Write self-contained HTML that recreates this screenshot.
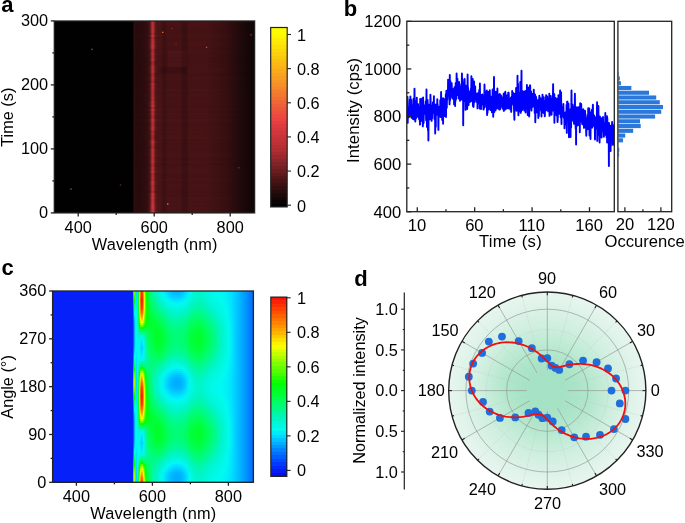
<!DOCTYPE html>
<html><head><meta charset="utf-8"><style>
html,body{margin:0;padding:0;background:#fff;}
body{width:685px;height:523px;position:relative;overflow:hidden;font-family:"Liberation Sans",sans-serif;}
.hm{position:absolute;}
.hm div{position:absolute;left:0;width:100%;}
.cb{position:absolute;}
svg{position:absolute;left:0;top:0;will-change:transform;}
svg text{font-family:"Liberation Sans",sans-serif;fill:#000;}
</style></head><body>
<div class="hm" style="left:54.3px;top:0;width:200.3px;height:0"><div style="top:21.00px;height:2.60px;background:linear-gradient(90deg,#020101 0.00%,#020101 0.85%,#020101 4.84%,#020101 8.84%,#020101 12.83%,#020101 16.82%,#020101 20.82%,#020101 24.81%,#020101 28.81%,#020101 32.80%,#020101 36.79%,#020101 39.49%,#320d0f 39.64%,#461315 39.84%,#2d0c0e 40.09%,#280b0d 40.79%,#290b0d 41.79%,#2a0b0d 42.79%,#2b0b0d 43.78%,#2d0c0e 44.78%,#300d0f 45.78%,#380f11 46.78%,#3b1012 47.03%,#501517 47.68%,#752022 48.18%,#ad2d32 48.63%,#c33237 49.15%,#ad2d32 49.68%,#752022 50.12%,#59181a 50.62%,#4d1517 51.27%,#491416 52.77%,#491315 53.27%,#3a0f11 54.52%,#3f1113 55.52%,#401113 55.77%,#461315 56.71%,#461315 56.76%,#461315 56.81%,#461315 58.76%,#461315 61.76%,#461315 62.76%,#3c1012 63.75%,#3b1012 64.75%,#3a0f11 65.75%,#3d1012 66.20%,#3e1113 66.30%,#461315 67.25%,#461315 67.75%,#461315 70.74%,#461315 73.74%,#461315 75.24%,#441214 76.73%,#3f1113 79.73%,#3f1113 80.23%,#3b1012 82.73%,#370f11 85.22%,#360e10 85.72%,#2d0c0e 88.72%,#240a0b 91.71%,#21090a 92.71%,#1b0809 94.71%,#170707 96.21%,#140606 97.70%,#0f0505 100.00%)"></div><div style="top:23.00px;height:2.60px;background:linear-gradient(90deg,#020101 0.00%,#020101 0.85%,#020101 4.84%,#020101 8.84%,#020101 12.83%,#020101 16.82%,#020101 20.82%,#020101 24.81%,#020101 28.81%,#020101 32.80%,#020101 36.79%,#020101 39.49%,#320d0f 39.64%,#471315 39.84%,#2d0c0e 40.09%,#280b0d 40.79%,#290b0d 41.79%,#2a0b0d 42.79%,#2b0b0d 43.78%,#2d0c0e 44.78%,#300d0f 45.78%,#380f11 46.78%,#3a0f11 47.03%,#4b1416 47.68%,#6e1e20 48.18%,#a22a2f 48.63%,#bc3035 49.15%,#a22a2f 49.68%,#6e1e20 50.12%,#541618 50.62%,#4b1416 51.27%,#4a1416 52.77%,#491315 53.27%,#3a0f11 54.52%,#3f1113 55.52%,#401113 55.77%,#461315 56.71%,#471315 56.76%,#471315 56.81%,#471315 58.76%,#471315 61.76%,#471315 62.76%,#3c1012 63.75%,#3b1012 64.75%,#3a0f11 65.75%,#3e1012 66.20%,#3f1113 66.30%,#471315 67.25%,#471315 67.75%,#471315 70.74%,#471315 73.74%,#471315 75.24%,#441214 76.73%,#401113 79.73%,#3f1113 80.23%,#3b1012 82.73%,#370f11 85.22%,#360e10 85.72%,#2d0c0e 88.72%,#240a0b 91.71%,#21090a 92.71%,#1b0809 94.71%,#170707 96.21%,#140606 97.70%,#0f0505 100.00%)"></div><div style="top:25.00px;height:2.60px;background:linear-gradient(90deg,#020101 0.00%,#020101 0.85%,#020101 4.84%,#020101 8.84%,#020101 12.83%,#020101 16.82%,#020101 20.82%,#020101 24.81%,#020101 28.81%,#020101 32.80%,#020101 36.79%,#020101 39.49%,#320d0f 39.64%,#461315 39.84%,#2d0c0e 40.09%,#280b0c 40.79%,#290b0d 41.79%,#290b0d 42.79%,#2a0b0d 43.78%,#2d0c0e 44.78%,#2f0d0f 45.78%,#370f11 46.78%,#3a0f11 47.03%,#4d1517 47.68%,#711f21 48.18%,#a72b30 48.63%,#bf3136 49.15%,#a72b30 49.68%,#711f21 50.12%,#561719 50.62%,#4c1416 51.27%,#491315 52.77%,#481315 53.27%,#390f11 54.52%,#3e1113 55.52%,#401113 55.77%,#451214 56.71%,#461315 56.76%,#461315 56.81%,#461315 58.76%,#461315 61.76%,#461315 62.76%,#3c1012 63.75%,#3a1012 64.75%,#390f11 65.75%,#3d1012 66.20%,#3e1012 66.30%,#461315 67.25%,#461315 67.75%,#461315 70.74%,#461315 73.74%,#461315 75.24%,#431214 76.73%,#3f1113 79.73%,#3e1113 80.23%,#3a1012 82.73%,#370f11 85.22%,#350e10 85.72%,#2d0c0e 88.72%,#230a0b 91.71%,#20090a 92.71%,#1b0808 94.71%,#160707 96.21%,#130606 97.70%,#0f0505 100.00%)"></div><div style="top:27.00px;height:2.60px;background:linear-gradient(90deg,#020101 0.00%,#020101 0.85%,#020101 4.84%,#020101 8.84%,#020101 12.83%,#020101 16.82%,#020101 20.82%,#020101 24.81%,#020101 28.81%,#020101 32.80%,#020101 36.79%,#020101 39.49%,#310d0f 39.64%,#441214 39.84%,#2c0c0e 40.09%,#270b0c 40.79%,#280b0c 41.79%,#290b0d 42.79%,#2a0b0d 43.78%,#2c0c0e 44.78%,#2e0c0e 45.78%,#360e10 46.78%,#390f11 47.03%,#4d1517 47.68%,#711f21 48.18%,#a62b30 48.63%,#bf3136 49.15%,#a62b30 49.68%,#711f21 50.12%,#561719 50.62%,#4b1416 51.27%,#471315 52.77%,#471315 53.27%,#380f11 54.52%,#3d1012 55.52%,#3f1113 55.77%,#441214 56.71%,#441214 56.76%,#441214 56.81%,#441214 58.76%,#441214 61.76%,#441214 62.76%,#3b1012 63.75%,#390f11 64.75%,#380f11 65.75%,#3c1012 66.20%,#3d1012 66.30%,#441214 67.25%,#441214 67.75%,#441214 70.74%,#441214 73.74%,#441214 75.24%,#421214 76.73%,#3e1012 79.73%,#3d1012 80.23%,#390f11 82.73%,#360e10 85.22%,#340e10 85.72%,#2c0c0e 88.72%,#230a0b 91.71%,#20090a 92.71%,#1a0808 94.71%,#160707 96.21%,#130606 97.70%,#0f0505 100.00%)"></div><div style="top:29.00px;height:2.60px;background:linear-gradient(90deg,#020101 0.00%,#020101 0.85%,#020101 4.84%,#020101 8.84%,#020101 12.83%,#020101 16.82%,#020101 20.82%,#020101 24.81%,#020101 28.81%,#020101 32.80%,#020101 36.79%,#020101 39.49%,#310d0f 39.64%,#451214 39.84%,#2c0c0e 40.09%,#280b0c 40.79%,#280b0d 41.79%,#290b0d 42.79%,#2a0b0d 43.78%,#2c0c0e 44.78%,#2f0d0f 45.78%,#370f11 46.78%,#3a0f11 47.03%,#4e1517 47.68%,#731f22 48.18%,#a92c31 48.63%,#c13136 49.15%,#a92c31 49.68%,#731f22 50.12%,#571719 50.62%,#4c1416 51.27%,#481315 52.77%,#481315 53.27%,#390f11 54.52%,#3e1012 55.52%,#3f1113 55.77%,#451214 56.71%,#451214 56.76%,#451214 56.81%,#451214 58.76%,#451214 61.76%,#451214 62.76%,#3b1012 63.75%,#3a0f11 64.75%,#390f11 65.75%,#3d1012 66.20%,#3d1012 66.30%,#451214 67.25%,#451214 67.75%,#451214 70.74%,#451214 73.74%,#451214 75.24%,#431214 76.73%,#3f1113 79.73%,#3e1012 80.23%,#3a0f11 82.73%,#360e10 85.22%,#350e10 85.72%,#2c0c0e 88.72%,#230a0b 91.71%,#20090a 92.71%,#1a0808 94.71%,#160707 96.21%,#130606 97.70%,#0f0505 100.00%)"></div><div style="top:30.99px;height:2.60px;background:linear-gradient(90deg,#020101 0.00%,#020101 0.85%,#020101 4.84%,#020101 8.84%,#020101 12.83%,#020101 16.82%,#020101 20.82%,#020101 24.81%,#020101 28.81%,#020101 32.80%,#020101 36.79%,#020101 39.49%,#310d0f 39.64%,#441214 39.84%,#2c0c0e 40.09%,#270b0c 40.79%,#280b0c 41.79%,#290b0d 42.79%,#290b0d 43.78%,#2c0c0e 44.78%,#2e0c0e 45.78%,#360e10 46.78%,#390f11 47.03%,#4d1517 47.68%,#721f21 48.18%,#a72b30 48.63%,#c03136 49.15%,#a72b30 49.68%,#721f21 50.12%,#561719 50.62%,#4b1416 51.27%,#471315 52.77%,#471315 53.27%,#380f11 54.52%,#3d1012 55.52%,#3e1113 55.77%,#441214 56.71%,#441214 56.76%,#441214 56.81%,#441214 58.76%,#441214 61.76%,#441214 62.76%,#3b1012 63.75%,#390f11 64.75%,#380f11 65.75%,#3c1012 66.20%,#3d1012 66.30%,#441214 67.25%,#441214 67.75%,#441214 70.74%,#441214 73.74%,#441214 75.24%,#421214 76.73%,#3e1012 79.73%,#3d1012 80.23%,#390f11 82.73%,#360e10 85.22%,#340e10 85.72%,#2c0c0e 88.72%,#230a0b 91.71%,#20090a 92.71%,#1a0808 94.71%,#160707 96.21%,#130606 97.70%,#0f0505 100.00%)"></div><div style="top:32.99px;height:2.60px;background:linear-gradient(90deg,#020101 0.00%,#020101 0.85%,#020101 4.84%,#020101 8.84%,#020101 12.83%,#020101 16.82%,#020101 20.82%,#020101 24.81%,#020101 28.81%,#020101 32.80%,#020101 36.79%,#020101 39.49%,#320d0f 39.64%,#461315 39.84%,#2d0c0e 40.09%,#280b0d 40.79%,#290b0d 41.79%,#2a0b0d 42.79%,#2b0b0d 43.78%,#2d0c0e 44.78%,#300d0f 45.78%,#380f11 46.78%,#390f11 47.03%,#491315 47.68%,#6b1d1f 48.18%,#9e2a2e 48.63%,#b93035 49.15%,#9e2a2e 49.68%,#6b1d1f 50.12%,#521618 50.62%,#4a1416 51.27%,#491416 52.77%,#491315 53.27%,#3a0f11 54.52%,#3f1113 55.52%,#401113 55.77%,#461315 56.71%,#461315 56.76%,#461315 56.81%,#461315 58.76%,#461315 61.76%,#461315 62.76%,#3c1012 63.75%,#3b1012 64.75%,#3a0f11 65.75%,#3d1012 66.20%,#3e1113 66.30%,#461315 67.25%,#461315 67.75%,#461315 70.74%,#461315 73.74%,#461315 75.24%,#441214 76.73%,#3f1113 79.73%,#3f1113 80.23%,#3b1012 82.73%,#370f11 85.22%,#360e10 85.72%,#2d0c0e 88.72%,#240a0b 91.71%,#21090a 92.71%,#1b0809 94.71%,#170707 96.21%,#140606 97.70%,#0f0505 100.00%)"></div><div style="top:34.99px;height:2.60px;background:linear-gradient(90deg,#020101 0.00%,#020101 0.85%,#020101 4.84%,#020101 8.84%,#020101 12.83%,#020101 16.82%,#020101 20.82%,#020101 24.81%,#020101 28.81%,#020101 32.80%,#020101 36.79%,#020101 39.49%,#340e10 39.64%,#481315 39.84%,#2f0c0e 40.09%,#290b0d 40.79%,#2a0b0d 41.79%,#2b0c0d 42.79%,#2c0c0e 43.78%,#2f0c0e 44.78%,#310d0f 45.78%,#390f11 46.78%,#3d1012 47.03%,#561719 47.68%,#7d2225 48.18%,#b52e33 48.63%,#cb3439 49.15%,#b52e33 49.68%,#7d2225 50.12%,#5f1a1c 50.62%,#511618 51.27%,#4c1416 52.77%,#4b1416 53.27%,#3b1012 54.52%,#411113 55.52%,#421214 55.77%,#481315 56.71%,#481315 56.76%,#481315 56.81%,#481315 58.76%,#481315 61.76%,#481315 62.76%,#3e1113 63.75%,#3d1012 64.75%,#3b1012 65.75%,#3f1113 66.20%,#401113 66.30%,#481315 67.25%,#481315 67.75%,#481315 70.74%,#481315 73.74%,#481315 75.24%,#461315 76.73%,#411113 79.73%,#411113 80.23%,#3d1012 82.73%,#390f11 85.22%,#370f11 85.72%,#2f0c0e 88.72%,#250a0c 91.71%,#22090b 92.71%,#1c0809 94.71%,#170707 96.21%,#140607 97.70%,#100505 100.00%)"></div><div style="top:36.99px;height:2.60px;background:linear-gradient(90deg,#020101 0.00%,#020101 0.85%,#020101 4.84%,#020101 8.84%,#020101 12.83%,#020101 16.82%,#020101 20.82%,#020101 24.81%,#020101 28.81%,#020101 32.80%,#020101 36.79%,#020101 39.49%,#310d0f 39.64%,#451214 39.84%,#2c0c0e 40.09%,#280b0c 40.79%,#280b0d 41.79%,#290b0d 42.79%,#2a0b0d 43.78%,#2c0c0e 44.78%,#2f0d0f 45.78%,#370f11 46.78%,#370f11 47.03%,#451214 47.68%,#631b1d 48.18%,#92272b 48.63%,#b22e33 49.15%,#92272b 49.68%,#631b1d 50.12%,#4c1416 50.62%,#481315 51.27%,#481315 52.77%,#481315 53.27%,#390f11 54.52%,#3e1012 55.52%,#3f1113 55.77%,#451214 56.71%,#451214 56.76%,#451214 56.81%,#451214 58.76%,#451214 61.76%,#451214 62.76%,#3b1012 63.75%,#3a0f11 64.75%,#390f11 65.75%,#3c1012 66.20%,#3d1012 66.30%,#451214 67.25%,#451214 67.75%,#451214 70.74%,#451214 73.74%,#451214 75.24%,#431214 76.73%,#3e1113 79.73%,#3e1012 80.23%,#3a0f11 82.73%,#360e10 85.22%,#350e10 85.72%,#2c0c0e 88.72%,#230a0b 91.71%,#20090a 92.71%,#1a0808 94.71%,#160707 96.21%,#130606 97.70%,#0f0505 100.00%)"></div><div style="top:38.99px;height:2.60px;background:linear-gradient(90deg,#020101 0.00%,#020101 0.85%,#020101 4.84%,#020101 8.84%,#020101 12.83%,#020101 16.82%,#020101 20.82%,#020101 24.81%,#020101 28.81%,#020101 32.80%,#020101 36.79%,#020101 39.49%,#310d0f 39.64%,#451214 39.84%,#2c0c0e 40.09%,#270b0c 40.79%,#280b0d 41.79%,#290b0d 42.79%,#2a0b0d 43.78%,#2c0c0e 44.78%,#2f0c0e 45.78%,#370f11 46.78%,#3a0f11 47.03%,#4e1517 47.68%,#721f21 48.18%,#a92c31 48.63%,#c13136 49.15%,#a92c31 49.68%,#721f21 50.12%,#571719 50.62%,#4c1416 51.27%,#481315 52.77%,#471315 53.27%,#390f11 54.52%,#3e1012 55.52%,#3f1113 55.77%,#451214 56.71%,#451214 56.76%,#451214 56.81%,#451214 58.76%,#451214 61.76%,#451214 62.76%,#3b1012 63.75%,#3a0f11 64.75%,#390f11 65.75%,#3c1012 66.20%,#3d1012 66.30%,#451214 67.25%,#451214 67.75%,#451214 70.74%,#451214 73.74%,#451214 75.24%,#431214 76.73%,#3e1113 79.73%,#3e1012 80.23%,#3a0f11 82.73%,#360e10 85.22%,#350e10 85.72%,#2c0c0e 88.72%,#230a0b 91.71%,#20090a 92.71%,#1a0808 94.71%,#160707 96.21%,#130606 97.70%,#0f0505 100.00%)"></div><div style="top:40.99px;height:2.60px;background:linear-gradient(90deg,#020101 0.00%,#020101 0.85%,#020101 4.84%,#020101 8.84%,#020101 12.83%,#020101 16.82%,#020101 20.82%,#020101 24.81%,#020101 28.81%,#020101 32.80%,#020101 36.79%,#020101 39.49%,#330d0f 39.64%,#471315 39.84%,#2e0c0e 40.09%,#280b0d 40.79%,#290b0d 41.79%,#2a0b0d 42.79%,#2b0c0d 43.78%,#2e0c0e 44.78%,#300d0f 45.78%,#380f11 46.78%,#3b1012 47.03%,#4f1517 47.68%,#731f22 48.18%,#aa2c31 48.63%,#c13237 49.15%,#aa2c31 49.68%,#731f22 50.12%,#57181a 50.62%,#4d1517 51.27%,#4a1416 52.77%,#491416 53.27%,#3a1012 54.52%,#3f1113 55.52%,#411113 55.77%,#471315 56.71%,#471315 56.76%,#471315 56.81%,#471315 58.76%,#471315 61.76%,#471315 62.76%,#3d1012 63.75%,#3b1012 64.75%,#3a1012 65.75%,#3e1113 66.20%,#3f1113 66.30%,#471315 67.25%,#471315 67.75%,#471315 70.74%,#471315 73.74%,#471315 75.24%,#451214 76.73%,#401113 79.73%,#3f1113 80.23%,#3b1012 82.73%,#380f11 85.22%,#360e10 85.72%,#2e0c0e 88.72%,#240a0b 91.71%,#21090a 92.71%,#1b0809 94.71%,#170707 96.21%,#140606 97.70%,#0f0505 100.00%)"></div><div style="top:42.99px;height:2.60px;background:linear-gradient(90deg,#020101 0.00%,#020101 0.85%,#020101 4.84%,#020101 8.84%,#020101 12.83%,#020101 16.82%,#020101 20.82%,#020101 24.81%,#020101 28.81%,#020101 32.80%,#020101 36.79%,#020101 39.49%,#320d0f 39.64%,#471315 39.84%,#2d0c0e 40.09%,#280b0d 40.79%,#290b0d 41.79%,#2a0b0d 42.79%,#2b0c0d 43.78%,#2d0c0e 44.78%,#300d0f 45.78%,#380f11 46.78%,#3b1012 47.03%,#501618 47.68%,#752022 48.18%,#ae2d32 48.63%,#c43237 49.15%,#ae2d32 49.68%,#752022 50.12%,#59181a 50.62%,#4e1517 51.27%,#4a1416 52.77%,#491416 53.27%,#3a0f11 54.52%,#3f1113 55.52%,#411113 55.77%,#461315 56.71%,#471315 56.76%,#471315 56.81%,#471315 58.76%,#471315 61.76%,#471315 62.76%,#3d1012 63.75%,#3b1012 64.75%,#3a0f11 65.75%,#3e1012 66.20%,#3f1113 66.30%,#471315 67.25%,#471315 67.75%,#471315 70.74%,#471315 73.74%,#471315 75.24%,#441214 76.73%,#401113 79.73%,#3f1113 80.23%,#3b1012 82.73%,#370f11 85.22%,#360e10 85.72%,#2d0c0e 88.72%,#240a0b 91.71%,#21090a 92.71%,#1b0809 94.71%,#170707 96.21%,#140606 97.70%,#0f0505 100.00%)"></div><div style="top:44.99px;height:2.60px;background:linear-gradient(90deg,#020101 0.00%,#020101 0.85%,#020101 4.84%,#020101 8.84%,#020101 12.83%,#020101 16.82%,#020101 20.82%,#020101 24.81%,#020101 28.81%,#020101 32.80%,#020101 36.79%,#020101 39.49%,#320d0f 39.64%,#461315 39.84%,#2d0c0e 40.09%,#280b0d 40.79%,#290b0d 41.79%,#2a0b0d 42.79%,#2b0b0d 43.78%,#2d0c0e 44.78%,#300d0f 45.78%,#380f11 46.78%,#3c1012 47.03%,#551719 47.68%,#7c2225 48.18%,#b32e33 48.63%,#c93439 49.15%,#b32e33 49.68%,#7c2225 50.12%,#5e191b 50.62%,#4f1517 51.27%,#491416 52.77%,#491315 53.27%,#3a0f11 54.52%,#3f1113 55.52%,#401113 55.77%,#461315 56.71%,#461315 56.76%,#461315 56.81%,#461315 58.76%,#461315 61.76%,#461315 62.76%,#3c1012 63.75%,#3b1012 64.75%,#3a0f11 65.75%,#3d1012 66.20%,#3e1113 66.30%,#461315 67.25%,#461315 67.75%,#461315 70.74%,#461315 73.74%,#461315 75.24%,#441214 76.73%,#3f1113 79.73%,#3f1113 80.23%,#3b1012 82.73%,#370f11 85.22%,#360e10 85.72%,#2d0c0e 88.72%,#240a0b 91.71%,#21090a 92.71%,#1b0809 94.71%,#170707 96.21%,#140606 97.70%,#0f0505 100.00%)"></div><div style="top:46.99px;height:2.60px;background:linear-gradient(90deg,#020101 0.00%,#020101 0.85%,#020101 4.84%,#020101 8.84%,#020101 12.83%,#020101 16.82%,#020101 20.82%,#020101 24.81%,#020101 28.81%,#020101 32.80%,#020101 36.79%,#020101 39.49%,#310d0f 39.64%,#441214 39.84%,#2c0c0e 40.09%,#270b0c 40.79%,#280b0c 41.79%,#290b0d 42.79%,#2a0b0d 43.78%,#2c0c0e 44.78%,#2e0c0e 45.78%,#360e10 46.78%,#3a0f11 47.03%,#501618 47.68%,#762023 48.18%,#ae2d32 48.63%,#c43237 49.15%,#ae2d32 49.68%,#762023 50.12%,#59181a 50.62%,#4c1416 51.27%,#471315 52.77%,#471315 53.27%,#380f11 54.52%,#3d1012 55.52%,#3f1113 55.77%,#441214 56.71%,#441214 56.76%,#441214 56.81%,#441214 58.76%,#441214 61.76%,#441214 62.76%,#3b1012 63.75%,#390f11 64.75%,#380f11 65.75%,#3c1012 66.20%,#3d1012 66.30%,#441214 67.25%,#441214 67.75%,#441214 70.74%,#441214 73.74%,#441214 75.24%,#421214 76.73%,#3e1012 79.73%,#3d1012 80.23%,#390f11 82.73%,#360e10 85.22%,#340e10 85.72%,#2c0c0e 88.72%,#230a0b 91.71%,#20090a 92.71%,#1a0808 94.71%,#160707 96.21%,#130606 97.70%,#0f0505 100.00%)"></div><div style="top:48.99px;height:2.60px;background:linear-gradient(90deg,#020101 0.00%,#020101 0.85%,#020101 4.84%,#020101 8.84%,#020101 12.83%,#020101 16.82%,#020101 20.82%,#020101 24.81%,#020101 28.81%,#020101 32.80%,#020101 36.79%,#020101 39.49%,#320d0f 39.64%,#461315 39.84%,#2d0c0e 40.09%,#280b0c 40.79%,#290b0d 41.79%,#2a0b0d 42.79%,#2a0b0d 43.78%,#2d0c0e 44.78%,#2f0d0f 45.78%,#370f11 46.78%,#380f11 47.03%,#461315 47.68%,#651b1d 48.18%,#96282c 48.63%,#b42e33 49.15%,#96282c 49.68%,#651b1d 50.12%,#4e1517 50.62%,#491315 51.27%,#491315 52.77%,#481315 53.27%,#390f11 54.52%,#3e1113 55.52%,#401113 55.77%,#461315 56.71%,#461315 56.76%,#461315 56.81%,#461315 58.76%,#461315 61.76%,#461315 62.76%,#3c1012 63.75%,#3b1012 64.75%,#390f11 65.75%,#3d1012 66.20%,#3e1113 66.30%,#461315 67.25%,#461315 67.75%,#461315 70.74%,#461315 73.74%,#461315 75.24%,#441214 76.73%,#3f1113 79.73%,#3e1113 80.23%,#3b1012 82.73%,#370f11 85.22%,#360e10 85.72%,#2d0c0e 88.72%,#240a0b 91.71%,#20090a 92.71%,#1b0809 94.71%,#160707 96.21%,#140606 97.70%,#0f0505 100.00%)"></div><div style="top:50.98px;height:2.60px;background:linear-gradient(90deg,#020101 0.00%,#020101 0.85%,#020101 4.84%,#020101 8.84%,#020101 12.83%,#020101 16.82%,#020101 20.82%,#020101 24.81%,#020101 28.81%,#020101 32.80%,#020101 36.79%,#020101 39.49%,#330e10 39.64%,#471315 39.84%,#2e0c0e 40.09%,#290b0d 40.79%,#2a0b0d 41.79%,#2a0b0d 42.79%,#2b0c0d 43.78%,#2e0c0e 44.78%,#300d0f 45.78%,#380f11 46.78%,#380f11 47.03%,#451214 47.68%,#631b1d 48.18%,#93272c 48.63%,#b22e33 49.15%,#93272c 49.68%,#631b1d 50.12%,#4d1416 50.62%,#491315 51.27%,#4a1416 52.77%,#4a1416 53.27%,#3a1012 54.52%,#401113 55.52%,#411113 55.77%,#471315 56.71%,#4e1517 56.76%,#4e1517 56.81%,#4e1517 58.76%,#4e1517 61.76%,#4e1517 62.76%,#431214 63.75%,#421214 64.75%,#411113 65.75%,#441214 66.20%,#3f1113 66.30%,#471315 67.25%,#471315 67.75%,#471315 70.74%,#471315 73.74%,#471315 75.24%,#451214 76.73%,#401113 79.73%,#401113 80.23%,#3c1012 82.73%,#380f11 85.22%,#370f11 85.72%,#2e0c0e 88.72%,#240a0b 91.71%,#21090a 92.71%,#1b0809 94.71%,#170707 96.21%,#140606 97.70%,#0f0505 100.00%)"></div><div style="top:52.98px;height:2.60px;background:linear-gradient(90deg,#020101 0.00%,#020101 0.85%,#020101 4.84%,#020101 8.84%,#020101 12.83%,#020101 16.82%,#020101 20.82%,#020101 24.81%,#020101 28.81%,#020101 32.80%,#020101 36.79%,#020101 39.49%,#300d0f 39.64%,#441214 39.84%,#2b0c0e 40.09%,#270b0c 40.79%,#270b0c 41.79%,#280b0d 42.79%,#290b0d 43.78%,#2b0c0e 44.78%,#2e0c0e 45.78%,#360e10 46.78%,#390f11 47.03%,#4c1416 47.68%,#701e21 48.18%,#a52b30 48.63%,#be3136 49.15%,#a52b30 49.68%,#701e21 50.12%,#551719 50.62%,#4a1416 51.27%,#471315 52.77%,#461315 53.27%,#380f11 54.52%,#3c1012 55.52%,#3e1012 55.77%,#431214 56.71%,#491416 56.76%,#491416 56.81%,#491416 58.76%,#491416 61.76%,#491416 62.76%,#401113 63.75%,#3f1113 64.75%,#3d1012 65.75%,#411113 66.20%,#3c1012 66.30%,#441214 67.25%,#441214 67.75%,#441214 70.74%,#441214 73.74%,#441214 75.24%,#411113 76.73%,#3d1012 79.73%,#3c1012 80.23%,#390f11 82.73%,#350e10 85.22%,#340e10 85.72%,#2b0c0e 88.72%,#220a0b 91.71%,#1f090a 92.71%,#1a0808 94.71%,#160707 96.21%,#130606 97.70%,#0e0505 100.00%)"></div><div style="top:54.98px;height:2.60px;background:linear-gradient(90deg,#020101 0.00%,#020101 0.85%,#020101 4.84%,#020101 8.84%,#020101 12.83%,#020101 16.82%,#020101 20.82%,#020101 24.81%,#020101 28.81%,#020101 32.80%,#020101 36.79%,#020101 39.49%,#310d0f 39.64%,#451214 39.84%,#2c0c0e 40.09%,#280b0c 40.79%,#280b0d 41.79%,#290b0d 42.79%,#2a0b0d 43.78%,#2c0c0e 44.78%,#2f0d0f 45.78%,#370f11 46.78%,#380f11 47.03%,#461315 47.68%,#651b1d 48.18%,#95282c 48.63%,#b42e33 49.15%,#95282c 49.68%,#651b1d 50.12%,#4d1517 50.62%,#481315 51.27%,#481315 52.77%,#481315 53.27%,#390f11 54.52%,#3e1012 55.52%,#3f1113 55.77%,#451214 56.71%,#4b1416 56.76%,#4b1416 56.81%,#4b1416 58.76%,#4b1416 61.76%,#4b1416 62.76%,#411113 63.75%,#401113 64.75%,#3f1113 65.75%,#421214 66.20%,#3d1012 66.30%,#451214 67.25%,#451214 67.75%,#451214 70.74%,#451214 73.74%,#451214 75.24%,#431214 76.73%,#3f1113 79.73%,#3e1012 80.23%,#3a0f11 82.73%,#360e10 85.22%,#350e10 85.72%,#2c0c0e 88.72%,#230a0b 91.71%,#20090a 92.71%,#1a0808 94.71%,#160707 96.21%,#130606 97.70%,#0f0505 100.00%)"></div><div style="top:56.98px;height:2.60px;background:linear-gradient(90deg,#020101 0.00%,#020101 0.85%,#020101 4.84%,#020101 8.84%,#020101 12.83%,#020101 16.82%,#020101 20.82%,#020101 24.81%,#020101 28.81%,#020101 32.80%,#020101 36.79%,#020101 39.49%,#300d0f 39.64%,#431214 39.84%,#2b0c0d 40.09%,#260a0c 40.79%,#270b0c 41.79%,#280b0c 42.79%,#280b0d 43.78%,#2b0c0d 44.78%,#2d0c0e 45.78%,#350e10 46.78%,#370f11 47.03%,#471315 47.68%,#681c1e 48.18%,#99292d 48.63%,#b72f34 49.15%,#99292d 49.68%,#681c1e 50.12%,#4f1517 50.62%,#471315 51.27%,#461315 52.77%,#451214 53.27%,#370f11 54.52%,#3c1012 55.52%,#3d1012 55.77%,#421214 56.71%,#481315 56.76%,#481315 56.81%,#481315 58.76%,#481315 61.76%,#481315 62.76%,#3f1113 63.75%,#3e1012 64.75%,#3c1012 65.75%,#401113 66.20%,#3b1012 66.30%,#431214 67.25%,#431214 67.75%,#431214 70.74%,#431214 73.74%,#431214 75.24%,#411113 76.73%,#3c1012 79.73%,#3c1012 80.23%,#380f11 82.73%,#340e10 85.22%,#330e10 85.72%,#2b0c0d 88.72%,#22090b 91.71%,#1f090a 92.71%,#1a0708 94.71%,#150707 96.21%,#130606 97.70%,#0e0505 100.00%)"></div><div style="top:58.98px;height:2.60px;background:linear-gradient(90deg,#020101 0.00%,#020101 0.85%,#020101 4.84%,#020101 8.84%,#020101 12.83%,#020101 16.82%,#020101 20.82%,#020101 24.81%,#020101 28.81%,#020101 32.80%,#020101 36.79%,#020101 39.49%,#300d0f 39.64%,#441214 39.84%,#2c0c0e 40.09%,#270b0c 40.79%,#280b0c 41.79%,#280b0d 42.79%,#290b0d 43.78%,#2c0c0e 44.78%,#2e0c0e 45.78%,#360e10 46.78%,#390f11 47.03%,#4c1416 47.68%,#701f21 48.18%,#a52b30 48.63%,#be3136 49.15%,#a52b30 49.68%,#701f21 50.12%,#551719 50.62%,#4a1416 51.27%,#471315 52.77%,#461315 53.27%,#380f11 54.52%,#3c1012 55.52%,#3e1113 55.77%,#431214 56.71%,#4a1416 56.76%,#4a1416 56.81%,#4a1416 58.76%,#4a1416 61.76%,#4a1416 62.76%,#401113 63.75%,#3f1113 64.75%,#3d1012 65.75%,#411113 66.20%,#3c1012 66.30%,#441214 67.25%,#441214 67.75%,#441214 70.74%,#441214 73.74%,#441214 75.24%,#421113 76.73%,#3d1012 79.73%,#3c1012 80.23%,#390f11 82.73%,#350e10 85.22%,#340e10 85.72%,#2c0c0e 88.72%,#220a0b 91.71%,#1f090a 92.71%,#1a0808 94.71%,#160707 96.21%,#130606 97.70%,#0f0505 100.00%)"></div><div style="top:60.98px;height:2.60px;background:linear-gradient(90deg,#020101 0.00%,#020101 0.85%,#020101 4.84%,#020101 8.84%,#020101 12.83%,#020101 16.82%,#020101 20.82%,#020101 24.81%,#020101 28.81%,#020101 32.80%,#020101 36.79%,#020101 39.49%,#300d0f 39.64%,#431214 39.84%,#2b0c0d 40.09%,#260a0c 40.79%,#270b0c 41.79%,#280b0c 42.79%,#290b0d 43.78%,#2b0c0d 44.78%,#2d0c0e 45.78%,#350e10 46.78%,#350e10 47.03%,#411113 47.68%,#5c191b 48.18%,#892529 48.63%,#a82c30 49.15%,#892529 49.68%,#5c191b 50.12%,#481315 50.62%,#451214 51.27%,#461315 52.77%,#451214 53.27%,#370f11 54.52%,#3c1012 55.52%,#3d1012 55.77%,#421214 56.71%,#491315 56.76%,#491315 56.81%,#491315 58.76%,#491315 61.76%,#491315 62.76%,#3f1113 63.75%,#3e1012 64.75%,#3d1012 65.75%,#401113 66.20%,#3b1012 66.30%,#431214 67.25%,#431214 67.75%,#431214 70.74%,#431214 73.74%,#431214 75.24%,#411113 76.73%,#3c1012 79.73%,#3c1012 80.23%,#380f11 82.73%,#340e10 85.22%,#330e10 85.72%,#2b0c0d 88.72%,#22090b 91.71%,#1f090a 92.71%,#1a0708 94.71%,#150707 96.21%,#130606 97.70%,#0e0505 100.00%)"></div><div style="top:62.98px;height:2.60px;background:linear-gradient(90deg,#020101 0.00%,#020101 0.85%,#020101 4.84%,#020101 8.84%,#020101 12.83%,#020101 16.82%,#020101 20.82%,#020101 24.81%,#020101 28.81%,#020101 32.80%,#020101 36.79%,#020101 39.49%,#320d0f 39.64%,#461315 39.84%,#2d0c0e 40.09%,#280b0c 40.79%,#290b0d 41.79%,#290b0d 42.79%,#2a0b0d 43.78%,#2d0c0e 44.78%,#2f0d0f 45.78%,#370f11 46.78%,#370f11 47.03%,#411113 47.68%,#5d191b 48.18%,#8a2629 48.63%,#aa2c31 49.15%,#8a2629 49.68%,#5d191b 50.12%,#491315 50.62%,#471315 51.27%,#491315 52.77%,#481315 53.27%,#390f11 54.52%,#3e1113 55.52%,#401113 55.77%,#451214 56.71%,#4c1416 56.76%,#4c1416 56.81%,#4c1416 58.76%,#4c1416 61.76%,#4c1416 62.76%,#421113 63.75%,#401113 64.75%,#3f1113 65.75%,#431214 66.20%,#3e1012 66.30%,#461315 67.25%,#461315 67.75%,#461315 70.74%,#461315 73.74%,#461315 75.24%,#431214 76.73%,#3f1113 79.73%,#3e1113 80.23%,#3a1012 82.73%,#370f11 85.22%,#350e10 85.72%,#2d0c0e 88.72%,#230a0b 91.71%,#20090a 92.71%,#1b0808 94.71%,#160707 96.21%,#130606 97.70%,#0f0505 100.00%)"></div><div style="top:64.98px;height:2.60px;background:linear-gradient(90deg,#020101 0.00%,#020101 0.85%,#020101 4.84%,#020101 8.84%,#020101 12.83%,#020101 16.82%,#020101 20.82%,#020101 24.81%,#020101 28.81%,#020101 32.80%,#020101 36.79%,#020101 39.49%,#300d0f 39.64%,#441214 39.84%,#2c0c0e 40.09%,#270b0c 40.79%,#280b0c 41.79%,#280b0d 42.79%,#290b0d 43.78%,#2c0c0e 44.78%,#2e0c0e 45.78%,#360e10 46.78%,#380f11 47.03%,#4a1416 47.68%,#6c1d1f 48.18%,#9f2a2e 48.63%,#ba3035 49.15%,#9f2a2e 49.68%,#6c1d1f 50.12%,#521618 50.62%,#491315 51.27%,#471315 52.77%,#461315 53.27%,#380f11 54.52%,#3d1012 55.52%,#3e1113 55.77%,#431214 56.71%,#4a1416 56.76%,#4a1416 56.81%,#4a1416 58.76%,#4a1416 61.76%,#4a1416 62.76%,#401113 63.75%,#3f1113 64.75%,#3d1012 65.75%,#411113 66.20%,#3c1012 66.30%,#441214 67.25%,#441214 67.75%,#441214 70.74%,#441214 73.74%,#441214 75.24%,#421113 76.73%,#3d1012 79.73%,#3d1012 80.23%,#390f11 82.73%,#350e10 85.22%,#340e10 85.72%,#2c0c0e 88.72%,#220a0b 91.71%,#1f090a 92.71%,#1a0808 94.71%,#160707 96.21%,#130606 97.70%,#0f0505 100.00%)"></div><div style="top:66.98px;height:2.60px;background:linear-gradient(90deg,#020101 0.00%,#020101 0.85%,#020101 4.84%,#020101 8.84%,#020101 12.83%,#020101 16.82%,#020101 20.82%,#020101 24.81%,#020101 28.81%,#020101 32.80%,#020101 36.79%,#020101 39.49%,#320d0f 39.64%,#461315 39.84%,#2d0c0e 40.09%,#280b0d 40.79%,#290b0d 41.79%,#2a0b0d 42.79%,#2b0b0d 43.78%,#2d0c0e 44.78%,#300d0f 45.78%,#380f11 46.78%,#3a0f11 47.03%,#4c1416 47.68%,#6f1e20 48.18%,#a42b2f 48.63%,#bd3136 49.15%,#a42b2f 49.68%,#6f1e20 50.12%,#551719 50.62%,#4c1416 51.27%,#401113 52.77%,#3f1113 53.27%,#300d0f 54.52%,#350e10 55.52%,#360e10 55.77%,#3c1012 56.71%,#3c1012 56.76%,#3c1012 56.81%,#3c1012 58.76%,#3c1012 61.76%,#3c1012 62.76%,#320d0f 63.75%,#310d0f 64.75%,#300d0f 65.75%,#340e10 66.20%,#3f1113 66.30%,#461315 67.25%,#461315 67.75%,#461315 70.74%,#461315 73.74%,#461315 75.24%,#441214 76.73%,#401113 79.73%,#3f1113 80.23%,#3b1012 82.73%,#370f11 85.22%,#360e10 85.72%,#2d0c0e 88.72%,#240a0b 91.71%,#21090a 92.71%,#1b0809 94.71%,#170707 96.21%,#140606 97.70%,#0f0505 100.00%)"></div><div style="top:68.97px;height:2.60px;background:linear-gradient(90deg,#020101 0.00%,#020101 0.85%,#020101 4.84%,#020101 8.84%,#020101 12.83%,#020101 16.82%,#020101 20.82%,#020101 24.81%,#020101 28.81%,#020101 32.80%,#020101 36.79%,#020101 39.49%,#320d0f 39.64%,#461315 39.84%,#2d0c0e 40.09%,#280b0d 40.79%,#290b0d 41.79%,#2a0b0d 42.79%,#2b0b0d 43.78%,#2d0c0e 44.78%,#300d0f 45.78%,#380f11 46.78%,#390f11 47.03%,#4a1416 47.68%,#6d1e20 48.18%,#a02a2f 48.63%,#bb3035 49.15%,#a02a2f 49.68%,#6d1e20 50.12%,#531618 50.62%,#4b1416 51.27%,#3f1113 52.77%,#3f1113 53.27%,#300d0f 54.52%,#350e10 55.52%,#360e10 55.77%,#3c1012 56.71%,#3c1012 56.76%,#3c1012 56.81%,#3c1012 58.76%,#3c1012 61.76%,#3c1012 62.76%,#320d0f 63.75%,#310d0f 64.75%,#300d0f 65.75%,#330e10 66.20%,#3e1113 66.30%,#461315 67.25%,#461315 67.75%,#461315 70.74%,#461315 73.74%,#461315 75.24%,#441214 76.73%,#3f1113 79.73%,#3f1113 80.23%,#3b1012 82.73%,#370f11 85.22%,#360e10 85.72%,#2d0c0e 88.72%,#240a0b 91.71%,#21090a 92.71%,#1b0809 94.71%,#170707 96.21%,#140606 97.70%,#0f0505 100.00%)"></div><div style="top:70.97px;height:2.60px;background:linear-gradient(90deg,#020101 0.00%,#020101 0.85%,#020101 4.84%,#020101 8.84%,#020101 12.83%,#020101 16.82%,#020101 20.82%,#020101 24.81%,#020101 28.81%,#020101 32.80%,#020101 36.79%,#020101 39.49%,#320d0f 39.64%,#461315 39.84%,#2d0c0e 40.09%,#280b0c 40.79%,#290b0d 41.79%,#290b0d 42.79%,#2a0b0d 43.78%,#2d0c0e 44.78%,#2f0d0f 45.78%,#370f11 46.78%,#390f11 47.03%,#4b1416 47.68%,#6e1e20 48.18%,#a22a2f 48.63%,#bc3035 49.15%,#a22a2f 49.68%,#6e1e20 50.12%,#531618 50.62%,#4b1416 51.27%,#3f1113 52.77%,#3e1113 53.27%,#2f0d0f 54.52%,#340e10 55.52%,#360e10 55.77%,#3b1012 56.71%,#3c1012 56.76%,#3c1012 56.81%,#3c1012 58.76%,#3c1012 61.76%,#3c1012 62.76%,#320d0f 63.75%,#310d0f 64.75%,#2f0d0f 65.75%,#330e10 66.20%,#3e1012 66.30%,#461315 67.25%,#461315 67.75%,#461315 70.74%,#461315 73.74%,#461315 75.24%,#431214 76.73%,#3f1113 79.73%,#3e1113 80.23%,#3a1012 82.73%,#370f11 85.22%,#350e10 85.72%,#2d0c0e 88.72%,#230a0b 91.71%,#20090a 92.71%,#1b0808 94.71%,#160707 96.21%,#130606 97.70%,#0f0505 100.00%)"></div><div style="top:72.97px;height:2.60px;background:linear-gradient(90deg,#020101 0.00%,#020101 0.85%,#020101 4.84%,#020101 8.84%,#020101 12.83%,#020101 16.82%,#020101 20.82%,#020101 24.81%,#020101 28.81%,#020101 32.80%,#020101 36.79%,#020101 39.49%,#2f0c0e 39.64%,#421113 39.84%,#2a0b0d 40.09%,#250a0c 40.79%,#260a0c 41.79%,#270b0c 42.79%,#280b0c 43.78%,#2a0b0d 44.78%,#2d0c0e 45.78%,#340e10 46.78%,#350e10 47.03%,#431214 47.68%,#601a1c 48.18%,#8d262a 48.63%,#af2d32 49.15%,#8d262a 49.68%,#601a1c 50.12%,#4a1416 50.62%,#451214 51.27%,#451214 52.77%,#441214 53.27%,#360e10 54.52%,#3b1012 55.52%,#3c1012 55.77%,#411113 56.71%,#421113 56.76%,#421113 56.81%,#421113 58.76%,#421113 61.76%,#421113 62.76%,#380f11 63.75%,#370f11 64.75%,#360e10 65.75%,#390f11 66.20%,#3a1012 66.30%,#421113 67.25%,#421113 67.75%,#421113 70.74%,#421113 73.74%,#421113 75.24%,#3f1113 76.73%,#3b1012 79.73%,#3b1012 80.23%,#370f11 82.73%,#340e10 85.22%,#320d0f 85.72%,#2a0b0d 88.72%,#21090b 91.71%,#1e090a 92.71%,#190708 94.71%,#150607 96.21%,#120606 97.70%,#0e0505 100.00%)"></div><div style="top:74.97px;height:2.60px;background:linear-gradient(90deg,#020101 0.00%,#020101 0.85%,#020101 4.84%,#020101 8.84%,#020101 12.83%,#020101 16.82%,#020101 20.82%,#020101 24.81%,#020101 28.81%,#020101 32.80%,#020101 36.79%,#020101 39.49%,#310d0f 39.64%,#451214 39.84%,#2c0c0e 40.09%,#270b0c 40.79%,#280b0d 41.79%,#290b0d 42.79%,#2a0b0d 43.78%,#2c0c0e 44.78%,#2f0c0e 45.78%,#370f11 46.78%,#370f11 47.03%,#431214 47.68%,#611a1c 48.18%,#8f272b 48.63%,#b02d32 49.15%,#8f272b 49.68%,#611a1c 50.12%,#4b1416 50.62%,#471315 51.27%,#481315 52.77%,#481315 53.27%,#390f11 54.52%,#3e1012 55.52%,#3f1113 55.77%,#451214 56.71%,#451214 56.76%,#451214 56.81%,#451214 58.76%,#451214 61.76%,#451214 62.76%,#3b1012 63.75%,#3a0f11 64.75%,#390f11 65.75%,#3c1012 66.20%,#3d1012 66.30%,#451214 67.25%,#451214 67.75%,#451214 70.74%,#451214 73.74%,#451214 75.24%,#431214 76.73%,#3e1113 79.73%,#3e1012 80.23%,#3a0f11 82.73%,#360e10 85.22%,#350e10 85.72%,#2c0c0e 88.72%,#230a0b 91.71%,#20090a 92.71%,#1a0808 94.71%,#160707 96.21%,#130606 97.70%,#0f0505 100.00%)"></div><div style="top:76.97px;height:2.60px;background:linear-gradient(90deg,#020101 0.00%,#020101 0.85%,#020101 4.84%,#020101 8.84%,#020101 12.83%,#020101 16.82%,#020101 20.82%,#020101 24.81%,#020101 28.81%,#020101 32.80%,#020101 36.79%,#020101 39.49%,#320d0f 39.64%,#461315 39.84%,#2d0c0e 40.09%,#280b0c 40.79%,#290b0d 41.79%,#2a0b0d 42.79%,#2a0b0d 43.78%,#2d0c0e 44.78%,#2f0d0f 45.78%,#370f11 46.78%,#390f11 47.03%,#4a1416 47.68%,#6d1e20 48.18%,#a02a2f 48.63%,#bb3035 49.15%,#a02a2f 49.68%,#6d1e20 50.12%,#531618 50.62%,#4b1416 51.27%,#491315 52.77%,#481315 53.27%,#390f11 54.52%,#3e1113 55.52%,#401113 55.77%,#461315 56.71%,#461315 56.76%,#461315 56.81%,#461315 58.76%,#461315 61.76%,#461315 62.76%,#3c1012 63.75%,#3b1012 64.75%,#390f11 65.75%,#3d1012 66.20%,#3e1113 66.30%,#461315 67.25%,#461315 67.75%,#461315 70.74%,#461315 73.74%,#461315 75.24%,#441214 76.73%,#3f1113 79.73%,#3e1113 80.23%,#3b1012 82.73%,#370f11 85.22%,#360e10 85.72%,#2d0c0e 88.72%,#240a0b 91.71%,#20090a 92.71%,#1b0809 94.71%,#160707 96.21%,#140606 97.70%,#0f0505 100.00%)"></div><div style="top:78.97px;height:2.60px;background:linear-gradient(90deg,#020101 0.00%,#020101 0.85%,#020101 4.84%,#020101 8.84%,#020101 12.83%,#020101 16.82%,#020101 20.82%,#020101 24.81%,#020101 28.81%,#020101 32.80%,#020101 36.79%,#020101 39.49%,#320d0f 39.64%,#461315 39.84%,#2d0c0e 40.09%,#280b0d 40.79%,#290b0d 41.79%,#2a0b0d 42.79%,#2b0b0d 43.78%,#2d0c0e 44.78%,#300d0f 45.78%,#380f11 46.78%,#380f11 47.03%,#471315 47.68%,#671c1e 48.18%,#98282d 48.63%,#b62f34 49.15%,#98282d 49.68%,#671c1e 50.12%,#4f1517 50.62%,#491416 51.27%,#491416 52.77%,#491315 53.27%,#3a0f11 54.52%,#3f1113 55.52%,#401113 55.77%,#461315 56.71%,#461315 56.76%,#461315 56.81%,#461315 58.76%,#461315 61.76%,#461315 62.76%,#3c1012 63.75%,#3b1012 64.75%,#3a0f11 65.75%,#3d1012 66.20%,#3e1113 66.30%,#461315 67.25%,#461315 67.75%,#461315 70.74%,#461315 73.74%,#461315 75.24%,#441214 76.73%,#3f1113 79.73%,#3f1113 80.23%,#3b1012 82.73%,#370f11 85.22%,#360e10 85.72%,#2d0c0e 88.72%,#240a0b 91.71%,#21090a 92.71%,#1b0809 94.71%,#170707 96.21%,#140606 97.70%,#0f0505 100.00%)"></div><div style="top:80.97px;height:2.60px;background:linear-gradient(90deg,#020101 0.00%,#020101 0.85%,#020101 4.84%,#020101 8.84%,#020101 12.83%,#020101 16.82%,#020101 20.82%,#020101 24.81%,#020101 28.81%,#020101 32.80%,#020101 36.79%,#020101 39.49%,#300d0f 39.64%,#431214 39.84%,#2b0c0d 40.09%,#260a0c 40.79%,#270b0c 41.79%,#280b0d 42.79%,#290b0d 43.78%,#2b0c0d 44.78%,#2e0c0e 45.78%,#350e10 46.78%,#350e10 47.03%,#411113 47.68%,#5d191b 48.18%,#8a2529 48.63%,#aa2c31 49.15%,#8a2529 49.68%,#5d191b 50.12%,#481315 50.62%,#451214 51.27%,#461315 52.77%,#461315 53.27%,#370f11 54.52%,#3c1012 55.52%,#3e1012 55.77%,#431214 56.71%,#431214 56.76%,#431214 56.81%,#431214 58.76%,#431214 61.76%,#431214 62.76%,#3a0f11 63.75%,#390f11 64.75%,#370f11 65.75%,#3b1012 66.20%,#3c1012 66.30%,#431214 67.25%,#431214 67.75%,#431214 70.74%,#431214 73.74%,#431214 75.24%,#411113 76.73%,#3d1012 79.73%,#3c1012 80.23%,#390f11 82.73%,#350e10 85.22%,#340e10 85.72%,#2b0c0d 88.72%,#22090b 91.71%,#1f090a 92.71%,#1a0808 94.71%,#160707 96.21%,#130606 97.70%,#0e0505 100.00%)"></div><div style="top:82.97px;height:2.60px;background:linear-gradient(90deg,#020101 0.00%,#020101 0.85%,#020101 4.84%,#020101 8.84%,#020101 12.83%,#020101 16.82%,#020101 20.82%,#020101 24.81%,#020101 28.81%,#020101 32.80%,#020101 36.79%,#020101 39.49%,#310d0f 39.64%,#451214 39.84%,#2c0c0e 40.09%,#280b0c 40.79%,#280b0d 41.79%,#290b0d 42.79%,#2a0b0d 43.78%,#2c0c0e 44.78%,#2f0d0f 45.78%,#370f11 46.78%,#390f11 47.03%,#4d1416 47.68%,#701f21 48.18%,#a52b30 48.63%,#bf3136 49.15%,#a52b30 49.68%,#701f21 50.12%,#551719 50.62%,#4b1416 51.27%,#481315 52.77%,#481315 53.27%,#390f11 54.52%,#3e1012 55.52%,#3f1113 55.77%,#451214 56.71%,#451214 56.76%,#451214 56.81%,#451214 58.76%,#451214 61.76%,#451214 62.76%,#3b1012 63.75%,#3a0f11 64.75%,#390f11 65.75%,#3d1012 66.20%,#3d1012 66.30%,#451214 67.25%,#451214 67.75%,#451214 70.74%,#451214 73.74%,#451214 75.24%,#431214 76.73%,#3e1113 79.73%,#3e1012 80.23%,#3a0f11 82.73%,#360e10 85.22%,#350e10 85.72%,#2c0c0e 88.72%,#230a0b 91.71%,#20090a 92.71%,#1a0808 94.71%,#160707 96.21%,#130606 97.70%,#0f0505 100.00%)"></div><div style="top:84.97px;height:2.60px;background:linear-gradient(90deg,#020101 0.00%,#020101 0.85%,#020101 4.84%,#020101 8.84%,#020101 12.83%,#020101 16.82%,#020101 20.82%,#020101 24.81%,#020101 28.81%,#020101 32.80%,#020101 36.79%,#020101 39.49%,#310d0f 39.64%,#441214 39.84%,#2c0c0e 40.09%,#270b0c 40.79%,#280b0c 41.79%,#290b0d 42.79%,#290b0d 43.78%,#2c0c0e 44.78%,#2e0c0e 45.78%,#360e10 46.78%,#380f11 47.03%,#491315 47.68%,#6b1d1f 48.18%,#9d292e 48.63%,#b92f34 49.15%,#9d292e 49.68%,#6b1d1f 50.12%,#511618 50.62%,#491315 51.27%,#471315 52.77%,#471315 53.27%,#380f11 54.52%,#3d1012 55.52%,#3e1113 55.77%,#441214 56.71%,#441214 56.76%,#441214 56.81%,#441214 58.76%,#441214 61.76%,#441214 62.76%,#3b1012 63.75%,#390f11 64.75%,#380f11 65.75%,#3c1012 66.20%,#3d1012 66.30%,#441214 67.25%,#441214 67.75%,#441214 70.74%,#441214 73.74%,#441214 75.24%,#421214 76.73%,#3e1012 79.73%,#3d1012 80.23%,#390f11 82.73%,#360e10 85.22%,#340e10 85.72%,#2c0c0e 88.72%,#230a0b 91.71%,#20090a 92.71%,#1a0808 94.71%,#160707 96.21%,#130606 97.70%,#0f0505 100.00%)"></div><div style="top:86.97px;height:2.60px;background:linear-gradient(90deg,#020101 0.00%,#020101 0.85%,#020101 4.84%,#020101 8.84%,#020101 12.83%,#020101 16.82%,#020101 20.82%,#020101 24.81%,#020101 28.81%,#020101 32.80%,#020101 36.79%,#020101 39.49%,#310d0f 39.64%,#451214 39.84%,#2c0c0e 40.09%,#270b0c 40.79%,#280b0d 41.79%,#290b0d 42.79%,#2a0b0d 43.78%,#2c0c0e 44.78%,#2f0c0e 45.78%,#360f11 46.78%,#390f11 47.03%,#4b1416 47.68%,#6f1e20 48.18%,#a32b2f 48.63%,#bd3035 49.15%,#a32b2f 49.68%,#6f1e20 50.12%,#541719 50.62%,#4a1416 51.27%,#481315 52.77%,#471315 53.27%,#380f11 54.52%,#3d1012 55.52%,#3f1113 55.77%,#441214 56.71%,#451214 56.76%,#451214 56.81%,#451214 58.76%,#451214 61.76%,#451214 62.76%,#3b1012 63.75%,#3a0f11 64.75%,#380f11 65.75%,#3c1012 66.20%,#3d1012 66.30%,#451214 67.25%,#451214 67.75%,#451214 70.74%,#451214 73.74%,#451214 75.24%,#421214 76.73%,#3e1113 79.73%,#3d1012 80.23%,#3a0f11 82.73%,#360e10 85.22%,#340e10 85.72%,#2c0c0e 88.72%,#230a0b 91.71%,#20090a 92.71%,#1a0808 94.71%,#160707 96.21%,#130606 97.70%,#0f0505 100.00%)"></div><div style="top:88.96px;height:2.60px;background:linear-gradient(90deg,#020101 0.00%,#020101 0.85%,#020101 4.84%,#020101 8.84%,#020101 12.83%,#020101 16.82%,#020101 20.82%,#020101 24.81%,#020101 28.81%,#020101 32.80%,#020101 36.79%,#020101 39.49%,#330e10 39.64%,#481315 39.84%,#2e0c0e 40.09%,#290b0d 40.79%,#2a0b0d 41.79%,#2b0b0d 42.79%,#2c0c0e 43.78%,#2e0c0e 44.78%,#310d0f 45.78%,#390f11 46.78%,#3a0f11 47.03%,#491315 47.68%,#691d1f 48.18%,#9c292e 48.63%,#b82f34 49.15%,#9c292e 49.68%,#691d1f 50.12%,#511618 50.62%,#4b1416 51.27%,#4b1416 52.77%,#4a1416 53.27%,#3b1012 54.52%,#401113 55.52%,#421214 55.77%,#481315 56.71%,#481315 56.76%,#481315 56.81%,#481315 58.76%,#481315 61.76%,#481315 62.76%,#3e1012 63.75%,#3c1012 64.75%,#3b1012 65.75%,#3f1113 66.20%,#401113 66.30%,#481315 67.25%,#481315 67.75%,#481315 70.74%,#481315 73.74%,#481315 75.24%,#461315 76.73%,#411113 79.73%,#401113 80.23%,#3c1012 82.73%,#380f11 85.22%,#370f11 85.72%,#2e0c0e 88.72%,#250a0b 91.71%,#21090b 92.71%,#1b0809 94.71%,#170707 96.21%,#140607 97.70%,#0f0505 100.00%)"></div><div style="top:90.96px;height:2.60px;background:linear-gradient(90deg,#020101 0.00%,#020101 0.85%,#020101 4.84%,#020101 8.84%,#020101 12.83%,#020101 16.82%,#020101 20.82%,#020101 24.81%,#020101 28.81%,#020101 32.80%,#020101 36.79%,#020101 39.49%,#310d0f 39.64%,#451214 39.84%,#2c0c0e 40.09%,#270b0c 40.79%,#280b0d 41.79%,#290b0d 42.79%,#2a0b0d 43.78%,#2c0c0e 44.78%,#2f0c0e 45.78%,#360f11 46.78%,#380f11 47.03%,#471315 47.68%,#671c1e 48.18%,#97282d 48.63%,#b52f34 49.15%,#97282d 49.68%,#671c1e 50.12%,#4e1517 50.62%,#481315 51.27%,#481315 52.77%,#471315 53.27%,#380f11 54.52%,#3d1012 55.52%,#3f1113 55.77%,#441214 56.71%,#451214 56.76%,#451214 56.81%,#451214 58.76%,#451214 61.76%,#451214 62.76%,#3b1012 63.75%,#3a0f11 64.75%,#380f11 65.75%,#3c1012 66.20%,#3d1012 66.30%,#451214 67.25%,#451214 67.75%,#451214 70.74%,#451214 73.74%,#451214 75.24%,#421214 76.73%,#3e1113 79.73%,#3d1012 80.23%,#3a0f11 82.73%,#360e10 85.22%,#340e10 85.72%,#2c0c0e 88.72%,#230a0b 91.71%,#20090a 92.71%,#1a0808 94.71%,#160707 96.21%,#130606 97.70%,#0f0505 100.00%)"></div><div style="top:92.96px;height:2.60px;background:linear-gradient(90deg,#020101 0.00%,#020101 0.85%,#020101 4.84%,#020101 8.84%,#020101 12.83%,#020101 16.82%,#020101 20.82%,#020101 24.81%,#020101 28.81%,#020101 32.80%,#020101 36.79%,#020101 39.49%,#320d0f 39.64%,#461315 39.84%,#2d0c0e 40.09%,#280b0c 40.79%,#290b0d 41.79%,#2a0b0d 42.79%,#2a0b0d 43.78%,#2d0c0e 44.78%,#2f0d0f 45.78%,#370f11 46.78%,#380f11 47.03%,#471315 47.68%,#661c1e 48.18%,#97282d 48.63%,#b52e33 49.15%,#97282d 49.68%,#661c1e 50.12%,#4f1517 50.62%,#491315 51.27%,#491315 52.77%,#481315 53.27%,#390f11 54.52%,#3e1113 55.52%,#401113 55.77%,#461315 56.71%,#461315 56.76%,#461315 56.81%,#461315 58.76%,#461315 61.76%,#461315 62.76%,#3c1012 63.75%,#3b1012 64.75%,#390f11 65.75%,#3d1012 66.20%,#3e1113 66.30%,#461315 67.25%,#461315 67.75%,#461315 70.74%,#461315 73.74%,#461315 75.24%,#441214 76.73%,#3f1113 79.73%,#3e1113 80.23%,#3b1012 82.73%,#370f11 85.22%,#360e10 85.72%,#2d0c0e 88.72%,#240a0b 91.71%,#20090a 92.71%,#1b0809 94.71%,#160707 96.21%,#140606 97.70%,#0f0505 100.00%)"></div><div style="top:94.96px;height:2.60px;background:linear-gradient(90deg,#020101 0.00%,#020101 0.85%,#020101 4.84%,#020101 8.84%,#020101 12.83%,#020101 16.82%,#020101 20.82%,#020101 24.81%,#020101 28.81%,#020101 32.80%,#020101 36.79%,#020101 39.49%,#330e10 39.64%,#481315 39.84%,#2e0c0e 40.09%,#290b0d 40.79%,#2a0b0d 41.79%,#2b0b0d 42.79%,#2b0c0e 43.78%,#2e0c0e 44.78%,#310d0f 45.78%,#390f11 46.78%,#3a0f11 47.03%,#491315 47.68%,#6a1d1f 48.18%,#9d292e 48.63%,#b82f34 49.15%,#9d292e 49.68%,#6a1d1f 50.12%,#511618 50.62%,#4b1416 51.27%,#4b1416 52.77%,#4a1416 53.27%,#3b1012 54.52%,#401113 55.52%,#411113 55.77%,#471315 56.71%,#481315 56.76%,#481315 56.81%,#481315 58.76%,#481315 61.76%,#481315 62.76%,#3d1012 63.75%,#3c1012 64.75%,#3b1012 65.75%,#3f1113 66.20%,#3f1113 66.30%,#481315 67.25%,#481315 67.75%,#481315 70.74%,#481315 73.74%,#481315 75.24%,#451214 76.73%,#411113 79.73%,#401113 80.23%,#3c1012 82.73%,#380f11 85.22%,#370f11 85.72%,#2e0c0e 88.72%,#240a0b 91.71%,#21090a 92.71%,#1b0809 94.71%,#170707 96.21%,#140606 97.70%,#0f0505 100.00%)"></div><div style="top:96.96px;height:2.60px;background:linear-gradient(90deg,#020101 0.00%,#020101 0.85%,#020101 4.84%,#020101 8.84%,#020101 12.83%,#020101 16.82%,#020101 20.82%,#020101 24.81%,#020101 28.81%,#020101 32.80%,#020101 36.79%,#020101 39.49%,#310d0f 39.64%,#451214 39.84%,#2c0c0e 40.09%,#270b0c 40.79%,#280b0d 41.79%,#290b0d 42.79%,#2a0b0d 43.78%,#2c0c0e 44.78%,#2f0c0e 45.78%,#370f11 46.78%,#390f11 47.03%,#4b1416 47.68%,#6e1e20 48.18%,#a22a2f 48.63%,#bc3035 49.15%,#a22a2f 49.68%,#6e1e20 50.12%,#531618 50.62%,#4a1416 51.27%,#481315 52.77%,#471315 53.27%,#390f11 54.52%,#3e1012 55.52%,#3f1113 55.77%,#451214 56.71%,#451214 56.76%,#451214 56.81%,#451214 58.76%,#451214 61.76%,#451214 62.76%,#3b1012 63.75%,#3a0f11 64.75%,#390f11 65.75%,#3c1012 66.20%,#3d1012 66.30%,#451214 67.25%,#451214 67.75%,#451214 70.74%,#451214 73.74%,#451214 75.24%,#431214 76.73%,#3e1113 79.73%,#3e1012 80.23%,#3a0f11 82.73%,#360e10 85.22%,#350e10 85.72%,#2c0c0e 88.72%,#230a0b 91.71%,#20090a 92.71%,#1a0808 94.71%,#160707 96.21%,#130606 97.70%,#0f0505 100.00%)"></div><div style="top:98.96px;height:2.60px;background:linear-gradient(90deg,#020101 0.00%,#020101 0.85%,#020101 4.84%,#020101 8.84%,#020101 12.83%,#020101 16.82%,#020101 20.82%,#020101 24.81%,#020101 28.81%,#020101 32.80%,#020101 36.79%,#020101 39.49%,#320d0f 39.64%,#461315 39.84%,#2d0c0e 40.09%,#280b0c 40.79%,#290b0d 41.79%,#2a0b0d 42.79%,#2a0b0d 43.78%,#2d0c0e 44.78%,#2f0d0f 45.78%,#370f11 46.78%,#380f11 47.03%,#471315 47.68%,#681c1e 48.18%,#99292d 48.63%,#b62f34 49.15%,#99292d 49.68%,#681c1e 50.12%,#4f1517 50.62%,#491416 51.27%,#491315 52.77%,#481315 53.27%,#390f11 54.52%,#3e1113 55.52%,#401113 55.77%,#461315 56.71%,#461315 56.76%,#461315 56.81%,#461315 58.76%,#461315 61.76%,#461315 62.76%,#3c1012 63.75%,#3b1012 64.75%,#390f11 65.75%,#3d1012 66.20%,#3e1113 66.30%,#461315 67.25%,#461315 67.75%,#461315 70.74%,#461315 73.74%,#461315 75.24%,#441214 76.73%,#3f1113 79.73%,#3e1113 80.23%,#3b1012 82.73%,#370f11 85.22%,#350e10 85.72%,#2d0c0e 88.72%,#240a0b 91.71%,#20090a 92.71%,#1b0809 94.71%,#160707 96.21%,#130606 97.70%,#0f0505 100.00%)"></div><div style="top:100.96px;height:2.60px;background:linear-gradient(90deg,#020101 0.00%,#020101 0.85%,#020101 4.84%,#020101 8.84%,#020101 12.83%,#020101 16.82%,#020101 20.82%,#020101 24.81%,#020101 28.81%,#020101 32.80%,#020101 36.79%,#020101 39.49%,#320d0f 39.64%,#461315 39.84%,#2d0c0e 40.09%,#280b0d 40.79%,#290b0d 41.79%,#2a0b0d 42.79%,#2b0b0d 43.78%,#2d0c0e 44.78%,#300d0f 45.78%,#380f11 46.78%,#3a0f11 47.03%,#4d1517 47.68%,#711f21 48.18%,#a72b30 48.63%,#bf3136 49.15%,#a72b30 49.68%,#711f21 50.12%,#561719 50.62%,#4c1416 51.27%,#491416 52.77%,#491315 53.27%,#3a0f11 54.52%,#3f1113 55.52%,#401113 55.77%,#461315 56.71%,#461315 56.76%,#461315 56.81%,#461315 58.76%,#461315 61.76%,#461315 62.76%,#3c1012 63.75%,#3b1012 64.75%,#3a0f11 65.75%,#3d1012 66.20%,#3e1113 66.30%,#461315 67.25%,#461315 67.75%,#461315 70.74%,#461315 73.74%,#461315 75.24%,#441214 76.73%,#3f1113 79.73%,#3f1113 80.23%,#3b1012 82.73%,#370f11 85.22%,#360e10 85.72%,#2d0c0e 88.72%,#240a0b 91.71%,#21090a 92.71%,#1b0809 94.71%,#170707 96.21%,#140606 97.70%,#0f0505 100.00%)"></div><div style="top:102.96px;height:2.60px;background:linear-gradient(90deg,#020101 0.00%,#020101 0.85%,#020101 4.84%,#020101 8.84%,#020101 12.83%,#020101 16.82%,#020101 20.82%,#020101 24.81%,#020101 28.81%,#020101 32.80%,#020101 36.79%,#020101 39.49%,#320d0f 39.64%,#461315 39.84%,#2d0c0e 40.09%,#280b0d 40.79%,#290b0d 41.79%,#2a0b0d 42.79%,#2b0b0d 43.78%,#2d0c0e 44.78%,#300d0f 45.78%,#380f11 46.78%,#3a0f11 47.03%,#4d1517 47.68%,#711f21 48.18%,#a62b30 48.63%,#bf3136 49.15%,#a62b30 49.68%,#711f21 50.12%,#561719 50.62%,#4c1416 51.27%,#491416 52.77%,#491315 53.27%,#3a0f11 54.52%,#3f1113 55.52%,#401113 55.77%,#461315 56.71%,#461315 56.76%,#461315 56.81%,#461315 58.76%,#461315 61.76%,#461315 62.76%,#3c1012 63.75%,#3b1012 64.75%,#3a0f11 65.75%,#3d1012 66.20%,#3e1113 66.30%,#461315 67.25%,#461315 67.75%,#461315 70.74%,#461315 73.74%,#461315 75.24%,#441214 76.73%,#3f1113 79.73%,#3f1113 80.23%,#3b1012 82.73%,#370f11 85.22%,#360e10 85.72%,#2d0c0e 88.72%,#240a0b 91.71%,#21090a 92.71%,#1b0809 94.71%,#170707 96.21%,#140606 97.70%,#0f0505 100.00%)"></div><div style="top:104.96px;height:2.60px;background:linear-gradient(90deg,#020101 0.00%,#020101 0.85%,#020101 4.84%,#020101 8.84%,#020101 12.83%,#020101 16.82%,#020101 20.82%,#020101 24.81%,#020101 28.81%,#020101 32.80%,#020101 36.79%,#020101 39.49%,#300d0f 39.64%,#441214 39.84%,#2c0c0e 40.09%,#270b0c 40.79%,#280b0c 41.79%,#280b0d 42.79%,#290b0d 43.78%,#2c0c0e 44.78%,#2e0c0e 45.78%,#360e10 46.78%,#3a1012 47.03%,#521618 47.68%,#792124 48.18%,#b12d32 48.63%,#c63338 49.15%,#b12d32 49.68%,#792124 50.12%,#5b191b 50.62%,#4d1416 51.27%,#471315 52.77%,#461315 53.27%,#380f11 54.52%,#3d1012 55.52%,#3e1113 55.77%,#441214 56.71%,#441214 56.76%,#441214 56.81%,#441214 58.76%,#441214 61.76%,#441214 62.76%,#3a1012 63.75%,#390f11 64.75%,#380f11 65.75%,#3b1012 66.20%,#3c1012 66.30%,#441214 67.25%,#441214 67.75%,#441214 70.74%,#441214 73.74%,#441214 75.24%,#421214 76.73%,#3d1012 79.73%,#3d1012 80.23%,#390f11 82.73%,#350e10 85.22%,#340e10 85.72%,#2c0c0e 88.72%,#230a0b 91.71%,#20090a 92.71%,#1a0808 94.71%,#160707 96.21%,#130606 97.70%,#0f0505 100.00%)"></div><div style="top:106.96px;height:2.60px;background:linear-gradient(90deg,#020101 0.00%,#020101 0.85%,#020101 4.84%,#020101 8.84%,#020101 12.83%,#020101 16.82%,#020101 20.82%,#020101 24.81%,#020101 28.81%,#020101 32.80%,#020101 36.79%,#020101 39.49%,#320d0f 39.64%,#461315 39.84%,#2d0c0e 40.09%,#280b0d 40.79%,#290b0d 41.79%,#2a0b0d 42.79%,#2b0b0d 43.78%,#2d0c0e 44.78%,#300d0f 45.78%,#380f11 46.78%,#380f11 47.03%,#451214 47.68%,#631b1d 48.18%,#93272c 48.63%,#b22e33 49.15%,#93272c 49.68%,#631b1d 50.12%,#4d1517 50.62%,#481315 51.27%,#491416 52.77%,#491315 53.27%,#3a0f11 54.52%,#3f1113 55.52%,#401113 55.77%,#461315 56.71%,#461315 56.76%,#461315 56.81%,#461315 58.76%,#461315 61.76%,#461315 62.76%,#3c1012 63.75%,#3b1012 64.75%,#3a0f11 65.75%,#3d1012 66.20%,#3e1113 66.30%,#461315 67.25%,#461315 67.75%,#461315 70.74%,#461315 73.74%,#461315 75.24%,#441214 76.73%,#3f1113 79.73%,#3f1113 80.23%,#3b1012 82.73%,#370f11 85.22%,#360e10 85.72%,#2d0c0e 88.72%,#240a0b 91.71%,#21090a 92.71%,#1b0809 94.71%,#170707 96.21%,#140606 97.70%,#0f0505 100.00%)"></div><div style="top:108.95px;height:2.60px;background:linear-gradient(90deg,#020101 0.00%,#020101 0.85%,#020101 4.84%,#020101 8.84%,#020101 12.83%,#020101 16.82%,#020101 20.82%,#020101 24.81%,#020101 28.81%,#020101 32.80%,#020101 36.79%,#020101 39.49%,#340e10 39.64%,#481315 39.84%,#2f0c0e 40.09%,#290b0d 40.79%,#2a0b0d 41.79%,#2b0c0d 42.79%,#2c0c0e 43.78%,#2f0c0e 44.78%,#310d0f 45.78%,#390f11 46.78%,#3d1012 47.03%,#531618 47.68%,#792124 48.18%,#b12e33 48.63%,#c73338 49.15%,#b12e33 49.68%,#792124 50.12%,#5c191b 50.62%,#501517 51.27%,#4c1416 52.77%,#4b1416 53.27%,#3b1012 54.52%,#411113 55.52%,#421214 55.77%,#481315 56.71%,#481315 56.76%,#481315 56.81%,#481315 58.76%,#481315 61.76%,#481315 62.76%,#3e1113 63.75%,#3d1012 64.75%,#3b1012 65.75%,#3f1113 66.20%,#401113 66.30%,#481315 67.25%,#481315 67.75%,#481315 70.74%,#481315 73.74%,#481315 75.24%,#461315 76.73%,#411113 79.73%,#411113 80.23%,#3d1012 82.73%,#390f11 85.22%,#370f11 85.72%,#2f0c0e 88.72%,#250a0c 91.71%,#22090b 92.71%,#1c0809 94.71%,#170707 96.21%,#140607 97.70%,#100505 100.00%)"></div><div style="top:110.95px;height:2.60px;background:linear-gradient(90deg,#020101 0.00%,#020101 0.85%,#020101 4.84%,#020101 8.84%,#020101 12.83%,#020101 16.82%,#020101 20.82%,#020101 24.81%,#020101 28.81%,#020101 32.80%,#020101 36.79%,#020101 39.49%,#300d0f 39.64%,#431214 39.84%,#2b0c0d 40.09%,#260a0c 40.79%,#270b0c 41.79%,#280b0d 42.79%,#290b0d 43.78%,#2b0c0d 44.78%,#2e0c0e 45.78%,#350e10 46.78%,#370f11 47.03%,#481315 47.68%,#691c1e 48.18%,#9a292d 48.63%,#b72f34 49.15%,#9a292d 49.68%,#691c1e 50.12%,#501517 50.62%,#481315 51.27%,#461315 52.77%,#461315 53.27%,#370f11 54.52%,#3c1012 55.52%,#3e1012 55.77%,#431214 56.71%,#431214 56.76%,#431214 56.81%,#431214 58.76%,#431214 61.76%,#431214 62.76%,#3a0f11 63.75%,#380f11 64.75%,#370f11 65.75%,#3b1012 66.20%,#3c1012 66.30%,#431214 67.25%,#431214 67.75%,#431214 70.74%,#431214 73.74%,#431214 75.24%,#411113 76.73%,#3d1012 79.73%,#3c1012 80.23%,#380f11 82.73%,#350e10 85.22%,#330e10 85.72%,#2b0c0d 88.72%,#22090b 91.71%,#1f090a 92.71%,#1a0808 94.71%,#160707 96.21%,#130606 97.70%,#0e0505 100.00%)"></div><div style="top:112.95px;height:2.60px;background:linear-gradient(90deg,#020101 0.00%,#020101 0.85%,#020101 4.84%,#020101 8.84%,#020101 12.83%,#020101 16.82%,#020101 20.82%,#020101 24.81%,#020101 28.81%,#020101 32.80%,#020101 36.79%,#020101 39.49%,#330e10 39.64%,#481315 39.84%,#2e0c0e 40.09%,#290b0d 40.79%,#2a0b0d 41.79%,#2b0b0d 42.79%,#2b0c0e 43.78%,#2e0c0e 44.78%,#310d0f 45.78%,#390f11 46.78%,#3b1012 47.03%,#4d1517 47.68%,#701f21 48.18%,#a62b30 48.63%,#bf3136 49.15%,#a62b30 49.68%,#701f21 50.12%,#561719 50.62%,#4d1517 51.27%,#4b1416 52.77%,#4a1416 53.27%,#3b1012 54.52%,#401113 55.52%,#411113 55.77%,#471315 56.71%,#481315 56.76%,#481315 56.81%,#481315 58.76%,#481315 61.76%,#481315 62.76%,#3d1012 63.75%,#3c1012 64.75%,#3b1012 65.75%,#3f1113 66.20%,#3f1113 66.30%,#481315 67.25%,#481315 67.75%,#481315 70.74%,#481315 73.74%,#481315 75.24%,#451214 76.73%,#411113 79.73%,#401113 80.23%,#3c1012 82.73%,#380f11 85.22%,#370f11 85.72%,#2e0c0e 88.72%,#240a0b 91.71%,#21090a 92.71%,#1b0809 94.71%,#170707 96.21%,#140606 97.70%,#0f0505 100.00%)"></div><div style="top:114.95px;height:2.60px;background:linear-gradient(90deg,#020101 0.00%,#020101 0.85%,#020101 4.84%,#020101 8.84%,#020101 12.83%,#020101 16.82%,#020101 20.82%,#020101 24.81%,#020101 28.81%,#020101 32.80%,#020101 36.79%,#020101 39.49%,#320d0f 39.64%,#461315 39.84%,#2d0c0e 40.09%,#280b0d 40.79%,#290b0d 41.79%,#2a0b0d 42.79%,#2b0b0d 43.78%,#2d0c0e 44.78%,#300d0f 45.78%,#380f11 46.78%,#380f11 47.03%,#451214 47.68%,#631b1d 48.18%,#93272c 48.63%,#b22e33 49.15%,#93272c 49.68%,#631b1d 50.12%,#4d1416 50.62%,#481315 51.27%,#491416 52.77%,#491315 53.27%,#3a0f11 54.52%,#3f1113 55.52%,#401113 55.77%,#461315 56.71%,#461315 56.76%,#461315 56.81%,#461315 58.76%,#461315 61.76%,#461315 62.76%,#3c1012 63.75%,#3b1012 64.75%,#3a0f11 65.75%,#3d1012 66.20%,#3e1113 66.30%,#461315 67.25%,#461315 67.75%,#461315 70.74%,#461315 73.74%,#461315 75.24%,#441214 76.73%,#3f1113 79.73%,#3f1113 80.23%,#3b1012 82.73%,#370f11 85.22%,#360e10 85.72%,#2d0c0e 88.72%,#240a0b 91.71%,#21090a 92.71%,#1b0809 94.71%,#170707 96.21%,#140606 97.70%,#0f0505 100.00%)"></div><div style="top:116.95px;height:2.60px;background:linear-gradient(90deg,#020101 0.00%,#020101 0.85%,#020101 4.84%,#020101 8.84%,#020101 12.83%,#020101 16.82%,#020101 20.82%,#020101 24.81%,#020101 28.81%,#020101 32.80%,#020101 36.79%,#020101 39.49%,#310d0f 39.64%,#451214 39.84%,#2c0c0e 40.09%,#270b0c 40.79%,#280b0d 41.79%,#290b0d 42.79%,#2a0b0d 43.78%,#2c0c0e 44.78%,#2f0c0e 45.78%,#370f11 46.78%,#380f11 47.03%,#481315 47.68%,#691c1e 48.18%,#9a292d 48.63%,#b72f34 49.15%,#9a292d 49.68%,#691c1e 50.12%,#501517 50.62%,#491315 51.27%,#481315 52.77%,#471315 53.27%,#390f11 54.52%,#3d1012 55.52%,#3f1113 55.77%,#451214 56.71%,#451214 56.76%,#451214 56.81%,#451214 58.76%,#451214 61.76%,#451214 62.76%,#3b1012 63.75%,#3a0f11 64.75%,#390f11 65.75%,#3c1012 66.20%,#3d1012 66.30%,#451214 67.25%,#451214 67.75%,#451214 70.74%,#451214 73.74%,#451214 75.24%,#431214 76.73%,#3e1113 79.73%,#3d1012 80.23%,#3a0f11 82.73%,#360e10 85.22%,#350e10 85.72%,#2c0c0e 88.72%,#230a0b 91.71%,#20090a 92.71%,#1a0808 94.71%,#160707 96.21%,#130606 97.70%,#0f0505 100.00%)"></div><div style="top:118.95px;height:2.60px;background:linear-gradient(90deg,#020101 0.00%,#020101 0.85%,#020101 4.84%,#020101 8.84%,#020101 12.83%,#020101 16.82%,#020101 20.82%,#020101 24.81%,#020101 28.81%,#020101 32.80%,#020101 36.79%,#020101 39.49%,#350e10 39.64%,#4a1416 39.84%,#2f0d0f 40.09%,#2a0b0d 40.79%,#2b0c0d 41.79%,#2c0c0e 42.79%,#2d0c0e 43.78%,#2f0d0f 44.78%,#320d0f 45.78%,#3a1012 46.78%,#3d1012 47.03%,#531618 47.68%,#792124 48.18%,#b22e33 48.63%,#c73338 49.15%,#b22e33 49.68%,#792124 50.12%,#5d191b 50.62%,#511618 51.27%,#4d1517 52.77%,#4c1416 53.27%,#3c1012 54.52%,#421214 55.52%,#431214 55.77%,#491416 56.71%,#4a1416 56.76%,#4a1416 56.81%,#4a1416 58.76%,#4a1416 61.76%,#4a1416 62.76%,#3f1113 63.75%,#3e1012 64.75%,#3c1012 65.75%,#401113 66.20%,#411113 66.30%,#4a1416 67.25%,#4a1416 67.75%,#4a1416 70.74%,#4a1416 73.74%,#4a1416 75.24%,#471315 76.73%,#421214 79.73%,#421214 80.23%,#3e1012 82.73%,#3a0f11 85.22%,#380f11 85.72%,#2f0d0f 88.72%,#250a0c 91.71%,#22090b 92.71%,#1c0809 94.71%,#180708 96.21%,#150607 97.70%,#100505 100.00%)"></div><div style="top:120.95px;height:2.60px;background:linear-gradient(90deg,#020101 0.00%,#020101 0.85%,#020101 4.84%,#020101 8.84%,#020101 12.83%,#020101 16.82%,#020101 20.82%,#020101 24.81%,#020101 28.81%,#020101 32.80%,#020101 36.79%,#020101 39.49%,#330e10 39.64%,#471315 39.84%,#2e0c0e 40.09%,#290b0d 40.79%,#2a0b0d 41.79%,#2a0b0d 42.79%,#2b0c0d 43.78%,#2e0c0e 44.78%,#300d0f 45.78%,#390f11 46.78%,#3a1012 47.03%,#4c1416 47.68%,#701e21 48.18%,#a52b30 48.63%,#be3136 49.15%,#a52b30 49.68%,#701e21 50.12%,#551719 50.62%,#4c1416 51.27%,#4b1416 52.77%,#4a1416 53.27%,#3b1012 54.52%,#401113 55.52%,#411113 55.77%,#471315 56.71%,#471315 56.76%,#471315 56.81%,#471315 58.76%,#471315 61.76%,#471315 62.76%,#3d1012 63.75%,#3c1012 64.75%,#3b1012 65.75%,#3e1113 66.20%,#3f1113 66.30%,#471315 67.25%,#471315 67.75%,#471315 70.74%,#471315 73.74%,#471315 75.24%,#451214 76.73%,#401113 79.73%,#401113 80.23%,#3c1012 82.73%,#380f11 85.22%,#370f11 85.72%,#2e0c0e 88.72%,#240a0b 91.71%,#21090a 92.71%,#1b0809 94.71%,#170707 96.21%,#140606 97.70%,#0f0505 100.00%)"></div><div style="top:122.95px;height:2.60px;background:linear-gradient(90deg,#020101 0.00%,#020101 0.85%,#020101 4.84%,#020101 8.84%,#020101 12.83%,#020101 16.82%,#020101 20.82%,#020101 24.81%,#020101 28.81%,#020101 32.80%,#020101 36.79%,#020101 39.49%,#310d0f 39.64%,#441214 39.84%,#2c0c0e 40.09%,#270b0c 40.79%,#280b0c 41.79%,#280b0d 42.79%,#290b0d 43.78%,#2c0c0e 44.78%,#2e0c0e 45.78%,#360e10 46.78%,#380f11 47.03%,#491315 47.68%,#6b1d1f 48.18%,#9d292e 48.63%,#b93035 49.15%,#9d292e 49.68%,#6b1d1f 50.12%,#511618 50.62%,#491315 51.27%,#471315 52.77%,#461315 53.27%,#380f11 54.52%,#3d1012 55.52%,#3e1113 55.77%,#441214 56.71%,#441214 56.76%,#441214 56.81%,#441214 58.76%,#441214 61.76%,#441214 62.76%,#3a1012 63.75%,#390f11 64.75%,#380f11 65.75%,#3b1012 66.20%,#3c1012 66.30%,#441214 67.25%,#441214 67.75%,#441214 70.74%,#441214 73.74%,#441214 75.24%,#421214 76.73%,#3d1012 79.73%,#3d1012 80.23%,#390f11 82.73%,#350e10 85.22%,#340e10 85.72%,#2c0c0e 88.72%,#230a0b 91.71%,#20090a 92.71%,#1a0808 94.71%,#160707 96.21%,#130606 97.70%,#0f0505 100.00%)"></div><div style="top:124.95px;height:2.60px;background:linear-gradient(90deg,#020101 0.00%,#020101 0.85%,#020101 4.84%,#020101 8.84%,#020101 12.83%,#020101 16.82%,#020101 20.82%,#020101 24.81%,#020101 28.81%,#020101 32.80%,#020101 36.79%,#020101 39.49%,#320d0f 39.64%,#461315 39.84%,#2d0c0e 40.09%,#280b0d 40.79%,#290b0d 41.79%,#2a0b0d 42.79%,#2b0b0d 43.78%,#2d0c0e 44.78%,#300d0f 45.78%,#380f11 46.78%,#390f11 47.03%,#4a1416 47.68%,#6c1d1f 48.18%,#9f2a2e 48.63%,#ba3035 49.15%,#9f2a2e 49.68%,#6c1d1f 50.12%,#521618 50.62%,#4b1416 51.27%,#491416 52.77%,#491315 53.27%,#3a0f11 54.52%,#3f1113 55.52%,#401113 55.77%,#461315 56.71%,#461315 56.76%,#461315 56.81%,#461315 58.76%,#461315 61.76%,#461315 62.76%,#3c1012 63.75%,#3b1012 64.75%,#3a0f11 65.75%,#3d1012 66.20%,#3e1113 66.30%,#461315 67.25%,#461315 67.75%,#461315 70.74%,#461315 73.74%,#461315 75.24%,#441214 76.73%,#3f1113 79.73%,#3f1113 80.23%,#3b1012 82.73%,#370f11 85.22%,#360e10 85.72%,#2d0c0e 88.72%,#240a0b 91.71%,#21090a 92.71%,#1b0809 94.71%,#170707 96.21%,#140606 97.70%,#0f0505 100.00%)"></div><div style="top:126.94px;height:2.60px;background:linear-gradient(90deg,#020101 0.00%,#020101 0.85%,#020101 4.84%,#020101 8.84%,#020101 12.83%,#020101 16.82%,#020101 20.82%,#020101 24.81%,#020101 28.81%,#020101 32.80%,#020101 36.79%,#020101 39.49%,#330e10 39.64%,#471315 39.84%,#2e0c0e 40.09%,#290b0d 40.79%,#290b0d 41.79%,#2a0b0d 42.79%,#2b0c0d 43.78%,#2e0c0e 44.78%,#300d0f 45.78%,#380f11 46.78%,#3c1012 47.03%,#521618 47.68%,#782123 48.18%,#b12d32 48.63%,#c63338 49.15%,#b12d32 49.68%,#782123 50.12%,#5b191b 50.62%,#4f1517 51.27%,#4a1416 52.77%,#4a1416 53.27%,#3a1012 54.52%,#3f1113 55.52%,#411113 55.77%,#471315 56.71%,#471315 56.76%,#471315 56.81%,#471315 58.76%,#471315 61.76%,#471315 62.76%,#3d1012 63.75%,#3c1012 64.75%,#3a1012 65.75%,#3e1113 66.20%,#3f1113 66.30%,#471315 67.25%,#471315 67.75%,#471315 70.74%,#471315 73.74%,#471315 75.24%,#451214 76.73%,#401113 79.73%,#3f1113 80.23%,#3c1012 82.73%,#380f11 85.22%,#360e10 85.72%,#2e0c0e 88.72%,#240a0b 91.71%,#21090a 92.71%,#1b0809 94.71%,#170707 96.21%,#140606 97.70%,#0f0505 100.00%)"></div><div style="top:128.94px;height:2.60px;background:linear-gradient(90deg,#020101 0.00%,#020101 0.85%,#020101 4.84%,#020101 8.84%,#020101 12.83%,#020101 16.82%,#020101 20.82%,#020101 24.81%,#020101 28.81%,#020101 32.80%,#020101 36.79%,#020101 39.49%,#320d0f 39.64%,#461315 39.84%,#2d0c0e 40.09%,#280b0c 40.79%,#290b0d 41.79%,#290b0d 42.79%,#2a0b0d 43.78%,#2d0c0e 44.78%,#2f0d0f 45.78%,#370f11 46.78%,#390f11 47.03%,#4b1416 47.68%,#6d1e20 48.18%,#a12a2f 48.63%,#bc3035 49.15%,#a12a2f 49.68%,#6d1e20 50.12%,#531618 50.62%,#4b1416 51.27%,#491315 52.77%,#481315 53.27%,#390f11 54.52%,#3e1113 55.52%,#401113 55.77%,#451214 56.71%,#461315 56.76%,#461315 56.81%,#461315 58.76%,#461315 61.76%,#461315 62.76%,#3c1012 63.75%,#3a1012 64.75%,#390f11 65.75%,#3d1012 66.20%,#3e1012 66.30%,#461315 67.25%,#461315 67.75%,#461315 70.74%,#461315 73.74%,#461315 75.24%,#431214 76.73%,#3f1113 79.73%,#3e1113 80.23%,#3a1012 82.73%,#370f11 85.22%,#350e10 85.72%,#2d0c0e 88.72%,#230a0b 91.71%,#20090a 92.71%,#1b0808 94.71%,#160707 96.21%,#130606 97.70%,#0f0505 100.00%)"></div><div style="top:130.94px;height:2.60px;background:linear-gradient(90deg,#020101 0.00%,#020101 0.85%,#020101 4.84%,#020101 8.84%,#020101 12.83%,#020101 16.82%,#020101 20.82%,#020101 24.81%,#020101 28.81%,#020101 32.80%,#020101 36.79%,#020101 39.49%,#330e10 39.64%,#471315 39.84%,#2e0c0e 40.09%,#290b0d 40.79%,#2a0b0d 41.79%,#2a0b0d 42.79%,#2b0c0d 43.78%,#2e0c0e 44.78%,#300d0f 45.78%,#380f11 46.78%,#380f11 47.03%,#421214 47.68%,#5f1a1c 48.18%,#8d262a 48.63%,#ad2d32 49.15%,#8d262a 49.68%,#5f1a1c 50.12%,#4a1416 50.62%,#481315 51.27%,#4a1416 52.77%,#4a1416 53.27%,#3a1012 54.52%,#401113 55.52%,#411113 55.77%,#471315 56.71%,#471315 56.76%,#471315 56.81%,#471315 58.76%,#471315 61.76%,#471315 62.76%,#3d1012 63.75%,#3c1012 64.75%,#3a1012 65.75%,#3e1113 66.20%,#3f1113 66.30%,#471315 67.25%,#471315 67.75%,#471315 70.74%,#471315 73.74%,#471315 75.24%,#451214 76.73%,#401113 79.73%,#401113 80.23%,#3c1012 82.73%,#380f11 85.22%,#360f11 85.72%,#2e0c0e 88.72%,#240a0b 91.71%,#21090a 92.71%,#1b0809 94.71%,#170707 96.21%,#140606 97.70%,#0f0505 100.00%)"></div><div style="top:132.94px;height:2.60px;background:linear-gradient(90deg,#020101 0.00%,#020101 0.85%,#020101 4.84%,#020101 8.84%,#020101 12.83%,#020101 16.82%,#020101 20.82%,#020101 24.81%,#020101 28.81%,#020101 32.80%,#020101 36.79%,#020101 39.49%,#320d0f 39.64%,#461315 39.84%,#2d0c0e 40.09%,#280b0c 40.79%,#290b0d 41.79%,#2a0b0d 42.79%,#2a0b0d 43.78%,#2d0c0e 44.78%,#2f0d0f 45.78%,#370f11 46.78%,#390f11 47.03%,#481315 47.68%,#681c1e 48.18%,#9a292d 48.63%,#b72f34 49.15%,#9a292d 49.68%,#681c1e 50.12%,#501517 50.62%,#4a1416 51.27%,#491315 52.77%,#481315 53.27%,#390f11 54.52%,#3e1113 55.52%,#401113 55.77%,#461315 56.71%,#461315 56.76%,#461315 56.81%,#461315 58.76%,#461315 61.76%,#461315 62.76%,#3c1012 63.75%,#3b1012 64.75%,#390f11 65.75%,#3d1012 66.20%,#3e1113 66.30%,#461315 67.25%,#461315 67.75%,#461315 70.74%,#461315 73.74%,#461315 75.24%,#441214 76.73%,#3f1113 79.73%,#3e1113 80.23%,#3b1012 82.73%,#370f11 85.22%,#350e10 85.72%,#2d0c0e 88.72%,#240a0b 91.71%,#20090a 92.71%,#1b0809 94.71%,#160707 96.21%,#140606 97.70%,#0f0505 100.00%)"></div><div style="top:134.94px;height:2.60px;background:linear-gradient(90deg,#020101 0.00%,#020101 0.85%,#020101 4.84%,#020101 8.84%,#020101 12.83%,#020101 16.82%,#020101 20.82%,#020101 24.81%,#020101 28.81%,#020101 32.80%,#020101 36.79%,#020101 39.49%,#330e10 39.64%,#471315 39.84%,#2e0c0e 40.09%,#290b0d 40.79%,#2a0b0d 41.79%,#2a0b0d 42.79%,#2b0c0d 43.78%,#2e0c0e 44.78%,#300d0f 45.78%,#380f11 46.78%,#380f11 47.03%,#431214 47.68%,#611a1c 48.18%,#8f272b 48.63%,#b02d32 49.15%,#8f272b 49.68%,#611a1c 50.12%,#4b1416 50.62%,#481315 51.27%,#4a1416 52.77%,#4a1416 53.27%,#3a1012 54.52%,#401113 55.52%,#411113 55.77%,#471315 56.71%,#471315 56.76%,#471315 56.81%,#471315 58.76%,#471315 61.76%,#471315 62.76%,#3d1012 63.75%,#3c1012 64.75%,#3a1012 65.75%,#3e1113 66.20%,#3f1113 66.30%,#471315 67.25%,#471315 67.75%,#471315 70.74%,#471315 73.74%,#471315 75.24%,#451214 76.73%,#401113 79.73%,#401113 80.23%,#3c1012 82.73%,#380f11 85.22%,#360f11 85.72%,#2e0c0e 88.72%,#240a0b 91.71%,#21090a 92.71%,#1b0809 94.71%,#170707 96.21%,#140606 97.70%,#0f0505 100.00%)"></div><div style="top:136.94px;height:2.60px;background:linear-gradient(90deg,#020101 0.00%,#020101 0.85%,#020101 4.84%,#020101 8.84%,#020101 12.83%,#020101 16.82%,#020101 20.82%,#020101 24.81%,#020101 28.81%,#020101 32.80%,#020101 36.79%,#020101 39.49%,#340e10 39.64%,#491315 39.84%,#2f0c0e 40.09%,#290b0d 40.79%,#2a0b0d 41.79%,#2b0c0d 42.79%,#2c0c0e 43.78%,#2f0c0e 44.78%,#310d0f 45.78%,#390f11 46.78%,#370f11 47.03%,#3f1113 47.68%,#58181a 48.18%,#852428 48.63%,#a22a2f 49.15%,#852428 49.68%,#58181a 50.12%,#471315 50.62%,#471315 51.27%,#4c1416 52.77%,#4b1416 53.27%,#3c1012 54.52%,#411113 55.52%,#421214 55.77%,#481315 56.71%,#491315 56.76%,#491315 56.81%,#491315 58.76%,#491315 61.76%,#491315 62.76%,#3e1113 63.75%,#3d1012 64.75%,#3c1012 65.75%,#3f1113 66.20%,#401113 66.30%,#491315 67.25%,#491315 67.75%,#491315 70.74%,#491315 73.74%,#491315 75.24%,#461315 76.73%,#421113 79.73%,#411113 80.23%,#3d1012 82.73%,#390f11 85.22%,#370f11 85.72%,#2f0c0e 88.72%,#250a0c 91.71%,#22090b 92.71%,#1c0809 94.71%,#170707 96.21%,#140607 97.70%,#100505 100.00%)"></div><div style="top:138.94px;height:2.60px;background:linear-gradient(90deg,#020101 0.00%,#020101 0.85%,#020101 4.84%,#020101 8.84%,#020101 12.83%,#020101 16.82%,#020101 20.82%,#020101 24.81%,#020101 28.81%,#020101 32.80%,#020101 36.79%,#020101 39.49%,#310d0f 39.64%,#451214 39.84%,#2c0c0e 40.09%,#270b0c 40.79%,#280b0d 41.79%,#290b0d 42.79%,#2a0b0d 43.78%,#2c0c0e 44.78%,#2f0c0e 45.78%,#370f11 46.78%,#380f11 47.03%,#471315 47.68%,#681c1e 48.18%,#99292d 48.63%,#b62f34 49.15%,#99292d 49.68%,#681c1e 50.12%,#4f1517 50.62%,#491315 51.27%,#481315 52.77%,#471315 53.27%,#390f11 54.52%,#3d1012 55.52%,#3f1113 55.77%,#451214 56.71%,#451214 56.76%,#451214 56.81%,#451214 58.76%,#451214 61.76%,#451214 62.76%,#3b1012 63.75%,#3a0f11 64.75%,#390f11 65.75%,#3c1012 66.20%,#3d1012 66.30%,#451214 67.25%,#451214 67.75%,#451214 70.74%,#451214 73.74%,#451214 75.24%,#431214 76.73%,#3e1113 79.73%,#3d1012 80.23%,#3a0f11 82.73%,#360e10 85.22%,#350e10 85.72%,#2c0c0e 88.72%,#230a0b 91.71%,#20090a 92.71%,#1a0808 94.71%,#160707 96.21%,#130606 97.70%,#0f0505 100.00%)"></div><div style="top:140.94px;height:2.60px;background:linear-gradient(90deg,#020101 0.00%,#020101 0.85%,#020101 4.84%,#020101 8.84%,#020101 12.83%,#020101 16.82%,#020101 20.82%,#020101 24.81%,#020101 28.81%,#020101 32.80%,#020101 36.79%,#020101 39.49%,#320d0f 39.64%,#461315 39.84%,#2d0c0e 40.09%,#280b0d 40.79%,#290b0d 41.79%,#2a0b0d 42.79%,#2b0b0d 43.78%,#2d0c0e 44.78%,#300d0f 45.78%,#380f11 46.78%,#3b1012 47.03%,#521618 47.68%,#782123 48.18%,#b12d32 48.63%,#c63338 49.15%,#b12d32 49.68%,#782123 50.12%,#5b191b 50.62%,#4e1517 51.27%,#491416 52.77%,#491315 53.27%,#3a0f11 54.52%,#3f1113 55.52%,#401113 55.77%,#461315 56.71%,#461315 56.76%,#461315 56.81%,#461315 58.76%,#461315 61.76%,#461315 62.76%,#3c1012 63.75%,#3b1012 64.75%,#3a0f11 65.75%,#3e1012 66.20%,#3e1113 66.30%,#461315 67.25%,#461315 67.75%,#461315 70.74%,#461315 73.74%,#461315 75.24%,#441214 76.73%,#401113 79.73%,#3f1113 80.23%,#3b1012 82.73%,#370f11 85.22%,#360e10 85.72%,#2d0c0e 88.72%,#240a0b 91.71%,#21090a 92.71%,#1b0809 94.71%,#170707 96.21%,#140606 97.70%,#0f0505 100.00%)"></div><div style="top:142.94px;height:2.60px;background:linear-gradient(90deg,#020101 0.00%,#020101 0.85%,#020101 4.84%,#020101 8.84%,#020101 12.83%,#020101 16.82%,#020101 20.82%,#020101 24.81%,#020101 28.81%,#020101 32.80%,#020101 36.79%,#020101 39.49%,#310d0f 39.64%,#451214 39.84%,#2c0c0e 40.09%,#280b0c 40.79%,#280b0d 41.79%,#290b0d 42.79%,#2a0b0d 43.78%,#2c0c0e 44.78%,#2f0d0f 45.78%,#370f11 46.78%,#390f11 47.03%,#4a1416 47.68%,#6d1e20 48.18%,#a12a2f 48.63%,#bb3035 49.15%,#a12a2f 49.68%,#6d1e20 50.12%,#531618 50.62%,#4a1416 51.27%,#481315 52.77%,#481315 53.27%,#390f11 54.52%,#3e1012 55.52%,#3f1113 55.77%,#451214 56.71%,#451214 56.76%,#451214 56.81%,#451214 58.76%,#451214 61.76%,#451214 62.76%,#3b1012 63.75%,#3a0f11 64.75%,#390f11 65.75%,#3d1012 66.20%,#3d1012 66.30%,#451214 67.25%,#451214 67.75%,#451214 70.74%,#451214 73.74%,#451214 75.24%,#431214 76.73%,#3f1113 79.73%,#3e1012 80.23%,#3a0f11 82.73%,#360e10 85.22%,#350e10 85.72%,#2c0c0e 88.72%,#230a0b 91.71%,#20090a 92.71%,#1a0808 94.71%,#160707 96.21%,#130606 97.70%,#0f0505 100.00%)"></div><div style="top:144.94px;height:2.60px;background:linear-gradient(90deg,#020101 0.00%,#020101 0.85%,#020101 4.84%,#020101 8.84%,#020101 12.83%,#020101 16.82%,#020101 20.82%,#020101 24.81%,#020101 28.81%,#020101 32.80%,#020101 36.79%,#020101 39.49%,#320d0f 39.64%,#461315 39.84%,#2d0c0e 40.09%,#280b0d 40.79%,#290b0d 41.79%,#2a0b0d 42.79%,#2b0b0d 43.78%,#2d0c0e 44.78%,#300d0f 45.78%,#380f11 46.78%,#380f11 47.03%,#461315 47.68%,#651c1e 48.18%,#96282c 48.63%,#b42e33 49.15%,#96282c 49.68%,#651c1e 50.12%,#4e1517 50.62%,#491315 51.27%,#491416 52.77%,#491315 53.27%,#3a0f11 54.52%,#3f1113 55.52%,#401113 55.77%,#461315 56.71%,#461315 56.76%,#461315 56.81%,#461315 58.76%,#461315 61.76%,#461315 62.76%,#3c1012 63.75%,#3b1012 64.75%,#3a0f11 65.75%,#3d1012 66.20%,#3e1113 66.30%,#461315 67.25%,#461315 67.75%,#461315 70.74%,#461315 73.74%,#461315 75.24%,#441214 76.73%,#3f1113 79.73%,#3f1113 80.23%,#3b1012 82.73%,#370f11 85.22%,#360e10 85.72%,#2d0c0e 88.72%,#240a0b 91.71%,#21090a 92.71%,#1b0809 94.71%,#170707 96.21%,#140606 97.70%,#0f0505 100.00%)"></div><div style="top:146.93px;height:2.60px;background:linear-gradient(90deg,#020101 0.00%,#020101 0.85%,#020101 4.84%,#020101 8.84%,#020101 12.83%,#020101 16.82%,#020101 20.82%,#020101 24.81%,#020101 28.81%,#020101 32.80%,#020101 36.79%,#020101 39.49%,#310d0f 39.64%,#441214 39.84%,#2c0c0e 40.09%,#270b0c 40.79%,#280b0c 41.79%,#280b0d 42.79%,#290b0d 43.78%,#2c0c0e 44.78%,#2e0c0e 45.78%,#360e10 46.78%,#370f11 47.03%,#451214 47.68%,#631b1d 48.18%,#93272b 48.63%,#b22e33 49.15%,#93272b 49.68%,#631b1d 50.12%,#4c1416 50.62%,#471315 51.27%,#471315 52.77%,#461315 53.27%,#380f11 54.52%,#3d1012 55.52%,#3e1113 55.77%,#441214 56.71%,#441214 56.76%,#441214 56.81%,#441214 58.76%,#441214 61.76%,#441214 62.76%,#3a1012 63.75%,#390f11 64.75%,#380f11 65.75%,#3b1012 66.20%,#3c1012 66.30%,#441214 67.25%,#441214 67.75%,#441214 70.74%,#441214 73.74%,#441214 75.24%,#421214 76.73%,#3d1012 79.73%,#3d1012 80.23%,#390f11 82.73%,#350e10 85.22%,#340e10 85.72%,#2c0c0e 88.72%,#230a0b 91.71%,#20090a 92.71%,#1a0808 94.71%,#160707 96.21%,#130606 97.70%,#0f0505 100.00%)"></div><div style="top:148.93px;height:2.60px;background:linear-gradient(90deg,#020101 0.00%,#020101 0.85%,#020101 4.84%,#020101 8.84%,#020101 12.83%,#020101 16.82%,#020101 20.82%,#020101 24.81%,#020101 28.81%,#020101 32.80%,#020101 36.79%,#020101 39.49%,#310d0f 39.64%,#451214 39.84%,#2c0c0e 40.09%,#270b0c 40.79%,#280b0d 41.79%,#290b0d 42.79%,#2a0b0d 43.78%,#2c0c0e 44.78%,#2f0c0e 45.78%,#370f11 46.78%,#3a0f11 47.03%,#4f1517 47.68%,#742022 48.18%,#ac2c31 48.63%,#c33237 49.15%,#ac2c31 49.68%,#742022 50.12%,#58181a 50.62%,#4c1416 51.27%,#481315 52.77%,#471315 53.27%,#390f11 54.52%,#3e1012 55.52%,#3f1113 55.77%,#451214 56.71%,#451214 56.76%,#451214 56.81%,#451214 58.76%,#451214 61.76%,#451214 62.76%,#3b1012 63.75%,#3a0f11 64.75%,#390f11 65.75%,#3c1012 66.20%,#3d1012 66.30%,#451214 67.25%,#451214 67.75%,#451214 70.74%,#451214 73.74%,#451214 75.24%,#431214 76.73%,#3e1113 79.73%,#3e1012 80.23%,#3a0f11 82.73%,#360e10 85.22%,#350e10 85.72%,#2c0c0e 88.72%,#230a0b 91.71%,#20090a 92.71%,#1a0808 94.71%,#160707 96.21%,#130606 97.70%,#0f0505 100.00%)"></div><div style="top:150.93px;height:2.60px;background:linear-gradient(90deg,#020101 0.00%,#020101 0.85%,#020101 4.84%,#020101 8.84%,#020101 12.83%,#020101 16.82%,#020101 20.82%,#020101 24.81%,#020101 28.81%,#020101 32.80%,#020101 36.79%,#020101 39.49%,#320d0f 39.64%,#461315 39.84%,#2d0c0e 40.09%,#280b0c 40.79%,#290b0d 41.79%,#290b0d 42.79%,#2a0b0d 43.78%,#2d0c0e 44.78%,#2f0d0f 45.78%,#370f11 46.78%,#390f11 47.03%,#4b1416 47.68%,#6f1e20 48.18%,#a32b2f 48.63%,#bd3035 49.15%,#a32b2f 49.68%,#6f1e20 50.12%,#541719 50.62%,#4b1416 51.27%,#491315 52.77%,#481315 53.27%,#390f11 54.52%,#3e1113 55.52%,#401113 55.77%,#451214 56.71%,#461315 56.76%,#461315 56.81%,#461315 58.76%,#461315 61.76%,#461315 62.76%,#3c1012 63.75%,#3a1012 64.75%,#390f11 65.75%,#3d1012 66.20%,#3e1012 66.30%,#461315 67.25%,#461315 67.75%,#461315 70.74%,#461315 73.74%,#461315 75.24%,#431214 76.73%,#3f1113 79.73%,#3e1113 80.23%,#3a1012 82.73%,#370f11 85.22%,#350e10 85.72%,#2d0c0e 88.72%,#230a0b 91.71%,#20090a 92.71%,#1b0808 94.71%,#160707 96.21%,#130606 97.70%,#0f0505 100.00%)"></div><div style="top:152.93px;height:2.60px;background:linear-gradient(90deg,#020101 0.00%,#020101 0.85%,#020101 4.84%,#020101 8.84%,#020101 12.83%,#020101 16.82%,#020101 20.82%,#020101 24.81%,#020101 28.81%,#020101 32.80%,#020101 36.79%,#020101 39.49%,#330e10 39.64%,#481315 39.84%,#2e0c0e 40.09%,#290b0d 40.79%,#2a0b0d 41.79%,#2b0b0d 42.79%,#2b0c0e 43.78%,#2e0c0e 44.78%,#310d0f 45.78%,#390f11 46.78%,#3b1012 47.03%,#4d1517 47.68%,#711f21 48.18%,#a72b30 48.63%,#bf3136 49.15%,#a72b30 49.68%,#711f21 50.12%,#561719 50.62%,#4d1517 51.27%,#4b1416 52.77%,#4a1416 53.27%,#3b1012 54.52%,#401113 55.52%,#411113 55.77%,#471315 56.71%,#481315 56.76%,#481315 56.81%,#481315 58.76%,#481315 61.76%,#481315 62.76%,#3d1012 63.75%,#3c1012 64.75%,#3b1012 65.75%,#3f1113 66.20%,#3f1113 66.30%,#481315 67.25%,#481315 67.75%,#481315 70.74%,#481315 73.74%,#481315 75.24%,#451214 76.73%,#411113 79.73%,#401113 80.23%,#3c1012 82.73%,#380f11 85.22%,#370f11 85.72%,#2e0c0e 88.72%,#240a0b 91.71%,#21090a 92.71%,#1b0809 94.71%,#170707 96.21%,#140606 97.70%,#0f0505 100.00%)"></div><div style="top:154.93px;height:2.60px;background:linear-gradient(90deg,#020101 0.00%,#020101 0.85%,#020101 4.84%,#020101 8.84%,#020101 12.83%,#020101 16.82%,#020101 20.82%,#020101 24.81%,#020101 28.81%,#020101 32.80%,#020101 36.79%,#020101 39.49%,#330e10 39.64%,#481315 39.84%,#2e0c0e 40.09%,#290b0d 40.79%,#2a0b0d 41.79%,#2b0c0d 42.79%,#2c0c0e 43.78%,#2e0c0e 44.78%,#310d0f 45.78%,#390f11 46.78%,#3b1012 47.03%,#4d1517 47.68%,#711f21 48.18%,#a72b30 48.63%,#bf3136 49.15%,#a72b30 49.68%,#711f21 50.12%,#561719 50.62%,#4d1517 51.27%,#4b1416 52.77%,#4b1416 53.27%,#3b1012 54.52%,#401113 55.52%,#421214 55.77%,#481315 56.71%,#481315 56.76%,#481315 56.81%,#481315 58.76%,#481315 61.76%,#481315 62.76%,#3e1012 63.75%,#3c1012 64.75%,#3b1012 65.75%,#3f1113 66.20%,#401113 66.30%,#481315 67.25%,#481315 67.75%,#481315 70.74%,#481315 73.74%,#481315 75.24%,#461315 76.73%,#411113 79.73%,#401113 80.23%,#3c1012 82.73%,#390f11 85.22%,#370f11 85.72%,#2e0c0e 88.72%,#250a0b 91.71%,#21090b 92.71%,#1c0809 94.71%,#170707 96.21%,#140607 97.70%,#0f0505 100.00%)"></div><div style="top:156.93px;height:2.60px;background:linear-gradient(90deg,#020101 0.00%,#020101 0.85%,#020101 4.84%,#020101 8.84%,#020101 12.83%,#020101 16.82%,#020101 20.82%,#020101 24.81%,#020101 28.81%,#020101 32.80%,#020101 36.79%,#020101 39.49%,#300d0f 39.64%,#441214 39.84%,#2c0c0e 40.09%,#270b0c 40.79%,#270b0c 41.79%,#280b0d 42.79%,#290b0d 43.78%,#2c0c0e 44.78%,#2e0c0e 45.78%,#360e10 46.78%,#380f11 47.03%,#491315 47.68%,#6a1d1f 48.18%,#9c292e 48.63%,#b92f34 49.15%,#9c292e 49.68%,#6a1d1f 50.12%,#511618 50.62%,#491315 51.27%,#471315 52.77%,#461315 53.27%,#380f11 54.52%,#3c1012 55.52%,#3e1113 55.77%,#431214 56.71%,#441214 56.76%,#441214 56.81%,#441214 58.76%,#441214 61.76%,#441214 62.76%,#3a0f11 63.75%,#390f11 64.75%,#380f11 65.75%,#3b1012 66.20%,#3c1012 66.30%,#441214 67.25%,#441214 67.75%,#441214 70.74%,#441214 73.74%,#441214 75.24%,#421113 76.73%,#3d1012 79.73%,#3c1012 80.23%,#390f11 82.73%,#350e10 85.22%,#340e10 85.72%,#2c0c0e 88.72%,#220a0b 91.71%,#1f090a 92.71%,#1a0808 94.71%,#160707 96.21%,#130606 97.70%,#0f0505 100.00%)"></div><div style="top:158.93px;height:2.60px;background:linear-gradient(90deg,#020101 0.00%,#020101 0.85%,#020101 4.84%,#020101 8.84%,#020101 12.83%,#020101 16.82%,#020101 20.82%,#020101 24.81%,#020101 28.81%,#020101 32.80%,#020101 36.79%,#020101 39.49%,#310d0f 39.64%,#451214 39.84%,#2c0c0e 40.09%,#270b0c 40.79%,#280b0d 41.79%,#290b0d 42.79%,#2a0b0d 43.78%,#2c0c0e 44.78%,#2f0c0e 45.78%,#360f11 46.78%,#390f11 47.03%,#4d1517 47.68%,#711f21 48.18%,#a72b30 48.63%,#c03136 49.15%,#a72b30 49.68%,#711f21 50.12%,#561719 50.62%,#4b1416 51.27%,#481315 52.77%,#471315 53.27%,#380f11 54.52%,#3d1012 55.52%,#3f1113 55.77%,#441214 56.71%,#451214 56.76%,#451214 56.81%,#451214 58.76%,#451214 61.76%,#451214 62.76%,#3b1012 63.75%,#3a0f11 64.75%,#380f11 65.75%,#3c1012 66.20%,#3d1012 66.30%,#451214 67.25%,#451214 67.75%,#451214 70.74%,#451214 73.74%,#451214 75.24%,#421214 76.73%,#3e1113 79.73%,#3d1012 80.23%,#3a0f11 82.73%,#360e10 85.22%,#350e10 85.72%,#2c0c0e 88.72%,#230a0b 91.71%,#20090a 92.71%,#1a0808 94.71%,#160707 96.21%,#130606 97.70%,#0f0505 100.00%)"></div><div style="top:160.93px;height:2.60px;background:linear-gradient(90deg,#020101 0.00%,#020101 0.85%,#020101 4.84%,#020101 8.84%,#020101 12.83%,#020101 16.82%,#020101 20.82%,#020101 24.81%,#020101 28.81%,#020101 32.80%,#020101 36.79%,#020101 39.49%,#330e10 39.64%,#471315 39.84%,#2e0c0e 40.09%,#290b0d 40.79%,#290b0d 41.79%,#2a0b0d 42.79%,#2b0c0d 43.78%,#2e0c0e 44.78%,#300d0f 45.78%,#380f11 46.78%,#3b1012 47.03%,#4f1517 47.68%,#742022 48.18%,#ac2c31 48.63%,#c23237 49.15%,#ac2c31 49.68%,#742022 50.12%,#58181a 50.62%,#4e1517 51.27%,#4a1416 52.77%,#4a1416 53.27%,#3a1012 54.52%,#401113 55.52%,#411113 55.77%,#471315 56.71%,#471315 56.76%,#471315 56.81%,#471315 58.76%,#471315 61.76%,#471315 62.76%,#3d1012 63.75%,#3c1012 64.75%,#3a1012 65.75%,#3e1113 66.20%,#3f1113 66.30%,#471315 67.25%,#471315 67.75%,#471315 70.74%,#471315 73.74%,#471315 75.24%,#451214 76.73%,#401113 79.73%,#401113 80.23%,#3c1012 82.73%,#380f11 85.22%,#360f11 85.72%,#2e0c0e 88.72%,#240a0b 91.71%,#21090a 92.71%,#1b0809 94.71%,#170707 96.21%,#140606 97.70%,#0f0505 100.00%)"></div><div style="top:162.93px;height:2.60px;background:linear-gradient(90deg,#020101 0.00%,#020101 0.85%,#020101 4.84%,#020101 8.84%,#020101 12.83%,#020101 16.82%,#020101 20.82%,#020101 24.81%,#020101 28.81%,#020101 32.80%,#020101 36.79%,#020101 39.49%,#300d0f 39.64%,#431214 39.84%,#2b0b0d 40.09%,#260a0c 40.79%,#270b0c 41.79%,#280b0c 42.79%,#280b0d 43.78%,#2b0b0d 44.78%,#2d0c0e 45.78%,#350e10 46.78%,#370f11 47.03%,#481315 47.68%,#691d1f 48.18%,#9b292d 48.63%,#b82f34 49.15%,#9b292d 49.68%,#691d1f 50.12%,#501517 50.62%,#481315 51.27%,#451315 52.77%,#451214 53.27%,#370f11 54.52%,#3b1012 55.52%,#3d1012 55.77%,#421214 56.71%,#431214 56.76%,#431214 56.81%,#431214 58.76%,#431214 61.76%,#431214 62.76%,#390f11 63.75%,#380f11 64.75%,#370f11 65.75%,#3a1012 66.20%,#3b1012 66.30%,#431214 67.25%,#431214 67.75%,#431214 70.74%,#431214 73.74%,#431214 75.24%,#401113 76.73%,#3c1012 79.73%,#3b1012 80.23%,#380f11 82.73%,#340e10 85.22%,#330e10 85.72%,#2b0b0d 88.72%,#22090b 91.71%,#1f090a 92.71%,#190708 94.71%,#150607 96.21%,#130606 97.70%,#0e0505 100.00%)"></div><div style="top:164.93px;height:2.60px;background:linear-gradient(90deg,#020101 0.00%,#020101 0.85%,#020101 4.84%,#020101 8.84%,#020101 12.83%,#020101 16.82%,#020101 20.82%,#020101 24.81%,#020101 28.81%,#020101 32.80%,#020101 36.79%,#020101 39.49%,#310d0f 39.64%,#451214 39.84%,#2c0c0e 40.09%,#280b0c 40.79%,#280b0d 41.79%,#290b0d 42.79%,#2a0b0d 43.78%,#2c0c0e 44.78%,#2f0d0f 45.78%,#370f11 46.78%,#380f11 47.03%,#461315 47.68%,#651b1d 48.18%,#95282c 48.63%,#b32e33 49.15%,#95282c 49.68%,#651b1d 50.12%,#4d1517 50.62%,#481315 51.27%,#481315 52.77%,#481315 53.27%,#390f11 54.52%,#3e1012 55.52%,#3f1113 55.77%,#451214 56.71%,#451214 56.76%,#451214 56.81%,#451214 58.76%,#451214 61.76%,#451214 62.76%,#3b1012 63.75%,#3a0f11 64.75%,#390f11 65.75%,#3d1012 66.20%,#3d1012 66.30%,#451214 67.25%,#451214 67.75%,#451214 70.74%,#451214 73.74%,#451214 75.24%,#431214 76.73%,#3f1113 79.73%,#3e1012 80.23%,#3a0f11 82.73%,#360e10 85.22%,#350e10 85.72%,#2c0c0e 88.72%,#230a0b 91.71%,#20090a 92.71%,#1a0808 94.71%,#160707 96.21%,#130606 97.70%,#0f0505 100.00%)"></div><div style="top:166.92px;height:2.60px;background:linear-gradient(90deg,#020101 0.00%,#020101 0.85%,#020101 4.84%,#020101 8.84%,#020101 12.83%,#020101 16.82%,#020101 20.82%,#020101 24.81%,#020101 28.81%,#020101 32.80%,#020101 36.79%,#020101 39.49%,#320d0f 39.64%,#461315 39.84%,#2d0c0e 40.09%,#280b0c 40.79%,#290b0d 41.79%,#2a0b0d 42.79%,#2a0b0d 43.78%,#2d0c0e 44.78%,#2f0d0f 45.78%,#370f11 46.78%,#3a0f11 47.03%,#4d1517 47.68%,#711f21 48.18%,#a72b30 48.63%,#c03136 49.15%,#a72b30 49.68%,#711f21 50.12%,#561719 50.62%,#4c1416 51.27%,#491315 52.77%,#481315 53.27%,#390f11 54.52%,#3e1113 55.52%,#401113 55.77%,#461315 56.71%,#461315 56.76%,#461315 56.81%,#461315 58.76%,#461315 61.76%,#461315 62.76%,#3c1012 63.75%,#3b1012 64.75%,#390f11 65.75%,#3d1012 66.20%,#3e1113 66.30%,#461315 67.25%,#461315 67.75%,#461315 70.74%,#461315 73.74%,#461315 75.24%,#441214 76.73%,#3f1113 79.73%,#3e1113 80.23%,#3b1012 82.73%,#370f11 85.22%,#350e10 85.72%,#2d0c0e 88.72%,#240a0b 91.71%,#20090a 92.71%,#1b0809 94.71%,#160707 96.21%,#130606 97.70%,#0f0505 100.00%)"></div><div style="top:168.92px;height:2.60px;background:linear-gradient(90deg,#020101 0.00%,#020101 0.85%,#020101 4.84%,#020101 8.84%,#020101 12.83%,#020101 16.82%,#020101 20.82%,#020101 24.81%,#020101 28.81%,#020101 32.80%,#020101 36.79%,#020101 39.49%,#340e10 39.64%,#481315 39.84%,#2e0c0e 40.09%,#290b0d 40.79%,#2a0b0d 41.79%,#2b0c0d 42.79%,#2c0c0e 43.78%,#2e0c0e 44.78%,#310d0f 45.78%,#390f11 46.78%,#3a1012 47.03%,#4a1416 47.68%,#6c1e20 48.18%,#a12a2f 48.63%,#bb3035 49.15%,#a12a2f 49.68%,#6c1e20 50.12%,#531618 50.62%,#4c1416 51.27%,#4b1416 52.77%,#4b1416 53.27%,#3b1012 54.52%,#401113 55.52%,#421214 55.77%,#481315 56.71%,#481315 56.76%,#481315 56.81%,#481315 58.76%,#481315 61.76%,#481315 62.76%,#3e1113 63.75%,#3d1012 64.75%,#3b1012 65.75%,#3f1113 66.20%,#401113 66.30%,#481315 67.25%,#481315 67.75%,#481315 70.74%,#481315 73.74%,#481315 75.24%,#461315 76.73%,#411113 79.73%,#401113 80.23%,#3d1012 82.73%,#390f11 85.22%,#370f11 85.72%,#2e0c0e 88.72%,#250a0c 91.71%,#22090b 92.71%,#1c0809 94.71%,#170707 96.21%,#140607 97.70%,#0f0505 100.00%)"></div><div style="top:170.92px;height:2.60px;background:linear-gradient(90deg,#020101 0.00%,#020101 0.85%,#020101 4.84%,#020101 8.84%,#020101 12.83%,#020101 16.82%,#020101 20.82%,#020101 24.81%,#020101 28.81%,#020101 32.80%,#020101 36.79%,#020101 39.49%,#330e10 39.64%,#471315 39.84%,#2e0c0e 40.09%,#290b0d 40.79%,#2a0b0d 41.79%,#2a0b0d 42.79%,#2b0c0d 43.78%,#2e0c0e 44.78%,#300d0f 45.78%,#380f11 46.78%,#3c1012 47.03%,#521618 47.68%,#782123 48.18%,#b02d32 48.63%,#c63338 49.15%,#b02d32 49.68%,#782123 50.12%,#5b191b 50.62%,#4f1517 51.27%,#4a1416 52.77%,#4a1416 53.27%,#3a1012 54.52%,#401113 55.52%,#411113 55.77%,#471315 56.71%,#471315 56.76%,#471315 56.81%,#471315 58.76%,#471315 61.76%,#471315 62.76%,#3d1012 63.75%,#3c1012 64.75%,#3a1012 65.75%,#3e1113 66.20%,#3f1113 66.30%,#471315 67.25%,#471315 67.75%,#471315 70.74%,#471315 73.74%,#471315 75.24%,#451214 76.73%,#401113 79.73%,#401113 80.23%,#3c1012 82.73%,#380f11 85.22%,#360f11 85.72%,#2e0c0e 88.72%,#240a0b 91.71%,#21090a 92.71%,#1b0809 94.71%,#170707 96.21%,#140606 97.70%,#0f0505 100.00%)"></div><div style="top:172.92px;height:2.60px;background:linear-gradient(90deg,#020101 0.00%,#020101 0.85%,#020101 4.84%,#020101 8.84%,#020101 12.83%,#020101 16.82%,#020101 20.82%,#020101 24.81%,#020101 28.81%,#020101 32.80%,#020101 36.79%,#020101 39.49%,#320d0f 39.64%,#451315 39.84%,#2d0c0e 40.09%,#280b0c 40.79%,#280b0d 41.79%,#290b0d 42.79%,#2a0b0d 43.78%,#2d0c0e 44.78%,#2f0d0f 45.78%,#370f11 46.78%,#370f11 47.03%,#451214 47.68%,#631b1d 48.18%,#93272c 48.63%,#b22e33 49.15%,#93272c 49.68%,#631b1d 50.12%,#4c1416 50.62%,#481315 51.27%,#491315 52.77%,#481315 53.27%,#390f11 54.52%,#3e1113 55.52%,#3f1113 55.77%,#451214 56.71%,#451315 56.76%,#451315 56.81%,#451315 58.76%,#451315 61.76%,#451315 62.76%,#3c1012 63.75%,#3a1012 64.75%,#390f11 65.75%,#3d1012 66.20%,#3e1012 66.30%,#451315 67.25%,#451315 67.75%,#451315 70.74%,#451315 73.74%,#451315 75.24%,#431214 76.73%,#3f1113 79.73%,#3e1113 80.23%,#3a1012 82.73%,#370f11 85.22%,#350e10 85.72%,#2d0c0e 88.72%,#230a0b 91.71%,#20090a 92.71%,#1b0808 94.71%,#160707 96.21%,#130606 97.70%,#0f0505 100.00%)"></div><div style="top:174.92px;height:2.60px;background:linear-gradient(90deg,#020101 0.00%,#020101 0.85%,#020101 4.84%,#020101 8.84%,#020101 12.83%,#020101 16.82%,#020101 20.82%,#020101 24.81%,#020101 28.81%,#020101 32.80%,#020101 36.79%,#020101 39.49%,#320d0f 39.64%,#451214 39.84%,#2d0c0e 40.09%,#280b0c 40.79%,#280b0d 41.79%,#290b0d 42.79%,#2a0b0d 43.78%,#2d0c0e 44.78%,#2f0d0f 45.78%,#370f11 46.78%,#390f11 47.03%,#4a1416 47.68%,#6c1d1f 48.18%,#9f2a2e 48.63%,#ba3035 49.15%,#9f2a2e 49.68%,#6c1d1f 50.12%,#521618 50.62%,#4a1416 51.27%,#481315 52.77%,#481315 53.27%,#390f11 54.52%,#3e1113 55.52%,#3f1113 55.77%,#451214 56.71%,#451214 56.76%,#451214 56.81%,#451214 58.76%,#451214 61.76%,#451214 62.76%,#3b1012 63.75%,#3a1012 64.75%,#390f11 65.75%,#3d1012 66.20%,#3e1012 66.30%,#451214 67.25%,#451214 67.75%,#451214 70.74%,#451214 73.74%,#451214 75.24%,#431214 76.73%,#3f1113 79.73%,#3e1113 80.23%,#3a1012 82.73%,#360f11 85.22%,#350e10 85.72%,#2d0c0e 88.72%,#230a0b 91.71%,#20090a 92.71%,#1b0808 94.71%,#160707 96.21%,#130606 97.70%,#0f0505 100.00%)"></div><div style="top:176.92px;height:2.60px;background:linear-gradient(90deg,#020101 0.00%,#020101 0.85%,#020101 4.84%,#020101 8.84%,#020101 12.83%,#020101 16.82%,#020101 20.82%,#020101 24.81%,#020101 28.81%,#020101 32.80%,#020101 36.79%,#020101 39.49%,#320d0f 39.64%,#461315 39.84%,#2d0c0e 40.09%,#280b0c 40.79%,#290b0d 41.79%,#290b0d 42.79%,#2a0b0d 43.78%,#2d0c0e 44.78%,#2f0d0f 45.78%,#370f11 46.78%,#390f11 47.03%,#4a1416 47.68%,#6d1e20 48.18%,#a12a2f 48.63%,#bc3035 49.15%,#a12a2f 49.68%,#6d1e20 50.12%,#531618 50.62%,#4b1416 51.27%,#491315 52.77%,#481315 53.27%,#390f11 54.52%,#3e1113 55.52%,#401113 55.77%,#451214 56.71%,#461315 56.76%,#461315 56.81%,#461315 58.76%,#461315 61.76%,#461315 62.76%,#3c1012 63.75%,#3a1012 64.75%,#390f11 65.75%,#3d1012 66.20%,#3e1012 66.30%,#461315 67.25%,#461315 67.75%,#461315 70.74%,#461315 73.74%,#461315 75.24%,#431214 76.73%,#3f1113 79.73%,#3e1113 80.23%,#3a1012 82.73%,#370f11 85.22%,#350e10 85.72%,#2d0c0e 88.72%,#230a0b 91.71%,#20090a 92.71%,#1b0808 94.71%,#160707 96.21%,#130606 97.70%,#0f0505 100.00%)"></div><div style="top:178.92px;height:2.60px;background:linear-gradient(90deg,#020101 0.00%,#020101 0.85%,#020101 4.84%,#020101 8.84%,#020101 12.83%,#020101 16.82%,#020101 20.82%,#020101 24.81%,#020101 28.81%,#020101 32.80%,#020101 36.79%,#020101 39.49%,#340e10 39.64%,#491315 39.84%,#2f0c0e 40.09%,#2a0b0d 40.79%,#2a0b0d 41.79%,#2b0c0d 42.79%,#2c0c0e 43.78%,#2f0c0e 44.78%,#310d0f 45.78%,#3a0f11 46.78%,#3a0f11 47.03%,#481315 47.68%,#681c1e 48.18%,#9a292d 48.63%,#b72f34 49.15%,#9a292d 49.68%,#681c1e 50.12%,#501618 50.62%,#4b1416 51.27%,#4c1416 52.77%,#4b1416 53.27%,#3c1012 54.52%,#411113 55.52%,#421214 55.77%,#481315 56.71%,#491315 56.76%,#491315 56.81%,#491315 58.76%,#491315 61.76%,#491315 62.76%,#3e1113 63.75%,#3d1012 64.75%,#3c1012 65.75%,#401113 66.20%,#401113 66.30%,#491315 67.25%,#491315 67.75%,#491315 70.74%,#491315 73.74%,#491315 75.24%,#461315 76.73%,#421214 79.73%,#411113 80.23%,#3d1012 82.73%,#390f11 85.22%,#380f11 85.72%,#2f0c0e 88.72%,#250a0c 91.71%,#22090b 92.71%,#1c0809 94.71%,#170708 96.21%,#140607 97.70%,#100505 100.00%)"></div><div style="top:180.92px;height:2.60px;background:linear-gradient(90deg,#020101 0.00%,#020101 0.85%,#020101 4.84%,#020101 8.84%,#020101 12.83%,#020101 16.82%,#020101 20.82%,#020101 24.81%,#020101 28.81%,#020101 32.80%,#020101 36.79%,#020101 39.49%,#310d0f 39.64%,#451214 39.84%,#2d0c0e 40.09%,#280b0c 40.79%,#280b0d 41.79%,#290b0d 42.79%,#2a0b0d 43.78%,#2d0c0e 44.78%,#2f0d0f 45.78%,#370f11 46.78%,#3b1012 47.03%,#531618 47.68%,#792124 48.18%,#b12e33 48.63%,#c73338 49.15%,#b12e33 49.68%,#792124 50.12%,#5b191b 50.62%,#4e1517 51.27%,#481315 52.77%,#481315 53.27%,#390f11 54.52%,#3e1012 55.52%,#3f1113 55.77%,#451214 56.71%,#451214 56.76%,#451214 56.81%,#451214 58.76%,#451214 61.76%,#451214 62.76%,#3b1012 63.75%,#3a0f11 64.75%,#390f11 65.75%,#3d1012 66.20%,#3d1012 66.30%,#451214 67.25%,#451214 67.75%,#451214 70.74%,#451214 73.74%,#451214 75.24%,#431214 76.73%,#3f1113 79.73%,#3e1012 80.23%,#3a0f11 82.73%,#360f11 85.22%,#350e10 85.72%,#2d0c0e 88.72%,#230a0b 91.71%,#20090a 92.71%,#1a0808 94.71%,#160707 96.21%,#130606 97.70%,#0f0505 100.00%)"></div><div style="top:182.92px;height:2.60px;background:linear-gradient(90deg,#020101 0.00%,#020101 0.85%,#020101 4.84%,#020101 8.84%,#020101 12.83%,#020101 16.82%,#020101 20.82%,#020101 24.81%,#020101 28.81%,#020101 32.80%,#020101 36.79%,#020101 39.49%,#320d0f 39.64%,#451315 39.84%,#2d0c0e 40.09%,#280b0c 40.79%,#290b0d 41.79%,#290b0d 42.79%,#2a0b0d 43.78%,#2d0c0e 44.78%,#2f0d0f 45.78%,#370f11 46.78%,#3b1012 47.03%,#521618 47.68%,#782123 48.18%,#b02d32 48.63%,#c63338 49.15%,#b02d32 49.68%,#782123 50.12%,#5a181a 50.62%,#4e1517 51.27%,#491315 52.77%,#481315 53.27%,#390f11 54.52%,#3e1113 55.52%,#401113 55.77%,#451214 56.71%,#451315 56.76%,#451315 56.81%,#451315 58.76%,#451315 61.76%,#451315 62.76%,#3c1012 63.75%,#3a1012 64.75%,#390f11 65.75%,#3d1012 66.20%,#3e1012 66.30%,#451315 67.25%,#451315 67.75%,#451315 70.74%,#451315 73.74%,#451315 75.24%,#431214 76.73%,#3f1113 79.73%,#3e1113 80.23%,#3a1012 82.73%,#370f11 85.22%,#350e10 85.72%,#2d0c0e 88.72%,#230a0b 91.71%,#20090a 92.71%,#1b0808 94.71%,#160707 96.21%,#130606 97.70%,#0f0505 100.00%)"></div><div style="top:184.91px;height:2.60px;background:linear-gradient(90deg,#020101 0.00%,#020101 0.85%,#020101 4.84%,#020101 8.84%,#020101 12.83%,#020101 16.82%,#020101 20.82%,#020101 24.81%,#020101 28.81%,#020101 32.80%,#020101 36.79%,#020101 39.49%,#320d0f 39.64%,#471315 39.84%,#2d0c0e 40.09%,#280b0d 40.79%,#290b0d 41.79%,#2a0b0d 42.79%,#2b0c0d 43.78%,#2d0c0e 44.78%,#300d0f 45.78%,#380f11 46.78%,#390f11 47.03%,#4a1416 47.68%,#6b1d1f 48.18%,#9f2a2e 48.63%,#ba3035 49.15%,#9f2a2e 49.68%,#6b1d1f 50.12%,#521618 50.62%,#4b1416 51.27%,#4a1416 52.77%,#491416 53.27%,#3a0f11 54.52%,#3f1113 55.52%,#411113 55.77%,#461315 56.71%,#471315 56.76%,#471315 56.81%,#471315 58.76%,#471315 61.76%,#471315 62.76%,#3d1012 63.75%,#3b1012 64.75%,#3a0f11 65.75%,#3e1012 66.20%,#3f1113 66.30%,#471315 67.25%,#471315 67.75%,#471315 70.74%,#471315 73.74%,#471315 75.24%,#441214 76.73%,#401113 79.73%,#3f1113 80.23%,#3b1012 82.73%,#370f11 85.22%,#360e10 85.72%,#2d0c0e 88.72%,#240a0b 91.71%,#21090a 92.71%,#1b0809 94.71%,#170707 96.21%,#140606 97.70%,#0f0505 100.00%)"></div><div style="top:186.91px;height:2.60px;background:linear-gradient(90deg,#020101 0.00%,#020101 0.85%,#020101 4.84%,#020101 8.84%,#020101 12.83%,#020101 16.82%,#020101 20.82%,#020101 24.81%,#020101 28.81%,#020101 32.80%,#020101 36.79%,#020101 39.49%,#320d0f 39.64%,#461315 39.84%,#2d0c0e 40.09%,#280b0c 40.79%,#290b0d 41.79%,#2a0b0d 42.79%,#2a0b0d 43.78%,#2d0c0e 44.78%,#2f0d0f 45.78%,#370f11 46.78%,#3a1012 47.03%,#4f1517 47.68%,#731f22 48.18%,#aa2c31 48.63%,#c23237 49.15%,#aa2c31 49.68%,#731f22 50.12%,#57181a 50.62%,#4c1416 51.27%,#491315 52.77%,#481315 53.27%,#390f11 54.52%,#3e1113 55.52%,#401113 55.77%,#451315 56.71%,#461315 56.76%,#461315 56.81%,#461315 58.76%,#461315 61.76%,#461315 62.76%,#3c1012 63.75%,#3b1012 64.75%,#390f11 65.75%,#3d1012 66.20%,#3e1113 66.30%,#461315 67.25%,#461315 67.75%,#461315 70.74%,#461315 73.74%,#461315 75.24%,#441214 76.73%,#3f1113 79.73%,#3e1113 80.23%,#3b1012 82.73%,#370f11 85.22%,#350e10 85.72%,#2d0c0e 88.72%,#240a0b 91.71%,#20090a 92.71%,#1b0809 94.71%,#160707 96.21%,#130606 97.70%,#0f0505 100.00%)"></div><div style="top:188.91px;height:2.60px;background:linear-gradient(90deg,#020101 0.00%,#020101 0.85%,#020101 4.84%,#020101 8.84%,#020101 12.83%,#020101 16.82%,#020101 20.82%,#020101 24.81%,#020101 28.81%,#020101 32.80%,#020101 36.79%,#020101 39.49%,#320d0f 39.64%,#461315 39.84%,#2d0c0e 40.09%,#280b0c 40.79%,#290b0d 41.79%,#290b0d 42.79%,#2a0b0d 43.78%,#2d0c0e 44.78%,#2f0d0f 45.78%,#370f11 46.78%,#3a0f11 47.03%,#4d1416 47.68%,#701f21 48.18%,#a52b30 48.63%,#bf3136 49.15%,#a52b30 49.68%,#701f21 50.12%,#551719 50.62%,#4b1416 51.27%,#491315 52.77%,#481315 53.27%,#390f11 54.52%,#3e1113 55.52%,#401113 55.77%,#451214 56.71%,#461315 56.76%,#461315 56.81%,#461315 58.76%,#461315 61.76%,#461315 62.76%,#3c1012 63.75%,#3a1012 64.75%,#390f11 65.75%,#3d1012 66.20%,#3e1012 66.30%,#461315 67.25%,#461315 67.75%,#461315 70.74%,#461315 73.74%,#461315 75.24%,#431214 76.73%,#3f1113 79.73%,#3e1113 80.23%,#3a1012 82.73%,#370f11 85.22%,#350e10 85.72%,#2d0c0e 88.72%,#230a0b 91.71%,#20090a 92.71%,#1b0808 94.71%,#160707 96.21%,#130606 97.70%,#0f0505 100.00%)"></div><div style="top:190.91px;height:2.60px;background:linear-gradient(90deg,#020101 0.00%,#020101 0.85%,#020101 4.84%,#020101 8.84%,#020101 12.83%,#020101 16.82%,#020101 20.82%,#020101 24.81%,#020101 28.81%,#020101 32.80%,#020101 36.79%,#020101 39.49%,#310d0f 39.64%,#441214 39.84%,#2c0c0e 40.09%,#270b0c 40.79%,#280b0c 41.79%,#290b0d 42.79%,#290b0d 43.78%,#2c0c0e 44.78%,#2e0c0e 45.78%,#360e10 46.78%,#370f11 47.03%,#461315 47.68%,#651b1d 48.18%,#94282c 48.63%,#b32e33 49.15%,#94282c 49.68%,#651b1d 50.12%,#4d1517 50.62%,#471315 51.27%,#471315 52.77%,#461315 53.27%,#380f11 54.52%,#3d1012 55.52%,#3e1113 55.77%,#441214 56.71%,#441214 56.76%,#441214 56.81%,#441214 58.76%,#441214 61.76%,#441214 62.76%,#3a1012 63.75%,#390f11 64.75%,#380f11 65.75%,#3c1012 66.20%,#3c1012 66.30%,#441214 67.25%,#441214 67.75%,#441214 70.74%,#441214 73.74%,#441214 75.24%,#421214 76.73%,#3d1012 79.73%,#3d1012 80.23%,#390f11 82.73%,#350e10 85.22%,#340e10 85.72%,#2c0c0e 88.72%,#230a0b 91.71%,#20090a 92.71%,#1a0808 94.71%,#160707 96.21%,#130606 97.70%,#0f0505 100.00%)"></div><div style="top:192.91px;height:2.60px;background:linear-gradient(90deg,#020101 0.00%,#020101 0.85%,#020101 4.84%,#020101 8.84%,#020101 12.83%,#020101 16.82%,#020101 20.82%,#020101 24.81%,#020101 28.81%,#020101 32.80%,#020101 36.79%,#020101 39.49%,#320d0f 39.64%,#461315 39.84%,#2d0c0e 40.09%,#280b0c 40.79%,#290b0d 41.79%,#2a0b0d 42.79%,#2a0b0d 43.78%,#2d0c0e 44.78%,#2f0d0f 45.78%,#370f11 46.78%,#3c1012 47.03%,#561719 47.68%,#7d2225 48.18%,#b42e33 48.63%,#ca3439 49.15%,#b42e33 49.68%,#7d2225 50.12%,#5e1a1c 50.62%,#501517 51.27%,#491315 52.77%,#481315 53.27%,#390f11 54.52%,#3e1113 55.52%,#401113 55.77%,#461315 56.71%,#461315 56.76%,#461315 56.81%,#461315 58.76%,#461315 61.76%,#461315 62.76%,#3c1012 63.75%,#3b1012 64.75%,#390f11 65.75%,#3d1012 66.20%,#3e1113 66.30%,#461315 67.25%,#461315 67.75%,#461315 70.74%,#461315 73.74%,#461315 75.24%,#441214 76.73%,#3f1113 79.73%,#3e1113 80.23%,#3b1012 82.73%,#370f11 85.22%,#360e10 85.72%,#2d0c0e 88.72%,#240a0b 91.71%,#20090a 92.71%,#1b0809 94.71%,#160707 96.21%,#140606 97.70%,#0f0505 100.00%)"></div><div style="top:194.91px;height:2.60px;background:linear-gradient(90deg,#020101 0.00%,#020101 0.85%,#020101 4.84%,#020101 8.84%,#020101 12.83%,#020101 16.82%,#020101 20.82%,#020101 24.81%,#020101 28.81%,#020101 32.80%,#020101 36.79%,#020101 39.49%,#310d0f 39.64%,#451214 39.84%,#2d0c0e 40.09%,#280b0c 40.79%,#280b0d 41.79%,#290b0d 42.79%,#2a0b0d 43.78%,#2d0c0e 44.78%,#2f0d0f 45.78%,#370f11 46.78%,#3b1012 47.03%,#531618 47.68%,#792124 48.18%,#b12e33 48.63%,#c73338 49.15%,#b12e33 49.68%,#792124 50.12%,#5c191b 50.62%,#4e1517 51.27%,#481315 52.77%,#481315 53.27%,#390f11 54.52%,#3e1012 55.52%,#3f1113 55.77%,#451214 56.71%,#451214 56.76%,#451214 56.81%,#451214 58.76%,#451214 61.76%,#451214 62.76%,#3b1012 63.75%,#3a0f11 64.75%,#390f11 65.75%,#3d1012 66.20%,#3d1012 66.30%,#451214 67.25%,#451214 67.75%,#451214 70.74%,#451214 73.74%,#451214 75.24%,#431214 76.73%,#3f1113 79.73%,#3e1012 80.23%,#3a0f11 82.73%,#360f11 85.22%,#350e10 85.72%,#2d0c0e 88.72%,#230a0b 91.71%,#20090a 92.71%,#1a0808 94.71%,#160707 96.21%,#130606 97.70%,#0f0505 100.00%)"></div><div style="top:196.91px;height:2.60px;background:linear-gradient(90deg,#020101 0.00%,#020101 0.85%,#020101 4.84%,#020101 8.84%,#020101 12.83%,#020101 16.82%,#020101 20.82%,#020101 24.81%,#020101 28.81%,#020101 32.80%,#020101 36.79%,#020101 39.49%,#330e10 39.64%,#481315 39.84%,#2e0c0e 40.09%,#290b0d 40.79%,#2a0b0d 41.79%,#2b0c0d 42.79%,#2c0c0e 43.78%,#2e0c0e 44.78%,#310d0f 45.78%,#390f11 46.78%,#3e1012 47.03%,#58181a 47.68%,#802326 48.18%,#b72f34 48.63%,#cd353a 49.15%,#b72f34 49.68%,#802326 50.12%,#611a1c 50.62%,#521618 51.27%,#4b1416 52.77%,#4b1416 53.27%,#3b1012 54.52%,#401113 55.52%,#421214 55.77%,#481315 56.71%,#481315 56.76%,#481315 56.81%,#481315 58.76%,#481315 61.76%,#481315 62.76%,#3e1012 63.75%,#3c1012 64.75%,#3b1012 65.75%,#3f1113 66.20%,#401113 66.30%,#481315 67.25%,#481315 67.75%,#481315 70.74%,#481315 73.74%,#481315 75.24%,#461315 76.73%,#411113 79.73%,#401113 80.23%,#3c1012 82.73%,#390f11 85.22%,#370f11 85.72%,#2e0c0e 88.72%,#250a0b 91.71%,#21090b 92.71%,#1c0809 94.71%,#170707 96.21%,#140607 97.70%,#0f0505 100.00%)"></div><div style="top:198.91px;height:2.60px;background:linear-gradient(90deg,#020101 0.00%,#020101 0.85%,#020101 4.84%,#020101 8.84%,#020101 12.83%,#020101 16.82%,#020101 20.82%,#020101 24.81%,#020101 28.81%,#020101 32.80%,#020101 36.79%,#020101 39.49%,#330e10 39.64%,#471315 39.84%,#2e0c0e 40.09%,#290b0d 40.79%,#2a0b0d 41.79%,#2a0b0d 42.79%,#2b0c0d 43.78%,#2e0c0e 44.78%,#300d0f 45.78%,#380f11 46.78%,#3b1012 47.03%,#501618 47.68%,#752022 48.18%,#ae2d32 48.63%,#c43237 49.15%,#ae2d32 49.68%,#752022 50.12%,#59181a 50.62%,#4e1517 51.27%,#4a1416 52.77%,#4a1416 53.27%,#3a1012 54.52%,#401113 55.52%,#411113 55.77%,#471315 56.71%,#471315 56.76%,#471315 56.81%,#471315 58.76%,#471315 61.76%,#471315 62.76%,#3d1012 63.75%,#3c1012 64.75%,#3a1012 65.75%,#3e1113 66.20%,#3f1113 66.30%,#471315 67.25%,#471315 67.75%,#471315 70.74%,#471315 73.74%,#471315 75.24%,#451214 76.73%,#401113 79.73%,#401113 80.23%,#3c1012 82.73%,#380f11 85.22%,#360f11 85.72%,#2e0c0e 88.72%,#240a0b 91.71%,#21090a 92.71%,#1b0809 94.71%,#170707 96.21%,#140606 97.70%,#0f0505 100.00%)"></div><div style="top:200.91px;height:2.60px;background:linear-gradient(90deg,#020101 0.00%,#020101 0.85%,#020101 4.84%,#020101 8.84%,#020101 12.83%,#020101 16.82%,#020101 20.82%,#020101 24.81%,#020101 28.81%,#020101 32.80%,#020101 36.79%,#020101 39.49%,#320d0f 39.64%,#461315 39.84%,#2d0c0e 40.09%,#280b0c 40.79%,#290b0d 41.79%,#2a0b0d 42.79%,#2a0b0d 43.78%,#2d0c0e 44.78%,#2f0d0f 45.78%,#370f11 46.78%,#3b1012 47.03%,#531618 47.68%,#792124 48.18%,#b12e33 48.63%,#c73338 49.15%,#b12e33 49.68%,#792124 50.12%,#5c191b 50.62%,#4e1517 51.27%,#491315 52.77%,#481315 53.27%,#390f11 54.52%,#3e1113 55.52%,#401113 55.77%,#461315 56.71%,#461315 56.76%,#461315 56.81%,#461315 58.76%,#461315 61.76%,#461315 62.76%,#3c1012 63.75%,#3b1012 64.75%,#390f11 65.75%,#3d1012 66.20%,#3e1113 66.30%,#461315 67.25%,#461315 67.75%,#461315 70.74%,#461315 73.74%,#461315 75.24%,#441214 76.73%,#3f1113 79.73%,#3e1113 80.23%,#3b1012 82.73%,#370f11 85.22%,#360e10 85.72%,#2d0c0e 88.72%,#240a0b 91.71%,#20090a 92.71%,#1b0809 94.71%,#160707 96.21%,#140606 97.70%,#0f0505 100.00%)"></div><div style="top:202.91px;height:2.60px;background:linear-gradient(90deg,#020101 0.00%,#020101 0.85%,#020101 4.84%,#020101 8.84%,#020101 12.83%,#020101 16.82%,#020101 20.82%,#020101 24.81%,#020101 28.81%,#020101 32.80%,#020101 36.79%,#020101 39.49%,#330e10 39.64%,#471315 39.84%,#2e0c0e 40.09%,#290b0d 40.79%,#2a0b0d 41.79%,#2a0b0d 42.79%,#2b0c0d 43.78%,#2e0c0e 44.78%,#300d0f 45.78%,#380f11 46.78%,#3c1012 47.03%,#551719 47.68%,#7c2225 48.18%,#b42e33 48.63%,#c93439 49.15%,#b42e33 49.68%,#7c2225 50.12%,#5e191b 50.62%,#501517 51.27%,#4a1416 52.77%,#4a1416 53.27%,#3a1012 54.52%,#401113 55.52%,#411113 55.77%,#471315 56.71%,#471315 56.76%,#471315 56.81%,#471315 58.76%,#471315 61.76%,#471315 62.76%,#3d1012 63.75%,#3c1012 64.75%,#3a1012 65.75%,#3e1113 66.20%,#3f1113 66.30%,#471315 67.25%,#471315 67.75%,#471315 70.74%,#471315 73.74%,#471315 75.24%,#451214 76.73%,#401113 79.73%,#401113 80.23%,#3c1012 82.73%,#380f11 85.22%,#360f11 85.72%,#2e0c0e 88.72%,#240a0b 91.71%,#21090a 92.71%,#1b0809 94.71%,#170707 96.21%,#140606 97.70%,#0f0505 100.00%)"></div><div style="top:204.90px;height:2.60px;background:linear-gradient(90deg,#020101 0.00%,#020101 0.85%,#020101 4.84%,#020101 8.84%,#020101 12.83%,#020101 16.82%,#020101 20.82%,#020101 24.81%,#020101 28.81%,#020101 32.80%,#020101 36.79%,#020101 39.49%,#320d0f 39.64%,#451315 39.84%,#2d0c0e 40.09%,#280b0c 40.79%,#280b0d 41.79%,#290b0d 42.79%,#2a0b0d 43.78%,#2d0c0e 44.78%,#2f0d0f 45.78%,#370f11 46.78%,#3d1012 47.03%,#5a181a 47.68%,#832327 48.18%,#b92f34 48.63%,#cf363b 49.15%,#b92f34 49.68%,#832327 50.12%,#621b1d 50.62%,#511618 51.27%,#491315 52.77%,#481315 53.27%,#390f11 54.52%,#3e1113 55.52%,#3f1113 55.77%,#451214 56.71%,#451315 56.76%,#451315 56.81%,#451315 58.76%,#451315 61.76%,#451315 62.76%,#3b1012 63.75%,#3a1012 64.75%,#390f11 65.75%,#3d1012 66.20%,#3e1012 66.30%,#451315 67.25%,#451315 67.75%,#451315 70.74%,#451315 73.74%,#451315 75.24%,#431214 76.73%,#3f1113 79.73%,#3e1113 80.23%,#3a1012 82.73%,#370f11 85.22%,#350e10 85.72%,#2d0c0e 88.72%,#230a0b 91.71%,#20090a 92.71%,#1b0808 94.71%,#160707 96.21%,#130606 97.70%,#0f0505 100.00%)"></div><div style="top:206.90px;height:2.60px;background:linear-gradient(90deg,#020101 0.00%,#020101 0.85%,#020101 4.84%,#020101 8.84%,#020101 12.83%,#020101 16.82%,#020101 20.82%,#020101 24.81%,#020101 28.81%,#020101 32.80%,#020101 36.79%,#020101 39.49%,#330e10 39.64%,#481315 39.84%,#2e0c0e 40.09%,#290b0d 40.79%,#2a0b0d 41.79%,#2b0b0d 42.79%,#2c0c0e 43.78%,#2e0c0e 44.78%,#310d0f 45.78%,#390f11 46.78%,#3e1012 47.03%,#59181a 47.68%,#812326 48.18%,#b82f34 48.63%,#ce353a 49.15%,#b82f34 49.68%,#812326 50.12%,#621a1c 50.62%,#521618 51.27%,#4b1416 52.77%,#4a1416 53.27%,#3b1012 54.52%,#401113 55.52%,#421214 55.77%,#481315 56.71%,#481315 56.76%,#481315 56.81%,#481315 58.76%,#481315 61.76%,#481315 62.76%,#3e1012 63.75%,#3c1012 64.75%,#3b1012 65.75%,#3f1113 66.20%,#401113 66.30%,#481315 67.25%,#481315 67.75%,#481315 70.74%,#481315 73.74%,#481315 75.24%,#461315 76.73%,#411113 79.73%,#401113 80.23%,#3c1012 82.73%,#380f11 85.22%,#370f11 85.72%,#2e0c0e 88.72%,#250a0b 91.71%,#21090b 92.71%,#1b0809 94.71%,#170707 96.21%,#140607 97.70%,#0f0505 100.00%)"></div><div style="top:208.90px;height:2.60px;background:linear-gradient(90deg,#020101 0.00%,#020101 0.85%,#020101 4.84%,#020101 8.84%,#020101 12.83%,#020101 16.82%,#020101 20.82%,#020101 24.81%,#020101 28.81%,#020101 32.80%,#020101 36.79%,#020101 39.49%,#320d0f 39.64%,#461315 39.84%,#2d0c0e 40.09%,#280b0c 40.79%,#290b0d 41.79%,#2a0b0d 42.79%,#2a0b0d 43.78%,#2d0c0e 44.78%,#2f0d0f 45.78%,#370f11 46.78%,#3c1012 47.03%,#541719 47.68%,#7b2124 48.18%,#b32e33 48.63%,#c93439 49.15%,#b32e33 49.68%,#7b2124 50.12%,#5d191b 50.62%,#4f1517 51.27%,#491315 52.77%,#481315 53.27%,#390f11 54.52%,#3e1113 55.52%,#401113 55.77%,#461315 56.71%,#461315 56.76%,#461315 56.81%,#461315 58.76%,#461315 61.76%,#461315 62.76%,#3c1012 63.75%,#3b1012 64.75%,#390f11 65.75%,#3d1012 66.20%,#3e1113 66.30%,#461315 67.25%,#461315 67.75%,#461315 70.74%,#461315 73.74%,#461315 75.24%,#441214 76.73%,#3f1113 79.73%,#3e1113 80.23%,#3b1012 82.73%,#370f11 85.22%,#360e10 85.72%,#2d0c0e 88.72%,#240a0b 91.71%,#20090a 92.71%,#1b0809 94.71%,#160707 96.21%,#140606 97.70%,#0f0505 100.00%)"></div><div style="top:210.90px;height:2.60px;background:linear-gradient(90deg,#020101 0.00%,#020101 0.85%,#020101 4.84%,#020101 8.84%,#020101 12.83%,#020101 16.82%,#020101 20.82%,#020101 24.81%,#020101 28.81%,#020101 32.80%,#020101 36.79%,#020101 39.49%,#330e10 39.64%,#471315 39.84%,#2e0c0e 40.09%,#290b0d 40.79%,#290b0d 41.79%,#2a0b0d 42.79%,#2b0c0d 43.78%,#2e0c0e 44.78%,#300d0f 45.78%,#380f11 46.78%,#3e1113 47.03%,#5e191b 47.68%,#882529 48.18%,#bd3136 48.63%,#d4373c 49.15%,#bd3136 49.68%,#882529 50.12%,#671c1e 50.62%,#541719 51.27%,#4a1416 52.77%,#4a1416 53.27%,#3a1012 54.52%,#3f1113 55.52%,#411113 55.77%,#471315 56.71%,#471315 56.76%,#471315 56.81%,#471315 58.76%,#471315 61.76%,#471315 62.76%,#3d1012 63.75%,#3c1012 64.75%,#3a1012 65.75%,#3e1113 66.20%,#3f1113 66.30%,#471315 67.25%,#471315 67.75%,#471315 70.74%,#471315 73.74%,#471315 75.24%,#451214 76.73%,#401113 79.73%,#3f1113 80.23%,#3c1012 82.73%,#380f11 85.22%,#360e10 85.72%,#2e0c0e 88.72%,#240a0b 91.71%,#21090a 92.71%,#1b0809 94.71%,#170707 96.21%,#140606 97.70%,#0f0505 100.00%)"></div></div>
<div class="hm" style="left:52.6px;top:0;width:200.8px;height:0"><div style="top:291.00px;height:2.59px;background:linear-gradient(90deg,#0520f8 0.00%,#0520f8 3.69%,#0520f8 7.67%,#0520f8 11.65%,#0520f8 15.64%,#0520f8 19.62%,#0520f8 23.61%,#0520f8 27.59%,#0520f8 31.57%,#0520f8 35.56%,#0520f8 39.54%,#0520f8 40.09%,#00c1ff 40.19%,#88ff00 40.44%,#88ff00 40.79%,#00f9e6 41.28%,#00d7ff 41.78%,#00f6d1 42.28%,#00ff38 42.78%,#abff00 43.28%,#ff7c00 43.77%,#fc2e06 44.27%,#fe4902 44.77%,#ffa400 45.27%,#cdff00 45.77%,#49ff00 46.26%,#00ff0d 46.76%,#00ff34 47.26%,#00ff4b 47.76%,#00fe61 48.26%,#00fd73 48.75%,#00fb83 49.25%,#00fa8b 49.50%,#00f7ad 50.75%,#00f5c9 51.99%,#00f7db 53.24%,#00f9eb 54.48%,#00ecf8 55.73%,#00daff 56.97%,#00caff 58.22%,#00bfff 59.46%,#00b8ff 60.71%,#00b5ff 61.95%,#00b7ff 63.20%,#00bfff 64.44%,#00ceff 65.69%,#00e2fe 66.93%,#00faee 68.18%,#00f8df 69.42%,#00f6d4 70.67%,#00f6cc 71.91%,#00f5ca 73.16%,#00f6ce 74.40%,#00f7d4 75.65%,#00f7db 76.89%,#00f8e1 78.14%,#00f9e8 79.38%,#00f9eb 80.63%,#00faed 81.87%,#00faf0 83.12%,#00f7f2 84.36%,#00f4f4 85.61%,#00eef7 86.85%,#00e7fb 88.10%,#00dfff 89.34%,#00d3ff 90.59%,#00c8ff 91.83%,#00baff 93.08%,#00adff 94.32%,#00a0ff 95.57%,#0091ff 96.81%,#0081ff 98.06%,#006fff 100.00%)"></div><div style="top:292.99px;height:2.59px;background:linear-gradient(90deg,#0520f8 0.00%,#0520f8 3.69%,#0520f8 7.67%,#0520f8 11.65%,#0520f8 15.64%,#0520f8 19.62%,#0520f8 23.61%,#0520f8 27.59%,#0520f8 31.57%,#0520f8 35.56%,#0520f8 39.54%,#0520f8 40.09%,#00baff 40.19%,#6aff00 40.44%,#6bff00 40.79%,#00f9e6 41.28%,#00d9ff 41.78%,#00f6cf 42.28%,#00ff34 42.78%,#b3ff00 43.28%,#ff7500 43.77%,#fc2707 44.27%,#fd4203 44.77%,#ff9c00 45.27%,#d5ff00 45.77%,#4eff00 46.26%,#00ff0a 46.76%,#00ff30 47.26%,#00ff48 47.76%,#00ff5e 48.26%,#00fd70 48.75%,#00fb80 49.25%,#00fa88 49.50%,#00f8a9 50.75%,#00f5c4 51.99%,#00f7d7 53.24%,#00f9e7 54.48%,#00f2f5 55.73%,#00e1ff 56.97%,#00d2ff 58.22%,#00c7ff 59.46%,#00c0ff 60.71%,#00beff 61.95%,#00c0ff 63.20%,#00c7ff 64.44%,#00d6ff 65.69%,#00e7fb 66.93%,#00f9eb 68.18%,#00f8dc 69.42%,#00f6d2 70.67%,#00f5cb 71.91%,#00f5c9 73.16%,#00f6cd 74.40%,#00f6d3 75.65%,#00f7da 76.89%,#00f8e0 78.14%,#00f9e8 79.38%,#00f9ea 80.63%,#00f9ec 81.87%,#00faf0 83.12%,#00f7f2 84.36%,#00f4f4 85.61%,#00eff7 86.85%,#00e8fb 88.10%,#00dfff 89.34%,#00d3ff 90.59%,#00c8ff 91.83%,#00baff 93.08%,#00adff 94.32%,#00a0ff 95.57%,#0091ff 96.81%,#0081ff 98.06%,#006fff 100.00%)"></div><div style="top:294.99px;height:2.59px;background:linear-gradient(90deg,#0520f8 0.00%,#0520f8 3.69%,#0520f8 7.67%,#0520f8 11.65%,#0520f8 15.64%,#0520f8 19.62%,#0520f8 23.61%,#0520f8 27.59%,#0520f8 31.57%,#0520f8 35.56%,#0520f8 39.54%,#0520f8 40.09%,#00b1ff 40.19%,#4bff00 40.44%,#4cff00 40.79%,#00f9e6 41.28%,#00dbff 41.78%,#00f6cd 42.28%,#00ff30 42.78%,#bcff00 43.28%,#ff6d00 43.77%,#fb1f08 44.27%,#fd3b04 44.77%,#ff9500 45.27%,#deff00 45.77%,#54ff00 46.26%,#00ff06 46.76%,#00ff2c 47.26%,#00ff44 47.76%,#00ff59 48.26%,#00fd6b 48.75%,#00fc7b 49.25%,#00fb83 49.50%,#00f8a4 50.75%,#00f6bf 51.99%,#00f6d3 53.24%,#00f8e2 54.48%,#00f9f1 55.73%,#00e9fa 56.97%,#00dcff 58.22%,#00d1ff 59.46%,#00cbff 60.71%,#00c9ff 61.95%,#00cbff 63.20%,#00d2ff 64.44%,#00dfff 65.69%,#00eef7 66.93%,#00f9e7 68.18%,#00f7d9 69.42%,#00f6d0 70.67%,#00f5c9 71.91%,#00f5c7 73.16%,#00f5cb 74.40%,#00f6d2 75.65%,#00f7d8 76.89%,#00f8df 78.14%,#00f9e6 79.38%,#00f9e9 80.63%,#00f9eb 81.87%,#00faef 83.12%,#00f8f1 84.36%,#00f5f3 85.61%,#00eff7 86.85%,#00e8fb 88.10%,#00dfff 89.34%,#00d3ff 90.59%,#00c8ff 91.83%,#00baff 93.08%,#00adff 94.32%,#00a0ff 95.57%,#0091ff 96.81%,#0081ff 98.06%,#006fff 100.00%)"></div><div style="top:296.98px;height:2.59px;background:linear-gradient(90deg,#0520f8 0.00%,#0520f8 3.69%,#0520f8 7.67%,#0520f8 11.65%,#0520f8 15.64%,#0520f8 19.62%,#0520f8 23.61%,#0520f8 27.59%,#0520f8 31.57%,#0520f8 35.56%,#0520f8 39.54%,#0520f8 40.09%,#00a7ff 40.19%,#23ff00 40.44%,#24ff00 40.79%,#00f9e6 41.28%,#00ddff 41.78%,#00f5cb 42.28%,#00ff2b 42.78%,#c4ff00 43.28%,#ff6500 43.77%,#fb1809 44.27%,#fc3305 44.77%,#ff8e00 45.27%,#e7ff00 45.77%,#5aff00 46.26%,#00ff01 46.76%,#00ff27 47.26%,#00ff3f 47.76%,#00ff54 48.26%,#00fe66 48.75%,#00fc76 49.25%,#00fb7d 49.50%,#00f99d 50.75%,#00f6b7 51.99%,#00f6cd 53.24%,#00f7db 54.48%,#00f9ea 55.73%,#00f2f5 56.97%,#00e6fc 58.22%,#00ddff 59.46%,#00d7ff 60.71%,#00d5ff 61.95%,#00d7ff 63.20%,#00ddff 64.44%,#00e8fb 65.69%,#00f5f3 66.93%,#00f8e2 68.18%,#00f7d5 69.42%,#00f6cd 70.67%,#00f5c6 71.91%,#00f5c3 73.16%,#00f5c8 74.40%,#00f6cf 75.65%,#00f7d6 76.89%,#00f8dc 78.14%,#00f8e4 79.38%,#00f9e7 80.63%,#00f9e9 81.87%,#00faed 83.12%,#00faf0 84.36%,#00f6f3 85.61%,#00f0f6 86.85%,#00e8fb 88.10%,#00dfff 89.34%,#00d3ff 90.59%,#00c8ff 91.83%,#00baff 93.08%,#00adff 94.32%,#00a0ff 95.57%,#0091ff 96.81%,#0081ff 98.06%,#006fff 100.00%)"></div><div style="top:298.97px;height:2.59px;background:linear-gradient(90deg,#0520f8 0.00%,#0520f8 3.69%,#0520f8 7.67%,#0520f8 11.65%,#0520f8 15.64%,#0520f8 19.62%,#0520f8 23.61%,#0520f8 27.59%,#0520f8 31.57%,#0520f8 35.56%,#0520f8 39.54%,#0520f8 40.09%,#009bff 40.19%,#00ff09 40.44%,#00ff08 40.79%,#00f9e5 41.28%,#00e1ff 41.78%,#00f5c8 42.28%,#00ff26 42.78%,#cdff00 43.28%,#ff5d00 43.77%,#fa100a 44.27%,#fc2c06 44.77%,#ff8600 45.27%,#f0ff00 45.77%,#61ff00 46.26%,#06ff00 46.76%,#00ff22 47.26%,#00ff39 47.76%,#00ff4e 48.26%,#00fe5f 48.75%,#00fd6f 49.25%,#00fc76 49.50%,#00f996 50.75%,#00f7af 51.99%,#00f5c6 53.24%,#00f7d4 54.48%,#00f8e3 55.73%,#00faef 56.97%,#00f0f6 58.22%,#00e8fb 59.46%,#00e4fd 60.71%,#00e2fe 61.95%,#00e4fd 63.20%,#00e8fb 64.44%,#00f1f5 65.69%,#00faed 66.93%,#00f7dc 68.18%,#00f6d0 69.42%,#00f5c9 70.67%,#00f6c1 71.91%,#00f6bd 73.16%,#00f5c3 74.40%,#00f5cc 75.65%,#00f6d2 76.89%,#00f7d9 78.14%,#00f8e1 79.38%,#00f9e4 80.63%,#00f9e7 81.87%,#00f9ec 83.12%,#00faef 84.36%,#00f7f2 85.61%,#00f1f6 86.85%,#00e9fa 88.10%,#00e0ff 89.34%,#00d3ff 90.59%,#00c8ff 91.83%,#00baff 93.08%,#00adff 94.32%,#00a0ff 95.57%,#0091ff 96.81%,#0081ff 98.06%,#006fff 100.00%)"></div><div style="top:300.96px;height:2.59px;background:linear-gradient(90deg,#0520f8 0.00%,#0520f8 3.69%,#0520f8 7.67%,#0520f8 11.65%,#0520f8 15.64%,#0520f8 19.62%,#0520f8 23.61%,#0520f8 27.59%,#0520f8 31.57%,#0520f8 35.56%,#0520f8 39.54%,#0520f8 40.09%,#0090ff 40.19%,#00ff2b 40.44%,#00ff2a 40.79%,#00f9e6 41.28%,#00e3fe 41.78%,#00f5c7 42.28%,#00ff26 42.78%,#c8ff00 43.28%,#ff6400 43.77%,#fb1709 44.27%,#fc3205 44.77%,#ff8c00 45.27%,#ecff00 45.77%,#60ff00 46.26%,#07ff00 46.76%,#00ff20 47.26%,#00ff36 47.76%,#00ff4a 48.26%,#00ff5b 48.75%,#00fd6a 49.25%,#00fd71 49.50%,#00fa8e 50.75%,#00f8a6 51.99%,#00f6bc 53.24%,#00f6cd 54.48%,#00f7db 55.73%,#00f9e6 56.97%,#00faef 58.22%,#00f3f4 59.46%,#00eff7 60.71%,#00edf8 61.95%,#00eff7 63.20%,#00f3f4 64.44%,#00faef 65.69%,#00f9e6 66.93%,#00f7d5 68.18%,#00f5cb 69.42%,#00f5c2 70.67%,#00f6ba 71.91%,#00f6b7 73.16%,#00f6bd 74.40%,#00f5c7 75.65%,#00f6cf 76.89%,#00f7d5 78.14%,#00f8dd 79.38%,#00f8e1 80.63%,#00f9e4 81.87%,#00f9ea 83.12%,#00faed 84.36%,#00f9f1 85.61%,#00f2f5 86.85%,#00eafa 88.10%,#00e1ff 89.34%,#00d3ff 90.59%,#00c8ff 91.83%,#00baff 93.08%,#00adff 94.32%,#00a0ff 95.57%,#0091ff 96.81%,#0081ff 98.06%,#006fff 100.00%)"></div><div style="top:302.96px;height:2.59px;background:linear-gradient(90deg,#0520f8 0.00%,#0520f8 3.69%,#0520f8 7.67%,#0520f8 11.65%,#0520f8 15.64%,#0520f8 19.62%,#0520f8 23.61%,#0520f8 27.59%,#0520f8 31.57%,#0520f8 35.56%,#0520f8 39.54%,#0520f8 40.09%,#0083ff 40.19%,#00ff55 40.44%,#00ff54 40.79%,#00f9e6 41.28%,#00e6fc 41.78%,#00f5c5 42.28%,#00ff27 42.78%,#c3ff00 43.28%,#ff6b00 43.77%,#fb1e08 44.27%,#fd3904 44.77%,#ff9100 45.27%,#e8ff00 45.77%,#5fff00 46.26%,#09ff00 46.76%,#00ff1e 47.26%,#00ff32 47.76%,#00ff45 48.26%,#00ff55 48.75%,#00fe63 49.25%,#00fd6a 49.50%,#00fb86 50.75%,#00f99c 51.99%,#00f7b1 53.24%,#00f5c3 54.48%,#00f6d2 55.73%,#00f8de 56.97%,#00f9e6 58.22%,#00faed 59.46%,#00faf0 60.71%,#00f9f1 61.95%,#00faf0 63.20%,#00faed 64.44%,#00f9e7 65.69%,#00f8de 66.93%,#00f6ce 68.18%,#00f5c3 69.42%,#00f6ba 70.67%,#00f7b3 71.91%,#00f7b0 73.16%,#00f7b6 74.40%,#00f6c0 75.65%,#00f5ca 76.89%,#00f6d1 78.14%,#00f7d9 79.38%,#00f8dd 80.63%,#00f8e1 81.87%,#00f9e7 83.12%,#00f9eb 84.36%,#00faf0 85.61%,#00f3f4 86.85%,#00ebf9 88.10%,#00e1ff 89.34%,#00d3ff 90.59%,#00c8ff 91.83%,#00baff 93.08%,#00adff 94.32%,#00a0ff 95.57%,#0091ff 96.81%,#0081ff 98.06%,#006fff 100.00%)"></div><div style="top:304.95px;height:2.59px;background:linear-gradient(90deg,#0520f8 0.00%,#0520f8 3.69%,#0520f8 7.67%,#0520f8 11.65%,#0520f8 15.64%,#0520f8 19.62%,#0520f8 23.61%,#0520f8 27.59%,#0520f8 31.57%,#0520f8 35.56%,#0520f8 39.54%,#0520f8 40.09%,#0078ff 40.19%,#00fb7f 40.44%,#00fb7d 40.79%,#00f9e6 41.28%,#00e9fa 41.78%,#00f5c2 42.28%,#00ff27 42.78%,#bfff00 43.28%,#ff7100 43.77%,#fc2607 44.27%,#fd4003 44.77%,#ff9700 45.27%,#e4ff00 45.77%,#5fff00 46.26%,#0bff00 46.76%,#00ff1b 47.26%,#00ff2d 47.76%,#00ff40 48.26%,#00ff4f 48.75%,#00ff5d 49.25%,#00fe63 49.50%,#00fb7d 50.75%,#00f992 51.99%,#00f8a5 53.24%,#00f6b7 54.48%,#00f5ca 55.73%,#00f7d5 56.97%,#00f8de 58.22%,#00f8e4 59.46%,#00f9e7 60.71%,#00f9e8 61.95%,#00f9e7 63.20%,#00f8e4 64.44%,#00f8de 65.69%,#00f7d6 66.93%,#00f5c6 68.18%,#00f6b9 69.42%,#00f7b1 70.67%,#00f7ab 71.91%,#00f8a7 73.16%,#00f7ae 74.40%,#00f6b8 75.65%,#00f5c3 76.89%,#00f6cc 78.14%,#00f7d4 79.38%,#00f7d9 80.63%,#00f8de 81.87%,#00f9e4 83.12%,#00f9e9 84.36%,#00faee 85.61%,#00f5f3 86.85%,#00ecf9 88.10%,#00e2ff 89.34%,#00d4ff 90.59%,#00c8ff 91.83%,#00baff 93.08%,#00adff 94.32%,#00a0ff 95.57%,#0091ff 96.81%,#0081ff 98.06%,#006fff 100.00%)"></div><div style="top:306.94px;height:2.59px;background:linear-gradient(90deg,#0520f8 0.00%,#0520f8 3.69%,#0520f8 7.67%,#0520f8 11.65%,#0520f8 15.64%,#0520f8 19.62%,#0520f8 23.61%,#0520f8 27.59%,#0520f8 31.57%,#0520f8 35.56%,#0520f8 39.54%,#0520f8 40.09%,#006dff 40.19%,#00f8a6 40.44%,#00f8a5 40.79%,#00f9e6 41.28%,#00ecf8 41.78%,#00f6bf 42.28%,#00ff26 42.78%,#baff00 43.28%,#ff7800 43.77%,#fc2d06 44.27%,#fe4703 44.77%,#ff9d00 45.27%,#e0ff00 45.77%,#5fff00 46.26%,#0eff00 46.76%,#00ff17 47.26%,#00ff28 47.76%,#00ff3a 48.26%,#00ff48 48.75%,#00ff55 49.25%,#00ff5b 49.50%,#00fc74 50.75%,#00fa87 51.99%,#00f999 53.24%,#00f8aa 54.48%,#00f6be 55.73%,#00f6cc 56.97%,#00f7d5 58.22%,#00f7db 59.46%,#00f8de 60.71%,#00f8df 61.95%,#00f8de 63.20%,#00f7db 64.44%,#00f7d6 65.69%,#00f6ce 66.93%,#00f6bb 68.18%,#00f7af 69.42%,#00f8a8 70.67%,#00f8a2 71.91%,#00f99e 73.16%,#00f8a5 74.40%,#00f7b0 75.65%,#00f6bb 76.89%,#00f5c6 78.14%,#00f6cf 79.38%,#00f7d4 80.63%,#00f7da 81.87%,#00f8e1 83.12%,#00f9e7 84.36%,#00faec 85.61%,#00f7f2 86.85%,#00edf8 88.10%,#00e2fe 89.34%,#00d4ff 90.59%,#00c8ff 91.83%,#00baff 93.08%,#00adff 94.32%,#00a0ff 95.57%,#0091ff 96.81%,#0081ff 98.06%,#006fff 100.00%)"></div><div style="top:308.93px;height:2.59px;background:linear-gradient(90deg,#0520f8 0.00%,#0520f8 3.69%,#0520f8 7.67%,#0520f8 11.65%,#0520f8 15.64%,#0520f8 19.62%,#0520f8 23.61%,#0520f8 27.59%,#0520f8 31.57%,#0520f8 35.56%,#0520f8 39.54%,#0520f8 40.09%,#0064ff 40.19%,#00f5c9 40.44%,#00f5c8 40.79%,#00f9e6 41.28%,#00eff7 41.78%,#00f6be 42.28%,#00ff2b 42.78%,#abff00 43.28%,#ff8a00 43.77%,#fd4103 44.27%,#ff5900 44.77%,#ffad00 45.27%,#d1ff00 45.77%,#59ff00 46.26%,#0cff00 46.76%,#00ff17 47.26%,#00ff26 47.76%,#00ff36 48.26%,#00ff43 48.75%,#00ff4f 49.25%,#00ff55 49.50%,#00fd6b 50.75%,#00fc7d 51.99%,#00fa8e 53.24%,#00f99e 54.48%,#00f7b1 55.73%,#00f6c2 56.97%,#00f6cc 58.22%,#00f6d3 59.46%,#00f7d6 60.71%,#00f7d7 61.95%,#00f7d6 63.20%,#00f6d3 64.44%,#00f6ce 65.69%,#00f5c5 66.93%,#00f7b0 68.18%,#00f8a4 69.42%,#00f99e 70.67%,#00f998 71.91%,#00f994 73.16%,#00f99b 74.40%,#00f8a7 75.65%,#00f7b2 76.89%,#00f6be 78.14%,#00f5ca 79.38%,#00f6d0 80.63%,#00f7d6 81.87%,#00f8de 83.12%,#00f9e4 84.36%,#00f9ea 85.61%,#00f8f1 86.85%,#00eef7 88.10%,#00e3fe 89.34%,#00d4ff 90.59%,#00c8ff 91.83%,#00baff 93.08%,#00adff 94.32%,#00a0ff 95.57%,#0091ff 96.81%,#0081ff 98.06%,#006fff 100.00%)"></div><div style="top:310.93px;height:2.59px;background:linear-gradient(90deg,#0520f8 0.00%,#0520f8 3.69%,#0520f8 7.67%,#0520f8 11.65%,#0520f8 15.64%,#0520f8 19.62%,#0520f8 23.61%,#0520f8 27.59%,#0520f8 31.57%,#0520f8 35.56%,#0520f8 39.54%,#0520f8 40.09%,#005bff 40.19%,#00f8df 40.44%,#00f8de 40.79%,#00f9e6 41.28%,#00f2f5 41.78%,#00f6bd 42.28%,#00ff2f 42.78%,#9bff00 43.28%,#ff9d00 43.77%,#ff5401 44.27%,#ff6e00 44.77%,#ffc000 45.27%,#c2ff00 45.77%,#53ff00 46.26%,#0aff00 46.76%,#00ff16 47.26%,#00ff24 47.76%,#00ff32 48.26%,#00ff3e 48.75%,#00ff49 49.25%,#00ff4e 49.50%,#00fe63 50.75%,#00fd72 51.99%,#00fb82 53.24%,#00fa91 54.48%,#00f8a5 55.73%,#00f7b5 56.97%,#00f5c2 58.22%,#00f5cb 59.46%,#00f6ce 60.71%,#00f6cf 61.95%,#00f6cd 63.20%,#00f5ca 64.44%,#00f5c5 65.69%,#00f6ba 66.93%,#00f8a4 68.18%,#00f999 69.42%,#00f993 70.67%,#00fa8e 71.91%,#00fa8a 73.16%,#00fa91 74.40%,#00f99d 75.65%,#00f8a9 76.89%,#00f7b5 78.14%,#00f5c2 79.38%,#00f5ca 80.63%,#00f6d2 81.87%,#00f7db 83.12%,#00f8e1 84.36%,#00f9e8 85.61%,#00faf0 86.85%,#00eff6 88.10%,#00e4fd 89.34%,#00d5ff 90.59%,#00c8ff 91.83%,#00baff 93.08%,#00adff 94.32%,#00a0ff 95.57%,#0091ff 96.81%,#0081ff 98.06%,#006fff 100.00%)"></div><div style="top:312.92px;height:2.59px;background:linear-gradient(90deg,#0520f8 0.00%,#0520f8 3.69%,#0520f8 7.67%,#0520f8 11.65%,#0520f8 15.64%,#0520f8 19.62%,#0520f8 23.61%,#0520f8 27.59%,#0520f8 31.57%,#0520f8 35.56%,#0520f8 39.54%,#0520f8 40.09%,#0054ff 40.19%,#00f8f1 40.44%,#00faf0 40.79%,#00f9e7 41.28%,#00f5f3 41.78%,#00f6bc 42.28%,#00ff34 42.78%,#89ff00 43.28%,#ffb100 43.77%,#ff6c00 44.27%,#ff8500 44.77%,#ffd500 45.27%,#b1ff00 45.77%,#4bff00 46.26%,#07ff00 46.76%,#00ff16 47.26%,#00ff22 47.76%,#00ff2e 48.26%,#00ff39 48.75%,#00ff43 49.25%,#00ff47 49.50%,#00ff5a 50.75%,#00fe68 51.99%,#00fc77 53.24%,#00fb85 54.48%,#00f999 55.73%,#00f8a9 56.97%,#00f6b7 58.22%,#00f6c0 59.46%,#00f5c5 60.71%,#00f5c6 61.95%,#00f5c4 63.20%,#00f6c0 64.44%,#00f6b9 65.69%,#00f7ae 66.93%,#00f999 68.18%,#00fa8e 69.42%,#00fa89 70.67%,#00fb84 71.91%,#00fb80 73.16%,#00fb87 74.40%,#00f993 75.65%,#00f89f 76.89%,#00f7ac 78.14%,#00f6b9 79.38%,#00f5c4 80.63%,#00f6cd 81.87%,#00f7d7 83.12%,#00f8df 84.36%,#00f9e6 85.61%,#00faee 86.85%,#00f1f6 88.10%,#00e4fd 89.34%,#00d5ff 90.59%,#00c8ff 91.83%,#00baff 93.08%,#00adff 94.32%,#00a0ff 95.57%,#0091ff 96.81%,#0081ff 98.06%,#006fff 100.00%)"></div><div style="top:314.91px;height:2.59px;background:linear-gradient(90deg,#0520f8 0.00%,#0520f8 3.69%,#0520f8 7.67%,#0520f8 11.65%,#0520f8 15.64%,#0520f8 19.62%,#0520f8 23.61%,#0520f8 27.59%,#0520f8 31.57%,#0520f8 35.56%,#0520f8 39.54%,#0520f8 40.09%,#004eff 40.19%,#00e5fc 40.44%,#00e7fc 40.79%,#00f9e7 41.28%,#00f8f1 41.78%,#00f6bc 42.28%,#00ff3b 42.78%,#74ff00 43.28%,#ffce00 43.77%,#ff8800 44.27%,#ff9f00 44.77%,#ffee00 45.27%,#9dff00 45.77%,#42ff00 46.26%,#02ff00 46.76%,#00ff16 47.26%,#00ff20 47.76%,#00ff2b 48.26%,#00ff35 48.75%,#00ff3d 49.25%,#00ff41 49.50%,#00ff51 50.75%,#00ff5e 51.99%,#00fd6c 53.24%,#00fc7a 54.48%,#00fa8d 55.73%,#00f99e 56.97%,#00f7ab 58.22%,#00f7b5 59.46%,#00f6b9 60.71%,#00f6bb 61.95%,#00f6b9 63.20%,#00f7b5 64.44%,#00f7ae 65.69%,#00f8a3 66.93%,#00fa8e 68.18%,#00fb83 69.42%,#00fb7e 70.67%,#00fc79 71.91%,#00fc75 73.16%,#00fc7c 74.40%,#00fa89 75.65%,#00f996 76.89%,#00f8a2 78.14%,#00f7b0 79.38%,#00f6bc 80.63%,#00f5c9 81.87%,#00f6d4 83.12%,#00f7dc 84.36%,#00f8e4 85.61%,#00faed 86.85%,#00f2f5 88.10%,#00e5fc 89.34%,#00d5ff 90.59%,#00c8ff 91.83%,#00baff 93.08%,#00adff 94.32%,#00a0ff 95.57%,#0091ff 96.81%,#0081ff 98.06%,#006fff 100.00%)"></div><div style="top:316.91px;height:2.59px;background:linear-gradient(90deg,#0520f8 0.00%,#0520f8 3.69%,#0520f8 7.67%,#0520f8 11.65%,#0520f8 15.64%,#0520f8 19.62%,#0520f8 23.61%,#0520f8 27.59%,#0520f8 31.57%,#0520f8 35.56%,#0520f8 39.54%,#0520f8 40.09%,#0049ff 40.19%,#00d4ff 40.44%,#00d5ff 40.79%,#00f9e7 41.28%,#00faef 41.78%,#00f6bc 42.28%,#00ff42 42.78%,#62ff00 43.28%,#ffea00 43.77%,#ffa500 44.27%,#ffbc00 44.77%,#f5ff00 45.27%,#88ff00 45.77%,#37ff00 46.26%,#00ff02 46.76%,#00ff17 47.26%,#00ff1f 47.76%,#00ff28 48.26%,#00ff30 48.75%,#00ff38 49.25%,#00ff3b 49.50%,#00ff49 50.75%,#00ff54 51.99%,#00fe61 53.24%,#00fd6e 54.48%,#00fb82 55.73%,#00f993 56.97%,#00f8a1 58.22%,#00f7aa 59.46%,#00f7af 60.71%,#00f7b1 61.95%,#00f7af 63.20%,#00f7aa 64.44%,#00f8a4 65.69%,#00f999 66.93%,#00fb84 68.18%,#00fc79 69.42%,#00fc74 70.67%,#00fd6f 71.91%,#00fd6b 73.16%,#00fd72 74.40%,#00fb7f 75.65%,#00fa8c 76.89%,#00f999 78.14%,#00f8a8 79.38%,#00f7b4 80.63%,#00f5c3 81.87%,#00f6d0 83.12%,#00f7d9 84.36%,#00f8e2 85.61%,#00f9eb 86.85%,#00f3f4 88.10%,#00e6fc 89.34%,#00d6ff 90.59%,#00c8ff 91.83%,#00baff 93.08%,#00adff 94.32%,#00a0ff 95.57%,#0091ff 96.81%,#0081ff 98.06%,#006fff 100.00%)"></div><div style="top:318.90px;height:2.59px;background:linear-gradient(90deg,#0520f8 0.00%,#0520f8 3.69%,#0520f8 7.67%,#0520f8 11.65%,#0520f8 15.64%,#0520f8 19.62%,#0520f8 23.61%,#0520f8 27.59%,#0520f8 31.57%,#0520f8 35.56%,#0520f8 39.54%,#0520f8 40.09%,#0046ff 40.19%,#00c5ff 40.44%,#00c6ff 40.79%,#00f9e8 41.28%,#00faed 41.78%,#00f6bd 42.28%,#00ff4c 42.78%,#4cff00 43.28%,#eeff00 43.77%,#ffcc00 44.27%,#ffe300 44.77%,#d0ff00 45.27%,#6fff00 45.77%,#28ff00 46.26%,#00ff07 46.76%,#00ff19 47.26%,#00ff1f 47.76%,#00ff26 48.26%,#00ff2d 48.75%,#00ff34 49.25%,#00ff37 49.50%,#00ff42 50.75%,#00ff4b 51.99%,#00ff57 53.24%,#00fe64 54.48%,#00fc78 55.73%,#00fa89 56.97%,#00f997 58.22%,#00f8a1 59.46%,#00f8a5 60.71%,#00f8a7 61.95%,#00f8a5 63.20%,#00f8a1 64.44%,#00f99a 65.69%,#00fa8f 66.93%,#00fc79 68.18%,#00fd6e 69.42%,#00fd6a 70.67%,#00fe65 71.91%,#00fe60 73.16%,#00fe68 74.40%,#00fc75 75.65%,#00fb83 76.89%,#00fa90 78.14%,#00f89f 79.38%,#00f7ac 80.63%,#00f6bc 81.87%,#00f6cd 83.12%,#00f7d6 84.36%,#00f8e0 85.61%,#00f9ea 86.85%,#00f5f3 88.10%,#00e7fc 89.34%,#00d6ff 90.59%,#00c8ff 91.83%,#00baff 93.08%,#00adff 94.32%,#00a0ff 95.57%,#0091ff 96.81%,#0081ff 98.06%,#006fff 100.00%)"></div><div style="top:320.89px;height:2.59px;background:linear-gradient(90deg,#0520f8 0.00%,#0520f8 3.69%,#0520f8 7.67%,#0520f8 11.65%,#0520f8 15.64%,#0520f8 19.62%,#0520f8 23.61%,#0520f8 27.59%,#0520f8 31.57%,#0520f8 35.56%,#0520f8 39.54%,#0520f8 40.09%,#0144fe 40.19%,#00bbff 40.44%,#00bcff 40.79%,#00f9e8 41.28%,#00f9eb 41.78%,#00f6bf 42.28%,#00ff56 42.78%,#32ff00 43.28%,#c0ff00 43.77%,#fff900 44.27%,#eeff00 44.77%,#a6ff00 45.27%,#56ff00 45.77%,#16ff00 46.26%,#00ff0e 46.76%,#00ff1c 47.26%,#00ff20 47.76%,#00ff26 48.26%,#00ff2b 48.75%,#00ff31 49.25%,#00ff33 49.50%,#00ff3c 50.75%,#00ff43 51.99%,#00ff4e 53.24%,#00ff5a 54.48%,#00fd6e 55.73%,#00fb7f 56.97%,#00fa8d 58.22%,#00f998 59.46%,#00f99c 60.71%,#00f89e 61.95%,#00f99c 63.20%,#00f998 64.44%,#00fa91 65.69%,#00fb86 66.93%,#00fd70 68.18%,#00fe65 69.42%,#00fe60 70.67%,#00ff5b 71.91%,#00ff57 73.16%,#00ff5f 74.40%,#00fd6c 75.65%,#00fc7a 76.89%,#00fa88 78.14%,#00f997 79.38%,#00f8a5 80.63%,#00f6b6 81.87%,#00f5c9 83.12%,#00f6d4 84.36%,#00f8de 85.61%,#00f9e8 86.85%,#00f6f3 88.10%,#00e7fb 89.34%,#00d6ff 90.59%,#00c8ff 91.83%,#00baff 93.08%,#00adff 94.32%,#00a0ff 95.57%,#0091ff 96.81%,#0081ff 98.06%,#006fff 100.00%)"></div><div style="top:322.88px;height:2.59px;background:linear-gradient(90deg,#0520f8 0.00%,#0520f8 3.69%,#0520f8 7.67%,#0520f8 11.65%,#0520f8 15.64%,#0520f8 19.62%,#0520f8 23.61%,#0520f8 27.59%,#0520f8 31.57%,#0520f8 35.56%,#0520f8 39.54%,#0520f8 40.09%,#0143fe 40.19%,#00b4ff 40.44%,#00b5ff 40.79%,#00f9e8 41.28%,#00f9ea 41.78%,#00f6c1 42.28%,#00fe62 42.78%,#14ff00 43.28%,#92ff00 43.77%,#d0ff00 44.27%,#baff00 44.77%,#7dff00 45.27%,#3eff00 45.77%,#04ff00 46.26%,#00ff15 46.76%,#00ff1f 47.26%,#00ff21 47.76%,#00ff26 48.26%,#00ff2a 48.75%,#00ff2e 49.25%,#00ff30 49.50%,#00ff36 50.75%,#00ff3b 51.99%,#00ff45 53.24%,#00ff51 54.48%,#00fe65 55.73%,#00fc77 56.97%,#00fb85 58.22%,#00fa8f 59.46%,#00f994 60.71%,#00f996 61.95%,#00f993 63.20%,#00fa8f 64.44%,#00fa89 65.69%,#00fb7d 66.93%,#00fe67 68.18%,#00ff5c 69.42%,#00ff57 70.67%,#00ff52 71.91%,#00ff4d 73.16%,#00ff56 74.40%,#00fe64 75.65%,#00fd72 76.89%,#00fb80 78.14%,#00fa8f 79.38%,#00f99e 80.63%,#00f7b1 81.87%,#00f5c6 83.12%,#00f6d1 84.36%,#00f7dc 85.61%,#00f9e7 86.85%,#00f7f2 88.10%,#00e8fb 89.34%,#00d6ff 90.59%,#00c8ff 91.83%,#00baff 93.08%,#00adff 94.32%,#00a0ff 95.57%,#0091ff 96.81%,#0081ff 98.06%,#006fff 100.00%)"></div><div style="top:324.88px;height:2.59px;background:linear-gradient(90deg,#0520f8 0.00%,#0520f8 3.69%,#0520f8 7.67%,#0520f8 11.65%,#0520f8 15.64%,#0520f8 19.62%,#0520f8 23.61%,#0520f8 27.59%,#0520f8 31.57%,#0520f8 35.56%,#0520f8 39.54%,#0520f8 40.09%,#0142fe 40.19%,#00b0ff 40.44%,#00b1ff 40.79%,#00f9e9 41.28%,#00f9ea 41.78%,#00f5c9 42.28%,#00fc7b 42.78%,#00ff1b 43.28%,#41ff00 43.77%,#68ff00 44.27%,#5bff00 44.77%,#35ff00 45.27%,#02ff00 45.77%,#00ff18 46.26%,#00ff27 46.76%,#00ff2c 47.26%,#00ff2a 47.76%,#00ff2d 48.26%,#00ff2f 48.75%,#00ff31 49.25%,#00ff32 49.50%,#00ff34 50.75%,#00ff36 51.99%,#00ff3e 53.24%,#00ff49 54.48%,#00ff5d 55.73%,#00fd6f 56.97%,#00fb7d 58.22%,#00fa88 59.46%,#00fa8d 60.71%,#00fa8e 61.95%,#00fa8c 63.20%,#00fa88 64.44%,#00fb81 65.69%,#00fc75 66.93%,#00ff5f 68.18%,#00ff54 69.42%,#00ff4f 70.67%,#00ff4a 71.91%,#00ff45 73.16%,#00ff4d 74.40%,#00ff5c 75.65%,#00fd6a 76.89%,#00fc78 78.14%,#00fa88 79.38%,#00f998 80.63%,#00f7ab 81.87%,#00f6c1 83.12%,#00f6cf 84.36%,#00f7da 85.61%,#00f9e6 86.85%,#00f8f1 88.10%,#00e8fb 89.34%,#00d7ff 90.59%,#00c8ff 91.83%,#00baff 93.08%,#00adff 94.32%,#00a0ff 95.57%,#0091ff 96.81%,#0081ff 98.06%,#006fff 100.00%)"></div><div style="top:326.87px;height:2.59px;background:linear-gradient(90deg,#0520f8 0.00%,#0520f8 3.69%,#0520f8 7.67%,#0520f8 11.65%,#0520f8 15.64%,#0520f8 19.62%,#0520f8 23.61%,#0520f8 27.59%,#0520f8 31.57%,#0520f8 35.56%,#0520f8 39.54%,#0520f8 40.09%,#0141fe 40.19%,#00aeff 40.44%,#00aeff 40.79%,#00f9ea 41.28%,#00f9eb 41.78%,#00f6cf 42.28%,#00f995 42.78%,#00ff4b 43.28%,#00ff11 43.77%,#07ff00 44.27%,#00ff02 44.77%,#00ff14 45.27%,#00ff28 45.77%,#00ff38 46.26%,#00ff3e 46.76%,#00ff3c 47.26%,#00ff36 47.76%,#00ff36 48.26%,#00ff35 48.75%,#00ff35 49.25%,#00ff35 49.50%,#00ff32 50.75%,#00ff32 51.99%,#00ff38 53.24%,#00ff42 54.48%,#00ff56 55.73%,#00fe68 56.97%,#00fc77 58.22%,#00fb81 59.46%,#00fb86 60.71%,#00fa88 61.95%,#00fb86 63.20%,#00fb81 64.44%,#00fc7a 65.69%,#00fd6f 66.93%,#00ff58 68.18%,#00ff4c 69.42%,#00ff47 70.67%,#00ff42 71.91%,#00ff3e 73.16%,#00ff46 74.40%,#00ff55 75.65%,#00fe63 76.89%,#00fd72 78.14%,#00fb82 79.38%,#00fa92 80.63%,#00f8a7 81.87%,#00f6be 83.12%,#00f6cd 84.36%,#00f7d8 85.61%,#00f9e4 86.85%,#00f9f1 88.10%,#00e9fa 89.34%,#00d7ff 90.59%,#00c8ff 91.83%,#00baff 93.08%,#00adff 94.32%,#00a0ff 95.57%,#0091ff 96.81%,#0081ff 98.06%,#006fff 100.00%)"></div><div style="top:328.86px;height:2.59px;background:linear-gradient(90deg,#0520f8 0.00%,#0520f8 3.69%,#0520f8 7.67%,#0520f8 11.65%,#0520f8 15.64%,#0520f8 19.62%,#0520f8 23.61%,#0520f8 27.59%,#0520f8 31.57%,#0520f8 35.56%,#0520f8 39.54%,#0520f8 40.09%,#0141fe 40.19%,#00adff 40.44%,#00adff 40.79%,#00f9eb 41.28%,#00f9eb 41.78%,#00f7d6 42.28%,#00f7b0 42.78%,#00fb7e 43.28%,#00ff57 43.77%,#00ff48 44.27%,#00ff4c 44.77%,#00ff54 45.27%,#00ff5a 45.77%,#00ff5b 46.26%,#00ff56 46.76%,#00ff4d 47.26%,#00ff42 47.76%,#00ff3f 48.26%,#00ff3c 48.75%,#00ff3a 49.25%,#00ff39 49.50%,#00ff32 50.75%,#00ff2f 51.99%,#00ff33 53.24%,#00ff3d 54.48%,#00ff50 55.73%,#00fe62 56.97%,#00fd71 58.22%,#00fc7c 59.46%,#00fb81 60.71%,#00fb83 61.95%,#00fb80 63.20%,#00fc7c 64.44%,#00fc75 65.69%,#00fe69 66.93%,#00ff52 68.18%,#00ff46 69.42%,#00ff41 70.67%,#00ff3c 71.91%,#00ff37 73.16%,#00ff40 74.40%,#00ff4f 75.65%,#00ff5d 76.89%,#00fd6c 78.14%,#00fc7c 79.38%,#00fa8d 80.63%,#00f8a3 81.87%,#00f6ba 83.12%,#00f5cb 84.36%,#00f7d7 85.61%,#00f8e4 86.85%,#00faf0 88.10%,#00e9fa 89.34%,#00d7ff 90.59%,#00c8ff 91.83%,#00baff 93.08%,#00adff 94.32%,#00a0ff 95.57%,#0091ff 96.81%,#0081ff 98.06%,#006fff 100.00%)"></div><div style="top:330.85px;height:2.59px;background:linear-gradient(90deg,#0520f8 0.00%,#0520f8 3.69%,#0520f8 7.67%,#0520f8 11.65%,#0520f8 15.64%,#0520f8 19.62%,#0520f8 23.61%,#0520f8 27.59%,#0520f8 31.57%,#0520f8 35.56%,#0520f8 39.54%,#0520f8 40.09%,#0141fe 40.19%,#00acff 40.44%,#00adff 40.79%,#00f9eb 41.28%,#00f9eb 41.78%,#00f7d9 42.28%,#00f6bf 42.78%,#00f99d 43.28%,#00fb85 43.77%,#00fb7d 44.27%,#00fb7e 44.77%,#00fb7e 45.27%,#00fc79 45.77%,#00fd70 46.26%,#00fe63 46.76%,#00ff56 47.26%,#00ff49 47.76%,#00ff43 48.26%,#00ff40 48.75%,#00ff3c 49.25%,#00ff3a 49.50%,#00ff30 50.75%,#00ff2b 51.99%,#00ff2f 53.24%,#00ff38 54.48%,#00ff4b 55.73%,#00ff5d 56.97%,#00fd6c 58.22%,#00fc77 59.46%,#00fc7c 60.71%,#00fb7e 61.95%,#00fc7c 63.20%,#00fc77 64.44%,#00fd70 65.69%,#00fe64 66.93%,#00ff4d 68.18%,#00ff41 69.42%,#00ff3c 70.67%,#00ff37 71.91%,#00ff32 73.16%,#00ff3b 74.40%,#00ff4a 75.65%,#00ff58 76.89%,#00fe67 78.14%,#00fc78 79.38%,#00fa89 80.63%,#00f89f 81.87%,#00f6b8 83.12%,#00f5ca 84.36%,#00f7d6 85.61%,#00f8e3 86.85%,#00faf0 88.10%,#00eafa 89.34%,#00d7ff 90.59%,#00c8ff 91.83%,#00baff 93.08%,#00adff 94.32%,#00a0ff 95.57%,#0091ff 96.81%,#0081ff 98.06%,#006fff 100.00%)"></div><div style="top:332.85px;height:2.59px;background:linear-gradient(90deg,#0520f8 0.00%,#0520f8 3.69%,#0520f8 7.67%,#0520f8 11.65%,#0520f8 15.64%,#0520f8 19.62%,#0520f8 23.61%,#0520f8 27.59%,#0520f8 31.57%,#0520f8 35.56%,#0520f8 39.54%,#0520f8 40.09%,#0141fe 40.19%,#00acff 40.44%,#00adff 40.79%,#00f9ec 41.28%,#00f9ec 41.78%,#00f8dd 42.28%,#00f6cd 42.78%,#00f6bc 43.28%,#00f7b3 43.77%,#00f7b3 44.27%,#00f7b1 44.77%,#00f8a8 45.27%,#00f998 45.77%,#00fb85 46.26%,#00fd72 46.76%,#00fe60 47.26%,#00ff50 47.76%,#00ff49 48.26%,#00ff44 48.75%,#00ff3f 49.25%,#00ff3c 49.50%,#00ff30 50.75%,#00ff29 51.99%,#00ff2c 53.24%,#00ff34 54.48%,#00ff48 55.73%,#00ff5a 56.97%,#00fe69 58.22%,#00fc74 59.46%,#00fc79 60.71%,#00fc7b 61.95%,#00fc78 63.20%,#00fc74 64.44%,#00fd6d 65.69%,#00fe61 66.93%,#00ff49 68.18%,#00ff3d 69.42%,#00ff38 70.67%,#00ff33 71.91%,#00ff2e 73.16%,#00ff37 74.40%,#00ff46 75.65%,#00ff55 76.89%,#00fe64 78.14%,#00fc75 79.38%,#00fb86 80.63%,#00f99d 81.87%,#00f7b6 83.12%,#00f5c9 84.36%,#00f7d5 85.61%,#00f8e2 86.85%,#00faef 88.10%,#00eafa 89.34%,#00d7ff 90.59%,#00c8ff 91.83%,#00baff 93.08%,#00adff 94.32%,#00a0ff 95.57%,#0091ff 96.81%,#0081ff 98.06%,#006fff 100.00%)"></div><div style="top:334.84px;height:2.59px;background:linear-gradient(90deg,#0520f8 0.00%,#0520f8 3.69%,#0520f8 7.67%,#0520f8 11.65%,#0520f8 15.64%,#0520f8 19.62%,#0520f8 23.61%,#0520f8 27.59%,#0520f8 31.57%,#0520f8 35.56%,#0520f8 39.54%,#0520f8 40.09%,#0141fe 40.19%,#00acff 40.44%,#00acff 40.79%,#00faec 41.28%,#00faed 41.78%,#00f8e1 42.28%,#00f7d8 42.78%,#00f7d5 43.28%,#00f7d9 43.77%,#00f8de 44.27%,#00f7db 44.77%,#00f6cf 45.27%,#00f6b8 45.77%,#00f99b 46.26%,#00fb81 46.76%,#00fd6b 47.26%,#00ff58 47.76%,#00ff50 48.26%,#00ff49 48.75%,#00ff43 49.25%,#00ff40 49.50%,#00ff31 50.75%,#00ff29 51.99%,#00ff2a 53.24%,#00ff32 54.48%,#00ff45 55.73%,#00ff57 56.97%,#00fe67 58.22%,#00fd72 59.46%,#00fc77 60.71%,#00fc79 61.95%,#00fc76 63.20%,#00fd72 64.44%,#00fd6b 65.69%,#00ff5e 66.93%,#00ff46 68.18%,#00ff3a 69.42%,#00ff35 70.67%,#00ff30 71.91%,#00ff2b 73.16%,#00ff34 74.40%,#00ff43 75.65%,#00ff52 76.89%,#00fe61 78.14%,#00fd72 79.38%,#00fb84 80.63%,#00f99b 81.87%,#00f7b4 83.12%,#00f5c8 84.36%,#00f7d5 85.61%,#00f8e2 86.85%,#00faef 88.10%,#00eaf9 89.34%,#00d7ff 90.59%,#00c8ff 91.83%,#00baff 93.08%,#00adff 94.32%,#00a0ff 95.57%,#0091ff 96.81%,#0081ff 98.06%,#006fff 100.00%)"></div><div style="top:336.83px;height:2.59px;background:linear-gradient(90deg,#0520f8 0.00%,#0520f8 3.69%,#0520f8 7.67%,#0520f8 11.65%,#0520f8 15.64%,#0520f8 19.62%,#0520f8 23.61%,#0520f8 27.59%,#0520f8 31.57%,#0520f8 35.56%,#0520f8 39.54%,#0520f8 40.09%,#0141fe 40.19%,#00acff 40.44%,#00acff 40.79%,#00faed 41.28%,#00faee 41.78%,#00f9e5 42.28%,#00f8e0 42.78%,#00f9e5 43.28%,#00faf0 43.77%,#00f0f6 44.27%,#00f5f3 44.77%,#00f8e4 45.27%,#00f6cd 45.77%,#00f7ac 46.26%,#00fa8d 46.76%,#00fc74 47.26%,#00fe5f 47.76%,#00ff55 48.26%,#00ff4d 48.75%,#00ff46 49.25%,#00ff43 49.50%,#00ff33 50.75%,#00ff29 51.99%,#00ff29 53.24%,#00ff31 54.48%,#00ff44 55.73%,#00ff56 56.97%,#00fe66 58.22%,#00fd71 59.46%,#00fc76 60.71%,#00fc78 61.95%,#00fc75 63.20%,#00fd71 64.44%,#00fd69 65.69%,#00ff5d 66.93%,#00ff45 68.18%,#00ff39 69.42%,#00ff34 70.67%,#00ff2f 71.91%,#00ff2a 73.16%,#00ff33 74.40%,#00ff42 75.65%,#00ff51 76.89%,#00fe60 78.14%,#00fd71 79.38%,#00fb83 80.63%,#00f99a 81.87%,#00f7b4 83.12%,#00f5c8 84.36%,#00f7d4 85.61%,#00f8e2 86.85%,#00faef 88.10%,#00eaf9 89.34%,#00d7ff 90.59%,#00c8ff 91.83%,#00baff 93.08%,#00adff 94.32%,#00a0ff 95.57%,#0091ff 96.81%,#0081ff 98.06%,#006fff 100.00%)"></div><div style="top:338.82px;height:2.59px;background:linear-gradient(90deg,#0520f8 0.00%,#0520f8 3.69%,#0520f8 7.67%,#0520f8 11.65%,#0520f8 15.64%,#0520f8 19.62%,#0520f8 23.61%,#0520f8 27.59%,#0520f8 31.57%,#0520f8 35.56%,#0520f8 39.54%,#0520f8 40.09%,#0141fe 40.19%,#00adff 40.44%,#00adff 40.79%,#00faed 41.28%,#00faee 41.78%,#00f9e5 42.28%,#00f8e2 42.78%,#00f9e8 43.28%,#00f5f3 43.77%,#00eafa 44.27%,#00eff6 44.77%,#00f9e8 45.27%,#00f6d0 45.77%,#00f7af 46.26%,#00fa8f 46.76%,#00fc75 47.26%,#00fe61 47.76%,#00ff56 48.26%,#00ff4f 48.75%,#00ff47 49.25%,#00ff44 49.50%,#00ff33 50.75%,#00ff29 51.99%,#00ff2a 53.24%,#00ff32 54.48%,#00ff45 55.73%,#00ff57 56.97%,#00fe66 58.22%,#00fd71 59.46%,#00fc76 60.71%,#00fc78 61.95%,#00fc75 63.20%,#00fd71 64.44%,#00fd6a 65.69%,#00ff5d 66.93%,#00ff45 68.18%,#00ff39 69.42%,#00ff34 70.67%,#00ff2f 71.91%,#00ff2a 73.16%,#00ff33 74.40%,#00ff42 75.65%,#00ff51 76.89%,#00fe60 78.14%,#00fd71 79.38%,#00fb83 80.63%,#00f99a 81.87%,#00f7b4 83.12%,#00f5c8 84.36%,#00f7d4 85.61%,#00f8e2 86.85%,#00faef 88.10%,#00eaf9 89.34%,#00d7ff 90.59%,#00c8ff 91.83%,#00baff 93.08%,#00adff 94.32%,#00a0ff 95.57%,#0091ff 96.81%,#0081ff 98.06%,#006fff 100.00%)"></div><div style="top:340.82px;height:2.59px;background:linear-gradient(90deg,#0520f8 0.00%,#0520f8 3.69%,#0520f8 7.67%,#0520f8 11.65%,#0520f8 15.64%,#0520f8 19.62%,#0520f8 23.61%,#0520f8 27.59%,#0520f8 31.57%,#0520f8 35.56%,#0520f8 39.54%,#0520f8 40.09%,#0141fe 40.19%,#00aeff 40.44%,#00aeff 40.79%,#00faed 41.28%,#00faef 41.78%,#00f9e7 42.28%,#00f9e4 42.78%,#00f9eb 43.28%,#00eff7 43.77%,#00e3fe 44.27%,#00e9fa 44.77%,#00faec 45.27%,#00f6d3 45.77%,#00f7b3 46.26%,#00f992 46.76%,#00fc78 47.26%,#00fe63 47.76%,#00ff59 48.26%,#00ff51 48.75%,#00ff49 49.25%,#00ff46 49.50%,#00ff35 50.75%,#00ff2b 51.99%,#00ff2b 53.24%,#00ff33 54.48%,#00ff46 55.73%,#00ff58 56.97%,#00fe67 58.22%,#00fd73 59.46%,#00fc78 60.71%,#00fc7a 61.95%,#00fc77 63.20%,#00fd73 64.44%,#00fd6b 65.69%,#00ff5f 66.93%,#00ff47 68.18%,#00ff3b 69.42%,#00ff35 70.67%,#00ff30 71.91%,#00ff2b 73.16%,#00ff34 74.40%,#00ff43 75.65%,#00ff52 76.89%,#00fe61 78.14%,#00fd72 79.38%,#00fb84 80.63%,#00f99b 81.87%,#00f7b4 83.12%,#00f5c8 84.36%,#00f7d5 85.61%,#00f8e2 86.85%,#00faef 88.10%,#00eaf9 89.34%,#00d7ff 90.59%,#00c8ff 91.83%,#00baff 93.08%,#00adff 94.32%,#00a0ff 95.57%,#0091ff 96.81%,#0081ff 98.06%,#006fff 100.00%)"></div><div style="top:342.81px;height:2.59px;background:linear-gradient(90deg,#0520f8 0.00%,#0520f8 3.69%,#0520f8 7.67%,#0520f8 11.65%,#0520f8 15.64%,#0520f8 19.62%,#0520f8 23.61%,#0520f8 27.59%,#0520f8 31.57%,#0520f8 35.56%,#0520f8 39.54%,#0520f8 40.09%,#0142fe 40.19%,#00b0ff 40.44%,#00b0ff 40.79%,#00faed 41.28%,#00faf0 41.78%,#00f9e8 42.28%,#00f9e7 42.78%,#00faee 43.28%,#00e9fa 43.77%,#00dcff 44.27%,#00e3fe 44.77%,#00faf0 45.27%,#00f7d7 45.77%,#00f6b8 46.26%,#00f996 46.76%,#00fc7c 47.26%,#00fe67 47.76%,#00ff5c 48.26%,#00ff54 48.75%,#00ff4d 49.25%,#00ff49 49.50%,#00ff38 50.75%,#00ff2e 51.99%,#00ff2f 53.24%,#00ff36 54.48%,#00ff4a 55.73%,#00ff5b 56.97%,#00fd6a 58.22%,#00fc76 59.46%,#00fc7b 60.71%,#00fc7d 61.95%,#00fc7a 63.20%,#00fc76 64.44%,#00fd6e 65.69%,#00fe62 66.93%,#00ff4a 68.18%,#00ff3d 69.42%,#00ff38 70.67%,#00ff33 71.91%,#00ff2e 73.16%,#00ff37 74.40%,#00ff46 75.65%,#00ff55 76.89%,#00fe64 78.14%,#00fc75 79.38%,#00fb86 80.63%,#00f99d 81.87%,#00f7b6 83.12%,#00f5c9 84.36%,#00f7d5 85.61%,#00f8e2 86.85%,#00faef 88.10%,#00eafa 89.34%,#00d7ff 90.59%,#00c8ff 91.83%,#00baff 93.08%,#00adff 94.32%,#00a0ff 95.57%,#0091ff 96.81%,#0081ff 98.06%,#006fff 100.00%)"></div><div style="top:344.80px;height:2.59px;background:linear-gradient(90deg,#0520f8 0.00%,#0520f8 3.69%,#0520f8 7.67%,#0520f8 11.65%,#0520f8 15.64%,#0520f8 19.62%,#0520f8 23.61%,#0520f8 27.59%,#0520f8 31.57%,#0520f8 35.56%,#0520f8 39.54%,#0520f8 40.09%,#0143fe 40.19%,#00b5ff 40.44%,#00b5ff 40.79%,#00faed 41.28%,#00f8f1 41.78%,#00f9ea 42.28%,#00f9e9 42.78%,#00f7f2 43.28%,#00e4fd 43.77%,#00d4ff 44.27%,#00dcff 44.77%,#00f4f4 45.27%,#00f7db 45.77%,#00f6bd 46.26%,#00f99b 46.76%,#00fb81 47.26%,#00fd6b 47.76%,#00fe61 48.26%,#00ff59 48.75%,#00ff51 49.25%,#00ff4e 49.50%,#00ff3d 50.75%,#00ff33 51.99%,#00ff33 53.24%,#00ff3b 54.48%,#00ff4e 55.73%,#00fe60 56.97%,#00fd6f 58.22%,#00fc7a 59.46%,#00fb7f 60.71%,#00fb81 61.95%,#00fb7f 63.20%,#00fc7a 64.44%,#00fd73 65.69%,#00fe66 66.93%,#00ff4e 68.18%,#00ff42 69.42%,#00ff3c 70.67%,#00ff37 71.91%,#00ff32 73.16%,#00ff3b 74.40%,#00ff4a 75.65%,#00ff58 76.89%,#00fe67 78.14%,#00fc78 79.38%,#00fa89 80.63%,#00f89f 81.87%,#00f6b8 83.12%,#00f5ca 84.36%,#00f7d6 85.61%,#00f8e3 86.85%,#00faf0 88.10%,#00eafa 89.34%,#00d7ff 90.59%,#00c8ff 91.83%,#00baff 93.08%,#00adff 94.32%,#00a0ff 95.57%,#0091ff 96.81%,#0081ff 98.06%,#006fff 100.00%)"></div><div style="top:346.80px;height:2.59px;background:linear-gradient(90deg,#0520f8 0.00%,#0520f8 3.69%,#0520f8 7.67%,#0520f8 11.65%,#0520f8 15.64%,#0520f8 19.62%,#0520f8 23.61%,#0520f8 27.59%,#0520f8 31.57%,#0520f8 35.56%,#0520f8 39.54%,#0520f8 40.09%,#0044fe 40.19%,#00bdff 40.44%,#00bdff 40.79%,#00faed 41.28%,#00f6f3 41.78%,#00faed 42.28%,#00faec 42.78%,#00f2f5 43.28%,#00ddff 43.77%,#00ccff 44.27%,#00d5ff 44.77%,#00eef7 45.27%,#00f8df 45.77%,#00f5c3 46.26%,#00f8a1 46.76%,#00fb86 47.26%,#00fd71 47.76%,#00fe67 48.26%,#00ff5e 48.75%,#00ff57 49.25%,#00ff53 49.50%,#00ff43 50.75%,#00ff39 51.99%,#00ff39 53.24%,#00ff41 54.48%,#00ff54 55.73%,#00fe66 56.97%,#00fc75 58.22%,#00fb80 59.46%,#00fb85 60.71%,#00fb87 61.95%,#00fb84 63.20%,#00fb80 64.44%,#00fc78 65.69%,#00fd6c 66.93%,#00ff54 68.18%,#00ff47 69.42%,#00ff41 70.67%,#00ff3c 71.91%,#00ff37 73.16%,#00ff40 74.40%,#00ff4f 75.65%,#00ff5d 76.89%,#00fd6c 78.14%,#00fc7c 79.38%,#00fa8d 80.63%,#00f8a3 81.87%,#00f6ba 83.12%,#00f5cb 84.36%,#00f7d7 85.61%,#00f8e4 86.85%,#00faf0 88.10%,#00e9fa 89.34%,#00d7ff 90.59%,#00c8ff 91.83%,#00baff 93.08%,#00adff 94.32%,#00a0ff 95.57%,#0091ff 96.81%,#0081ff 98.06%,#006fff 100.00%)"></div><div style="top:348.79px;height:2.59px;background:linear-gradient(90deg,#0520f8 0.00%,#0520f8 3.69%,#0520f8 7.67%,#0520f8 11.65%,#0520f8 15.64%,#0520f8 19.62%,#0520f8 23.61%,#0520f8 27.59%,#0520f8 31.57%,#0520f8 35.56%,#0520f8 39.54%,#0520f8 40.09%,#0047ff 40.19%,#00c8ff 40.44%,#00c8ff 40.79%,#00faed 41.28%,#00f3f4 41.78%,#00faee 42.28%,#00faed 42.78%,#00f5f3 43.28%,#00e2fe 43.77%,#00d4ff 44.27%,#00dbff 44.77%,#00f2f5 45.27%,#00f8de 45.77%,#00f5c3 46.26%,#00f8a3 46.76%,#00fa89 47.26%,#00fc75 47.76%,#00fd6b 48.26%,#00fe63 48.75%,#00ff5c 49.25%,#00ff59 49.50%,#00ff49 50.75%,#00ff3f 51.99%,#00ff41 53.24%,#00ff49 54.48%,#00ff5c 55.73%,#00fd6d 56.97%,#00fc7c 58.22%,#00fa87 59.46%,#00fa8c 60.71%,#00fa8e 61.95%,#00fa8c 63.20%,#00fa87 64.44%,#00fb7f 65.69%,#00fd73 66.93%,#00ff5b 68.18%,#00ff4e 69.42%,#00ff48 70.67%,#00ff42 71.91%,#00ff3e 73.16%,#00ff46 74.40%,#00ff55 75.65%,#00fe63 76.89%,#00fd72 78.14%,#00fb82 79.38%,#00fa92 80.63%,#00f8a7 81.87%,#00f6be 83.12%,#00f6cd 84.36%,#00f7d8 85.61%,#00f9e4 86.85%,#00f9f1 88.10%,#00e9fa 89.34%,#00d7ff 90.59%,#00c8ff 91.83%,#00baff 93.08%,#00adff 94.32%,#00a0ff 95.57%,#0091ff 96.81%,#0081ff 98.06%,#006fff 100.00%)"></div><div style="top:350.78px;height:2.59px;background:linear-gradient(90deg,#0520f8 0.00%,#0520f8 3.69%,#0520f8 7.67%,#0520f8 11.65%,#0520f8 15.64%,#0520f8 19.62%,#0520f8 23.61%,#0520f8 27.59%,#0520f8 31.57%,#0520f8 35.56%,#0520f8 39.54%,#0520f8 40.09%,#004aff 40.19%,#00d8ff 40.44%,#00d8ff 40.79%,#00faed 41.28%,#00f1f6 41.78%,#00faf0 42.28%,#00faed 42.78%,#00f7f2 43.28%,#00e7fb 43.77%,#00dcff 44.27%,#00e2fe 44.77%,#00f6f2 45.27%,#00f8dd 45.77%,#00f5c3 46.26%,#00f8a5 46.76%,#00fa8d 47.26%,#00fc79 47.76%,#00fd70 48.26%,#00fe69 48.75%,#00fe62 49.25%,#00ff5f 49.50%,#00ff50 50.75%,#00ff48 51.99%,#00ff49 53.24%,#00ff52 54.48%,#00fe65 55.73%,#00fc76 56.97%,#00fb85 58.22%,#00fa90 59.46%,#00f995 60.71%,#00f997 61.95%,#00f995 63.20%,#00fa90 64.44%,#00fa88 65.69%,#00fc7b 66.93%,#00fe63 68.18%,#00ff56 69.42%,#00ff50 70.67%,#00ff4a 71.91%,#00ff45 73.16%,#00ff4d 74.40%,#00ff5c 75.65%,#00fd6a 76.89%,#00fc78 78.14%,#00fa88 79.38%,#00f998 80.63%,#00f7ab 81.87%,#00f6c1 83.12%,#00f6cf 84.36%,#00f7da 85.61%,#00f9e6 86.85%,#00f8f1 88.10%,#00e8fb 89.34%,#00d7ff 90.59%,#00c8ff 91.83%,#00baff 93.08%,#00adff 94.32%,#00a0ff 95.57%,#0091ff 96.81%,#0081ff 98.06%,#006fff 100.00%)"></div><div style="top:352.77px;height:2.59px;background:linear-gradient(90deg,#0520f8 0.00%,#0520f8 3.69%,#0520f8 7.67%,#0520f8 11.65%,#0520f8 15.64%,#0520f8 19.62%,#0520f8 23.61%,#0520f8 27.59%,#0520f8 31.57%,#0520f8 35.56%,#0520f8 39.54%,#0520f8 40.09%,#004fff 40.19%,#00eafa 40.44%,#00eafa 40.79%,#00faed 41.28%,#00edf8 41.78%,#00f8f1 42.28%,#00faee 42.78%,#00f9f1 43.28%,#00ecf8 43.77%,#00e3fe 44.27%,#00e8fb 44.77%,#00faf0 45.27%,#00f7db 45.77%,#00f5c4 46.26%,#00f8a8 46.76%,#00fa91 47.26%,#00fb7e 47.76%,#00fc76 48.26%,#00fd6f 48.75%,#00fe69 49.25%,#00fe66 49.50%,#00ff58 50.75%,#00ff51 51.99%,#00ff53 53.24%,#00ff5c 54.48%,#00fd6f 55.73%,#00fb81 56.97%,#00fa8f 58.22%,#00f99a 59.46%,#00f89f 60.71%,#00f8a1 61.95%,#00f89f 63.20%,#00f99a 64.44%,#00fa92 65.69%,#00fb85 66.93%,#00fd6c 68.18%,#00ff5f 69.42%,#00ff58 70.67%,#00ff52 71.91%,#00ff4d 73.16%,#00ff56 74.40%,#00fe64 75.65%,#00fd72 76.89%,#00fb80 78.14%,#00fa8f 79.38%,#00f99e 80.63%,#00f7b1 81.87%,#00f5c6 83.12%,#00f6d1 84.36%,#00f7dc 85.61%,#00f9e7 86.85%,#00f7f2 88.10%,#00e8fb 89.34%,#00d6ff 90.59%,#00c8ff 91.83%,#00baff 93.08%,#00adff 94.32%,#00a0ff 95.57%,#0091ff 96.81%,#0081ff 98.06%,#006fff 100.00%)"></div><div style="top:354.77px;height:2.59px;background:linear-gradient(90deg,#0520f8 0.00%,#0520f8 3.69%,#0520f8 7.67%,#0520f8 11.65%,#0520f8 15.64%,#0520f8 19.62%,#0520f8 23.61%,#0520f8 27.59%,#0520f8 31.57%,#0520f8 35.56%,#0520f8 39.54%,#0520f8 40.09%,#0056ff 40.19%,#00faed 40.44%,#00faed 40.79%,#00faed 41.28%,#00eafa 41.78%,#00f5f3 42.28%,#00faee 42.78%,#00faf0 43.28%,#00f1f6 43.77%,#00e9fa 44.27%,#00eef7 44.77%,#00faed 45.27%,#00f7da 45.77%,#00f5c6 46.26%,#00f7ab 46.76%,#00f996 47.26%,#00fb84 47.76%,#00fc7c 48.26%,#00fc76 48.75%,#00fd70 49.25%,#00fd6e 49.50%,#00fe61 50.75%,#00ff5b 51.99%,#00ff5e 53.24%,#00fe68 54.48%,#00fc7b 55.73%,#00fa8d 56.97%,#00f99b 58.22%,#00f8a6 59.46%,#00f7ab 60.71%,#00f7ad 61.95%,#00f7ab 63.20%,#00f8a6 64.44%,#00f99d 65.69%,#00fa90 66.93%,#00fc77 68.18%,#00fe69 69.42%,#00fe61 70.67%,#00ff5b 71.91%,#00ff57 73.16%,#00ff5f 74.40%,#00fd6c 75.65%,#00fc7a 76.89%,#00fa88 78.14%,#00f997 79.38%,#00f8a5 80.63%,#00f6b6 81.87%,#00f5c9 83.12%,#00f6d4 84.36%,#00f8de 85.61%,#00f9e8 86.85%,#00f6f3 88.10%,#00e7fb 89.34%,#00d6ff 90.59%,#00c8ff 91.83%,#00baff 93.08%,#00adff 94.32%,#00a0ff 95.57%,#0091ff 96.81%,#0081ff 98.06%,#006fff 100.00%)"></div><div style="top:356.76px;height:2.59px;background:linear-gradient(90deg,#0520f8 0.00%,#0520f8 3.69%,#0520f8 7.67%,#0520f8 11.65%,#0520f8 15.64%,#0520f8 19.62%,#0520f8 23.61%,#0520f8 27.59%,#0520f8 31.57%,#0520f8 35.56%,#0520f8 39.54%,#0520f8 40.09%,#005dff 40.19%,#00f7da 40.44%,#00f7da 40.79%,#00faed 41.28%,#00e6fc 41.78%,#00f2f5 42.28%,#00faef 42.78%,#00faee 43.28%,#00f6f3 43.77%,#00eff6 44.27%,#00f3f4 44.77%,#00f9ea 45.27%,#00f7d9 45.77%,#00f5c7 46.26%,#00f7af 46.76%,#00f99b 47.26%,#00fa8a 47.76%,#00fb83 48.26%,#00fb7d 48.75%,#00fc79 49.25%,#00fc76 49.50%,#00fd6b 50.75%,#00fe66 51.99%,#00fd6a 53.24%,#00fc75 54.48%,#00fa88 55.73%,#00f99a 56.97%,#00f8a8 58.22%,#00f7b3 59.46%,#00f6b8 60.71%,#00f6ba 61.95%,#00f6b8 63.20%,#00f7b3 64.44%,#00f8aa 65.69%,#00f99c 66.93%,#00fb82 68.18%,#00fc74 69.42%,#00fd6c 70.67%,#00fe65 71.91%,#00fe60 73.16%,#00fe68 74.40%,#00fc75 75.65%,#00fb83 76.89%,#00fa90 78.14%,#00f89f 79.38%,#00f7ac 80.63%,#00f6bc 81.87%,#00f6cd 83.12%,#00f7d6 84.36%,#00f8e0 85.61%,#00f9ea 86.85%,#00f5f3 88.10%,#00e7fc 89.34%,#00d6ff 90.59%,#00c8ff 91.83%,#00baff 93.08%,#00adff 94.32%,#00a0ff 95.57%,#0091ff 96.81%,#0081ff 98.06%,#006fff 100.00%)"></div><div style="top:358.75px;height:2.59px;background:linear-gradient(90deg,#0520f8 0.00%,#0520f8 3.69%,#0520f8 7.67%,#0520f8 11.65%,#0520f8 15.64%,#0520f8 19.62%,#0520f8 23.61%,#0520f8 27.59%,#0520f8 31.57%,#0520f8 35.56%,#0520f8 39.54%,#0520f8 40.09%,#0066ff 40.19%,#00f6c1 40.44%,#00f6c2 40.79%,#00faec 41.28%,#00e4fd 41.78%,#00f3f4 42.28%,#00f9ea 42.78%,#00f8e1 43.28%,#00f8df 43.77%,#00f8e0 44.27%,#00f8de 44.77%,#00f7d8 45.27%,#00f6cd 45.77%,#00f6bc 46.26%,#00f8aa 46.76%,#00f999 47.26%,#00fa8b 47.76%,#00fb85 48.26%,#00fb81 48.75%,#00fb7e 49.25%,#00fc7c 49.50%,#00fc74 50.75%,#00fd71 51.99%,#00fc77 53.24%,#00fb82 54.48%,#00f996 55.73%,#00f8a8 56.97%,#00f6b6 58.22%,#00f6c1 59.46%,#00f5c7 60.71%,#00f5c8 61.95%,#00f5c6 63.20%,#00f6c1 64.44%,#00f6b7 65.69%,#00f8a9 66.93%,#00fa8f 68.18%,#00fb7f 69.42%,#00fc76 70.67%,#00fd6f 71.91%,#00fd6b 73.16%,#00fd72 74.40%,#00fb7f 75.65%,#00fa8c 76.89%,#00f999 78.14%,#00f8a8 79.38%,#00f7b4 80.63%,#00f5c3 81.87%,#00f6d0 83.12%,#00f7d9 84.36%,#00f8e2 85.61%,#00f9eb 86.85%,#00f3f4 88.10%,#00e6fc 89.34%,#00d6ff 90.59%,#00c8ff 91.83%,#00baff 93.08%,#00adff 94.32%,#00a0ff 95.57%,#0091ff 96.81%,#0081ff 98.06%,#006fff 100.00%)"></div><div style="top:360.74px;height:2.59px;background:linear-gradient(90deg,#0520f8 0.00%,#0520f8 3.69%,#0520f8 7.67%,#0520f8 11.65%,#0520f8 15.64%,#0520f8 19.62%,#0520f8 23.61%,#0520f8 27.59%,#0520f8 31.57%,#0520f8 35.56%,#0520f8 39.54%,#0520f8 40.09%,#0070ff 40.19%,#00f99c 40.44%,#00f99c 40.79%,#00f9ec 41.28%,#00e2ff 41.78%,#00f5f3 42.28%,#00f8e1 42.78%,#00f6ce 43.28%,#00f6bd 43.77%,#00f6b7 44.27%,#00f6b7 44.77%,#00f6b7 45.27%,#00f7b2 45.77%,#00f8aa 46.26%,#00f89f 46.76%,#00f994 47.26%,#00fa88 47.76%,#00fb85 48.26%,#00fb83 48.75%,#00fb81 49.25%,#00fb80 49.50%,#00fc7c 50.75%,#00fc7c 51.99%,#00fb84 53.24%,#00fa91 54.48%,#00f8a5 55.73%,#00f6b7 56.97%,#00f5c6 58.22%,#00f6ce 59.46%,#00f6d1 60.71%,#00f6d3 61.95%,#00f6d1 63.20%,#00f6ce 64.44%,#00f5c6 65.69%,#00f6b7 66.93%,#00f99c 68.18%,#00fa8b 69.42%,#00fb81 70.67%,#00fc79 71.91%,#00fc75 73.16%,#00fc7c 74.40%,#00fa89 75.65%,#00f996 76.89%,#00f8a2 78.14%,#00f7b0 79.38%,#00f6bc 80.63%,#00f5c9 81.87%,#00f6d4 83.12%,#00f7dc 84.36%,#00f8e4 85.61%,#00faed 86.85%,#00f2f5 88.10%,#00e5fc 89.34%,#00d5ff 90.59%,#00c8ff 91.83%,#00baff 93.08%,#00adff 94.32%,#00a0ff 95.57%,#0091ff 96.81%,#0081ff 98.06%,#006fff 100.00%)"></div><div style="top:362.74px;height:2.59px;background:linear-gradient(90deg,#0520f8 0.00%,#0520f8 3.69%,#0520f8 7.67%,#0520f8 11.65%,#0520f8 15.64%,#0520f8 19.62%,#0520f8 23.61%,#0520f8 27.59%,#0520f8 31.57%,#0520f8 35.56%,#0520f8 39.54%,#0520f8 40.09%,#007aff 40.19%,#00fc74 40.44%,#00fc74 40.79%,#00f9eb 41.28%,#00dfff 41.78%,#00f7f2 42.28%,#00f7d8 42.78%,#00f7b3 43.28%,#00fa8f 43.77%,#00fb81 44.27%,#00fb85 44.77%,#00fa8e 45.27%,#00f995 45.77%,#00f998 46.26%,#00f995 46.76%,#00fa8f 47.26%,#00fb86 47.76%,#00fb85 48.26%,#00fb85 48.75%,#00fb85 49.25%,#00fb85 49.50%,#00fb84 50.75%,#00fa87 51.99%,#00fa91 53.24%,#00f89f 54.48%,#00f7b4 55.73%,#00f5c7 56.97%,#00f6d1 58.22%,#00f7d8 59.46%,#00f8dc 60.71%,#00f8de 61.95%,#00f8dc 63.20%,#00f7d8 64.44%,#00f6d1 65.69%,#00f5c5 66.93%,#00f8a9 68.18%,#00f997 69.42%,#00fa8c 70.67%,#00fb84 71.91%,#00fb80 73.16%,#00fb87 74.40%,#00f993 75.65%,#00f89f 76.89%,#00f7ac 78.14%,#00f6b9 79.38%,#00f5c4 80.63%,#00f6cd 81.87%,#00f7d7 83.12%,#00f8df 84.36%,#00f9e6 85.61%,#00faee 86.85%,#00f1f6 88.10%,#00e4fd 89.34%,#00d5ff 90.59%,#00c8ff 91.83%,#00baff 93.08%,#00adff 94.32%,#00a0ff 95.57%,#0091ff 96.81%,#0081ff 98.06%,#006fff 100.00%)"></div><div style="top:364.73px;height:2.59px;background:linear-gradient(90deg,#0520f8 0.00%,#0520f8 3.69%,#0520f8 7.67%,#0520f8 11.65%,#0520f8 15.64%,#0520f8 19.62%,#0520f8 23.61%,#0520f8 27.59%,#0520f8 31.57%,#0520f8 35.56%,#0520f8 39.54%,#0520f8 40.09%,#0086ff 40.19%,#00ff4a 40.44%,#00ff4a 40.79%,#00f9eb 41.28%,#00dcff 41.78%,#00f9f0 42.28%,#00f6cf 42.78%,#00f996 43.28%,#00fe62 43.77%,#00ff4c 44.27%,#00ff52 44.77%,#00fe65 45.27%,#00fc78 45.77%,#00fb86 46.26%,#00fa8a 46.76%,#00fa89 47.26%,#00fb84 47.76%,#00fb85 48.26%,#00fb87 48.75%,#00fa89 49.25%,#00fa89 49.50%,#00fa8d 50.75%,#00f992 51.99%,#00f89f 53.24%,#00f7af 54.48%,#00f5c4 55.73%,#00f6d2 56.97%,#00f8dc 58.22%,#00f8e3 59.46%,#00f9e7 60.71%,#00f9e9 61.95%,#00f9e8 63.20%,#00f8e3 64.44%,#00f7db 65.69%,#00f6d0 66.93%,#00f6b7 68.18%,#00f8a4 69.42%,#00f997 70.67%,#00fa8e 71.91%,#00fa8a 73.16%,#00fa91 74.40%,#00f99d 75.65%,#00f8a9 76.89%,#00f7b5 78.14%,#00f5c2 79.38%,#00f5ca 80.63%,#00f6d2 81.87%,#00f7db 83.12%,#00f8e1 84.36%,#00f9e8 85.61%,#00faf0 86.85%,#00eff6 88.10%,#00e4fd 89.34%,#00d5ff 90.59%,#00c8ff 91.83%,#00baff 93.08%,#00adff 94.32%,#00a0ff 95.57%,#0091ff 96.81%,#0081ff 98.06%,#006fff 100.00%)"></div><div style="top:366.72px;height:2.59px;background:linear-gradient(90deg,#0520f8 0.00%,#0520f8 3.69%,#0520f8 7.67%,#0520f8 11.65%,#0520f8 15.64%,#0520f8 19.62%,#0520f8 23.61%,#0520f8 27.59%,#0520f8 31.57%,#0520f8 35.56%,#0520f8 39.54%,#0520f8 40.09%,#0093ff 40.19%,#00ff21 40.44%,#00ff21 40.79%,#00f9ea 41.28%,#00dcff 41.78%,#00f9ec 42.28%,#00f6ba 42.78%,#00fe65 43.28%,#00ff1c 43.77%,#00ff00 44.27%,#00ff09 44.77%,#00ff24 45.27%,#00ff48 45.77%,#00fe65 46.26%,#00fc76 46.76%,#00fc7c 47.26%,#00fc7b 47.76%,#00fb80 48.26%,#00fb84 48.75%,#00fa88 49.25%,#00fa8a 49.50%,#00f993 50.75%,#00f99c 51.99%,#00f7ac 53.24%,#00f6bd 54.48%,#00f6d0 55.73%,#00f8dd 56.97%,#00f9e7 58.22%,#00faee 59.46%,#00f7f2 60.71%,#00f5f3 61.95%,#00f7f2 63.20%,#00faee 64.44%,#00f9e6 65.69%,#00f7da 66.93%,#00f5c4 68.18%,#00f7b0 69.42%,#00f8a2 70.67%,#00f998 71.91%,#00f994 73.16%,#00f99b 74.40%,#00f8a7 75.65%,#00f7b2 76.89%,#00f6be 78.14%,#00f5ca 79.38%,#00f6d0 80.63%,#00f7d6 81.87%,#00f8de 83.12%,#00f9e4 84.36%,#00f9ea 85.61%,#00f8f1 86.85%,#00eef7 88.10%,#00e3fe 89.34%,#00d4ff 90.59%,#00c8ff 91.83%,#00baff 93.08%,#00adff 94.32%,#00a0ff 95.57%,#0091ff 96.81%,#0081ff 98.06%,#006fff 100.00%)"></div><div style="top:368.72px;height:2.59px;background:linear-gradient(90deg,#0520f8 0.00%,#0520f8 3.69%,#0520f8 7.67%,#0520f8 11.65%,#0520f8 15.64%,#0520f8 19.62%,#0520f8 23.61%,#0520f8 27.59%,#0520f8 31.57%,#0520f8 35.56%,#0520f8 39.54%,#0520f8 40.09%,#009eff 40.19%,#00ff00 40.44%,#00ff00 40.79%,#00f9e9 41.28%,#00dbff 41.78%,#00f9e6 42.28%,#00f8a1 42.78%,#00ff32 43.28%,#32ff00 43.77%,#62ff00 44.27%,#52ff00 44.77%,#1eff00 45.27%,#00ff19 45.77%,#00ff43 46.26%,#00fe60 46.76%,#00fd6d 47.26%,#00fd71 47.76%,#00fc79 48.26%,#00fb80 48.75%,#00fa87 49.25%,#00fa8a 49.50%,#00f998 50.75%,#00f8a6 51.99%,#00f6b8 53.24%,#00f5ca 54.48%,#00f7da 55.73%,#00f9e7 56.97%,#00f8f1 58.22%,#00eff7 59.46%,#00e9fa 60.71%,#00e7fb 61.95%,#00e9fa 63.20%,#00eff7 64.44%,#00faf0 65.69%,#00f8e3 66.93%,#00f6ce 68.18%,#00f6bb 69.42%,#00f7ad 70.67%,#00f8a2 71.91%,#00f99e 73.16%,#00f8a5 74.40%,#00f7b0 75.65%,#00f6bb 76.89%,#00f5c6 78.14%,#00f6cf 79.38%,#00f7d4 80.63%,#00f7da 81.87%,#00f8e1 83.12%,#00f9e7 84.36%,#00faec 85.61%,#00f7f2 86.85%,#00edf8 88.10%,#00e2fe 89.34%,#00d4ff 90.59%,#00c8ff 91.83%,#00baff 93.08%,#00adff 94.32%,#00a0ff 95.57%,#0091ff 96.81%,#0081ff 98.06%,#006fff 100.00%)"></div><div style="top:370.71px;height:2.59px;background:linear-gradient(90deg,#0520f8 0.00%,#0520f8 3.69%,#0520f8 7.67%,#0520f8 11.65%,#0520f8 15.64%,#0520f8 19.62%,#0520f8 23.61%,#0520f8 27.59%,#0520f8 31.57%,#0520f8 35.56%,#0520f8 39.54%,#0520f8 40.09%,#00aaff 40.19%,#2fff00 40.44%,#2fff00 40.79%,#00f9e8 41.28%,#00dbff 41.78%,#00f8e1 42.28%,#00fa87 42.78%,#00ff07 43.28%,#83ff00 43.77%,#caff00 44.27%,#b1ff00 44.77%,#68ff00 45.27%,#17ff00 45.77%,#00ff23 46.26%,#00ff4a 46.76%,#00ff5e 47.26%,#00fe67 47.76%,#00fd72 48.26%,#00fc7c 48.75%,#00fb85 49.25%,#00fa8a 49.50%,#00f99c 50.75%,#00f7ae 51.99%,#00f5c3 53.24%,#00f6d3 54.48%,#00f8e3 55.73%,#00f9f1 56.97%,#00ecf9 58.22%,#00e2fe 59.46%,#00dbff 60.71%,#00d9ff 61.95%,#00dbff 63.20%,#00e2fe 64.44%,#00eff7 65.69%,#00faec 66.93%,#00f7d6 68.18%,#00f5c6 69.42%,#00f6b6 70.67%,#00f7ab 71.91%,#00f8a7 73.16%,#00f7ae 74.40%,#00f6b8 75.65%,#00f5c3 76.89%,#00f6cc 78.14%,#00f7d4 79.38%,#00f7d9 80.63%,#00f8de 81.87%,#00f9e4 83.12%,#00f9e9 84.36%,#00faee 85.61%,#00f5f3 86.85%,#00ecf9 88.10%,#00e2ff 89.34%,#00d4ff 90.59%,#00c8ff 91.83%,#00baff 93.08%,#00adff 94.32%,#00a0ff 95.57%,#0091ff 96.81%,#0081ff 98.06%,#006fff 100.00%)"></div><div style="top:372.70px;height:2.59px;background:linear-gradient(90deg,#0520f8 0.00%,#0520f8 3.69%,#0520f8 7.67%,#0520f8 11.65%,#0520f8 15.64%,#0520f8 19.62%,#0520f8 23.61%,#0520f8 27.59%,#0520f8 31.57%,#0520f8 35.56%,#0520f8 39.54%,#0520f8 40.09%,#00b4ff 40.19%,#54ff00 40.44%,#54ff00 40.79%,#00f9e8 41.28%,#00d9ff 41.78%,#00f8df 42.28%,#00fc7b 42.78%,#14ff00 43.28%,#b3ff00 43.77%,#fffc00 44.27%,#e6ff00 44.77%,#92ff00 45.27%,#36ff00 45.77%,#00ff16 46.26%,#00ff40 46.76%,#00ff59 47.26%,#00fe64 47.76%,#00fd72 48.26%,#00fb7d 48.75%,#00fa88 49.25%,#00fa8d 49.50%,#00f8a3 50.75%,#00f6b7 51.99%,#00f6cc 53.24%,#00f7db 54.48%,#00f9eb 55.73%,#00eef7 56.97%,#00e1ff 58.22%,#00d5ff 59.46%,#00cdff 60.71%,#00cbff 61.95%,#00ccff 63.20%,#00d5ff 64.44%,#00e4fd 65.69%,#00f5f3 66.93%,#00f8de 68.18%,#00f6cd 69.42%,#00f6bf 70.67%,#00f7b3 71.91%,#00f7b0 73.16%,#00f7b6 74.40%,#00f6c0 75.65%,#00f5ca 76.89%,#00f6d1 78.14%,#00f7d9 79.38%,#00f8dd 80.63%,#00f8e1 81.87%,#00f9e7 83.12%,#00f9eb 84.36%,#00faf0 85.61%,#00f3f4 86.85%,#00ebf9 88.10%,#00e1ff 89.34%,#00d3ff 90.59%,#00c8ff 91.83%,#00baff 93.08%,#00adff 94.32%,#00a0ff 95.57%,#0091ff 96.81%,#0081ff 98.06%,#006fff 100.00%)"></div><div style="top:374.69px;height:2.59px;background:linear-gradient(90deg,#0520f8 0.00%,#0520f8 3.69%,#0520f8 7.67%,#0520f8 11.65%,#0520f8 15.64%,#0520f8 19.62%,#0520f8 23.61%,#0520f8 27.59%,#0520f8 31.57%,#0520f8 35.56%,#0520f8 39.54%,#0520f8 40.09%,#00bcff 40.19%,#72ff00 40.44%,#73ff00 40.79%,#00f9e8 41.28%,#00d8ff 41.78%,#00f8dd 42.28%,#00fd70 42.78%,#32ff00 43.28%,#e1ff00 43.77%,#ffcf00 44.27%,#ffe900 44.77%,#bbff00 45.27%,#50ff00 45.77%,#00ff09 46.26%,#00ff36 46.76%,#00ff54 47.26%,#00fe61 47.76%,#00fd70 48.26%,#00fb7e 48.75%,#00fa89 49.25%,#00fa8f 49.50%,#00f8a8 50.75%,#00f6bf 51.99%,#00f6d2 53.24%,#00f8e2 54.48%,#00f7f2 55.73%,#00e4fd 56.97%,#00d5ff 58.22%,#00c9ff 59.46%,#00c1ff 60.71%,#00beff 61.95%,#00c0ff 63.20%,#00c9ff 64.44%,#00daff 65.69%,#00ecf8 66.93%,#00f8e4 68.18%,#00f6d3 69.42%,#00f5c7 70.67%,#00f6ba 71.91%,#00f6b7 73.16%,#00f6bd 74.40%,#00f5c7 75.65%,#00f6cf 76.89%,#00f7d5 78.14%,#00f8dd 79.38%,#00f8e1 80.63%,#00f9e4 81.87%,#00f9ea 83.12%,#00faed 84.36%,#00f9f1 85.61%,#00f2f5 86.85%,#00eafa 88.10%,#00e1ff 89.34%,#00d3ff 90.59%,#00c8ff 91.83%,#00baff 93.08%,#00adff 94.32%,#00a0ff 95.57%,#0091ff 96.81%,#0081ff 98.06%,#006fff 100.00%)"></div><div style="top:376.69px;height:2.59px;background:linear-gradient(90deg,#0520f8 0.00%,#0520f8 3.69%,#0520f8 7.67%,#0520f8 11.65%,#0520f8 15.64%,#0520f8 19.62%,#0520f8 23.61%,#0520f8 27.59%,#0520f8 31.57%,#0520f8 35.56%,#0520f8 39.54%,#0520f8 40.09%,#00c3ff 40.19%,#8eff00 40.44%,#8eff00 40.79%,#00f9e7 41.28%,#00d6ff 41.78%,#00f7db 42.28%,#00fe64 42.78%,#4bff00 43.28%,#fff400 43.77%,#ffa700 44.27%,#ffc200 44.77%,#e3ff00 45.27%,#67ff00 45.77%,#05ff00 46.26%,#00ff2d 46.76%,#00ff4e 47.26%,#00ff5e 47.76%,#00fd6f 48.26%,#00fb7d 48.75%,#00fa8b 49.25%,#00fa91 49.50%,#00f7ac 50.75%,#00f5c5 51.99%,#00f7d7 53.24%,#00f9e8 54.48%,#00eff6 55.73%,#00dcff 56.97%,#00cbff 58.22%,#00bfff 59.46%,#00b7ff 60.71%,#00b5ff 61.95%,#00b7ff 63.20%,#00bfff 64.44%,#00d1ff 65.69%,#00e6fc 66.93%,#00f9e9 68.18%,#00f7d8 69.42%,#00f5cc 70.67%,#00f6c1 71.91%,#00f6bd 73.16%,#00f5c3 74.40%,#00f5cc 75.65%,#00f6d2 76.89%,#00f7d9 78.14%,#00f8e1 79.38%,#00f9e4 80.63%,#00f9e7 81.87%,#00f9ec 83.12%,#00faef 84.36%,#00f7f2 85.61%,#00f1f6 86.85%,#00e9fa 88.10%,#00e0ff 89.34%,#00d3ff 90.59%,#00c8ff 91.83%,#00baff 93.08%,#00adff 94.32%,#00a0ff 95.57%,#0091ff 96.81%,#0081ff 98.06%,#006fff 100.00%)"></div><div style="top:378.68px;height:2.59px;background:linear-gradient(90deg,#0520f8 0.00%,#0520f8 3.69%,#0520f8 7.67%,#0520f8 11.65%,#0520f8 15.64%,#0520f8 19.62%,#0520f8 23.61%,#0520f8 27.59%,#0520f8 31.57%,#0520f8 35.56%,#0520f8 39.54%,#0520f8 40.09%,#00c8ff 40.19%,#a1ff00 40.44%,#a1ff00 40.79%,#00f9e7 41.28%,#00d5ff 41.78%,#00f7d9 42.28%,#00ff5b 42.78%,#5eff00 43.28%,#ffd700 43.77%,#ff8a00 44.27%,#ffa400 44.77%,#fffc00 45.27%,#7cff00 45.77%,#13ff00 46.26%,#00ff26 46.76%,#00ff4a 47.26%,#00ff5c 47.76%,#00fd6e 48.26%,#00fb7d 48.75%,#00fa8b 49.25%,#00fa92 49.50%,#00f7b0 50.75%,#00f5c9 51.99%,#00f7db 53.24%,#00f9ec 54.48%,#00eaf9 55.73%,#00d6ff 56.97%,#00c5ff 58.22%,#00b9ff 59.46%,#00b1ff 60.71%,#00afff 61.95%,#00b0ff 63.20%,#00b9ff 64.44%,#00cbff 65.69%,#00e1ff 66.93%,#00faed 68.18%,#00f7dc 69.42%,#00f6cf 70.67%,#00f5c6 71.91%,#00f5c3 73.16%,#00f5c8 74.40%,#00f6cf 75.65%,#00f7d6 76.89%,#00f8dc 78.14%,#00f8e4 79.38%,#00f9e7 80.63%,#00f9e9 81.87%,#00faed 83.12%,#00faf0 84.36%,#00f6f3 85.61%,#00f0f6 86.85%,#00e8fb 88.10%,#00dfff 89.34%,#00d3ff 90.59%,#00c8ff 91.83%,#00baff 93.08%,#00adff 94.32%,#00a0ff 95.57%,#0091ff 96.81%,#0081ff 98.06%,#006fff 100.00%)"></div><div style="top:380.67px;height:2.59px;background:linear-gradient(90deg,#0520f8 0.00%,#0520f8 3.69%,#0520f8 7.67%,#0520f8 11.65%,#0520f8 15.64%,#0520f8 19.62%,#0520f8 23.61%,#0520f8 27.59%,#0520f8 31.57%,#0520f8 35.56%,#0520f8 39.54%,#0520f8 40.09%,#00caff 40.19%,#aaff00 40.44%,#aaff00 40.79%,#00f9e7 41.28%,#00d5ff 41.78%,#00f7d7 42.28%,#00ff52 42.78%,#72ff00 43.28%,#ffba00 43.77%,#ff6e00 44.27%,#ff8900 44.77%,#ffe200 45.27%,#93ff00 45.77%,#23ff00 46.26%,#00ff20 46.76%,#00ff44 47.26%,#00ff58 47.76%,#00fd6b 48.26%,#00fc7c 48.75%,#00fa8b 49.25%,#00fa92 49.50%,#00f7b1 50.75%,#00f5cb 51.99%,#00f8dd 53.24%,#00faee 54.48%,#00e8fb 55.73%,#00d2ff 56.97%,#00c2ff 58.22%,#00b6ff 59.46%,#00aeff 60.71%,#00acff 61.95%,#00adff 63.20%,#00b6ff 64.44%,#00c7ff 65.69%,#00ddff 66.93%,#00faef 68.18%,#00f8de 69.42%,#00f6d2 70.67%,#00f5c9 71.91%,#00f5c7 73.16%,#00f5cb 74.40%,#00f6d2 75.65%,#00f7d8 76.89%,#00f8df 78.14%,#00f9e6 79.38%,#00f9e9 80.63%,#00f9eb 81.87%,#00faef 83.12%,#00f8f1 84.36%,#00f5f3 85.61%,#00eff7 86.85%,#00e8fb 88.10%,#00dfff 89.34%,#00d3ff 90.59%,#00c8ff 91.83%,#00baff 93.08%,#00adff 94.32%,#00a0ff 95.57%,#0091ff 96.81%,#0081ff 98.06%,#006fff 100.00%)"></div><div style="top:382.66px;height:2.59px;background:linear-gradient(90deg,#0520f8 0.00%,#0520f8 3.69%,#0520f8 7.67%,#0520f8 11.65%,#0520f8 15.64%,#0520f8 19.62%,#0520f8 23.61%,#0520f8 27.59%,#0520f8 31.57%,#0520f8 35.56%,#0520f8 39.54%,#0520f8 40.09%,#00c9ff 40.19%,#a8ff00 40.44%,#a9ff00 40.79%,#00f9e6 41.28%,#00d5ff 41.78%,#00f7d5 42.28%,#00ff49 42.78%,#86ff00 43.28%,#ffa300 43.77%,#ff5601 44.27%,#ff7100 44.77%,#ffcb00 45.27%,#a7ff00 45.77%,#30ff00 46.26%,#00ff1a 46.76%,#00ff3f 47.26%,#00ff55 47.76%,#00fe69 48.26%,#00fc7a 48.75%,#00fa89 49.25%,#00fa91 49.50%,#00f7b1 50.75%,#00f5cb 51.99%,#00f8de 53.24%,#00faef 54.48%,#00e7fb 55.73%,#00d2ff 56.97%,#00c2ff 58.22%,#00b6ff 59.46%,#00aeff 60.71%,#00acff 61.95%,#00adff 63.20%,#00b6ff 64.44%,#00c7ff 65.69%,#00ddff 66.93%,#00faf0 68.18%,#00f8e0 69.42%,#00f6d4 70.67%,#00f5cb 71.91%,#00f5c9 73.16%,#00f6cd 74.40%,#00f6d3 75.65%,#00f7da 76.89%,#00f8e0 78.14%,#00f9e8 79.38%,#00f9ea 80.63%,#00f9ec 81.87%,#00faf0 83.12%,#00f7f2 84.36%,#00f4f4 85.61%,#00eff7 86.85%,#00e8fb 88.10%,#00dfff 89.34%,#00d3ff 90.59%,#00c8ff 91.83%,#00baff 93.08%,#00adff 94.32%,#00a0ff 95.57%,#0091ff 96.81%,#0081ff 98.06%,#006fff 100.00%)"></div><div style="top:384.66px;height:2.59px;background:linear-gradient(90deg,#0520f8 0.00%,#0520f8 3.69%,#0520f8 7.67%,#0520f8 11.65%,#0520f8 15.64%,#0520f8 19.62%,#0520f8 23.61%,#0520f8 27.59%,#0520f8 31.57%,#0520f8 35.56%,#0520f8 39.54%,#0520f8 40.09%,#00c7ff 40.19%,#9dff00 40.44%,#9eff00 40.79%,#00f9e6 41.28%,#00d6ff 41.78%,#00f6d3 42.28%,#00ff41 42.78%,#98ff00 43.28%,#ff9000 43.77%,#fd4203 44.27%,#ff5c00 44.77%,#ffb700 45.27%,#baff00 45.77%,#3dff00 46.26%,#00ff14 46.76%,#00ff3a 47.26%,#00ff51 47.76%,#00fe65 48.26%,#00fc77 48.75%,#00fb87 49.25%,#00fa8f 49.50%,#00f7b0 50.75%,#00f5cb 51.99%,#00f8dd 53.24%,#00faee 54.48%,#00e9fa 55.73%,#00d4ff 56.97%,#00c4ff 58.22%,#00b9ff 59.46%,#00b1ff 60.71%,#00afff 61.95%,#00b1ff 63.20%,#00b9ff 64.44%,#00c9ff 65.69%,#00deff 66.93%,#00faf0 68.18%,#00f8e0 69.42%,#00f7d4 70.67%,#00f6cc 71.91%,#00f5ca 73.16%,#00f6ce 74.40%,#00f7d4 75.65%,#00f7db 76.89%,#00f8e1 78.14%,#00f9e8 79.38%,#00f9eb 80.63%,#00faed 81.87%,#00faf0 83.12%,#00f7f2 84.36%,#00f4f4 85.61%,#00eef7 86.85%,#00e7fb 88.10%,#00dfff 89.34%,#00d3ff 90.59%,#00c8ff 91.83%,#00baff 93.08%,#00adff 94.32%,#00a0ff 95.57%,#0091ff 96.81%,#0081ff 98.06%,#006fff 100.00%)"></div><div style="top:386.65px;height:2.59px;background:linear-gradient(90deg,#0520f8 0.00%,#0520f8 3.69%,#0520f8 7.67%,#0520f8 11.65%,#0520f8 15.64%,#0520f8 19.62%,#0520f8 23.61%,#0520f8 27.59%,#0520f8 31.57%,#0520f8 35.56%,#0520f8 39.54%,#0520f8 40.09%,#00c1ff 40.19%,#88ff00 40.44%,#88ff00 40.79%,#00f9e6 41.28%,#00d7ff 41.78%,#00f6d1 42.28%,#00ff38 42.78%,#abff00 43.28%,#ff7c00 43.77%,#fc2e06 44.27%,#fe4902 44.77%,#ffa400 45.27%,#cdff00 45.77%,#49ff00 46.26%,#00ff0d 46.76%,#00ff34 47.26%,#00ff4b 47.76%,#00fe61 48.26%,#00fd73 48.75%,#00fb83 49.25%,#00fa8b 49.50%,#00f7ad 50.75%,#00f5c9 51.99%,#00f7db 53.24%,#00f9eb 54.48%,#00ecf8 55.73%,#00daff 56.97%,#00caff 58.22%,#00bfff 59.46%,#00b8ff 60.71%,#00b5ff 61.95%,#00b7ff 63.20%,#00bfff 64.44%,#00ceff 65.69%,#00e2fe 66.93%,#00faee 68.18%,#00f8df 69.42%,#00f6d4 70.67%,#00f6cc 71.91%,#00f5ca 73.16%,#00f6ce 74.40%,#00f7d4 75.65%,#00f7db 76.89%,#00f8e1 78.14%,#00f9e8 79.38%,#00f9eb 80.63%,#00faed 81.87%,#00faf0 83.12%,#00f7f2 84.36%,#00f4f4 85.61%,#00eef7 86.85%,#00e7fb 88.10%,#00dfff 89.34%,#00d3ff 90.59%,#00c8ff 91.83%,#00baff 93.08%,#00adff 94.32%,#00a0ff 95.57%,#0091ff 96.81%,#0081ff 98.06%,#006fff 100.00%)"></div><div style="top:388.64px;height:2.59px;background:linear-gradient(90deg,#0520f8 0.00%,#0520f8 3.69%,#0520f8 7.67%,#0520f8 11.65%,#0520f8 15.64%,#0520f8 19.62%,#0520f8 23.61%,#0520f8 27.59%,#0520f8 31.57%,#0520f8 35.56%,#0520f8 39.54%,#0520f8 40.09%,#00baff 40.19%,#6aff00 40.44%,#6bff00 40.79%,#00f9e6 41.28%,#00d9ff 41.78%,#00f6cf 42.28%,#00ff34 42.78%,#b3ff00 43.28%,#ff7500 43.77%,#fc2707 44.27%,#fd4203 44.77%,#ff9c00 45.27%,#d5ff00 45.77%,#4eff00 46.26%,#00ff0a 46.76%,#00ff30 47.26%,#00ff48 47.76%,#00ff5e 48.26%,#00fd70 48.75%,#00fb80 49.25%,#00fa88 49.50%,#00f8a9 50.75%,#00f5c4 51.99%,#00f7d7 53.24%,#00f9e7 54.48%,#00f2f5 55.73%,#00e1ff 56.97%,#00d2ff 58.22%,#00c7ff 59.46%,#00c0ff 60.71%,#00beff 61.95%,#00c0ff 63.20%,#00c7ff 64.44%,#00d6ff 65.69%,#00e7fb 66.93%,#00f9eb 68.18%,#00f8dc 69.42%,#00f6d2 70.67%,#00f5cb 71.91%,#00f5c9 73.16%,#00f6cd 74.40%,#00f6d3 75.65%,#00f7da 76.89%,#00f8e0 78.14%,#00f9e8 79.38%,#00f9ea 80.63%,#00f9ec 81.87%,#00faf0 83.12%,#00f7f2 84.36%,#00f4f4 85.61%,#00eff7 86.85%,#00e8fb 88.10%,#00dfff 89.34%,#00d3ff 90.59%,#00c8ff 91.83%,#00baff 93.08%,#00adff 94.32%,#00a0ff 95.57%,#0091ff 96.81%,#0081ff 98.06%,#006fff 100.00%)"></div><div style="top:390.64px;height:2.59px;background:linear-gradient(90deg,#0520f8 0.00%,#0520f8 3.69%,#0520f8 7.67%,#0520f8 11.65%,#0520f8 15.64%,#0520f8 19.62%,#0520f8 23.61%,#0520f8 27.59%,#0520f8 31.57%,#0520f8 35.56%,#0520f8 39.54%,#0520f8 40.09%,#00b1ff 40.19%,#4bff00 40.44%,#4cff00 40.79%,#00f9e6 41.28%,#00dbff 41.78%,#00f6cd 42.28%,#00ff30 42.78%,#bcff00 43.28%,#ff6d00 43.77%,#fb1f08 44.27%,#fd3b04 44.77%,#ff9500 45.27%,#deff00 45.77%,#54ff00 46.26%,#00ff06 46.76%,#00ff2c 47.26%,#00ff44 47.76%,#00ff59 48.26%,#00fd6b 48.75%,#00fc7b 49.25%,#00fb83 49.50%,#00f8a4 50.75%,#00f6bf 51.99%,#00f6d3 53.24%,#00f8e2 54.48%,#00f9f1 55.73%,#00e9fa 56.97%,#00dcff 58.22%,#00d1ff 59.46%,#00cbff 60.71%,#00c9ff 61.95%,#00cbff 63.20%,#00d2ff 64.44%,#00dfff 65.69%,#00eef7 66.93%,#00f9e7 68.18%,#00f7d9 69.42%,#00f6d0 70.67%,#00f5c9 71.91%,#00f5c7 73.16%,#00f5cb 74.40%,#00f6d2 75.65%,#00f7d8 76.89%,#00f8df 78.14%,#00f9e6 79.38%,#00f9e9 80.63%,#00f9eb 81.87%,#00faef 83.12%,#00f8f1 84.36%,#00f5f3 85.61%,#00eff7 86.85%,#00e8fb 88.10%,#00dfff 89.34%,#00d3ff 90.59%,#00c8ff 91.83%,#00baff 93.08%,#00adff 94.32%,#00a0ff 95.57%,#0091ff 96.81%,#0081ff 98.06%,#006fff 100.00%)"></div><div style="top:392.63px;height:2.59px;background:linear-gradient(90deg,#0520f8 0.00%,#0520f8 3.69%,#0520f8 7.67%,#0520f8 11.65%,#0520f8 15.64%,#0520f8 19.62%,#0520f8 23.61%,#0520f8 27.59%,#0520f8 31.57%,#0520f8 35.56%,#0520f8 39.54%,#0520f8 40.09%,#00a7ff 40.19%,#23ff00 40.44%,#24ff00 40.79%,#00f9e6 41.28%,#00ddff 41.78%,#00f5cb 42.28%,#00ff2b 42.78%,#c4ff00 43.28%,#ff6500 43.77%,#fb1809 44.27%,#fc3305 44.77%,#ff8e00 45.27%,#e7ff00 45.77%,#5aff00 46.26%,#00ff01 46.76%,#00ff27 47.26%,#00ff3f 47.76%,#00ff54 48.26%,#00fe66 48.75%,#00fc76 49.25%,#00fb7d 49.50%,#00f99d 50.75%,#00f6b7 51.99%,#00f6cd 53.24%,#00f7db 54.48%,#00f9ea 55.73%,#00f2f5 56.97%,#00e6fc 58.22%,#00ddff 59.46%,#00d7ff 60.71%,#00d5ff 61.95%,#00d7ff 63.20%,#00ddff 64.44%,#00e8fb 65.69%,#00f5f3 66.93%,#00f8e2 68.18%,#00f7d5 69.42%,#00f6cd 70.67%,#00f5c6 71.91%,#00f5c3 73.16%,#00f5c8 74.40%,#00f6cf 75.65%,#00f7d6 76.89%,#00f8dc 78.14%,#00f8e4 79.38%,#00f9e7 80.63%,#00f9e9 81.87%,#00faed 83.12%,#00faf0 84.36%,#00f6f3 85.61%,#00f0f6 86.85%,#00e8fb 88.10%,#00dfff 89.34%,#00d3ff 90.59%,#00c8ff 91.83%,#00baff 93.08%,#00adff 94.32%,#00a0ff 95.57%,#0091ff 96.81%,#0081ff 98.06%,#006fff 100.00%)"></div><div style="top:394.62px;height:2.59px;background:linear-gradient(90deg,#0520f8 0.00%,#0520f8 3.69%,#0520f8 7.67%,#0520f8 11.65%,#0520f8 15.64%,#0520f8 19.62%,#0520f8 23.61%,#0520f8 27.59%,#0520f8 31.57%,#0520f8 35.56%,#0520f8 39.54%,#0520f8 40.09%,#009bff 40.19%,#00ff09 40.44%,#00ff08 40.79%,#00f9e5 41.28%,#00e1ff 41.78%,#00f5c8 42.28%,#00ff26 42.78%,#cdff00 43.28%,#ff5d00 43.77%,#fa100a 44.27%,#fc2c06 44.77%,#ff8600 45.27%,#f0ff00 45.77%,#61ff00 46.26%,#06ff00 46.76%,#00ff22 47.26%,#00ff39 47.76%,#00ff4e 48.26%,#00fe5f 48.75%,#00fd6f 49.25%,#00fc76 49.50%,#00f996 50.75%,#00f7af 51.99%,#00f5c6 53.24%,#00f7d4 54.48%,#00f8e3 55.73%,#00faef 56.97%,#00f0f6 58.22%,#00e8fb 59.46%,#00e4fd 60.71%,#00e2fe 61.95%,#00e4fd 63.20%,#00e8fb 64.44%,#00f1f5 65.69%,#00faed 66.93%,#00f7dc 68.18%,#00f6d0 69.42%,#00f5c9 70.67%,#00f6c1 71.91%,#00f6bd 73.16%,#00f5c3 74.40%,#00f5cc 75.65%,#00f6d2 76.89%,#00f7d9 78.14%,#00f8e1 79.38%,#00f9e4 80.63%,#00f9e7 81.87%,#00f9ec 83.12%,#00faef 84.36%,#00f7f2 85.61%,#00f1f6 86.85%,#00e9fa 88.10%,#00e0ff 89.34%,#00d3ff 90.59%,#00c8ff 91.83%,#00baff 93.08%,#00adff 94.32%,#00a0ff 95.57%,#0091ff 96.81%,#0081ff 98.06%,#006fff 100.00%)"></div><div style="top:396.61px;height:2.59px;background:linear-gradient(90deg,#0520f8 0.00%,#0520f8 3.69%,#0520f8 7.67%,#0520f8 11.65%,#0520f8 15.64%,#0520f8 19.62%,#0520f8 23.61%,#0520f8 27.59%,#0520f8 31.57%,#0520f8 35.56%,#0520f8 39.54%,#0520f8 40.09%,#0090ff 40.19%,#00ff2b 40.44%,#00ff2a 40.79%,#00f9e6 41.28%,#00e3fe 41.78%,#00f5c7 42.28%,#00ff26 42.78%,#c8ff00 43.28%,#ff6400 43.77%,#fb1709 44.27%,#fc3205 44.77%,#ff8c00 45.27%,#ecff00 45.77%,#60ff00 46.26%,#07ff00 46.76%,#00ff20 47.26%,#00ff36 47.76%,#00ff4a 48.26%,#00ff5b 48.75%,#00fd6a 49.25%,#00fd71 49.50%,#00fa8e 50.75%,#00f8a6 51.99%,#00f6bc 53.24%,#00f6cd 54.48%,#00f7db 55.73%,#00f9e6 56.97%,#00faef 58.22%,#00f3f4 59.46%,#00eff7 60.71%,#00edf8 61.95%,#00eff7 63.20%,#00f3f4 64.44%,#00faef 65.69%,#00f9e6 66.93%,#00f7d5 68.18%,#00f5cb 69.42%,#00f5c2 70.67%,#00f6ba 71.91%,#00f6b7 73.16%,#00f6bd 74.40%,#00f5c7 75.65%,#00f6cf 76.89%,#00f7d5 78.14%,#00f8dd 79.38%,#00f8e1 80.63%,#00f9e4 81.87%,#00f9ea 83.12%,#00faed 84.36%,#00f9f1 85.61%,#00f2f5 86.85%,#00eafa 88.10%,#00e1ff 89.34%,#00d3ff 90.59%,#00c8ff 91.83%,#00baff 93.08%,#00adff 94.32%,#00a0ff 95.57%,#0091ff 96.81%,#0081ff 98.06%,#006fff 100.00%)"></div><div style="top:398.61px;height:2.59px;background:linear-gradient(90deg,#0520f8 0.00%,#0520f8 3.69%,#0520f8 7.67%,#0520f8 11.65%,#0520f8 15.64%,#0520f8 19.62%,#0520f8 23.61%,#0520f8 27.59%,#0520f8 31.57%,#0520f8 35.56%,#0520f8 39.54%,#0520f8 40.09%,#0083ff 40.19%,#00ff55 40.44%,#00ff54 40.79%,#00f9e6 41.28%,#00e6fc 41.78%,#00f5c5 42.28%,#00ff27 42.78%,#c3ff00 43.28%,#ff6b00 43.77%,#fb1e08 44.27%,#fd3904 44.77%,#ff9100 45.27%,#e8ff00 45.77%,#5fff00 46.26%,#09ff00 46.76%,#00ff1e 47.26%,#00ff32 47.76%,#00ff45 48.26%,#00ff55 48.75%,#00fe63 49.25%,#00fd6a 49.50%,#00fb86 50.75%,#00f99c 51.99%,#00f7b1 53.24%,#00f5c3 54.48%,#00f6d2 55.73%,#00f8de 56.97%,#00f9e6 58.22%,#00faed 59.46%,#00faf0 60.71%,#00f9f1 61.95%,#00faf0 63.20%,#00faed 64.44%,#00f9e7 65.69%,#00f8de 66.93%,#00f6ce 68.18%,#00f5c3 69.42%,#00f6ba 70.67%,#00f7b3 71.91%,#00f7b0 73.16%,#00f7b6 74.40%,#00f6c0 75.65%,#00f5ca 76.89%,#00f6d1 78.14%,#00f7d9 79.38%,#00f8dd 80.63%,#00f8e1 81.87%,#00f9e7 83.12%,#00f9eb 84.36%,#00faf0 85.61%,#00f3f4 86.85%,#00ebf9 88.10%,#00e1ff 89.34%,#00d3ff 90.59%,#00c8ff 91.83%,#00baff 93.08%,#00adff 94.32%,#00a0ff 95.57%,#0091ff 96.81%,#0081ff 98.06%,#006fff 100.00%)"></div><div style="top:400.60px;height:2.59px;background:linear-gradient(90deg,#0520f8 0.00%,#0520f8 3.69%,#0520f8 7.67%,#0520f8 11.65%,#0520f8 15.64%,#0520f8 19.62%,#0520f8 23.61%,#0520f8 27.59%,#0520f8 31.57%,#0520f8 35.56%,#0520f8 39.54%,#0520f8 40.09%,#0078ff 40.19%,#00fb7f 40.44%,#00fb7d 40.79%,#00f9e6 41.28%,#00e9fa 41.78%,#00f5c2 42.28%,#00ff27 42.78%,#bfff00 43.28%,#ff7100 43.77%,#fc2607 44.27%,#fd4003 44.77%,#ff9700 45.27%,#e4ff00 45.77%,#5fff00 46.26%,#0bff00 46.76%,#00ff1b 47.26%,#00ff2d 47.76%,#00ff40 48.26%,#00ff4f 48.75%,#00ff5d 49.25%,#00fe63 49.50%,#00fb7d 50.75%,#00f992 51.99%,#00f8a5 53.24%,#00f6b7 54.48%,#00f5ca 55.73%,#00f7d5 56.97%,#00f8de 58.22%,#00f8e4 59.46%,#00f9e7 60.71%,#00f9e8 61.95%,#00f9e7 63.20%,#00f8e4 64.44%,#00f8de 65.69%,#00f7d6 66.93%,#00f5c6 68.18%,#00f6b9 69.42%,#00f7b1 70.67%,#00f7ab 71.91%,#00f8a7 73.16%,#00f7ae 74.40%,#00f6b8 75.65%,#00f5c3 76.89%,#00f6cc 78.14%,#00f7d4 79.38%,#00f7d9 80.63%,#00f8de 81.87%,#00f9e4 83.12%,#00f9e9 84.36%,#00faee 85.61%,#00f5f3 86.85%,#00ecf9 88.10%,#00e2ff 89.34%,#00d4ff 90.59%,#00c8ff 91.83%,#00baff 93.08%,#00adff 94.32%,#00a0ff 95.57%,#0091ff 96.81%,#0081ff 98.06%,#006fff 100.00%)"></div><div style="top:402.59px;height:2.59px;background:linear-gradient(90deg,#0520f8 0.00%,#0520f8 3.69%,#0520f8 7.67%,#0520f8 11.65%,#0520f8 15.64%,#0520f8 19.62%,#0520f8 23.61%,#0520f8 27.59%,#0520f8 31.57%,#0520f8 35.56%,#0520f8 39.54%,#0520f8 40.09%,#006dff 40.19%,#00f8a6 40.44%,#00f8a5 40.79%,#00f9e6 41.28%,#00ecf8 41.78%,#00f6bf 42.28%,#00ff26 42.78%,#baff00 43.28%,#ff7800 43.77%,#fc2d06 44.27%,#fe4703 44.77%,#ff9d00 45.27%,#e0ff00 45.77%,#5fff00 46.26%,#0eff00 46.76%,#00ff17 47.26%,#00ff28 47.76%,#00ff3a 48.26%,#00ff48 48.75%,#00ff55 49.25%,#00ff5b 49.50%,#00fc74 50.75%,#00fa87 51.99%,#00f999 53.24%,#00f8aa 54.48%,#00f6be 55.73%,#00f6cc 56.97%,#00f7d5 58.22%,#00f7db 59.46%,#00f8de 60.71%,#00f8df 61.95%,#00f8de 63.20%,#00f7db 64.44%,#00f7d6 65.69%,#00f6ce 66.93%,#00f6bb 68.18%,#00f7af 69.42%,#00f8a8 70.67%,#00f8a2 71.91%,#00f99e 73.16%,#00f8a5 74.40%,#00f7b0 75.65%,#00f6bb 76.89%,#00f5c6 78.14%,#00f6cf 79.38%,#00f7d4 80.63%,#00f7da 81.87%,#00f8e1 83.12%,#00f9e7 84.36%,#00faec 85.61%,#00f7f2 86.85%,#00edf8 88.10%,#00e2fe 89.34%,#00d4ff 90.59%,#00c8ff 91.83%,#00baff 93.08%,#00adff 94.32%,#00a0ff 95.57%,#0091ff 96.81%,#0081ff 98.06%,#006fff 100.00%)"></div><div style="top:404.58px;height:2.59px;background:linear-gradient(90deg,#0520f8 0.00%,#0520f8 3.69%,#0520f8 7.67%,#0520f8 11.65%,#0520f8 15.64%,#0520f8 19.62%,#0520f8 23.61%,#0520f8 27.59%,#0520f8 31.57%,#0520f8 35.56%,#0520f8 39.54%,#0520f8 40.09%,#0064ff 40.19%,#00f5c9 40.44%,#00f5c8 40.79%,#00f9e6 41.28%,#00eff7 41.78%,#00f6be 42.28%,#00ff2b 42.78%,#abff00 43.28%,#ff8a00 43.77%,#fd4103 44.27%,#ff5900 44.77%,#ffad00 45.27%,#d1ff00 45.77%,#59ff00 46.26%,#0cff00 46.76%,#00ff17 47.26%,#00ff26 47.76%,#00ff36 48.26%,#00ff43 48.75%,#00ff4f 49.25%,#00ff55 49.50%,#00fd6b 50.75%,#00fc7d 51.99%,#00fa8e 53.24%,#00f99e 54.48%,#00f7b1 55.73%,#00f6c2 56.97%,#00f6cc 58.22%,#00f6d3 59.46%,#00f7d6 60.71%,#00f7d7 61.95%,#00f7d6 63.20%,#00f6d3 64.44%,#00f6ce 65.69%,#00f5c5 66.93%,#00f7b0 68.18%,#00f8a4 69.42%,#00f99e 70.67%,#00f998 71.91%,#00f994 73.16%,#00f99b 74.40%,#00f8a7 75.65%,#00f7b2 76.89%,#00f6be 78.14%,#00f5ca 79.38%,#00f6d0 80.63%,#00f7d6 81.87%,#00f8de 83.12%,#00f9e4 84.36%,#00f9ea 85.61%,#00f8f1 86.85%,#00eef7 88.10%,#00e3fe 89.34%,#00d4ff 90.59%,#00c8ff 91.83%,#00baff 93.08%,#00adff 94.32%,#00a0ff 95.57%,#0091ff 96.81%,#0081ff 98.06%,#006fff 100.00%)"></div><div style="top:406.58px;height:2.59px;background:linear-gradient(90deg,#0520f8 0.00%,#0520f8 3.69%,#0520f8 7.67%,#0520f8 11.65%,#0520f8 15.64%,#0520f8 19.62%,#0520f8 23.61%,#0520f8 27.59%,#0520f8 31.57%,#0520f8 35.56%,#0520f8 39.54%,#0520f8 40.09%,#005bff 40.19%,#00f8df 40.44%,#00f8de 40.79%,#00f9e6 41.28%,#00f2f5 41.78%,#00f6bd 42.28%,#00ff2f 42.78%,#9bff00 43.28%,#ff9d00 43.77%,#ff5401 44.27%,#ff6e00 44.77%,#ffc000 45.27%,#c2ff00 45.77%,#53ff00 46.26%,#0aff00 46.76%,#00ff16 47.26%,#00ff24 47.76%,#00ff32 48.26%,#00ff3e 48.75%,#00ff49 49.25%,#00ff4e 49.50%,#00fe63 50.75%,#00fd72 51.99%,#00fb82 53.24%,#00fa91 54.48%,#00f8a5 55.73%,#00f7b5 56.97%,#00f5c2 58.22%,#00f5cb 59.46%,#00f6ce 60.71%,#00f6cf 61.95%,#00f6cd 63.20%,#00f5ca 64.44%,#00f5c5 65.69%,#00f6ba 66.93%,#00f8a4 68.18%,#00f999 69.42%,#00f993 70.67%,#00fa8e 71.91%,#00fa8a 73.16%,#00fa91 74.40%,#00f99d 75.65%,#00f8a9 76.89%,#00f7b5 78.14%,#00f5c2 79.38%,#00f5ca 80.63%,#00f6d2 81.87%,#00f7db 83.12%,#00f8e1 84.36%,#00f9e8 85.61%,#00faf0 86.85%,#00eff6 88.10%,#00e4fd 89.34%,#00d5ff 90.59%,#00c8ff 91.83%,#00baff 93.08%,#00adff 94.32%,#00a0ff 95.57%,#0091ff 96.81%,#0081ff 98.06%,#006fff 100.00%)"></div><div style="top:408.57px;height:2.59px;background:linear-gradient(90deg,#0520f8 0.00%,#0520f8 3.69%,#0520f8 7.67%,#0520f8 11.65%,#0520f8 15.64%,#0520f8 19.62%,#0520f8 23.61%,#0520f8 27.59%,#0520f8 31.57%,#0520f8 35.56%,#0520f8 39.54%,#0520f8 40.09%,#0054ff 40.19%,#00f8f1 40.44%,#00faf0 40.79%,#00f9e7 41.28%,#00f5f3 41.78%,#00f6bc 42.28%,#00ff34 42.78%,#89ff00 43.28%,#ffb100 43.77%,#ff6c00 44.27%,#ff8500 44.77%,#ffd500 45.27%,#b1ff00 45.77%,#4bff00 46.26%,#07ff00 46.76%,#00ff16 47.26%,#00ff22 47.76%,#00ff2e 48.26%,#00ff39 48.75%,#00ff43 49.25%,#00ff47 49.50%,#00ff5a 50.75%,#00fe68 51.99%,#00fc77 53.24%,#00fb85 54.48%,#00f999 55.73%,#00f8a9 56.97%,#00f6b7 58.22%,#00f6c0 59.46%,#00f5c5 60.71%,#00f5c6 61.95%,#00f5c4 63.20%,#00f6c0 64.44%,#00f6b9 65.69%,#00f7ae 66.93%,#00f999 68.18%,#00fa8e 69.42%,#00fa89 70.67%,#00fb84 71.91%,#00fb80 73.16%,#00fb87 74.40%,#00f993 75.65%,#00f89f 76.89%,#00f7ac 78.14%,#00f6b9 79.38%,#00f5c4 80.63%,#00f6cd 81.87%,#00f7d7 83.12%,#00f8df 84.36%,#00f9e6 85.61%,#00faee 86.85%,#00f1f6 88.10%,#00e4fd 89.34%,#00d5ff 90.59%,#00c8ff 91.83%,#00baff 93.08%,#00adff 94.32%,#00a0ff 95.57%,#0091ff 96.81%,#0081ff 98.06%,#006fff 100.00%)"></div><div style="top:410.56px;height:2.59px;background:linear-gradient(90deg,#0520f8 0.00%,#0520f8 3.69%,#0520f8 7.67%,#0520f8 11.65%,#0520f8 15.64%,#0520f8 19.62%,#0520f8 23.61%,#0520f8 27.59%,#0520f8 31.57%,#0520f8 35.56%,#0520f8 39.54%,#0520f8 40.09%,#004eff 40.19%,#00e5fc 40.44%,#00e7fc 40.79%,#00f9e7 41.28%,#00f8f1 41.78%,#00f6bc 42.28%,#00ff3b 42.78%,#74ff00 43.28%,#ffce00 43.77%,#ff8800 44.27%,#ff9f00 44.77%,#ffee00 45.27%,#9dff00 45.77%,#42ff00 46.26%,#02ff00 46.76%,#00ff16 47.26%,#00ff20 47.76%,#00ff2b 48.26%,#00ff35 48.75%,#00ff3d 49.25%,#00ff41 49.50%,#00ff51 50.75%,#00ff5e 51.99%,#00fd6c 53.24%,#00fc7a 54.48%,#00fa8d 55.73%,#00f99e 56.97%,#00f7ab 58.22%,#00f7b5 59.46%,#00f6b9 60.71%,#00f6bb 61.95%,#00f6b9 63.20%,#00f7b5 64.44%,#00f7ae 65.69%,#00f8a3 66.93%,#00fa8e 68.18%,#00fb83 69.42%,#00fb7e 70.67%,#00fc79 71.91%,#00fc75 73.16%,#00fc7c 74.40%,#00fa89 75.65%,#00f996 76.89%,#00f8a2 78.14%,#00f7b0 79.38%,#00f6bc 80.63%,#00f5c9 81.87%,#00f6d4 83.12%,#00f7dc 84.36%,#00f8e4 85.61%,#00faed 86.85%,#00f2f5 88.10%,#00e5fc 89.34%,#00d5ff 90.59%,#00c8ff 91.83%,#00baff 93.08%,#00adff 94.32%,#00a0ff 95.57%,#0091ff 96.81%,#0081ff 98.06%,#006fff 100.00%)"></div><div style="top:412.56px;height:2.59px;background:linear-gradient(90deg,#0520f8 0.00%,#0520f8 3.69%,#0520f8 7.67%,#0520f8 11.65%,#0520f8 15.64%,#0520f8 19.62%,#0520f8 23.61%,#0520f8 27.59%,#0520f8 31.57%,#0520f8 35.56%,#0520f8 39.54%,#0520f8 40.09%,#0049ff 40.19%,#00d4ff 40.44%,#00d5ff 40.79%,#00f9e7 41.28%,#00faef 41.78%,#00f6bc 42.28%,#00ff42 42.78%,#62ff00 43.28%,#ffea00 43.77%,#ffa500 44.27%,#ffbc00 44.77%,#f5ff00 45.27%,#88ff00 45.77%,#37ff00 46.26%,#00ff02 46.76%,#00ff17 47.26%,#00ff1f 47.76%,#00ff28 48.26%,#00ff30 48.75%,#00ff38 49.25%,#00ff3b 49.50%,#00ff49 50.75%,#00ff54 51.99%,#00fe61 53.24%,#00fd6e 54.48%,#00fb82 55.73%,#00f993 56.97%,#00f8a1 58.22%,#00f7aa 59.46%,#00f7af 60.71%,#00f7b1 61.95%,#00f7af 63.20%,#00f7aa 64.44%,#00f8a4 65.69%,#00f999 66.93%,#00fb84 68.18%,#00fc79 69.42%,#00fc74 70.67%,#00fd6f 71.91%,#00fd6b 73.16%,#00fd72 74.40%,#00fb7f 75.65%,#00fa8c 76.89%,#00f999 78.14%,#00f8a8 79.38%,#00f7b4 80.63%,#00f5c3 81.87%,#00f6d0 83.12%,#00f7d9 84.36%,#00f8e2 85.61%,#00f9eb 86.85%,#00f3f4 88.10%,#00e6fc 89.34%,#00d6ff 90.59%,#00c8ff 91.83%,#00baff 93.08%,#00adff 94.32%,#00a0ff 95.57%,#0091ff 96.81%,#0081ff 98.06%,#006fff 100.00%)"></div><div style="top:414.55px;height:2.59px;background:linear-gradient(90deg,#0520f8 0.00%,#0520f8 3.69%,#0520f8 7.67%,#0520f8 11.65%,#0520f8 15.64%,#0520f8 19.62%,#0520f8 23.61%,#0520f8 27.59%,#0520f8 31.57%,#0520f8 35.56%,#0520f8 39.54%,#0520f8 40.09%,#0046ff 40.19%,#00c5ff 40.44%,#00c6ff 40.79%,#00f9e8 41.28%,#00faed 41.78%,#00f6bd 42.28%,#00ff4c 42.78%,#4cff00 43.28%,#eeff00 43.77%,#ffcc00 44.27%,#ffe300 44.77%,#d0ff00 45.27%,#6fff00 45.77%,#28ff00 46.26%,#00ff07 46.76%,#00ff19 47.26%,#00ff1f 47.76%,#00ff26 48.26%,#00ff2d 48.75%,#00ff34 49.25%,#00ff37 49.50%,#00ff42 50.75%,#00ff4b 51.99%,#00ff57 53.24%,#00fe64 54.48%,#00fc78 55.73%,#00fa89 56.97%,#00f997 58.22%,#00f8a1 59.46%,#00f8a5 60.71%,#00f8a7 61.95%,#00f8a5 63.20%,#00f8a1 64.44%,#00f99a 65.69%,#00fa8f 66.93%,#00fc79 68.18%,#00fd6e 69.42%,#00fd6a 70.67%,#00fe65 71.91%,#00fe60 73.16%,#00fe68 74.40%,#00fc75 75.65%,#00fb83 76.89%,#00fa90 78.14%,#00f89f 79.38%,#00f7ac 80.63%,#00f6bc 81.87%,#00f6cd 83.12%,#00f7d6 84.36%,#00f8e0 85.61%,#00f9ea 86.85%,#00f5f3 88.10%,#00e7fc 89.34%,#00d6ff 90.59%,#00c8ff 91.83%,#00baff 93.08%,#00adff 94.32%,#00a0ff 95.57%,#0091ff 96.81%,#0081ff 98.06%,#006fff 100.00%)"></div><div style="top:416.54px;height:2.59px;background:linear-gradient(90deg,#0520f8 0.00%,#0520f8 3.69%,#0520f8 7.67%,#0520f8 11.65%,#0520f8 15.64%,#0520f8 19.62%,#0520f8 23.61%,#0520f8 27.59%,#0520f8 31.57%,#0520f8 35.56%,#0520f8 39.54%,#0520f8 40.09%,#0144fe 40.19%,#00bbff 40.44%,#00bcff 40.79%,#00f9e8 41.28%,#00f9eb 41.78%,#00f6bf 42.28%,#00ff56 42.78%,#32ff00 43.28%,#c0ff00 43.77%,#fff900 44.27%,#eeff00 44.77%,#a6ff00 45.27%,#56ff00 45.77%,#16ff00 46.26%,#00ff0e 46.76%,#00ff1c 47.26%,#00ff20 47.76%,#00ff26 48.26%,#00ff2b 48.75%,#00ff31 49.25%,#00ff33 49.50%,#00ff3c 50.75%,#00ff43 51.99%,#00ff4e 53.24%,#00ff5a 54.48%,#00fd6e 55.73%,#00fb7f 56.97%,#00fa8d 58.22%,#00f998 59.46%,#00f99c 60.71%,#00f89e 61.95%,#00f99c 63.20%,#00f998 64.44%,#00fa91 65.69%,#00fb86 66.93%,#00fd70 68.18%,#00fe65 69.42%,#00fe60 70.67%,#00ff5b 71.91%,#00ff57 73.16%,#00ff5f 74.40%,#00fd6c 75.65%,#00fc7a 76.89%,#00fa88 78.14%,#00f997 79.38%,#00f8a5 80.63%,#00f6b6 81.87%,#00f5c9 83.12%,#00f6d4 84.36%,#00f8de 85.61%,#00f9e8 86.85%,#00f6f3 88.10%,#00e7fb 89.34%,#00d6ff 90.59%,#00c8ff 91.83%,#00baff 93.08%,#00adff 94.32%,#00a0ff 95.57%,#0091ff 96.81%,#0081ff 98.06%,#006fff 100.00%)"></div><div style="top:418.53px;height:2.59px;background:linear-gradient(90deg,#0520f8 0.00%,#0520f8 3.69%,#0520f8 7.67%,#0520f8 11.65%,#0520f8 15.64%,#0520f8 19.62%,#0520f8 23.61%,#0520f8 27.59%,#0520f8 31.57%,#0520f8 35.56%,#0520f8 39.54%,#0520f8 40.09%,#0143fe 40.19%,#00b4ff 40.44%,#00b5ff 40.79%,#00f9e8 41.28%,#00f9ea 41.78%,#00f6c1 42.28%,#00fe62 42.78%,#14ff00 43.28%,#92ff00 43.77%,#d0ff00 44.27%,#baff00 44.77%,#7dff00 45.27%,#3eff00 45.77%,#04ff00 46.26%,#00ff15 46.76%,#00ff1f 47.26%,#00ff21 47.76%,#00ff26 48.26%,#00ff2a 48.75%,#00ff2e 49.25%,#00ff30 49.50%,#00ff36 50.75%,#00ff3b 51.99%,#00ff45 53.24%,#00ff51 54.48%,#00fe65 55.73%,#00fc77 56.97%,#00fb85 58.22%,#00fa8f 59.46%,#00f994 60.71%,#00f996 61.95%,#00f993 63.20%,#00fa8f 64.44%,#00fa89 65.69%,#00fb7d 66.93%,#00fe67 68.18%,#00ff5c 69.42%,#00ff57 70.67%,#00ff52 71.91%,#00ff4d 73.16%,#00ff56 74.40%,#00fe64 75.65%,#00fd72 76.89%,#00fb80 78.14%,#00fa8f 79.38%,#00f99e 80.63%,#00f7b1 81.87%,#00f5c6 83.12%,#00f6d1 84.36%,#00f7dc 85.61%,#00f9e7 86.85%,#00f7f2 88.10%,#00e8fb 89.34%,#00d6ff 90.59%,#00c8ff 91.83%,#00baff 93.08%,#00adff 94.32%,#00a0ff 95.57%,#0091ff 96.81%,#0081ff 98.06%,#006fff 100.00%)"></div><div style="top:420.53px;height:2.59px;background:linear-gradient(90deg,#0520f8 0.00%,#0520f8 3.69%,#0520f8 7.67%,#0520f8 11.65%,#0520f8 15.64%,#0520f8 19.62%,#0520f8 23.61%,#0520f8 27.59%,#0520f8 31.57%,#0520f8 35.56%,#0520f8 39.54%,#0520f8 40.09%,#0142fe 40.19%,#00b0ff 40.44%,#00b1ff 40.79%,#00f9e9 41.28%,#00f9ea 41.78%,#00f5c9 42.28%,#00fc7b 42.78%,#00ff1b 43.28%,#41ff00 43.77%,#68ff00 44.27%,#5bff00 44.77%,#35ff00 45.27%,#02ff00 45.77%,#00ff18 46.26%,#00ff27 46.76%,#00ff2c 47.26%,#00ff2a 47.76%,#00ff2d 48.26%,#00ff2f 48.75%,#00ff31 49.25%,#00ff32 49.50%,#00ff34 50.75%,#00ff36 51.99%,#00ff3e 53.24%,#00ff49 54.48%,#00ff5d 55.73%,#00fd6f 56.97%,#00fb7d 58.22%,#00fa88 59.46%,#00fa8d 60.71%,#00fa8e 61.95%,#00fa8c 63.20%,#00fa88 64.44%,#00fb81 65.69%,#00fc75 66.93%,#00ff5f 68.18%,#00ff54 69.42%,#00ff4f 70.67%,#00ff4a 71.91%,#00ff45 73.16%,#00ff4d 74.40%,#00ff5c 75.65%,#00fd6a 76.89%,#00fc78 78.14%,#00fa88 79.38%,#00f998 80.63%,#00f7ab 81.87%,#00f6c1 83.12%,#00f6cf 84.36%,#00f7da 85.61%,#00f9e6 86.85%,#00f8f1 88.10%,#00e8fb 89.34%,#00d7ff 90.59%,#00c8ff 91.83%,#00baff 93.08%,#00adff 94.32%,#00a0ff 95.57%,#0091ff 96.81%,#0081ff 98.06%,#006fff 100.00%)"></div><div style="top:422.52px;height:2.59px;background:linear-gradient(90deg,#0520f8 0.00%,#0520f8 3.69%,#0520f8 7.67%,#0520f8 11.65%,#0520f8 15.64%,#0520f8 19.62%,#0520f8 23.61%,#0520f8 27.59%,#0520f8 31.57%,#0520f8 35.56%,#0520f8 39.54%,#0520f8 40.09%,#0141fe 40.19%,#00aeff 40.44%,#00aeff 40.79%,#00f9ea 41.28%,#00f9eb 41.78%,#00f6cf 42.28%,#00f995 42.78%,#00ff4b 43.28%,#00ff11 43.77%,#07ff00 44.27%,#00ff02 44.77%,#00ff14 45.27%,#00ff28 45.77%,#00ff38 46.26%,#00ff3e 46.76%,#00ff3c 47.26%,#00ff36 47.76%,#00ff36 48.26%,#00ff35 48.75%,#00ff35 49.25%,#00ff35 49.50%,#00ff32 50.75%,#00ff32 51.99%,#00ff38 53.24%,#00ff42 54.48%,#00ff56 55.73%,#00fe68 56.97%,#00fc77 58.22%,#00fb81 59.46%,#00fb86 60.71%,#00fa88 61.95%,#00fb86 63.20%,#00fb81 64.44%,#00fc7a 65.69%,#00fd6f 66.93%,#00ff58 68.18%,#00ff4c 69.42%,#00ff47 70.67%,#00ff42 71.91%,#00ff3e 73.16%,#00ff46 74.40%,#00ff55 75.65%,#00fe63 76.89%,#00fd72 78.14%,#00fb82 79.38%,#00fa92 80.63%,#00f8a7 81.87%,#00f6be 83.12%,#00f6cd 84.36%,#00f7d8 85.61%,#00f9e4 86.85%,#00f9f1 88.10%,#00e9fa 89.34%,#00d7ff 90.59%,#00c8ff 91.83%,#00baff 93.08%,#00adff 94.32%,#00a0ff 95.57%,#0091ff 96.81%,#0081ff 98.06%,#006fff 100.00%)"></div><div style="top:424.51px;height:2.59px;background:linear-gradient(90deg,#0520f8 0.00%,#0520f8 3.69%,#0520f8 7.67%,#0520f8 11.65%,#0520f8 15.64%,#0520f8 19.62%,#0520f8 23.61%,#0520f8 27.59%,#0520f8 31.57%,#0520f8 35.56%,#0520f8 39.54%,#0520f8 40.09%,#0141fe 40.19%,#00adff 40.44%,#00adff 40.79%,#00f9eb 41.28%,#00f9eb 41.78%,#00f7d6 42.28%,#00f7b0 42.78%,#00fb7e 43.28%,#00ff57 43.77%,#00ff48 44.27%,#00ff4c 44.77%,#00ff54 45.27%,#00ff5a 45.77%,#00ff5b 46.26%,#00ff56 46.76%,#00ff4d 47.26%,#00ff42 47.76%,#00ff3f 48.26%,#00ff3c 48.75%,#00ff3a 49.25%,#00ff39 49.50%,#00ff32 50.75%,#00ff2f 51.99%,#00ff33 53.24%,#00ff3d 54.48%,#00ff50 55.73%,#00fe62 56.97%,#00fd71 58.22%,#00fc7c 59.46%,#00fb81 60.71%,#00fb83 61.95%,#00fb80 63.20%,#00fc7c 64.44%,#00fc75 65.69%,#00fe69 66.93%,#00ff52 68.18%,#00ff46 69.42%,#00ff41 70.67%,#00ff3c 71.91%,#00ff37 73.16%,#00ff40 74.40%,#00ff4f 75.65%,#00ff5d 76.89%,#00fd6c 78.14%,#00fc7c 79.38%,#00fa8d 80.63%,#00f8a3 81.87%,#00f6ba 83.12%,#00f5cb 84.36%,#00f7d7 85.61%,#00f8e4 86.85%,#00faf0 88.10%,#00e9fa 89.34%,#00d7ff 90.59%,#00c8ff 91.83%,#00baff 93.08%,#00adff 94.32%,#00a0ff 95.57%,#0091ff 96.81%,#0081ff 98.06%,#006fff 100.00%)"></div><div style="top:426.50px;height:2.59px;background:linear-gradient(90deg,#0520f8 0.00%,#0520f8 3.69%,#0520f8 7.67%,#0520f8 11.65%,#0520f8 15.64%,#0520f8 19.62%,#0520f8 23.61%,#0520f8 27.59%,#0520f8 31.57%,#0520f8 35.56%,#0520f8 39.54%,#0520f8 40.09%,#0141fe 40.19%,#00acff 40.44%,#00adff 40.79%,#00f9eb 41.28%,#00f9eb 41.78%,#00f7d9 42.28%,#00f6bf 42.78%,#00f99d 43.28%,#00fb85 43.77%,#00fb7d 44.27%,#00fb7e 44.77%,#00fb7e 45.27%,#00fc79 45.77%,#00fd70 46.26%,#00fe63 46.76%,#00ff56 47.26%,#00ff49 47.76%,#00ff43 48.26%,#00ff40 48.75%,#00ff3c 49.25%,#00ff3a 49.50%,#00ff30 50.75%,#00ff2b 51.99%,#00ff2f 53.24%,#00ff38 54.48%,#00ff4b 55.73%,#00ff5d 56.97%,#00fd6c 58.22%,#00fc77 59.46%,#00fc7c 60.71%,#00fb7e 61.95%,#00fc7c 63.20%,#00fc77 64.44%,#00fd70 65.69%,#00fe64 66.93%,#00ff4d 68.18%,#00ff41 69.42%,#00ff3c 70.67%,#00ff37 71.91%,#00ff32 73.16%,#00ff3b 74.40%,#00ff4a 75.65%,#00ff58 76.89%,#00fe67 78.14%,#00fc78 79.38%,#00fa89 80.63%,#00f89f 81.87%,#00f6b8 83.12%,#00f5ca 84.36%,#00f7d6 85.61%,#00f8e3 86.85%,#00faf0 88.10%,#00eafa 89.34%,#00d7ff 90.59%,#00c8ff 91.83%,#00baff 93.08%,#00adff 94.32%,#00a0ff 95.57%,#0091ff 96.81%,#0081ff 98.06%,#006fff 100.00%)"></div><div style="top:428.50px;height:2.59px;background:linear-gradient(90deg,#0520f8 0.00%,#0520f8 3.69%,#0520f8 7.67%,#0520f8 11.65%,#0520f8 15.64%,#0520f8 19.62%,#0520f8 23.61%,#0520f8 27.59%,#0520f8 31.57%,#0520f8 35.56%,#0520f8 39.54%,#0520f8 40.09%,#0141fe 40.19%,#00acff 40.44%,#00adff 40.79%,#00f9ec 41.28%,#00f9ec 41.78%,#00f8dd 42.28%,#00f6cd 42.78%,#00f6bc 43.28%,#00f7b3 43.77%,#00f7b3 44.27%,#00f7b1 44.77%,#00f8a8 45.27%,#00f998 45.77%,#00fb85 46.26%,#00fd72 46.76%,#00fe60 47.26%,#00ff50 47.76%,#00ff49 48.26%,#00ff44 48.75%,#00ff3f 49.25%,#00ff3c 49.50%,#00ff30 50.75%,#00ff29 51.99%,#00ff2c 53.24%,#00ff34 54.48%,#00ff48 55.73%,#00ff5a 56.97%,#00fe69 58.22%,#00fc74 59.46%,#00fc79 60.71%,#00fc7b 61.95%,#00fc78 63.20%,#00fc74 64.44%,#00fd6d 65.69%,#00fe61 66.93%,#00ff49 68.18%,#00ff3d 69.42%,#00ff38 70.67%,#00ff33 71.91%,#00ff2e 73.16%,#00ff37 74.40%,#00ff46 75.65%,#00ff55 76.89%,#00fe64 78.14%,#00fc75 79.38%,#00fb86 80.63%,#00f99d 81.87%,#00f7b6 83.12%,#00f5c9 84.36%,#00f7d5 85.61%,#00f8e2 86.85%,#00faef 88.10%,#00eafa 89.34%,#00d7ff 90.59%,#00c8ff 91.83%,#00baff 93.08%,#00adff 94.32%,#00a0ff 95.57%,#0091ff 96.81%,#0081ff 98.06%,#006fff 100.00%)"></div><div style="top:430.49px;height:2.59px;background:linear-gradient(90deg,#0520f8 0.00%,#0520f8 3.69%,#0520f8 7.67%,#0520f8 11.65%,#0520f8 15.64%,#0520f8 19.62%,#0520f8 23.61%,#0520f8 27.59%,#0520f8 31.57%,#0520f8 35.56%,#0520f8 39.54%,#0520f8 40.09%,#0141fe 40.19%,#00acff 40.44%,#00acff 40.79%,#00faec 41.28%,#00faed 41.78%,#00f8e1 42.28%,#00f7d8 42.78%,#00f7d5 43.28%,#00f7d9 43.77%,#00f8de 44.27%,#00f7db 44.77%,#00f6cf 45.27%,#00f6b8 45.77%,#00f99b 46.26%,#00fb81 46.76%,#00fd6b 47.26%,#00ff58 47.76%,#00ff50 48.26%,#00ff49 48.75%,#00ff43 49.25%,#00ff40 49.50%,#00ff31 50.75%,#00ff29 51.99%,#00ff2a 53.24%,#00ff32 54.48%,#00ff45 55.73%,#00ff57 56.97%,#00fe67 58.22%,#00fd72 59.46%,#00fc77 60.71%,#00fc79 61.95%,#00fc76 63.20%,#00fd72 64.44%,#00fd6b 65.69%,#00ff5e 66.93%,#00ff46 68.18%,#00ff3a 69.42%,#00ff35 70.67%,#00ff30 71.91%,#00ff2b 73.16%,#00ff34 74.40%,#00ff43 75.65%,#00ff52 76.89%,#00fe61 78.14%,#00fd72 79.38%,#00fb84 80.63%,#00f99b 81.87%,#00f7b4 83.12%,#00f5c8 84.36%,#00f7d5 85.61%,#00f8e2 86.85%,#00faef 88.10%,#00eaf9 89.34%,#00d7ff 90.59%,#00c8ff 91.83%,#00baff 93.08%,#00adff 94.32%,#00a0ff 95.57%,#0091ff 96.81%,#0081ff 98.06%,#006fff 100.00%)"></div><div style="top:432.48px;height:2.59px;background:linear-gradient(90deg,#0520f8 0.00%,#0520f8 3.69%,#0520f8 7.67%,#0520f8 11.65%,#0520f8 15.64%,#0520f8 19.62%,#0520f8 23.61%,#0520f8 27.59%,#0520f8 31.57%,#0520f8 35.56%,#0520f8 39.54%,#0520f8 40.09%,#0141fe 40.19%,#00acff 40.44%,#00acff 40.79%,#00faed 41.28%,#00faee 41.78%,#00f9e5 42.28%,#00f8e0 42.78%,#00f9e5 43.28%,#00faf0 43.77%,#00f0f6 44.27%,#00f5f3 44.77%,#00f8e4 45.27%,#00f6cd 45.77%,#00f7ac 46.26%,#00fa8d 46.76%,#00fc74 47.26%,#00fe5f 47.76%,#00ff55 48.26%,#00ff4d 48.75%,#00ff46 49.25%,#00ff43 49.50%,#00ff33 50.75%,#00ff29 51.99%,#00ff29 53.24%,#00ff31 54.48%,#00ff44 55.73%,#00ff56 56.97%,#00fe66 58.22%,#00fd71 59.46%,#00fc76 60.71%,#00fc78 61.95%,#00fc75 63.20%,#00fd71 64.44%,#00fd69 65.69%,#00ff5d 66.93%,#00ff45 68.18%,#00ff39 69.42%,#00ff34 70.67%,#00ff2f 71.91%,#00ff2a 73.16%,#00ff33 74.40%,#00ff42 75.65%,#00ff51 76.89%,#00fe60 78.14%,#00fd71 79.38%,#00fb83 80.63%,#00f99a 81.87%,#00f7b4 83.12%,#00f5c8 84.36%,#00f7d4 85.61%,#00f8e2 86.85%,#00faef 88.10%,#00eaf9 89.34%,#00d7ff 90.59%,#00c8ff 91.83%,#00baff 93.08%,#00adff 94.32%,#00a0ff 95.57%,#0091ff 96.81%,#0081ff 98.06%,#006fff 100.00%)"></div><div style="top:434.48px;height:2.59px;background:linear-gradient(90deg,#0520f8 0.00%,#0520f8 3.69%,#0520f8 7.67%,#0520f8 11.65%,#0520f8 15.64%,#0520f8 19.62%,#0520f8 23.61%,#0520f8 27.59%,#0520f8 31.57%,#0520f8 35.56%,#0520f8 39.54%,#0520f8 40.09%,#0141fe 40.19%,#00adff 40.44%,#00adff 40.79%,#00faed 41.28%,#00faee 41.78%,#00f9e5 42.28%,#00f8e2 42.78%,#00f9e8 43.28%,#00f5f3 43.77%,#00eafa 44.27%,#00eff6 44.77%,#00f9e8 45.27%,#00f6d0 45.77%,#00f7af 46.26%,#00fa8f 46.76%,#00fc75 47.26%,#00fe61 47.76%,#00ff56 48.26%,#00ff4f 48.75%,#00ff47 49.25%,#00ff44 49.50%,#00ff33 50.75%,#00ff29 51.99%,#00ff2a 53.24%,#00ff32 54.48%,#00ff45 55.73%,#00ff57 56.97%,#00fe66 58.22%,#00fd71 59.46%,#00fc76 60.71%,#00fc78 61.95%,#00fc75 63.20%,#00fd71 64.44%,#00fd6a 65.69%,#00ff5d 66.93%,#00ff45 68.18%,#00ff39 69.42%,#00ff34 70.67%,#00ff2f 71.91%,#00ff2a 73.16%,#00ff33 74.40%,#00ff42 75.65%,#00ff51 76.89%,#00fe60 78.14%,#00fd71 79.38%,#00fb83 80.63%,#00f99a 81.87%,#00f7b4 83.12%,#00f5c8 84.36%,#00f7d4 85.61%,#00f8e2 86.85%,#00faef 88.10%,#00eaf9 89.34%,#00d7ff 90.59%,#00c8ff 91.83%,#00baff 93.08%,#00adff 94.32%,#00a0ff 95.57%,#0091ff 96.81%,#0081ff 98.06%,#006fff 100.00%)"></div><div style="top:436.47px;height:2.59px;background:linear-gradient(90deg,#0520f8 0.00%,#0520f8 3.69%,#0520f8 7.67%,#0520f8 11.65%,#0520f8 15.64%,#0520f8 19.62%,#0520f8 23.61%,#0520f8 27.59%,#0520f8 31.57%,#0520f8 35.56%,#0520f8 39.54%,#0520f8 40.09%,#0141fe 40.19%,#00aeff 40.44%,#00aeff 40.79%,#00faed 41.28%,#00faef 41.78%,#00f9e7 42.28%,#00f9e4 42.78%,#00f9eb 43.28%,#00eff7 43.77%,#00e3fe 44.27%,#00e9fa 44.77%,#00faec 45.27%,#00f6d3 45.77%,#00f7b3 46.26%,#00f992 46.76%,#00fc78 47.26%,#00fe63 47.76%,#00ff59 48.26%,#00ff51 48.75%,#00ff49 49.25%,#00ff46 49.50%,#00ff35 50.75%,#00ff2b 51.99%,#00ff2b 53.24%,#00ff33 54.48%,#00ff46 55.73%,#00ff58 56.97%,#00fe67 58.22%,#00fd73 59.46%,#00fc78 60.71%,#00fc7a 61.95%,#00fc77 63.20%,#00fd73 64.44%,#00fd6b 65.69%,#00ff5f 66.93%,#00ff47 68.18%,#00ff3b 69.42%,#00ff35 70.67%,#00ff30 71.91%,#00ff2b 73.16%,#00ff34 74.40%,#00ff43 75.65%,#00ff52 76.89%,#00fe61 78.14%,#00fd72 79.38%,#00fb84 80.63%,#00f99b 81.87%,#00f7b4 83.12%,#00f5c8 84.36%,#00f7d5 85.61%,#00f8e2 86.85%,#00faef 88.10%,#00eaf9 89.34%,#00d7ff 90.59%,#00c8ff 91.83%,#00baff 93.08%,#00adff 94.32%,#00a0ff 95.57%,#0091ff 96.81%,#0081ff 98.06%,#006fff 100.00%)"></div><div style="top:438.46px;height:2.59px;background:linear-gradient(90deg,#0520f8 0.00%,#0520f8 3.69%,#0520f8 7.67%,#0520f8 11.65%,#0520f8 15.64%,#0520f8 19.62%,#0520f8 23.61%,#0520f8 27.59%,#0520f8 31.57%,#0520f8 35.56%,#0520f8 39.54%,#0520f8 40.09%,#0142fe 40.19%,#00b0ff 40.44%,#00b0ff 40.79%,#00faed 41.28%,#00faf0 41.78%,#00f9e8 42.28%,#00f9e7 42.78%,#00faee 43.28%,#00e9fa 43.77%,#00dcff 44.27%,#00e3fe 44.77%,#00faf0 45.27%,#00f7d7 45.77%,#00f6b8 46.26%,#00f996 46.76%,#00fc7c 47.26%,#00fe67 47.76%,#00ff5c 48.26%,#00ff54 48.75%,#00ff4d 49.25%,#00ff49 49.50%,#00ff38 50.75%,#00ff2e 51.99%,#00ff2f 53.24%,#00ff36 54.48%,#00ff4a 55.73%,#00ff5b 56.97%,#00fd6a 58.22%,#00fc76 59.46%,#00fc7b 60.71%,#00fc7d 61.95%,#00fc7a 63.20%,#00fc76 64.44%,#00fd6e 65.69%,#00fe62 66.93%,#00ff4a 68.18%,#00ff3d 69.42%,#00ff38 70.67%,#00ff33 71.91%,#00ff2e 73.16%,#00ff37 74.40%,#00ff46 75.65%,#00ff55 76.89%,#00fe64 78.14%,#00fc75 79.38%,#00fb86 80.63%,#00f99d 81.87%,#00f7b6 83.12%,#00f5c9 84.36%,#00f7d5 85.61%,#00f8e2 86.85%,#00faef 88.10%,#00eafa 89.34%,#00d7ff 90.59%,#00c8ff 91.83%,#00baff 93.08%,#00adff 94.32%,#00a0ff 95.57%,#0091ff 96.81%,#0081ff 98.06%,#006fff 100.00%)"></div><div style="top:440.45px;height:2.59px;background:linear-gradient(90deg,#0520f8 0.00%,#0520f8 3.69%,#0520f8 7.67%,#0520f8 11.65%,#0520f8 15.64%,#0520f8 19.62%,#0520f8 23.61%,#0520f8 27.59%,#0520f8 31.57%,#0520f8 35.56%,#0520f8 39.54%,#0520f8 40.09%,#0143fe 40.19%,#00b5ff 40.44%,#00b5ff 40.79%,#00faed 41.28%,#00f8f1 41.78%,#00f9ea 42.28%,#00f9e9 42.78%,#00f7f2 43.28%,#00e4fd 43.77%,#00d4ff 44.27%,#00dcff 44.77%,#00f4f4 45.27%,#00f7db 45.77%,#00f6bd 46.26%,#00f99b 46.76%,#00fb81 47.26%,#00fd6b 47.76%,#00fe61 48.26%,#00ff59 48.75%,#00ff51 49.25%,#00ff4e 49.50%,#00ff3d 50.75%,#00ff33 51.99%,#00ff33 53.24%,#00ff3b 54.48%,#00ff4e 55.73%,#00fe60 56.97%,#00fd6f 58.22%,#00fc7a 59.46%,#00fb7f 60.71%,#00fb81 61.95%,#00fb7f 63.20%,#00fc7a 64.44%,#00fd73 65.69%,#00fe66 66.93%,#00ff4e 68.18%,#00ff42 69.42%,#00ff3c 70.67%,#00ff37 71.91%,#00ff32 73.16%,#00ff3b 74.40%,#00ff4a 75.65%,#00ff58 76.89%,#00fe67 78.14%,#00fc78 79.38%,#00fa89 80.63%,#00f89f 81.87%,#00f6b8 83.12%,#00f5ca 84.36%,#00f7d6 85.61%,#00f8e3 86.85%,#00faf0 88.10%,#00eafa 89.34%,#00d7ff 90.59%,#00c8ff 91.83%,#00baff 93.08%,#00adff 94.32%,#00a0ff 95.57%,#0091ff 96.81%,#0081ff 98.06%,#006fff 100.00%)"></div><div style="top:442.45px;height:2.59px;background:linear-gradient(90deg,#0520f8 0.00%,#0520f8 3.69%,#0520f8 7.67%,#0520f8 11.65%,#0520f8 15.64%,#0520f8 19.62%,#0520f8 23.61%,#0520f8 27.59%,#0520f8 31.57%,#0520f8 35.56%,#0520f8 39.54%,#0520f8 40.09%,#0044fe 40.19%,#00bdff 40.44%,#00bdff 40.79%,#00faed 41.28%,#00f6f3 41.78%,#00faed 42.28%,#00faec 42.78%,#00f2f5 43.28%,#00ddff 43.77%,#00ccff 44.27%,#00d5ff 44.77%,#00eef7 45.27%,#00f8df 45.77%,#00f5c3 46.26%,#00f8a1 46.76%,#00fb86 47.26%,#00fd71 47.76%,#00fe67 48.26%,#00ff5e 48.75%,#00ff57 49.25%,#00ff53 49.50%,#00ff43 50.75%,#00ff39 51.99%,#00ff39 53.24%,#00ff41 54.48%,#00ff54 55.73%,#00fe66 56.97%,#00fc75 58.22%,#00fb80 59.46%,#00fb85 60.71%,#00fb87 61.95%,#00fb84 63.20%,#00fb80 64.44%,#00fc78 65.69%,#00fd6c 66.93%,#00ff54 68.18%,#00ff47 69.42%,#00ff41 70.67%,#00ff3c 71.91%,#00ff37 73.16%,#00ff40 74.40%,#00ff4f 75.65%,#00ff5d 76.89%,#00fd6c 78.14%,#00fc7c 79.38%,#00fa8d 80.63%,#00f8a3 81.87%,#00f6ba 83.12%,#00f5cb 84.36%,#00f7d7 85.61%,#00f8e4 86.85%,#00faf0 88.10%,#00e9fa 89.34%,#00d7ff 90.59%,#00c8ff 91.83%,#00baff 93.08%,#00adff 94.32%,#00a0ff 95.57%,#0091ff 96.81%,#0081ff 98.06%,#006fff 100.00%)"></div><div style="top:444.44px;height:2.59px;background:linear-gradient(90deg,#0520f8 0.00%,#0520f8 3.69%,#0520f8 7.67%,#0520f8 11.65%,#0520f8 15.64%,#0520f8 19.62%,#0520f8 23.61%,#0520f8 27.59%,#0520f8 31.57%,#0520f8 35.56%,#0520f8 39.54%,#0520f8 40.09%,#0047ff 40.19%,#00c8ff 40.44%,#00c8ff 40.79%,#00faed 41.28%,#00f3f4 41.78%,#00faee 42.28%,#00faed 42.78%,#00f5f3 43.28%,#00e2fe 43.77%,#00d4ff 44.27%,#00dbff 44.77%,#00f2f5 45.27%,#00f8de 45.77%,#00f5c3 46.26%,#00f8a3 46.76%,#00fa89 47.26%,#00fc75 47.76%,#00fd6b 48.26%,#00fe63 48.75%,#00ff5c 49.25%,#00ff59 49.50%,#00ff49 50.75%,#00ff3f 51.99%,#00ff41 53.24%,#00ff49 54.48%,#00ff5c 55.73%,#00fd6d 56.97%,#00fc7c 58.22%,#00fa87 59.46%,#00fa8c 60.71%,#00fa8e 61.95%,#00fa8c 63.20%,#00fa87 64.44%,#00fb7f 65.69%,#00fd73 66.93%,#00ff5b 68.18%,#00ff4e 69.42%,#00ff48 70.67%,#00ff42 71.91%,#00ff3e 73.16%,#00ff46 74.40%,#00ff55 75.65%,#00fe63 76.89%,#00fd72 78.14%,#00fb82 79.38%,#00fa92 80.63%,#00f8a7 81.87%,#00f6be 83.12%,#00f6cd 84.36%,#00f7d8 85.61%,#00f9e4 86.85%,#00f9f1 88.10%,#00e9fa 89.34%,#00d7ff 90.59%,#00c8ff 91.83%,#00baff 93.08%,#00adff 94.32%,#00a0ff 95.57%,#0091ff 96.81%,#0081ff 98.06%,#006fff 100.00%)"></div><div style="top:446.43px;height:2.59px;background:linear-gradient(90deg,#0520f8 0.00%,#0520f8 3.69%,#0520f8 7.67%,#0520f8 11.65%,#0520f8 15.64%,#0520f8 19.62%,#0520f8 23.61%,#0520f8 27.59%,#0520f8 31.57%,#0520f8 35.56%,#0520f8 39.54%,#0520f8 40.09%,#004aff 40.19%,#00d8ff 40.44%,#00d8ff 40.79%,#00faed 41.28%,#00f1f6 41.78%,#00faf0 42.28%,#00faed 42.78%,#00f7f2 43.28%,#00e7fb 43.77%,#00dcff 44.27%,#00e2fe 44.77%,#00f6f2 45.27%,#00f8dd 45.77%,#00f5c3 46.26%,#00f8a5 46.76%,#00fa8d 47.26%,#00fc79 47.76%,#00fd70 48.26%,#00fe69 48.75%,#00fe62 49.25%,#00ff5f 49.50%,#00ff50 50.75%,#00ff48 51.99%,#00ff49 53.24%,#00ff52 54.48%,#00fe65 55.73%,#00fc76 56.97%,#00fb85 58.22%,#00fa90 59.46%,#00f995 60.71%,#00f997 61.95%,#00f995 63.20%,#00fa90 64.44%,#00fa88 65.69%,#00fc7b 66.93%,#00fe63 68.18%,#00ff56 69.42%,#00ff50 70.67%,#00ff4a 71.91%,#00ff45 73.16%,#00ff4d 74.40%,#00ff5c 75.65%,#00fd6a 76.89%,#00fc78 78.14%,#00fa88 79.38%,#00f998 80.63%,#00f7ab 81.87%,#00f6c1 83.12%,#00f6cf 84.36%,#00f7da 85.61%,#00f9e6 86.85%,#00f8f1 88.10%,#00e8fb 89.34%,#00d7ff 90.59%,#00c8ff 91.83%,#00baff 93.08%,#00adff 94.32%,#00a0ff 95.57%,#0091ff 96.81%,#0081ff 98.06%,#006fff 100.00%)"></div><div style="top:448.42px;height:2.59px;background:linear-gradient(90deg,#0520f8 0.00%,#0520f8 3.69%,#0520f8 7.67%,#0520f8 11.65%,#0520f8 15.64%,#0520f8 19.62%,#0520f8 23.61%,#0520f8 27.59%,#0520f8 31.57%,#0520f8 35.56%,#0520f8 39.54%,#0520f8 40.09%,#004fff 40.19%,#00eafa 40.44%,#00eafa 40.79%,#00faed 41.28%,#00edf8 41.78%,#00f8f1 42.28%,#00faee 42.78%,#00f9f1 43.28%,#00ecf8 43.77%,#00e3fe 44.27%,#00e8fb 44.77%,#00faf0 45.27%,#00f7db 45.77%,#00f5c4 46.26%,#00f8a8 46.76%,#00fa91 47.26%,#00fb7e 47.76%,#00fc76 48.26%,#00fd6f 48.75%,#00fe69 49.25%,#00fe66 49.50%,#00ff58 50.75%,#00ff51 51.99%,#00ff53 53.24%,#00ff5c 54.48%,#00fd6f 55.73%,#00fb81 56.97%,#00fa8f 58.22%,#00f99a 59.46%,#00f89f 60.71%,#00f8a1 61.95%,#00f89f 63.20%,#00f99a 64.44%,#00fa92 65.69%,#00fb85 66.93%,#00fd6c 68.18%,#00ff5f 69.42%,#00ff58 70.67%,#00ff52 71.91%,#00ff4d 73.16%,#00ff56 74.40%,#00fe64 75.65%,#00fd72 76.89%,#00fb80 78.14%,#00fa8f 79.38%,#00f99e 80.63%,#00f7b1 81.87%,#00f5c6 83.12%,#00f6d1 84.36%,#00f7dc 85.61%,#00f9e7 86.85%,#00f7f2 88.10%,#00e8fb 89.34%,#00d6ff 90.59%,#00c8ff 91.83%,#00baff 93.08%,#00adff 94.32%,#00a0ff 95.57%,#0091ff 96.81%,#0081ff 98.06%,#006fff 100.00%)"></div><div style="top:450.42px;height:2.59px;background:linear-gradient(90deg,#0520f8 0.00%,#0520f8 3.69%,#0520f8 7.67%,#0520f8 11.65%,#0520f8 15.64%,#0520f8 19.62%,#0520f8 23.61%,#0520f8 27.59%,#0520f8 31.57%,#0520f8 35.56%,#0520f8 39.54%,#0520f8 40.09%,#0056ff 40.19%,#00faed 40.44%,#00faed 40.79%,#00faed 41.28%,#00eafa 41.78%,#00f5f3 42.28%,#00faee 42.78%,#00faf0 43.28%,#00f1f6 43.77%,#00e9fa 44.27%,#00eef7 44.77%,#00faed 45.27%,#00f7da 45.77%,#00f5c6 46.26%,#00f7ab 46.76%,#00f996 47.26%,#00fb84 47.76%,#00fc7c 48.26%,#00fc76 48.75%,#00fd70 49.25%,#00fd6e 49.50%,#00fe61 50.75%,#00ff5b 51.99%,#00ff5e 53.24%,#00fe68 54.48%,#00fc7b 55.73%,#00fa8d 56.97%,#00f99b 58.22%,#00f8a6 59.46%,#00f7ab 60.71%,#00f7ad 61.95%,#00f7ab 63.20%,#00f8a6 64.44%,#00f99d 65.69%,#00fa90 66.93%,#00fc77 68.18%,#00fe69 69.42%,#00fe61 70.67%,#00ff5b 71.91%,#00ff57 73.16%,#00ff5f 74.40%,#00fd6c 75.65%,#00fc7a 76.89%,#00fa88 78.14%,#00f997 79.38%,#00f8a5 80.63%,#00f6b6 81.87%,#00f5c9 83.12%,#00f6d4 84.36%,#00f8de 85.61%,#00f9e8 86.85%,#00f6f3 88.10%,#00e7fb 89.34%,#00d6ff 90.59%,#00c8ff 91.83%,#00baff 93.08%,#00adff 94.32%,#00a0ff 95.57%,#0091ff 96.81%,#0081ff 98.06%,#006fff 100.00%)"></div><div style="top:452.41px;height:2.59px;background:linear-gradient(90deg,#0520f8 0.00%,#0520f8 3.69%,#0520f8 7.67%,#0520f8 11.65%,#0520f8 15.64%,#0520f8 19.62%,#0520f8 23.61%,#0520f8 27.59%,#0520f8 31.57%,#0520f8 35.56%,#0520f8 39.54%,#0520f8 40.09%,#005dff 40.19%,#00f7da 40.44%,#00f7da 40.79%,#00faed 41.28%,#00e6fc 41.78%,#00f2f5 42.28%,#00faef 42.78%,#00faee 43.28%,#00f6f3 43.77%,#00eff6 44.27%,#00f3f4 44.77%,#00f9ea 45.27%,#00f7d9 45.77%,#00f5c7 46.26%,#00f7af 46.76%,#00f99b 47.26%,#00fa8a 47.76%,#00fb83 48.26%,#00fb7d 48.75%,#00fc79 49.25%,#00fc76 49.50%,#00fd6b 50.75%,#00fe66 51.99%,#00fd6a 53.24%,#00fc75 54.48%,#00fa88 55.73%,#00f99a 56.97%,#00f8a8 58.22%,#00f7b3 59.46%,#00f6b8 60.71%,#00f6ba 61.95%,#00f6b8 63.20%,#00f7b3 64.44%,#00f8aa 65.69%,#00f99c 66.93%,#00fb82 68.18%,#00fc74 69.42%,#00fd6c 70.67%,#00fe65 71.91%,#00fe60 73.16%,#00fe68 74.40%,#00fc75 75.65%,#00fb83 76.89%,#00fa90 78.14%,#00f89f 79.38%,#00f7ac 80.63%,#00f6bc 81.87%,#00f6cd 83.12%,#00f7d6 84.36%,#00f8e0 85.61%,#00f9ea 86.85%,#00f5f3 88.10%,#00e7fc 89.34%,#00d6ff 90.59%,#00c8ff 91.83%,#00baff 93.08%,#00adff 94.32%,#00a0ff 95.57%,#0091ff 96.81%,#0081ff 98.06%,#006fff 100.00%)"></div><div style="top:454.40px;height:2.59px;background:linear-gradient(90deg,#0520f8 0.00%,#0520f8 3.69%,#0520f8 7.67%,#0520f8 11.65%,#0520f8 15.64%,#0520f8 19.62%,#0520f8 23.61%,#0520f8 27.59%,#0520f8 31.57%,#0520f8 35.56%,#0520f8 39.54%,#0520f8 40.09%,#0066ff 40.19%,#00f6c1 40.44%,#00f6c2 40.79%,#00faec 41.28%,#00e4fd 41.78%,#00f3f4 42.28%,#00f9ea 42.78%,#00f8e1 43.28%,#00f8df 43.77%,#00f8e0 44.27%,#00f8de 44.77%,#00f7d8 45.27%,#00f6cd 45.77%,#00f6bc 46.26%,#00f8aa 46.76%,#00f999 47.26%,#00fa8b 47.76%,#00fb85 48.26%,#00fb81 48.75%,#00fb7e 49.25%,#00fc7c 49.50%,#00fc74 50.75%,#00fd71 51.99%,#00fc77 53.24%,#00fb82 54.48%,#00f996 55.73%,#00f8a8 56.97%,#00f6b6 58.22%,#00f6c1 59.46%,#00f5c7 60.71%,#00f5c8 61.95%,#00f5c6 63.20%,#00f6c1 64.44%,#00f6b7 65.69%,#00f8a9 66.93%,#00fa8f 68.18%,#00fb7f 69.42%,#00fc76 70.67%,#00fd6f 71.91%,#00fd6b 73.16%,#00fd72 74.40%,#00fb7f 75.65%,#00fa8c 76.89%,#00f999 78.14%,#00f8a8 79.38%,#00f7b4 80.63%,#00f5c3 81.87%,#00f6d0 83.12%,#00f7d9 84.36%,#00f8e2 85.61%,#00f9eb 86.85%,#00f3f4 88.10%,#00e6fc 89.34%,#00d6ff 90.59%,#00c8ff 91.83%,#00baff 93.08%,#00adff 94.32%,#00a0ff 95.57%,#0091ff 96.81%,#0081ff 98.06%,#006fff 100.00%)"></div><div style="top:456.39px;height:2.59px;background:linear-gradient(90deg,#0520f8 0.00%,#0520f8 3.69%,#0520f8 7.67%,#0520f8 11.65%,#0520f8 15.64%,#0520f8 19.62%,#0520f8 23.61%,#0520f8 27.59%,#0520f8 31.57%,#0520f8 35.56%,#0520f8 39.54%,#0520f8 40.09%,#0070ff 40.19%,#00f99c 40.44%,#00f99c 40.79%,#00f9ec 41.28%,#00e2ff 41.78%,#00f5f3 42.28%,#00f8e1 42.78%,#00f6ce 43.28%,#00f6bd 43.77%,#00f6b7 44.27%,#00f6b7 44.77%,#00f6b7 45.27%,#00f7b2 45.77%,#00f8aa 46.26%,#00f89f 46.76%,#00f994 47.26%,#00fa88 47.76%,#00fb85 48.26%,#00fb83 48.75%,#00fb81 49.25%,#00fb80 49.50%,#00fc7c 50.75%,#00fc7c 51.99%,#00fb84 53.24%,#00fa91 54.48%,#00f8a5 55.73%,#00f6b7 56.97%,#00f5c6 58.22%,#00f6ce 59.46%,#00f6d1 60.71%,#00f6d3 61.95%,#00f6d1 63.20%,#00f6ce 64.44%,#00f5c6 65.69%,#00f6b7 66.93%,#00f99c 68.18%,#00fa8b 69.42%,#00fb81 70.67%,#00fc79 71.91%,#00fc75 73.16%,#00fc7c 74.40%,#00fa89 75.65%,#00f996 76.89%,#00f8a2 78.14%,#00f7b0 79.38%,#00f6bc 80.63%,#00f5c9 81.87%,#00f6d4 83.12%,#00f7dc 84.36%,#00f8e4 85.61%,#00faed 86.85%,#00f2f5 88.10%,#00e5fc 89.34%,#00d5ff 90.59%,#00c8ff 91.83%,#00baff 93.08%,#00adff 94.32%,#00a0ff 95.57%,#0091ff 96.81%,#0081ff 98.06%,#006fff 100.00%)"></div><div style="top:458.39px;height:2.59px;background:linear-gradient(90deg,#0520f8 0.00%,#0520f8 3.69%,#0520f8 7.67%,#0520f8 11.65%,#0520f8 15.64%,#0520f8 19.62%,#0520f8 23.61%,#0520f8 27.59%,#0520f8 31.57%,#0520f8 35.56%,#0520f8 39.54%,#0520f8 40.09%,#007aff 40.19%,#00fc74 40.44%,#00fc74 40.79%,#00f9eb 41.28%,#00dfff 41.78%,#00f7f2 42.28%,#00f7d8 42.78%,#00f7b3 43.28%,#00fa8f 43.77%,#00fb81 44.27%,#00fb85 44.77%,#00fa8e 45.27%,#00f995 45.77%,#00f998 46.26%,#00f995 46.76%,#00fa8f 47.26%,#00fb86 47.76%,#00fb85 48.26%,#00fb85 48.75%,#00fb85 49.25%,#00fb85 49.50%,#00fb84 50.75%,#00fa87 51.99%,#00fa91 53.24%,#00f89f 54.48%,#00f7b4 55.73%,#00f5c7 56.97%,#00f6d1 58.22%,#00f7d8 59.46%,#00f8dc 60.71%,#00f8de 61.95%,#00f8dc 63.20%,#00f7d8 64.44%,#00f6d1 65.69%,#00f5c5 66.93%,#00f8a9 68.18%,#00f997 69.42%,#00fa8c 70.67%,#00fb84 71.91%,#00fb80 73.16%,#00fb87 74.40%,#00f993 75.65%,#00f89f 76.89%,#00f7ac 78.14%,#00f6b9 79.38%,#00f5c4 80.63%,#00f6cd 81.87%,#00f7d7 83.12%,#00f8df 84.36%,#00f9e6 85.61%,#00faee 86.85%,#00f1f6 88.10%,#00e4fd 89.34%,#00d5ff 90.59%,#00c8ff 91.83%,#00baff 93.08%,#00adff 94.32%,#00a0ff 95.57%,#0091ff 96.81%,#0081ff 98.06%,#006fff 100.00%)"></div><div style="top:460.38px;height:2.59px;background:linear-gradient(90deg,#0520f8 0.00%,#0520f8 3.69%,#0520f8 7.67%,#0520f8 11.65%,#0520f8 15.64%,#0520f8 19.62%,#0520f8 23.61%,#0520f8 27.59%,#0520f8 31.57%,#0520f8 35.56%,#0520f8 39.54%,#0520f8 40.09%,#0086ff 40.19%,#00ff4a 40.44%,#00ff4a 40.79%,#00f9eb 41.28%,#00dcff 41.78%,#00f9f0 42.28%,#00f6cf 42.78%,#00f996 43.28%,#00fe62 43.77%,#00ff4c 44.27%,#00ff52 44.77%,#00fe65 45.27%,#00fc78 45.77%,#00fb86 46.26%,#00fa8a 46.76%,#00fa89 47.26%,#00fb84 47.76%,#00fb85 48.26%,#00fb87 48.75%,#00fa89 49.25%,#00fa89 49.50%,#00fa8d 50.75%,#00f992 51.99%,#00f89f 53.24%,#00f7af 54.48%,#00f5c4 55.73%,#00f6d2 56.97%,#00f8dc 58.22%,#00f8e3 59.46%,#00f9e7 60.71%,#00f9e9 61.95%,#00f9e8 63.20%,#00f8e3 64.44%,#00f7db 65.69%,#00f6d0 66.93%,#00f6b7 68.18%,#00f8a4 69.42%,#00f997 70.67%,#00fa8e 71.91%,#00fa8a 73.16%,#00fa91 74.40%,#00f99d 75.65%,#00f8a9 76.89%,#00f7b5 78.14%,#00f5c2 79.38%,#00f5ca 80.63%,#00f6d2 81.87%,#00f7db 83.12%,#00f8e1 84.36%,#00f9e8 85.61%,#00faf0 86.85%,#00eff6 88.10%,#00e4fd 89.34%,#00d5ff 90.59%,#00c8ff 91.83%,#00baff 93.08%,#00adff 94.32%,#00a0ff 95.57%,#0091ff 96.81%,#0081ff 98.06%,#006fff 100.00%)"></div><div style="top:462.37px;height:2.59px;background:linear-gradient(90deg,#0520f8 0.00%,#0520f8 3.69%,#0520f8 7.67%,#0520f8 11.65%,#0520f8 15.64%,#0520f8 19.62%,#0520f8 23.61%,#0520f8 27.59%,#0520f8 31.57%,#0520f8 35.56%,#0520f8 39.54%,#0520f8 40.09%,#0093ff 40.19%,#00ff21 40.44%,#00ff21 40.79%,#00f9ea 41.28%,#00dcff 41.78%,#00f9ec 42.28%,#00f6ba 42.78%,#00fe65 43.28%,#00ff1c 43.77%,#00ff00 44.27%,#00ff09 44.77%,#00ff24 45.27%,#00ff48 45.77%,#00fe65 46.26%,#00fc76 46.76%,#00fc7c 47.26%,#00fc7b 47.76%,#00fb80 48.26%,#00fb84 48.75%,#00fa88 49.25%,#00fa8a 49.50%,#00f993 50.75%,#00f99c 51.99%,#00f7ac 53.24%,#00f6bd 54.48%,#00f6d0 55.73%,#00f8dd 56.97%,#00f9e7 58.22%,#00faee 59.46%,#00f7f2 60.71%,#00f5f3 61.95%,#00f7f2 63.20%,#00faee 64.44%,#00f9e6 65.69%,#00f7da 66.93%,#00f5c4 68.18%,#00f7b0 69.42%,#00f8a2 70.67%,#00f998 71.91%,#00f994 73.16%,#00f99b 74.40%,#00f8a7 75.65%,#00f7b2 76.89%,#00f6be 78.14%,#00f5ca 79.38%,#00f6d0 80.63%,#00f7d6 81.87%,#00f8de 83.12%,#00f9e4 84.36%,#00f9ea 85.61%,#00f8f1 86.85%,#00eef7 88.10%,#00e3fe 89.34%,#00d4ff 90.59%,#00c8ff 91.83%,#00baff 93.08%,#00adff 94.32%,#00a0ff 95.57%,#0091ff 96.81%,#0081ff 98.06%,#006fff 100.00%)"></div><div style="top:464.37px;height:2.59px;background:linear-gradient(90deg,#0520f8 0.00%,#0520f8 3.69%,#0520f8 7.67%,#0520f8 11.65%,#0520f8 15.64%,#0520f8 19.62%,#0520f8 23.61%,#0520f8 27.59%,#0520f8 31.57%,#0520f8 35.56%,#0520f8 39.54%,#0520f8 40.09%,#009eff 40.19%,#00ff00 40.44%,#00ff00 40.79%,#00f9e9 41.28%,#00dbff 41.78%,#00f9e6 42.28%,#00f8a1 42.78%,#00ff32 43.28%,#32ff00 43.77%,#62ff00 44.27%,#52ff00 44.77%,#1eff00 45.27%,#00ff19 45.77%,#00ff43 46.26%,#00fe60 46.76%,#00fd6d 47.26%,#00fd71 47.76%,#00fc79 48.26%,#00fb80 48.75%,#00fa87 49.25%,#00fa8a 49.50%,#00f998 50.75%,#00f8a6 51.99%,#00f6b8 53.24%,#00f5ca 54.48%,#00f7da 55.73%,#00f9e7 56.97%,#00f8f1 58.22%,#00eff7 59.46%,#00e9fa 60.71%,#00e7fb 61.95%,#00e9fa 63.20%,#00eff7 64.44%,#00faf0 65.69%,#00f8e3 66.93%,#00f6ce 68.18%,#00f6bb 69.42%,#00f7ad 70.67%,#00f8a2 71.91%,#00f99e 73.16%,#00f8a5 74.40%,#00f7b0 75.65%,#00f6bb 76.89%,#00f5c6 78.14%,#00f6cf 79.38%,#00f7d4 80.63%,#00f7da 81.87%,#00f8e1 83.12%,#00f9e7 84.36%,#00faec 85.61%,#00f7f2 86.85%,#00edf8 88.10%,#00e2fe 89.34%,#00d4ff 90.59%,#00c8ff 91.83%,#00baff 93.08%,#00adff 94.32%,#00a0ff 95.57%,#0091ff 96.81%,#0081ff 98.06%,#006fff 100.00%)"></div><div style="top:466.36px;height:2.59px;background:linear-gradient(90deg,#0520f8 0.00%,#0520f8 3.69%,#0520f8 7.67%,#0520f8 11.65%,#0520f8 15.64%,#0520f8 19.62%,#0520f8 23.61%,#0520f8 27.59%,#0520f8 31.57%,#0520f8 35.56%,#0520f8 39.54%,#0520f8 40.09%,#00aaff 40.19%,#2fff00 40.44%,#2fff00 40.79%,#00f9e8 41.28%,#00dbff 41.78%,#00f8e1 42.28%,#00fa87 42.78%,#00ff07 43.28%,#83ff00 43.77%,#caff00 44.27%,#b1ff00 44.77%,#68ff00 45.27%,#17ff00 45.77%,#00ff23 46.26%,#00ff4a 46.76%,#00ff5e 47.26%,#00fe67 47.76%,#00fd72 48.26%,#00fc7c 48.75%,#00fb85 49.25%,#00fa8a 49.50%,#00f99c 50.75%,#00f7ae 51.99%,#00f5c3 53.24%,#00f6d3 54.48%,#00f8e3 55.73%,#00f9f1 56.97%,#00ecf9 58.22%,#00e2fe 59.46%,#00dbff 60.71%,#00d9ff 61.95%,#00dbff 63.20%,#00e2fe 64.44%,#00eff7 65.69%,#00faec 66.93%,#00f7d6 68.18%,#00f5c6 69.42%,#00f6b6 70.67%,#00f7ab 71.91%,#00f8a7 73.16%,#00f7ae 74.40%,#00f6b8 75.65%,#00f5c3 76.89%,#00f6cc 78.14%,#00f7d4 79.38%,#00f7d9 80.63%,#00f8de 81.87%,#00f9e4 83.12%,#00f9e9 84.36%,#00faee 85.61%,#00f5f3 86.85%,#00ecf9 88.10%,#00e2ff 89.34%,#00d4ff 90.59%,#00c8ff 91.83%,#00baff 93.08%,#00adff 94.32%,#00a0ff 95.57%,#0091ff 96.81%,#0081ff 98.06%,#006fff 100.00%)"></div><div style="top:468.35px;height:2.59px;background:linear-gradient(90deg,#0520f8 0.00%,#0520f8 3.69%,#0520f8 7.67%,#0520f8 11.65%,#0520f8 15.64%,#0520f8 19.62%,#0520f8 23.61%,#0520f8 27.59%,#0520f8 31.57%,#0520f8 35.56%,#0520f8 39.54%,#0520f8 40.09%,#00b4ff 40.19%,#54ff00 40.44%,#54ff00 40.79%,#00f9e8 41.28%,#00d9ff 41.78%,#00f8df 42.28%,#00fc7b 42.78%,#14ff00 43.28%,#b3ff00 43.77%,#fffc00 44.27%,#e6ff00 44.77%,#92ff00 45.27%,#36ff00 45.77%,#00ff16 46.26%,#00ff40 46.76%,#00ff59 47.26%,#00fe64 47.76%,#00fd72 48.26%,#00fb7d 48.75%,#00fa88 49.25%,#00fa8d 49.50%,#00f8a3 50.75%,#00f6b7 51.99%,#00f6cc 53.24%,#00f7db 54.48%,#00f9eb 55.73%,#00eef7 56.97%,#00e1ff 58.22%,#00d5ff 59.46%,#00cdff 60.71%,#00cbff 61.95%,#00ccff 63.20%,#00d5ff 64.44%,#00e4fd 65.69%,#00f5f3 66.93%,#00f8de 68.18%,#00f6cd 69.42%,#00f6bf 70.67%,#00f7b3 71.91%,#00f7b0 73.16%,#00f7b6 74.40%,#00f6c0 75.65%,#00f5ca 76.89%,#00f6d1 78.14%,#00f7d9 79.38%,#00f8dd 80.63%,#00f8e1 81.87%,#00f9e7 83.12%,#00f9eb 84.36%,#00faf0 85.61%,#00f3f4 86.85%,#00ebf9 88.10%,#00e1ff 89.34%,#00d3ff 90.59%,#00c8ff 91.83%,#00baff 93.08%,#00adff 94.32%,#00a0ff 95.57%,#0091ff 96.81%,#0081ff 98.06%,#006fff 100.00%)"></div><div style="top:470.34px;height:2.59px;background:linear-gradient(90deg,#0520f8 0.00%,#0520f8 3.69%,#0520f8 7.67%,#0520f8 11.65%,#0520f8 15.64%,#0520f8 19.62%,#0520f8 23.61%,#0520f8 27.59%,#0520f8 31.57%,#0520f8 35.56%,#0520f8 39.54%,#0520f8 40.09%,#00bcff 40.19%,#72ff00 40.44%,#73ff00 40.79%,#00f9e8 41.28%,#00d8ff 41.78%,#00f8dd 42.28%,#00fd70 42.78%,#32ff00 43.28%,#e1ff00 43.77%,#ffcf00 44.27%,#ffe900 44.77%,#bbff00 45.27%,#50ff00 45.77%,#00ff09 46.26%,#00ff36 46.76%,#00ff54 47.26%,#00fe61 47.76%,#00fd70 48.26%,#00fb7e 48.75%,#00fa89 49.25%,#00fa8f 49.50%,#00f8a8 50.75%,#00f6bf 51.99%,#00f6d2 53.24%,#00f8e2 54.48%,#00f7f2 55.73%,#00e4fd 56.97%,#00d5ff 58.22%,#00c9ff 59.46%,#00c1ff 60.71%,#00beff 61.95%,#00c0ff 63.20%,#00c9ff 64.44%,#00daff 65.69%,#00ecf8 66.93%,#00f8e4 68.18%,#00f6d3 69.42%,#00f5c7 70.67%,#00f6ba 71.91%,#00f6b7 73.16%,#00f6bd 74.40%,#00f5c7 75.65%,#00f6cf 76.89%,#00f7d5 78.14%,#00f8dd 79.38%,#00f8e1 80.63%,#00f9e4 81.87%,#00f9ea 83.12%,#00faed 84.36%,#00f9f1 85.61%,#00f2f5 86.85%,#00eafa 88.10%,#00e1ff 89.34%,#00d3ff 90.59%,#00c8ff 91.83%,#00baff 93.08%,#00adff 94.32%,#00a0ff 95.57%,#0091ff 96.81%,#0081ff 98.06%,#006fff 100.00%)"></div><div style="top:472.34px;height:2.59px;background:linear-gradient(90deg,#0520f8 0.00%,#0520f8 3.69%,#0520f8 7.67%,#0520f8 11.65%,#0520f8 15.64%,#0520f8 19.62%,#0520f8 23.61%,#0520f8 27.59%,#0520f8 31.57%,#0520f8 35.56%,#0520f8 39.54%,#0520f8 40.09%,#00c3ff 40.19%,#8eff00 40.44%,#8eff00 40.79%,#00f9e7 41.28%,#00d6ff 41.78%,#00f7db 42.28%,#00fe64 42.78%,#4bff00 43.28%,#fff400 43.77%,#ffa700 44.27%,#ffc200 44.77%,#e3ff00 45.27%,#67ff00 45.77%,#05ff00 46.26%,#00ff2d 46.76%,#00ff4e 47.26%,#00ff5e 47.76%,#00fd6f 48.26%,#00fb7d 48.75%,#00fa8b 49.25%,#00fa91 49.50%,#00f7ac 50.75%,#00f5c5 51.99%,#00f7d7 53.24%,#00f9e8 54.48%,#00eff6 55.73%,#00dcff 56.97%,#00cbff 58.22%,#00bfff 59.46%,#00b7ff 60.71%,#00b5ff 61.95%,#00b7ff 63.20%,#00bfff 64.44%,#00d1ff 65.69%,#00e6fc 66.93%,#00f9e9 68.18%,#00f7d8 69.42%,#00f5cc 70.67%,#00f6c1 71.91%,#00f6bd 73.16%,#00f5c3 74.40%,#00f5cc 75.65%,#00f6d2 76.89%,#00f7d9 78.14%,#00f8e1 79.38%,#00f9e4 80.63%,#00f9e7 81.87%,#00f9ec 83.12%,#00faef 84.36%,#00f7f2 85.61%,#00f1f6 86.85%,#00e9fa 88.10%,#00e0ff 89.34%,#00d3ff 90.59%,#00c8ff 91.83%,#00baff 93.08%,#00adff 94.32%,#00a0ff 95.57%,#0091ff 96.81%,#0081ff 98.06%,#006fff 100.00%)"></div><div style="top:474.33px;height:2.59px;background:linear-gradient(90deg,#0520f8 0.00%,#0520f8 3.69%,#0520f8 7.67%,#0520f8 11.65%,#0520f8 15.64%,#0520f8 19.62%,#0520f8 23.61%,#0520f8 27.59%,#0520f8 31.57%,#0520f8 35.56%,#0520f8 39.54%,#0520f8 40.09%,#00c8ff 40.19%,#a1ff00 40.44%,#a1ff00 40.79%,#00f9e7 41.28%,#00d5ff 41.78%,#00f7d9 42.28%,#00ff5b 42.78%,#5eff00 43.28%,#ffd700 43.77%,#ff8a00 44.27%,#ffa400 44.77%,#fffc00 45.27%,#7cff00 45.77%,#13ff00 46.26%,#00ff26 46.76%,#00ff4a 47.26%,#00ff5c 47.76%,#00fd6e 48.26%,#00fb7d 48.75%,#00fa8b 49.25%,#00fa92 49.50%,#00f7b0 50.75%,#00f5c9 51.99%,#00f7db 53.24%,#00f9ec 54.48%,#00eaf9 55.73%,#00d6ff 56.97%,#00c5ff 58.22%,#00b9ff 59.46%,#00b1ff 60.71%,#00afff 61.95%,#00b0ff 63.20%,#00b9ff 64.44%,#00cbff 65.69%,#00e1ff 66.93%,#00faed 68.18%,#00f7dc 69.42%,#00f6cf 70.67%,#00f5c6 71.91%,#00f5c3 73.16%,#00f5c8 74.40%,#00f6cf 75.65%,#00f7d6 76.89%,#00f8dc 78.14%,#00f8e4 79.38%,#00f9e7 80.63%,#00f9e9 81.87%,#00faed 83.12%,#00faf0 84.36%,#00f6f3 85.61%,#00f0f6 86.85%,#00e8fb 88.10%,#00dfff 89.34%,#00d3ff 90.59%,#00c8ff 91.83%,#00baff 93.08%,#00adff 94.32%,#00a0ff 95.57%,#0091ff 96.81%,#0081ff 98.06%,#006fff 100.00%)"></div><div style="top:476.32px;height:2.59px;background:linear-gradient(90deg,#0520f8 0.00%,#0520f8 3.69%,#0520f8 7.67%,#0520f8 11.65%,#0520f8 15.64%,#0520f8 19.62%,#0520f8 23.61%,#0520f8 27.59%,#0520f8 31.57%,#0520f8 35.56%,#0520f8 39.54%,#0520f8 40.09%,#00caff 40.19%,#aaff00 40.44%,#aaff00 40.79%,#00f9e7 41.28%,#00d5ff 41.78%,#00f7d7 42.28%,#00ff52 42.78%,#72ff00 43.28%,#ffba00 43.77%,#ff6e00 44.27%,#ff8900 44.77%,#ffe200 45.27%,#93ff00 45.77%,#23ff00 46.26%,#00ff20 46.76%,#00ff44 47.26%,#00ff58 47.76%,#00fd6b 48.26%,#00fc7c 48.75%,#00fa8b 49.25%,#00fa92 49.50%,#00f7b1 50.75%,#00f5cb 51.99%,#00f8dd 53.24%,#00faee 54.48%,#00e8fb 55.73%,#00d2ff 56.97%,#00c2ff 58.22%,#00b6ff 59.46%,#00aeff 60.71%,#00acff 61.95%,#00adff 63.20%,#00b6ff 64.44%,#00c7ff 65.69%,#00ddff 66.93%,#00faef 68.18%,#00f8de 69.42%,#00f6d2 70.67%,#00f5c9 71.91%,#00f5c7 73.16%,#00f5cb 74.40%,#00f6d2 75.65%,#00f7d8 76.89%,#00f8df 78.14%,#00f9e6 79.38%,#00f9e9 80.63%,#00f9eb 81.87%,#00faef 83.12%,#00f8f1 84.36%,#00f5f3 85.61%,#00eff7 86.85%,#00e8fb 88.10%,#00dfff 89.34%,#00d3ff 90.59%,#00c8ff 91.83%,#00baff 93.08%,#00adff 94.32%,#00a0ff 95.57%,#0091ff 96.81%,#0081ff 98.06%,#006fff 100.00%)"></div><div style="top:478.31px;height:2.59px;background:linear-gradient(90deg,#0520f8 0.00%,#0520f8 3.69%,#0520f8 7.67%,#0520f8 11.65%,#0520f8 15.64%,#0520f8 19.62%,#0520f8 23.61%,#0520f8 27.59%,#0520f8 31.57%,#0520f8 35.56%,#0520f8 39.54%,#0520f8 40.09%,#00c9ff 40.19%,#a8ff00 40.44%,#a9ff00 40.79%,#00f9e6 41.28%,#00d5ff 41.78%,#00f7d5 42.28%,#00ff49 42.78%,#86ff00 43.28%,#ffa300 43.77%,#ff5601 44.27%,#ff7100 44.77%,#ffcb00 45.27%,#a7ff00 45.77%,#30ff00 46.26%,#00ff1a 46.76%,#00ff3f 47.26%,#00ff55 47.76%,#00fe69 48.26%,#00fc7a 48.75%,#00fa89 49.25%,#00fa91 49.50%,#00f7b1 50.75%,#00f5cb 51.99%,#00f8de 53.24%,#00faef 54.48%,#00e7fb 55.73%,#00d2ff 56.97%,#00c2ff 58.22%,#00b6ff 59.46%,#00aeff 60.71%,#00acff 61.95%,#00adff 63.20%,#00b6ff 64.44%,#00c7ff 65.69%,#00ddff 66.93%,#00faf0 68.18%,#00f8e0 69.42%,#00f6d4 70.67%,#00f5cb 71.91%,#00f5c9 73.16%,#00f6cd 74.40%,#00f6d3 75.65%,#00f7da 76.89%,#00f8e0 78.14%,#00f9e8 79.38%,#00f9ea 80.63%,#00f9ec 81.87%,#00faf0 83.12%,#00f7f2 84.36%,#00f4f4 85.61%,#00eff7 86.85%,#00e8fb 88.10%,#00dfff 89.34%,#00d3ff 90.59%,#00c8ff 91.83%,#00baff 93.08%,#00adff 94.32%,#00a0ff 95.57%,#0091ff 96.81%,#0081ff 98.06%,#006fff 100.00%)"></div><div style="top:480.31px;height:2.59px;background:linear-gradient(90deg,#0520f8 0.00%,#0520f8 3.69%,#0520f8 7.67%,#0520f8 11.65%,#0520f8 15.64%,#0520f8 19.62%,#0520f8 23.61%,#0520f8 27.59%,#0520f8 31.57%,#0520f8 35.56%,#0520f8 39.54%,#0520f8 40.09%,#00c7ff 40.19%,#9dff00 40.44%,#9eff00 40.79%,#00f9e6 41.28%,#00d6ff 41.78%,#00f6d3 42.28%,#00ff41 42.78%,#98ff00 43.28%,#ff9000 43.77%,#fd4203 44.27%,#ff5c00 44.77%,#ffb700 45.27%,#baff00 45.77%,#3dff00 46.26%,#00ff14 46.76%,#00ff3a 47.26%,#00ff51 47.76%,#00fe65 48.26%,#00fc77 48.75%,#00fb87 49.25%,#00fa8f 49.50%,#00f7b0 50.75%,#00f5cb 51.99%,#00f8dd 53.24%,#00faee 54.48%,#00e9fa 55.73%,#00d4ff 56.97%,#00c4ff 58.22%,#00b9ff 59.46%,#00b1ff 60.71%,#00afff 61.95%,#00b1ff 63.20%,#00b9ff 64.44%,#00c9ff 65.69%,#00deff 66.93%,#00faf0 68.18%,#00f8e0 69.42%,#00f7d4 70.67%,#00f6cc 71.91%,#00f5ca 73.16%,#00f6ce 74.40%,#00f7d4 75.65%,#00f7db 76.89%,#00f8e1 78.14%,#00f9e8 79.38%,#00f9eb 80.63%,#00faed 81.87%,#00faf0 83.12%,#00f7f2 84.36%,#00f4f4 85.61%,#00eef7 86.85%,#00e7fb 88.10%,#00dfff 89.34%,#00d3ff 90.59%,#00c8ff 91.83%,#00baff 93.08%,#00adff 94.32%,#00a0ff 95.57%,#0091ff 96.81%,#0081ff 98.06%,#006fff 100.00%)"></div></div>
<div class="cb" style="left:270.7px;top:27.5px;width:16.5px;height:179.4px;background:linear-gradient(180deg,#fffc00 0.00%,#fffc00 1.92%,#fffb00 1.92%,#fffb00 3.85%,#fff601 3.85%,#fff601 5.77%,#feee03 5.77%,#feee03 7.69%,#fde706 7.69%,#fde706 9.62%,#fddf08 9.62%,#fddf08 11.54%,#fcd70a 11.54%,#fcd70a 13.46%,#fcd00d 13.46%,#fcd00d 15.38%,#fbc810 15.38%,#fbc810 17.31%,#fbc112 17.31%,#fbc112 19.23%,#fbb915 19.23%,#fbb915 21.15%,#fab218 21.15%,#fab218 23.08%,#f9ab1b 23.08%,#f9ab1b 25.00%,#f8a41e 25.00%,#f8a41e 26.92%,#f79d21 26.92%,#f79d21 28.85%,#f69624 28.85%,#f69624 30.77%,#f58f27 30.77%,#f58f27 32.69%,#f4872a 32.69%,#f4872a 34.62%,#f37f2d 34.62%,#f37f2d 36.54%,#f27730 36.54%,#f27730 38.46%,#f16f33 38.46%,#f16f33 40.38%,#f06736 40.38%,#f06736 42.31%,#ef5f38 42.31%,#ef5f38 44.23%,#ee583a 44.23%,#ee583a 46.15%,#ed513c 46.15%,#ed513c 48.08%,#ec4a3e 48.08%,#ec4a3e 50.00%,#eb4340 50.00%,#eb4340 51.92%,#e53f40 51.92%,#e53f40 53.85%,#de3b3e 53.85%,#de3b3e 55.77%,#d6383c 55.77%,#d6383c 57.69%,#d0363b 57.69%,#d0363b 59.62%,#ca3439 59.62%,#ca3439 61.54%,#c43237 61.54%,#c43237 63.46%,#be3136 63.46%,#be3136 65.38%,#b72f34 65.38%,#b72f34 67.31%,#b02d32 67.31%,#b02d32 69.23%,#a42b30 69.23%,#a42b30 71.15%,#98282d 71.15%,#98282d 73.08%,#8b262a 73.08%,#8b262a 75.00%,#802326 75.00%,#802326 76.92%,#752022 76.92%,#752022 78.85%,#691d1f 78.85%,#691d1f 80.77%,#5e191b 80.77%,#5e191b 82.69%,#521618 82.69%,#521618 84.62%,#471315 84.62%,#471315 86.54%,#3d1012 86.54%,#3d1012 88.46%,#330d0f 88.46%,#330d0f 90.38%,#280b0d 90.38%,#280b0d 92.31%,#1e090a 92.31%,#1e090a 94.23%,#140607 94.23%,#140607 96.15%,#0a0303 96.15%,#0a0303 98.08%,#000000 98.08%,#000000 100.00%)"></div>
<div class="cb" style="left:270.8px;top:297.1px;width:16.0px;height:179.29999999999995px;background:linear-gradient(180deg,#fa1409 0.00%,#fa1409 1.92%,#fb2307 1.92%,#fb2307 3.85%,#fc3205 3.85%,#fc3205 5.77%,#fd4103 5.77%,#fd4103 7.69%,#fe5001 7.69%,#fe5001 9.62%,#ff6000 9.62%,#ff6000 11.54%,#ff7100 11.54%,#ff7100 13.46%,#ff8200 13.46%,#ff8200 15.38%,#ff9300 15.38%,#ff9300 17.31%,#ffa400 17.31%,#ffa400 19.23%,#ffb600 19.23%,#ffb600 21.15%,#ffca00 21.15%,#ffca00 23.08%,#ffde00 23.08%,#ffde00 25.00%,#fff200 25.00%,#fff200 26.92%,#f6ff00 26.92%,#f6ff00 28.85%,#deff00 28.85%,#deff00 30.77%,#c6ff00 30.77%,#c6ff00 32.69%,#adff00 32.69%,#adff00 34.62%,#95ff00 34.62%,#95ff00 36.54%,#7dff00 36.54%,#7dff00 38.46%,#67ff00 38.46%,#67ff00 40.38%,#53ff00 40.38%,#53ff00 42.31%,#3fff00 42.31%,#3fff00 44.23%,#27ff00 44.23%,#27ff00 46.15%,#0fff00 46.15%,#0fff00 48.08%,#00ff06 48.08%,#00ff06 50.00%,#00ff16 50.00%,#00ff16 51.92%,#00ff26 51.92%,#00ff26 53.85%,#00ff39 53.85%,#00ff39 55.77%,#00ff4d 55.77%,#00ff4d 57.69%,#00fe61 57.69%,#00fe61 59.62%,#00fc75 59.62%,#00fc75 61.54%,#00fa89 61.54%,#00fa89 63.46%,#00f99e 63.46%,#00f99e 65.38%,#00f7b2 65.38%,#00f7b2 67.31%,#00f5c6 67.31%,#00f5c6 69.23%,#00f6d4 69.23%,#00f6d4 71.15%,#00f8e1 71.15%,#00f8e1 73.08%,#00faee 73.08%,#00faee 75.00%,#00ebf9 75.00%,#00ebf9 76.92%,#00d9ff 76.92%,#00d9ff 78.85%,#00c4ff 78.85%,#00c4ff 80.77%,#00afff 80.77%,#00afff 82.69%,#009aff 82.69%,#009aff 84.62%,#0085ff 84.62%,#0085ff 86.54%,#0071ff 86.54%,#0071ff 88.46%,#005dff 88.46%,#005dff 90.38%,#004aff 90.38%,#004aff 92.31%,#023afd 92.31%,#023afd 94.23%,#042afa 94.23%,#042afa 96.15%,#041bf4 96.15%,#041bf4 98.08%,#020eeb 98.08%,#020eeb 100.00%)"></div>
<svg width="685" height="523" viewBox="0 0 685 523">
<rect x="54.3" y="21.0" width="200.3" height="191.9" fill="none" stroke="#222" stroke-width="1.3"/>
<line x1="78.20" y1="212.90" x2="78.20" y2="216.40" stroke="#222" stroke-width="1.3" />
<text x="78.20" y="233.00" text-anchor="middle" font-size="16.3" font-weight="normal" >400</text>
<line x1="116.20" y1="212.90" x2="116.20" y2="214.90" stroke="#222" stroke-width="1.3" />
<line x1="154.20" y1="212.90" x2="154.20" y2="216.40" stroke="#222" stroke-width="1.3" />
<text x="154.20" y="233.00" text-anchor="middle" font-size="16.3" font-weight="normal" >600</text>
<line x1="192.20" y1="212.90" x2="192.20" y2="214.90" stroke="#222" stroke-width="1.3" />
<line x1="230.20" y1="212.90" x2="230.20" y2="216.40" stroke="#222" stroke-width="1.3" />
<text x="230.20" y="233.00" text-anchor="middle" font-size="16.3" font-weight="normal" >800</text>
<line x1="50.80" y1="212.90" x2="54.30" y2="212.90" stroke="#222" stroke-width="1.3" />
<text x="48.10" y="218.30" text-anchor="end" font-size="16.3" font-weight="normal" >0</text>
<line x1="52.30" y1="180.90" x2="54.30" y2="180.90" stroke="#222" stroke-width="1.3" />
<line x1="50.80" y1="148.90" x2="54.30" y2="148.90" stroke="#222" stroke-width="1.3" />
<text x="48.10" y="154.30" text-anchor="end" font-size="16.3" font-weight="normal" >100</text>
<line x1="52.30" y1="116.90" x2="54.30" y2="116.90" stroke="#222" stroke-width="1.3" />
<line x1="50.80" y1="84.90" x2="54.30" y2="84.90" stroke="#222" stroke-width="1.3" />
<text x="48.10" y="90.30" text-anchor="end" font-size="16.3" font-weight="normal" >200</text>
<line x1="52.30" y1="52.90" x2="54.30" y2="52.90" stroke="#222" stroke-width="1.3" />
<line x1="50.80" y1="20.90" x2="54.30" y2="20.90" stroke="#222" stroke-width="1.3" />
<text x="48.10" y="26.30" text-anchor="end" font-size="16.3" font-weight="normal" >300</text>
<text x="154.60" y="249.50" text-anchor="middle" font-size="16.3" font-weight="normal"  textLength="125.7" lengthAdjust="spacing">Wavelength (nm)</text>
<text transform="translate(13.2,117.2) rotate(-90)" text-anchor="middle" font-size="16.3">Time (s)</text>
<rect x="270.7" y="27.5" width="16.5" height="179.4" fill="none" stroke="#222" stroke-width="1.2"/>
<line x1="287.20" y1="205.20" x2="291.00" y2="205.20" stroke="#222" stroke-width="1.1" />
<text x="296.90" y="211.50" text-anchor="start" font-size="16.3" font-weight="normal" >0</text>
<line x1="287.20" y1="171.06" x2="291.00" y2="171.06" stroke="#222" stroke-width="1.1" />
<text x="296.90" y="177.36" text-anchor="start" font-size="16.3" font-weight="normal" >0.2</text>
<line x1="287.20" y1="136.92" x2="291.00" y2="136.92" stroke="#222" stroke-width="1.1" />
<text x="296.90" y="143.22" text-anchor="start" font-size="16.3" font-weight="normal" >0.4</text>
<line x1="287.20" y1="102.78" x2="291.00" y2="102.78" stroke="#222" stroke-width="1.1" />
<text x="296.90" y="109.08" text-anchor="start" font-size="16.3" font-weight="normal" >0.6</text>
<line x1="287.20" y1="68.64" x2="291.00" y2="68.64" stroke="#222" stroke-width="1.1" />
<text x="296.90" y="74.94" text-anchor="start" font-size="16.3" font-weight="normal" >0.8</text>
<line x1="287.20" y1="34.50" x2="291.00" y2="34.50" stroke="#222" stroke-width="1.1" />
<text x="296.90" y="40.80" text-anchor="start" font-size="16.3" font-weight="normal" >1</text>
<text x="1.20" y="11.50" text-anchor="start" font-size="22" font-weight="bold" >a</text>
<rect x="91.4" y="48.7" width="1.3" height="1.3" fill="#c83c32"/>
<rect x="162.1" y="31.7" width="1.3" height="1.3" fill="#f07830"/>
<rect x="205.9" y="46.7" width="1.3" height="1.3" fill="#d24632"/>
<rect x="250.4" y="34.2" width="1.3" height="1.3" fill="#b43228"/>
<rect x="70.4" y="188.4" width="1.3" height="1.3" fill="#c8502d"/>
<rect x="167.1" y="203.4" width="1.3" height="1.3" fill="#f08c2d"/>
<rect x="119.8" y="184.4" width="1.3" height="1.3" fill="#7a2418"/>
<rect x="238.2" y="167.1" width="1.3" height="1.3" fill="#8c2a1e"/>
<rect x="171.4" y="27.9" width="1.3" height="1.3" fill="#8c2a22"/>
<rect x="175.4" y="43.9" width="1.3" height="1.3" fill="#7a2620"/>
<rect x="52.6" y="291.0" width="200.8" height="191.3" fill="none" stroke="#222" stroke-width="1.3"/>
<line x1="76.40" y1="482.30" x2="76.40" y2="485.80" stroke="#222" stroke-width="1.3" />
<text x="76.40" y="502.00" text-anchor="middle" font-size="16.3" font-weight="normal" >400</text>
<line x1="114.40" y1="482.30" x2="114.40" y2="484.30" stroke="#222" stroke-width="1.3" />
<line x1="152.40" y1="482.30" x2="152.40" y2="485.80" stroke="#222" stroke-width="1.3" />
<text x="152.40" y="502.00" text-anchor="middle" font-size="16.3" font-weight="normal" >600</text>
<line x1="190.40" y1="482.30" x2="190.40" y2="484.30" stroke="#222" stroke-width="1.3" />
<line x1="228.40" y1="482.30" x2="228.40" y2="485.80" stroke="#222" stroke-width="1.3" />
<text x="228.40" y="502.00" text-anchor="middle" font-size="16.3" font-weight="normal" >800</text>
<line x1="49.10" y1="482.30" x2="52.60" y2="482.30" stroke="#222" stroke-width="1.3" />
<text x="46.40" y="487.60" text-anchor="end" font-size="16.3" font-weight="normal" >0</text>
<line x1="50.60" y1="458.39" x2="52.60" y2="458.39" stroke="#222" stroke-width="1.3" />
<line x1="49.10" y1="434.48" x2="52.60" y2="434.48" stroke="#222" stroke-width="1.3" />
<text x="46.40" y="439.78" text-anchor="end" font-size="16.3" font-weight="normal" >90</text>
<line x1="50.60" y1="410.56" x2="52.60" y2="410.56" stroke="#222" stroke-width="1.3" />
<line x1="49.10" y1="386.65" x2="52.60" y2="386.65" stroke="#222" stroke-width="1.3" />
<text x="46.40" y="391.95" text-anchor="end" font-size="16.3" font-weight="normal" >180</text>
<line x1="50.60" y1="362.74" x2="52.60" y2="362.74" stroke="#222" stroke-width="1.3" />
<line x1="49.10" y1="338.82" x2="52.60" y2="338.82" stroke="#222" stroke-width="1.3" />
<text x="46.40" y="344.12" text-anchor="end" font-size="16.3" font-weight="normal" >270</text>
<line x1="50.60" y1="314.91" x2="52.60" y2="314.91" stroke="#222" stroke-width="1.3" />
<line x1="49.10" y1="291.00" x2="52.60" y2="291.00" stroke="#222" stroke-width="1.3" />
<text x="46.40" y="296.30" text-anchor="end" font-size="16.3" font-weight="normal" >360</text>
<text x="153.20" y="519.00" text-anchor="middle" font-size="16.3" font-weight="normal"  textLength="125.7" lengthAdjust="spacing">Wavelength (nm)</text>
<text transform="translate(13.2,386.95) rotate(-90)" text-anchor="middle" font-size="16.3">Angle (°)</text>
<rect x="270.8" y="297.1" width="16" height="179.3" fill="none" stroke="#222" stroke-width="1.2"/>
<line x1="286.80" y1="470.40" x2="290.60" y2="470.40" stroke="#222" stroke-width="1.1" />
<text x="296.90" y="476.30" text-anchor="start" font-size="16.3" font-weight="normal" >0</text>
<line x1="286.80" y1="435.88" x2="290.60" y2="435.88" stroke="#222" stroke-width="1.1" />
<text x="296.90" y="441.78" text-anchor="start" font-size="16.3" font-weight="normal" >0.2</text>
<line x1="286.80" y1="401.36" x2="290.60" y2="401.36" stroke="#222" stroke-width="1.1" />
<text x="296.90" y="407.26" text-anchor="start" font-size="16.3" font-weight="normal" >0.4</text>
<line x1="286.80" y1="366.84" x2="290.60" y2="366.84" stroke="#222" stroke-width="1.1" />
<text x="296.90" y="372.74" text-anchor="start" font-size="16.3" font-weight="normal" >0.6</text>
<line x1="286.80" y1="332.32" x2="290.60" y2="332.32" stroke="#222" stroke-width="1.1" />
<text x="296.90" y="338.22" text-anchor="start" font-size="16.3" font-weight="normal" >0.8</text>
<line x1="286.80" y1="297.80" x2="290.60" y2="297.80" stroke="#222" stroke-width="1.1" />
<text x="296.90" y="303.70" text-anchor="start" font-size="16.3" font-weight="normal" >1</text>
<text x="1.50" y="275.30" text-anchor="start" font-size="22" font-weight="bold" >c</text>
<clipPath id="cpb"><rect x="406.8" y="21.3" width="207.49999999999994" height="190.39999999999998"/></clipPath>
<polyline clip-path="url(#cpb)" points="405.8,111.3 406.0,121.3 406.2,120.3 406.4,107.1 406.6,108.7 406.7,107.0 406.9,115.3 407.1,110.6 407.3,116.7 407.5,97.0 407.7,122.9 407.9,110.3 408.1,116.2 408.3,110.0 408.5,108.1 408.6,114.5 408.8,117.3 409.0,109.5 409.2,109.8 409.4,116.2 409.6,104.4 409.8,99.5 410.0,114.0 410.2,105.9 410.4,96.4 410.5,104.8 410.7,107.4 410.9,101.9 411.1,99.7 411.3,111.3 411.5,117.8 411.7,109.2 411.9,105.3 412.1,113.9 412.2,116.5 412.4,108.7 412.6,115.1 412.8,118.9 413.0,109.4 413.2,104.8 413.4,98.9 413.6,112.9 413.8,119.4 414.0,101.2 414.1,106.0 414.3,104.6 414.5,88.6 414.7,112.0 414.9,115.0 415.1,105.4 415.3,121.5 415.5,117.2 415.7,115.8 415.8,114.1 416.0,118.3 416.2,100.9 416.4,115.7 416.6,103.7 416.8,97.6 417.0,113.6 417.2,109.1 417.4,116.9 417.6,107.7 417.7,110.9 417.9,113.6 418.1,104.3 418.3,115.5 418.5,110.2 418.7,114.7 418.9,107.0 419.1,119.3 419.3,115.6 419.5,109.6 419.6,115.8 419.8,120.6 420.0,124.6 420.2,99.0 420.4,117.7 420.6,114.5 420.8,110.3 421.0,103.3 421.2,120.6 421.3,101.4 421.5,115.3 421.7,120.9 421.9,98.8 422.1,108.7 422.3,101.0 422.5,112.9 422.7,122.5 422.9,126.4 423.1,97.5 423.2,106.6 423.4,116.3 423.6,123.0 423.8,114.2 424.0,105.3 424.2,113.3 424.4,110.9 424.6,109.5 424.8,105.4 424.9,113.9 425.1,113.3 425.3,110.3 425.5,109.3 425.7,101.2 425.9,107.3 426.1,120.2 426.3,109.6 426.5,89.5 426.7,121.1 426.8,115.0 427.0,127.0 427.2,111.5 427.4,107.5 427.6,100.0 427.8,121.1 428.0,130.5 428.2,104.8 428.4,140.5 428.6,115.5 428.7,104.7 428.9,108.9 429.1,108.3 429.3,112.5 429.5,119.3 429.7,111.2 429.9,118.0 430.1,107.8 430.3,113.5 430.4,94.7 430.6,99.9 430.8,117.0 431.0,119.5 431.2,115.3 431.4,115.0 431.6,120.9 431.8,117.0 432.0,118.6 432.2,110.0 432.3,105.5 432.5,105.3 432.7,107.1 432.9,102.2 433.1,106.6 433.3,110.1 433.5,112.7 433.7,108.2 433.9,96.1 434.0,110.2 434.2,112.4 434.4,118.9 434.6,115.1 434.8,105.8 435.0,105.1 435.2,133.6 435.4,116.4 435.6,124.5 435.8,126.8 435.9,104.4 436.1,113.5 436.3,114.0 436.5,114.8 436.7,114.6 436.9,112.0 437.1,111.8 437.3,99.1 437.5,109.2 437.7,104.8 437.8,111.4 438.0,106.9 438.2,115.1 438.4,129.9 438.6,112.7 438.8,112.8 439.0,111.1 439.2,106.9 439.4,109.1 439.5,106.6 439.7,113.3 439.9,110.4 440.1,114.7 440.3,100.2 440.5,117.0 440.7,104.4 440.9,104.6 441.1,92.0 441.3,105.9 441.4,112.4 441.6,105.8 441.8,115.6 442.0,103.7 442.2,120.1 442.4,110.5 442.6,101.2 442.8,110.2 443.0,98.2 443.1,123.7 443.3,98.5 443.5,113.7 443.7,114.2 443.9,99.0 444.1,111.8 444.3,116.1 444.5,111.1 444.7,108.6 444.9,112.7 445.0,105.9 445.2,106.3 445.4,102.0 445.6,106.4 445.8,94.3 446.0,117.1 446.2,95.6 446.4,90.6 446.6,99.7 446.8,107.7 446.9,101.8 447.1,91.5 447.3,99.4 447.5,91.8 447.7,93.8 447.9,95.1 448.1,79.6 448.3,95.6 448.5,87.7 448.6,89.7 448.8,84.6 449.0,84.3 449.2,87.9 449.4,99.1 449.6,104.4 449.8,75.0 450.0,100.5 450.2,91.7 450.4,81.1 450.5,94.2 450.7,96.0 450.9,90.3 451.1,94.9 451.3,96.5 451.5,87.2 451.7,83.2 451.9,91.1 452.1,91.1 452.3,90.1 452.4,98.6 452.6,88.8 452.8,89.4 453.0,96.5 453.2,97.9 453.4,96.4 453.6,98.4 453.8,89.1 454.0,96.3 454.1,104.4 454.3,96.5 454.5,87.3 454.7,95.0 454.9,99.1 455.1,106.0 455.3,87.4 455.5,100.9 455.7,83.0 455.9,94.2 456.0,90.9 456.2,83.4 456.4,98.8 456.6,73.5 456.8,83.5 457.0,94.9 457.2,88.2 457.4,78.8 457.6,86.6 457.7,92.7 457.9,95.1 458.1,92.1 458.3,91.3 458.5,94.0 458.7,89.6 458.9,98.5 459.1,82.0 459.3,92.9 459.5,94.5 459.6,84.2 459.8,86.5 460.0,100.8 460.2,93.1 460.4,89.2 460.6,93.2 460.8,87.9 461.0,92.8 461.2,86.7 461.4,92.8 461.5,94.4 461.7,99.5 461.9,73.5 462.1,80.9 462.3,89.6 462.5,88.6 462.7,92.0 462.9,83.7 463.1,93.5 463.2,125.3 463.4,82.8 463.6,93.2 463.8,89.0 464.0,92.2 464.2,79.4 464.4,96.1 464.6,79.0 464.8,90.8 465.0,101.5 465.1,86.6 465.3,92.3 465.5,109.9 465.7,86.5 465.9,85.7 466.1,91.3 466.3,91.4 466.5,97.1 466.7,92.7 466.8,87.1 467.0,93.4 467.2,109.0 467.4,100.3 467.6,74.5 467.8,91.5 468.0,86.9 468.2,96.6 468.4,91.6 468.6,105.1 468.7,98.8 468.9,98.7 469.1,94.3 469.3,92.9 469.5,95.4 469.7,101.6 469.9,96.9 470.1,91.3 470.3,101.8 470.5,95.0 470.6,93.3 470.8,88.9 471.0,90.4 471.2,90.0 471.4,76.3 471.6,100.8 471.8,98.0 472.0,93.1 472.2,101.3 472.3,97.5 472.5,97.1 472.7,79.0 472.9,106.0 473.1,98.5 473.3,105.4 473.5,107.0 473.7,104.5 473.9,88.0 474.1,81.5 474.2,99.3 474.4,95.9 474.6,102.0 474.8,95.1 475.0,97.4 475.2,86.5 475.4,99.1 475.6,93.4 475.8,98.6 475.9,99.4 476.1,95.8 476.3,98.7 476.5,96.7 476.7,101.7 476.9,100.2 477.1,93.5 477.3,93.4 477.5,108.4 477.7,96.7 477.8,103.8 478.0,100.0 478.2,94.0 478.4,92.9 478.6,98.6 478.8,99.5 479.0,101.9 479.2,90.0 479.4,94.4 479.6,97.7 479.7,108.6 479.9,83.4 480.1,101.4 480.3,95.2 480.5,101.5 480.7,108.9 480.9,101.3 481.1,109.0 481.3,101.4 481.4,102.0 481.6,101.7 481.8,94.6 482.0,103.0 482.2,98.3 482.4,94.5 482.6,99.5 482.8,98.4 483.0,104.8 483.2,99.8 483.3,96.8 483.5,109.6 483.7,106.7 483.9,108.6 484.1,104.4 484.3,99.9 484.5,84.5 484.7,99.0 484.9,107.0 485.0,101.7 485.2,91.5 485.4,100.8 485.6,92.0 485.8,102.1 486.0,93.4 486.2,93.0 486.4,101.9 486.6,100.6 486.8,90.5 486.9,105.9 487.1,115.0 487.3,91.7 487.5,112.8 487.7,96.8 487.9,98.0 488.1,100.1 488.3,92.0 488.5,109.5 488.7,104.4 488.8,96.4 489.0,99.5 489.2,91.6 489.4,99.1 489.6,107.3 489.8,90.3 490.0,98.5 490.2,102.3 490.4,108.1 490.5,110.0 490.7,98.5 490.9,96.7 491.1,104.3 491.3,99.1 491.5,99.4 491.7,108.4 491.9,112.3 492.1,103.2 492.3,100.3 492.4,105.2 492.6,89.4 492.8,101.4 493.0,94.7 493.2,116.8 493.4,106.2 493.6,102.5 493.8,100.3 494.0,76.9 494.2,106.2 494.3,112.1 494.5,97.0 494.7,106.0 494.9,106.3 495.1,91.8 495.3,107.7 495.5,110.4 495.7,103.2 495.9,108.6 496.0,106.8 496.2,91.9 496.4,102.4 496.6,108.5 496.8,93.8 497.0,108.2 497.2,99.1 497.4,88.5 497.6,101.2 497.8,95.6 497.9,103.9 498.1,94.4 498.3,108.6 498.5,97.2 498.7,104.2 498.9,98.1 499.1,99.9 499.3,109.6 499.5,103.3 499.6,99.4 499.8,94.0 500.0,109.4 500.2,106.7 500.4,99.9 500.6,103.5 500.8,95.4 501.0,95.4 501.2,96.6 501.4,104.2 501.5,103.8 501.7,97.1 501.9,106.6 502.1,106.9 502.3,103.0 502.5,108.5 502.7,100.0 502.9,101.1 503.1,104.8 503.3,101.6 503.4,106.9 503.6,93.7 503.8,110.9 504.0,96.7 504.2,100.7 504.4,92.9 504.6,97.9 504.8,109.8 505.0,108.5 505.1,107.0 505.3,91.7 505.5,96.6 505.7,98.7 505.9,95.6 506.1,108.8 506.3,102.8 506.5,101.4 506.7,104.7 506.9,95.5 507.0,95.7 507.2,95.9 507.4,104.7 507.6,103.7 507.8,105.2 508.0,108.4 508.2,92.8 508.4,97.9 508.6,102.4 508.7,92.8 508.9,98.0 509.1,107.9 509.3,108.4 509.5,108.3 509.7,101.6 509.9,100.0 510.1,108.2 510.3,98.9 510.5,103.5 510.6,109.8 510.8,98.9 511.0,97.4 511.2,111.9 511.4,105.1 511.6,104.3 511.8,102.2 512.0,104.8 512.2,91.0 512.4,95.7 512.5,102.2 512.7,95.2 512.9,92.6 513.1,93.4 513.3,95.2 513.5,100.0 513.7,94.5 513.9,102.6 514.1,111.9 514.2,114.8 514.4,119.8 514.6,102.9 514.8,93.8 515.0,99.4 515.2,94.7 515.4,105.9 515.6,93.6 515.8,109.4 516.0,104.6 516.1,87.9 516.3,105.9 516.5,110.8 516.7,95.8 516.9,107.1 517.1,89.3 517.3,102.4 517.5,75.7 517.7,103.8 517.8,89.3 518.0,83.8 518.2,103.2 518.4,115.3 518.6,96.8 518.8,105.9 519.0,101.3 519.2,98.5 519.4,104.5 519.6,111.1 519.7,92.6 519.9,104.1 520.1,102.7 520.3,82.0 520.5,110.8 520.7,112.9 520.9,94.3 521.1,111.5 521.3,92.6 521.5,70.7 521.6,110.0 521.8,101.8 522.0,102.4 522.2,110.0 522.4,108.5 522.6,106.0 522.8,91.3 523.0,100.4 523.2,107.4 523.3,94.2 523.5,101.1 523.7,93.3 523.9,98.9 524.1,91.9 524.3,110.5 524.5,93.5 524.7,99.3 524.9,98.8 525.1,107.7 525.2,91.0 525.4,99.9 525.6,112.5 525.8,103.6 526.0,103.2 526.2,97.3 526.4,101.8 526.6,97.9 526.8,103.3 526.9,85.0 527.1,96.2 527.3,100.3 527.5,102.8 527.7,115.0 527.9,97.4 528.1,102.6 528.3,110.0 528.5,87.4 528.7,89.6 528.8,93.2 529.0,100.1 529.2,116.5 529.4,103.4 529.6,108.7 529.8,99.5 530.0,85.2 530.2,86.2 530.4,107.6 530.6,102.3 530.7,92.8 530.9,108.3 531.1,91.4 531.3,108.5 531.5,110.6 531.7,96.4 531.9,94.3 532.1,106.8 532.3,94.4 532.4,107.0 532.6,93.9 532.8,106.7 533.0,102.2 533.2,98.9 533.4,95.9 533.6,103.2 533.8,89.6 534.0,100.0 534.2,99.3 534.3,106.2 534.5,93.9 534.7,112.9 534.9,100.0 535.1,94.7 535.3,122.2 535.5,112.7 535.7,100.9 535.9,96.5 536.0,102.3 536.2,97.8 536.4,100.3 536.6,112.3 536.8,104.9 537.0,103.3 537.2,104.7 537.4,102.1 537.6,107.9 537.8,108.2 537.9,100.2 538.1,103.3 538.3,118.1 538.5,105.4 538.7,101.6 538.9,115.9 539.1,102.9 539.3,95.8 539.5,107.2 539.7,97.2 539.8,99.8 540.0,105.1 540.2,102.2 540.4,98.2 540.6,99.6 540.8,99.4 541.0,110.7 541.2,98.7 541.4,99.7 541.5,116.5 541.7,99.9 541.9,113.0 542.1,112.0 542.3,102.6 542.5,94.6 542.7,106.6 542.9,108.1 543.1,110.0 543.3,104.3 543.4,111.6 543.6,112.9 543.8,97.3 544.0,113.2 544.2,105.2 544.4,100.6 544.6,102.2 544.8,116.3 545.0,110.6 545.2,103.0 545.3,105.0 545.5,103.6 545.7,103.4 545.9,101.3 546.1,95.3 546.3,110.2 546.5,98.7 546.7,102.4 546.9,101.0 547.0,100.2 547.2,96.4 547.4,107.4 547.6,100.7 547.8,99.0 548.0,102.1 548.2,111.4 548.4,106.0 548.6,106.8 548.8,103.2 548.9,103.7 549.1,106.8 549.3,93.7 549.5,115.9 549.7,100.5 549.9,102.0 550.1,114.3 550.3,107.2 550.5,106.1 550.6,102.1 550.8,95.9 551.0,107.1 551.2,113.6 551.4,100.3 551.6,114.8 551.8,98.9 552.0,101.5 552.2,109.5 552.4,106.3 552.5,110.8 552.7,101.6 552.9,99.8 553.1,84.1 553.3,98.8 553.5,99.7 553.7,97.5 553.9,108.7 554.1,102.5 554.3,94.1 554.4,122.7 554.6,101.6 554.8,98.9 555.0,114.9 555.2,114.6 555.4,99.8 555.6,97.9 555.8,101.0 556.0,105.3 556.1,105.6 556.3,102.5 556.5,107.6 556.7,115.6 556.9,99.1 557.1,105.6 557.3,99.3 557.5,122.1 557.7,120.0 557.9,114.5 558.0,107.7 558.2,112.8 558.4,95.3 558.6,110.6 558.8,100.3 559.0,100.5 559.2,104.6 559.4,106.9 559.6,113.0 559.7,113.9 559.9,111.2 560.1,90.5 560.3,114.0 560.5,109.0 560.7,117.4 560.9,104.1 561.1,92.4 561.3,114.7 561.5,124.0 561.6,113.3 561.8,109.2 562.0,116.2 562.2,113.8 562.4,113.7 562.6,107.5 562.8,111.4 563.0,112.3 563.2,107.0 563.4,104.0 563.5,112.2 563.7,117.6 563.9,115.6 564.1,114.7 564.3,114.9 564.5,128.3 564.7,113.5 564.9,118.6 565.1,124.5 565.2,112.4 565.4,113.8 565.6,118.9 565.8,123.0 566.0,114.3 566.2,114.7 566.4,113.0 566.6,104.8 566.8,132.9 567.0,111.0 567.1,101.6 567.3,111.8 567.5,101.7 567.7,106.4 567.9,113.0 568.1,107.1 568.3,119.9 568.5,103.7 568.7,114.8 568.8,116.8 569.0,137.2 569.2,119.2 569.4,114.9 569.6,113.9 569.8,113.1 570.0,120.8 570.2,109.4 570.4,117.0 570.6,137.0 570.7,115.3 570.9,112.2 571.1,127.6 571.3,109.8 571.5,90.5 571.7,115.8 571.9,118.0 572.1,117.1 572.3,117.0 572.5,120.6 572.6,104.7 572.8,114.5 573.0,106.6 573.2,116.0 573.4,107.0 573.6,108.5 573.8,114.3 574.0,123.7 574.2,118.5 574.3,116.8 574.5,123.9 574.7,109.0 574.9,93.8 575.1,112.4 575.3,113.4 575.5,123.2 575.7,129.0 575.9,106.9 576.1,144.6 576.2,118.4 576.4,121.0 576.6,118.1 576.8,123.3 577.0,125.7 577.2,112.9 577.4,116.9 577.6,107.4 577.8,119.2 577.9,115.6 578.1,118.5 578.3,118.7 578.5,109.7 578.7,125.0 578.9,110.2 579.1,122.4 579.3,106.6 579.5,119.3 579.7,111.7 579.8,132.3 580.0,112.9 580.2,103.2 580.4,110.1 580.6,117.8 580.8,121.4 581.0,108.0 581.2,103.9 581.4,112.0 581.6,116.4 581.7,113.7 581.9,112.6 582.1,123.4 582.3,124.3 582.5,122.9 582.7,112.1 582.9,118.7 583.1,117.1 583.3,109.1 583.4,124.2 583.6,119.1 583.8,115.5 584.0,127.9 584.2,123.8 584.4,124.4 584.6,126.8 584.8,123.7 585.0,110.8 585.2,116.6 585.3,125.8 585.5,114.3 585.7,119.7 585.9,122.2 586.1,129.1 586.3,135.7 586.5,125.8 586.7,118.7 586.9,126.1 587.1,123.6 587.2,119.1 587.4,129.3 587.6,123.7 587.8,115.5 588.0,129.0 588.2,108.3 588.4,124.7 588.6,110.7 588.8,120.8 588.9,114.7 589.1,114.7 589.3,108.5 589.5,135.6 589.7,120.4 589.9,123.1 590.1,129.0 590.3,120.9 590.5,139.0 590.7,112.8 590.8,123.3 591.0,119.3 591.2,125.5 591.4,123.5 591.6,113.0 591.8,110.0 592.0,115.7 592.2,127.6 592.4,125.6 592.5,125.6 592.7,109.2 592.9,104.8 593.1,118.9 593.3,120.9 593.5,119.2 593.7,125.8 593.9,122.3 594.1,115.5 594.3,117.7 594.4,124.7 594.6,124.3 594.8,123.4 595.0,139.5 595.2,122.3 595.4,125.0 595.6,117.4 595.8,121.9 596.0,128.0 596.2,128.4 596.3,123.5 596.5,127.3 596.7,125.1 596.9,111.8 597.1,102.2 597.3,140.9 597.5,130.7 597.7,124.7 597.9,113.1 598.0,116.4 598.2,134.7 598.4,106.0 598.6,123.2 598.8,131.6 599.0,126.6 599.2,130.9 599.4,124.8 599.6,142.5 599.8,118.7 599.9,116.5 600.1,128.0 600.3,136.1 600.5,125.8 600.7,133.6 600.9,122.6 601.1,118.1 601.3,136.3 601.5,137.6 601.6,137.4 601.8,123.6 602.0,118.7 602.2,118.6 602.4,125.4 602.6,131.2 602.8,130.7 603.0,117.0 603.2,128.6 603.4,127.5 603.5,128.1 603.7,127.3 603.9,136.7 604.1,131.9 604.3,128.6 604.5,129.4 604.7,123.0 604.9,130.8 605.1,127.2 605.3,113.0 605.4,131.7 605.6,126.5 605.8,135.1 606.0,127.4 606.2,128.0 606.4,130.3 606.6,137.2 606.8,125.8 607.0,116.2 607.1,142.5 607.3,117.9 607.5,126.9 607.7,134.2 607.9,132.4 608.1,133.8 608.3,135.4 608.5,139.1 608.7,132.2 608.9,166.0 609.0,122.9 609.2,132.0 609.4,127.8 609.6,126.6 609.8,132.8 610.0,141.4 610.2,125.7 610.4,125.8 610.6,151.0 610.7,135.2 610.9,145.6 611.1,138.9 611.3,133.2 611.5,129.2 611.7,133.3 611.9,130.5 612.1,121.9 612.3,132.1 612.5,130.9 612.6,130.5 612.8,129.2 613.0,144.9 613.2,137.7 613.4,139.6 613.6,128.3 613.8,125.3 614.0,130.9 614.2,134.8" fill="none" stroke="#0000ff" stroke-width="1.9" stroke-linejoin="round"/>
<rect x="406.8" y="21.3" width="207.49999999999994" height="190.39999999999998" fill="none" stroke="#222" stroke-width="1.3"/>
<line x1="406.80" y1="211.70" x2="411.30" y2="211.70" stroke="#222" stroke-width="1.3" />
<text x="401.20" y="217.60" text-anchor="end" font-size="16.6" font-weight="normal" >400</text>
<line x1="406.80" y1="187.91" x2="409.30" y2="187.91" stroke="#222" stroke-width="1.3" />
<line x1="406.80" y1="164.12" x2="411.30" y2="164.12" stroke="#222" stroke-width="1.3" />
<text x="401.20" y="170.02" text-anchor="end" font-size="16.6" font-weight="normal" >600</text>
<line x1="406.80" y1="140.33" x2="409.30" y2="140.33" stroke="#222" stroke-width="1.3" />
<line x1="406.80" y1="116.54" x2="411.30" y2="116.54" stroke="#222" stroke-width="1.3" />
<text x="401.20" y="122.44" text-anchor="end" font-size="16.6" font-weight="normal" >800</text>
<line x1="406.80" y1="92.75" x2="409.30" y2="92.75" stroke="#222" stroke-width="1.3" />
<line x1="406.80" y1="68.96" x2="411.30" y2="68.96" stroke="#222" stroke-width="1.3" />
<text x="401.20" y="74.86" text-anchor="end" font-size="16.6" font-weight="normal" >1000</text>
<line x1="406.80" y1="45.17" x2="409.30" y2="45.17" stroke="#222" stroke-width="1.3" />
<line x1="406.80" y1="21.38" x2="411.30" y2="21.38" stroke="#222" stroke-width="1.3" />
<text x="401.20" y="27.28" text-anchor="end" font-size="16.6" font-weight="normal" >1200</text>
<line x1="417.28" y1="211.70" x2="417.28" y2="207.20" stroke="#222" stroke-width="1.3" />
<text x="416.98" y="230.60" text-anchor="middle" font-size="16.6" font-weight="normal" >10</text>
<line x1="445.98" y1="211.70" x2="445.98" y2="209.20" stroke="#222" stroke-width="1.3" />
<line x1="474.68" y1="211.70" x2="474.68" y2="207.20" stroke="#222" stroke-width="1.3" />
<text x="474.38" y="230.60" text-anchor="middle" font-size="16.6" font-weight="normal" >60</text>
<line x1="503.38" y1="211.70" x2="503.38" y2="209.20" stroke="#222" stroke-width="1.3" />
<line x1="532.08" y1="211.70" x2="532.08" y2="207.20" stroke="#222" stroke-width="1.3" />
<text x="531.78" y="230.60" text-anchor="middle" font-size="16.6" font-weight="normal" >110</text>
<line x1="560.78" y1="211.70" x2="560.78" y2="209.20" stroke="#222" stroke-width="1.3" />
<line x1="589.48" y1="211.70" x2="589.48" y2="207.20" stroke="#222" stroke-width="1.3" />
<text x="589.18" y="230.60" text-anchor="middle" font-size="16.6" font-weight="normal" >160</text>
<text x="510.35" y="246.90" text-anchor="middle" font-size="16.6" font-weight="normal"  textLength="62.9" lengthAdjust="spacing">Time (s)</text>
<text transform="translate(359.4,110.5) rotate(-90)" text-anchor="middle" font-size="16.6" textLength="105.0" lengthAdjust="spacing">Intensity (cps)</text>
<text x="343.80" y="15.80" text-anchor="start" font-size="22" font-weight="bold" >b</text>
<rect x="618.40" y="71.67" width="0.36" height="4.1" fill="#2a78dc"/>
<rect x="618.40" y="76.43" width="1.44" height="4.1" fill="#2a78dc"/>
<rect x="618.40" y="81.18" width="2.52" height="4.1" fill="#2a78dc"/>
<rect x="618.40" y="85.94" width="12.96" height="4.1" fill="#2a78dc"/>
<rect x="618.40" y="90.70" width="30.60" height="4.1" fill="#2a78dc"/>
<rect x="618.40" y="95.46" width="37.80" height="4.1" fill="#2a78dc"/>
<rect x="618.40" y="100.22" width="41.40" height="4.1" fill="#2a78dc"/>
<rect x="618.40" y="104.97" width="44.64" height="4.1" fill="#2a78dc"/>
<rect x="618.40" y="109.73" width="42.84" height="4.1" fill="#2a78dc"/>
<rect x="618.40" y="114.49" width="36.72" height="4.1" fill="#2a78dc"/>
<rect x="618.40" y="119.25" width="21.60" height="4.1" fill="#2a78dc"/>
<rect x="618.40" y="124.01" width="22.32" height="4.1" fill="#2a78dc"/>
<rect x="618.40" y="128.76" width="14.76" height="4.1" fill="#2a78dc"/>
<rect x="618.40" y="133.52" width="6.84" height="4.1" fill="#2a78dc"/>
<rect x="618.40" y="138.28" width="4.68" height="4.1" fill="#2a78dc"/>
<rect x="618.40" y="147.80" width="0.90" height="4.1" fill="#2a78dc"/>
<rect x="618.40" y="152.55" width="0.72" height="4.1" fill="#2a78dc"/>
<rect x="617.9" y="21.3" width="53.80000000000007" height="190.39999999999998" fill="none" stroke="#222" stroke-width="1.3"/>
<line x1="624.90" y1="211.70" x2="624.90" y2="207.20" stroke="#222" stroke-width="1.3" />
<text x="624.90" y="230.20" text-anchor="middle" font-size="16.6" font-weight="normal" >20</text>
<line x1="642.90" y1="211.70" x2="642.90" y2="209.20" stroke="#222" stroke-width="1.3" />
<line x1="660.90" y1="211.70" x2="660.90" y2="207.20" stroke="#222" stroke-width="1.3" />
<text x="660.90" y="230.20" text-anchor="middle" font-size="16.6" font-weight="normal" >120</text>
<text x="644.70" y="246.90" text-anchor="middle" font-size="16.6" font-weight="normal"  textLength="80.2" lengthAdjust="spacing">Occurence</text>
<defs><clipPath id="disk"><circle cx="547.30" cy="390.60" r="98.60"/></clipPath>
<filter id="blr" x="-50%" y="-50%" width="200%" height="200%"><feGaussianBlur stdDeviation="10"/></filter>
<radialGradient id="rbg" cx="547.30" cy="390.60" r="98.60" gradientUnits="userSpaceOnUse"><stop offset="0" stop-color="#a5e2c4"/><stop offset="0.2" stop-color="#a6e3c5"/><stop offset="0.41" stop-color="#b6e9cf"/><stop offset="0.66" stop-color="#cfefdf"/><stop offset="0.91" stop-color="#e2f4eb"/><stop offset="1" stop-color="#e7f6ef"/></radialGradient></defs>
<circle cx="547.30" cy="390.60" r="98.60" fill="url(#rbg)"/>
<g clip-path="url(#disk)"><ellipse cx="547.3" cy="390.6" rx="55" ry="22" transform="rotate(-163.5 547.3 390.6)" fill="#a5e2c4" opacity="0.45" filter="url(#blr)"/></g>
<circle cx="547.3" cy="390.6" r="20.35" fill="none" stroke="#cfd8d2" stroke-width="0.6" stroke-dasharray="1,1"/>
<circle cx="547.3" cy="390.6" r="40.70" fill="none" stroke="#959b97" stroke-width="0.7" />
<circle cx="547.3" cy="390.6" r="61.05" fill="none" stroke="#c2cac5" stroke-width="0.6" stroke-dasharray="1,1"/>
<circle cx="547.3" cy="390.6" r="81.40" fill="none" stroke="#959b97" stroke-width="0.7" />
<line x1="567.65" y1="390.60" x2="645.90" y2="390.60" stroke="#959b97" stroke-width="0.7" />
<line x1="566.96" y1="385.33" x2="642.54" y2="365.08" stroke="#c2cac5" stroke-width="0.6" stroke-dasharray="1,1"/>
<line x1="564.92" y1="380.43" x2="632.69" y2="341.30" stroke="#959b97" stroke-width="0.7" />
<line x1="561.69" y1="376.21" x2="617.02" y2="320.88" stroke="#c2cac5" stroke-width="0.6" stroke-dasharray="1,1"/>
<line x1="557.47" y1="372.98" x2="596.60" y2="305.21" stroke="#959b97" stroke-width="0.7" />
<line x1="552.57" y1="370.94" x2="572.82" y2="295.36" stroke="#c2cac5" stroke-width="0.6" stroke-dasharray="1,1"/>
<line x1="547.30" y1="370.25" x2="547.30" y2="292.00" stroke="#959b97" stroke-width="0.7" />
<line x1="542.03" y1="370.94" x2="521.78" y2="295.36" stroke="#c2cac5" stroke-width="0.6" stroke-dasharray="1,1"/>
<line x1="537.12" y1="372.98" x2="498.00" y2="305.21" stroke="#959b97" stroke-width="0.7" />
<line x1="532.91" y1="376.21" x2="477.58" y2="320.88" stroke="#c2cac5" stroke-width="0.6" stroke-dasharray="1,1"/>
<line x1="529.68" y1="380.43" x2="461.91" y2="341.30" stroke="#959b97" stroke-width="0.7" />
<line x1="527.64" y1="385.33" x2="452.06" y2="365.08" stroke="#c2cac5" stroke-width="0.6" stroke-dasharray="1,1"/>
<line x1="526.95" y1="390.60" x2="448.70" y2="390.60" stroke="#959b97" stroke-width="0.7" />
<line x1="527.64" y1="395.87" x2="452.06" y2="416.12" stroke="#c2cac5" stroke-width="0.6" stroke-dasharray="1,1"/>
<line x1="529.68" y1="400.78" x2="461.91" y2="439.90" stroke="#959b97" stroke-width="0.7" />
<line x1="532.91" y1="404.99" x2="477.58" y2="460.32" stroke="#c2cac5" stroke-width="0.6" stroke-dasharray="1,1"/>
<line x1="537.12" y1="408.22" x2="498.00" y2="475.99" stroke="#959b97" stroke-width="0.7" />
<line x1="542.03" y1="410.26" x2="521.78" y2="485.84" stroke="#c2cac5" stroke-width="0.6" stroke-dasharray="1,1"/>
<line x1="547.30" y1="410.95" x2="547.30" y2="489.20" stroke="#959b97" stroke-width="0.7" />
<line x1="552.57" y1="410.26" x2="572.82" y2="485.84" stroke="#c2cac5" stroke-width="0.6" stroke-dasharray="1,1"/>
<line x1="557.47" y1="408.22" x2="596.60" y2="475.99" stroke="#959b97" stroke-width="0.7" />
<line x1="561.69" y1="404.99" x2="617.02" y2="460.32" stroke="#c2cac5" stroke-width="0.6" stroke-dasharray="1,1"/>
<line x1="564.92" y1="400.78" x2="632.69" y2="439.90" stroke="#959b97" stroke-width="0.7" />
<line x1="566.96" y1="395.87" x2="642.54" y2="416.12" stroke="#c2cac5" stroke-width="0.6" stroke-dasharray="1,1"/>
<circle cx="547.3" cy="390.6" r="98.6" fill="none" stroke="#222" stroke-width="1.4"/>
<line x1="645.90" y1="390.60" x2="642.60" y2="390.60" stroke="#222" stroke-width="1.1" />
<line x1="642.54" y1="365.08" x2="640.61" y2="365.60" stroke="#222" stroke-width="1.1" />
<line x1="632.69" y1="341.30" x2="629.83" y2="342.95" stroke="#222" stroke-width="1.1" />
<line x1="617.02" y1="320.88" x2="615.61" y2="322.29" stroke="#222" stroke-width="1.1" />
<line x1="596.60" y1="305.21" x2="594.95" y2="308.07" stroke="#222" stroke-width="1.1" />
<line x1="572.82" y1="295.36" x2="572.30" y2="297.29" stroke="#222" stroke-width="1.1" />
<line x1="547.30" y1="292.00" x2="547.30" y2="295.30" stroke="#222" stroke-width="1.1" />
<line x1="521.78" y1="295.36" x2="522.30" y2="297.29" stroke="#222" stroke-width="1.1" />
<line x1="498.00" y1="305.21" x2="499.65" y2="308.07" stroke="#222" stroke-width="1.1" />
<line x1="477.58" y1="320.88" x2="478.99" y2="322.29" stroke="#222" stroke-width="1.1" />
<line x1="461.91" y1="341.30" x2="464.77" y2="342.95" stroke="#222" stroke-width="1.1" />
<line x1="452.06" y1="365.08" x2="453.99" y2="365.60" stroke="#222" stroke-width="1.1" />
<line x1="448.70" y1="390.60" x2="452.00" y2="390.60" stroke="#222" stroke-width="1.1" />
<line x1="452.06" y1="416.12" x2="453.99" y2="415.60" stroke="#222" stroke-width="1.1" />
<line x1="461.91" y1="439.90" x2="464.77" y2="438.25" stroke="#222" stroke-width="1.1" />
<line x1="477.58" y1="460.32" x2="478.99" y2="458.91" stroke="#222" stroke-width="1.1" />
<line x1="498.00" y1="475.99" x2="499.65" y2="473.13" stroke="#222" stroke-width="1.1" />
<line x1="521.78" y1="485.84" x2="522.30" y2="483.91" stroke="#222" stroke-width="1.1" />
<line x1="547.30" y1="489.20" x2="547.30" y2="485.90" stroke="#222" stroke-width="1.1" />
<line x1="572.82" y1="485.84" x2="572.30" y2="483.91" stroke="#222" stroke-width="1.1" />
<line x1="596.60" y1="475.99" x2="594.95" y2="473.13" stroke="#222" stroke-width="1.1" />
<line x1="617.02" y1="460.32" x2="615.61" y2="458.91" stroke="#222" stroke-width="1.1" />
<line x1="632.69" y1="439.90" x2="629.83" y2="438.25" stroke="#222" stroke-width="1.1" />
<line x1="642.54" y1="416.12" x2="640.61" y2="415.60" stroke="#222" stroke-width="1.1" />
<circle cx="625.40" cy="390.60" r="3.9" fill="#1e6edc"/>
<circle cx="616.04" cy="378.48" r="3.9" fill="#1e6edc"/>
<circle cx="608.00" cy="368.51" r="3.9" fill="#1e6edc"/>
<circle cx="596.58" cy="362.15" r="3.9" fill="#1e6edc"/>
<circle cx="583.07" cy="360.58" r="3.9" fill="#1e6edc"/>
<circle cx="569.41" cy="364.25" r="3.9" fill="#1e6edc"/>
<circle cx="559.25" cy="369.90" r="3.9" fill="#1e6edc"/>
<circle cx="555.54" cy="367.95" r="3.9" fill="#1e6edc"/>
<circle cx="551.69" cy="365.68" r="3.9" fill="#1e6edc"/>
<circle cx="547.30" cy="358.20" r="3.9" fill="#1e6edc"/>
<circle cx="541.64" cy="358.50" r="3.9" fill="#1e6edc"/>
<circle cx="531.84" cy="348.13" r="3.9" fill="#1e6edc"/>
<circle cx="518.70" cy="341.06" r="3.9" fill="#1e6edc"/>
<circle cx="501.98" cy="336.59" r="3.9" fill="#1e6edc"/>
<circle cx="488.85" cy="341.56" r="3.9" fill="#1e6edc"/>
<circle cx="482.09" cy="352.95" r="3.9" fill="#1e6edc"/>
<circle cx="473.16" cy="363.61" r="3.9" fill="#1e6edc"/>
<circle cx="468.81" cy="376.76" r="3.9" fill="#1e6edc"/>
<circle cx="471.80" cy="390.60" r="3.9" fill="#1e6edc"/>
<circle cx="482.99" cy="401.94" r="3.9" fill="#1e6edc"/>
<circle cx="489.70" cy="411.57" r="3.9" fill="#1e6edc"/>
<circle cx="499.93" cy="417.95" r="3.9" fill="#1e6edc"/>
<circle cx="515.28" cy="417.47" r="3.9" fill="#1e6edc"/>
<circle cx="528.53" cy="412.97" r="3.9" fill="#1e6edc"/>
<circle cx="535.30" cy="411.38" r="3.9" fill="#1e6edc"/>
<circle cx="538.51" cy="414.75" r="3.9" fill="#1e6edc"/>
<circle cx="542.44" cy="418.17" r="3.9" fill="#1e6edc"/>
<circle cx="547.30" cy="417.70" r="3.9" fill="#1e6edc"/>
<circle cx="552.74" cy="421.42" r="3.9" fill="#1e6edc"/>
<circle cx="561.66" cy="430.07" r="3.9" fill="#1e6edc"/>
<circle cx="574.30" cy="437.37" r="3.9" fill="#1e6edc"/>
<circle cx="586.00" cy="436.72" r="3.9" fill="#1e6edc"/>
<circle cx="600.00" cy="434.82" r="3.9" fill="#1e6edc"/>
<circle cx="613.90" cy="429.05" r="3.9" fill="#1e6edc"/>
<circle cx="625.39" cy="419.02" r="3.9" fill="#1e6edc"/>
<circle cx="619.78" cy="403.38" r="3.9" fill="#1e6edc"/>
<circle cx="611.50" cy="390.60" r="3.9" fill="#1e6edc"/>
<polyline points="622.78,390.60 621.63,388.00 620.29,385.50 618.76,383.09 617.05,380.80 615.19,378.63 613.19,376.60 611.05,374.70 608.81,372.96 606.47,371.38 604.05,369.95 601.56,368.68 599.04,367.57 596.48,366.61 593.91,365.82 591.35,365.17 588.80,364.67 586.29,364.30 583.83,364.06 581.43,363.93 579.10,363.92 576.85,363.99 574.69,364.15 572.63,364.37 570.67,364.65 568.81,364.97 567.06,365.31 565.42,365.66 563.89,366.00 562.47,366.33 561.14,366.62 559.92,366.87 558.78,367.07 557.72,367.20 556.73,367.25 555.81,367.22 554.94,367.10 554.10,366.88 553.29,366.56 552.50,366.13 551.71,365.60 550.90,364.97 550.07,364.23 549.20,363.40 548.28,362.48 547.30,361.47 546.24,360.38 545.11,359.22 543.87,358.01 542.54,356.75 541.10,355.46 539.55,354.16 537.89,352.84 536.10,351.54 534.20,350.27 532.17,349.04 530.03,347.86 527.78,346.76 525.43,345.75 522.97,344.84 520.42,344.05 517.80,343.38 515.10,342.86 512.35,342.50 509.56,342.29 506.74,342.26 503.90,342.40 501.08,342.73 498.27,343.25 495.50,343.96 492.79,344.86 490.15,345.95 487.61,347.23 485.17,348.69 482.85,350.33 480.68,352.13 478.65,354.10 476.80,356.22 475.13,358.47 473.65,360.84 472.37,363.33 471.31,365.91 470.46,368.57 469.83,371.29 469.44,374.05 469.27,376.84 469.33,379.64 469.62,382.44 470.14,385.20 470.87,387.93 471.82,390.60 472.97,393.20 474.31,395.70 475.84,398.11 477.55,400.40 479.41,402.57 481.41,404.60 483.55,406.50 485.79,408.24 488.13,409.82 490.55,411.25 493.04,412.52 495.56,413.63 498.12,414.59 500.69,415.38 503.25,416.03 505.80,416.53 508.31,416.90 510.77,417.14 513.17,417.27 515.50,417.28 517.75,417.21 519.91,417.05 521.97,416.83 523.93,416.55 525.79,416.23 527.54,415.89 529.18,415.54 530.71,415.20 532.13,414.87 533.46,414.58 534.68,414.33 535.82,414.13 536.88,414.00 537.87,413.95 538.79,413.98 539.66,414.10 540.50,414.32 541.31,414.64 542.10,415.07 542.89,415.60 543.70,416.23 544.53,416.97 545.40,417.80 546.32,418.72 547.30,419.73 548.36,420.82 549.49,421.98 550.73,423.19 552.06,424.45 553.50,425.74 555.05,427.04 556.71,428.36 558.50,429.66 560.40,430.93 562.43,432.16 564.57,433.34 566.82,434.44 569.17,435.45 571.63,436.36 574.18,437.15 576.80,437.82 579.50,438.34 582.25,438.70 585.04,438.91 587.86,438.94 590.70,438.80 593.52,438.47 596.33,437.95 599.10,437.24 601.81,436.34 604.45,435.25 606.99,433.97 609.43,432.51 611.75,430.87 613.92,429.07 615.95,427.10 617.80,424.98 619.47,422.73 620.95,420.36 622.23,417.87 623.29,415.29 624.14,412.63 624.77,409.91 625.16,407.15 625.33,404.36 625.27,401.56 624.98,398.76 624.46,396.00 623.73,393.27 622.78,390.60" fill="none" stroke="#f01010" stroke-width="1.8" stroke-linejoin="round"/>
<text x="655.20" y="396.00" text-anchor="middle" font-size="16.3" font-weight="normal" >0</text>
<text x="646.10" y="336.30" text-anchor="middle" font-size="16.3" font-weight="normal" >30</text>
<text x="608.10" y="298.10" text-anchor="middle" font-size="16.3" font-weight="normal" >60</text>
<text x="547.10" y="284.40" text-anchor="middle" font-size="16.3" font-weight="normal" >90</text>
<text x="482.30" y="298.10" text-anchor="middle" font-size="16.3" font-weight="normal" >120</text>
<text x="445.00" y="335.90" text-anchor="middle" font-size="16.3" font-weight="normal" >150</text>
<text x="431.30" y="396.30" text-anchor="middle" font-size="16.3" font-weight="normal" >180</text>
<text x="444.50" y="457.60" text-anchor="middle" font-size="16.3" font-weight="normal" >210</text>
<text x="482.40" y="494.50" text-anchor="middle" font-size="16.3" font-weight="normal" >240</text>
<text x="547.60" y="509.00" text-anchor="middle" font-size="16.3" font-weight="normal" >270</text>
<text x="612.60" y="494.50" text-anchor="middle" font-size="16.3" font-weight="normal" >300</text>
<text x="650.10" y="457.10" text-anchor="middle" font-size="16.3" font-weight="normal" >330</text>
<line x1="404.30" y1="292.40" x2="404.30" y2="489.50" stroke="#222" stroke-width="1.2" />
<line x1="401.00" y1="472.00" x2="404.30" y2="472.00" stroke="#222" stroke-width="1.1" />
<text x="397.80" y="477.80" text-anchor="end" font-size="16.3" font-weight="normal" >1.0</text>
<line x1="402.70" y1="451.65" x2="404.30" y2="451.65" stroke="#222" stroke-width="1.1" />
<line x1="401.00" y1="431.30" x2="404.30" y2="431.30" stroke="#222" stroke-width="1.1" />
<text x="397.80" y="437.10" text-anchor="end" font-size="16.3" font-weight="normal" >0.5</text>
<line x1="402.70" y1="410.95" x2="404.30" y2="410.95" stroke="#222" stroke-width="1.1" />
<line x1="401.00" y1="390.60" x2="404.30" y2="390.60" stroke="#222" stroke-width="1.1" />
<text x="397.80" y="396.40" text-anchor="end" font-size="16.3" font-weight="normal" >0.0</text>
<line x1="402.70" y1="370.25" x2="404.30" y2="370.25" stroke="#222" stroke-width="1.1" />
<line x1="401.00" y1="349.90" x2="404.30" y2="349.90" stroke="#222" stroke-width="1.1" />
<text x="397.80" y="355.70" text-anchor="end" font-size="16.3" font-weight="normal" >0.5</text>
<line x1="402.70" y1="329.55" x2="404.30" y2="329.55" stroke="#222" stroke-width="1.1" />
<line x1="401.00" y1="309.20" x2="404.30" y2="309.20" stroke="#222" stroke-width="1.1" />
<text x="397.80" y="315.00" text-anchor="end" font-size="16.3" font-weight="normal" >1.0</text>
<text transform="translate(364.9,390.4) rotate(-90)" text-anchor="middle" font-size="16.3">Normalized intensity</text>
<text x="354.30" y="285.80" text-anchor="start" font-size="22" font-weight="bold" >d</text>
</svg>
</body></html>
